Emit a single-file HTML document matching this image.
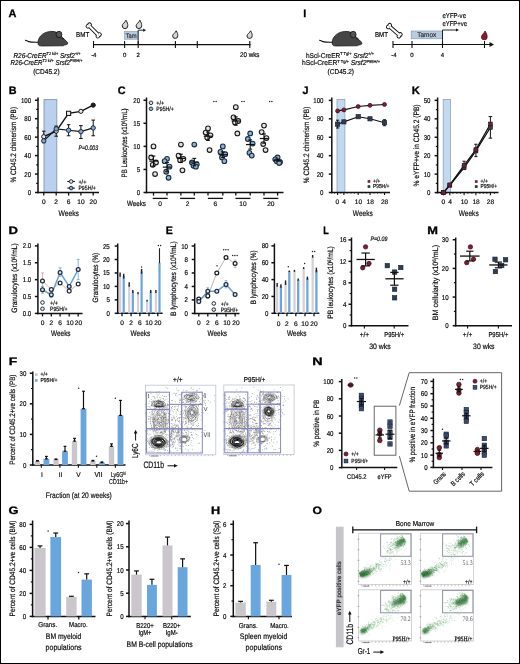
<!DOCTYPE html>
<html><head><meta charset="utf-8"><style>
html,body{margin:0;padding:0;background:#fff;}
svg{display:block;will-change:transform;font-family:"Liberation Sans", sans-serif;text-rendering:geometricPrecision;}
</style></head><body>
<svg width="520" height="664" viewBox="0 0 520 664">
<rect x="0" y="0" width="520" height="664" fill="#fff"/>
<text x="8.50" y="17.00" font-size="10.8" stroke="#000" stroke-width="0.3" fill="#000" font-weight="bold" textLength="7.90" lengthAdjust="spacingAndGlyphs">A</text>
<g transform="translate(24.60 30.60) scale(1.0)"><path d="M0.4,9.6 C1.5,9.4 2.5,10.6 4,11.0 C7,11.8 10,11.6 14.5,11.6" fill="none" stroke="#111" stroke-width="1.1"/><path d="M13.5,13.5 C12.5,8 17,1.5 26,0.8 C31,0.5 34.5,2.5 36.5,5.5 C38.5,7.5 42,10.5 43.2,12.5 C43.5,13.6 42,14.3 40,14.4 L38.5,15.2 L17,15.4 C15,15.4 13.6,14.8 13.5,13.5 Z" fill="#454545" stroke="#111" stroke-width="0.7"/><ellipse cx="34.4" cy="3.9" rx="2.9" ry="3.2" fill="#555" stroke="#111" stroke-width="0.8"/><circle cx="38.3" cy="8.2" r="0.8" fill="#111"/></g>
<text x="47.00" y="57.50" font-size="7.13" stroke="#1a1a1a" stroke-width="0.2" text-anchor="middle" textLength="67.00" lengthAdjust="spacingAndGlyphs"><tspan font-style="italic">R26-CreER</tspan><tspan font-size="4.3" dy="-2.6">T2 ki/+</tspan><tspan dy="2.6"> </tspan><tspan font-style="italic">Srsf2</tspan><tspan font-size="4.3" dy="-2.6">+/+</tspan></text>
<text x="46.50" y="65.00" font-size="7.13" stroke="#1a1a1a" stroke-width="0.2" text-anchor="middle" textLength="72.00" lengthAdjust="spacingAndGlyphs"><tspan font-style="italic">R26-CreER</tspan><tspan font-size="4.3" dy="-2.6">T2 ki/+</tspan><tspan dy="2.6"> </tspan><tspan font-style="italic">Srsf2</tspan><tspan font-size="4.3" dy="-2.6">P95H/+</tspan></text>
<text x="46.40" y="73.60" font-size="7.13" stroke="#1a1a1a" stroke-width="0.2" text-anchor="middle" textLength="26.50" lengthAdjust="spacingAndGlyphs">(CD45.2)</text>
<text x="76.00" y="37.00" font-size="7.13" stroke="#1a1a1a" stroke-width="0.2" textLength="13.20" lengthAdjust="spacingAndGlyphs">BMT</text>
<g transform="translate(93.70 30.40) rotate(45) scale(0.87)"><g fill="#111" stroke="#111" stroke-width="2.1"><rect x="-7" y="-1.25" width="14" height="2.5"/><circle cx="8.1" cy="-1.35" r="1.55"/><circle cx="8.1" cy="1.35" r="1.55"/><circle cx="-8.1" cy="-1.35" r="1.55"/><circle cx="-8.1" cy="1.35" r="1.55"/></g><g fill="#fff"><rect x="-7" y="-1.25" width="14" height="2.5"/><circle cx="8.1" cy="-1.35" r="1.55"/><circle cx="8.1" cy="1.35" r="1.55"/><circle cx="-8.1" cy="-1.35" r="1.55"/><circle cx="-8.1" cy="1.35" r="1.55"/></g></g>
<line x1="93.50" y1="44.60" x2="250.50" y2="44.60" stroke="#111" stroke-width="1.1"/>
<line x1="93.50" y1="41.00" x2="93.50" y2="48.00" stroke="#111" stroke-width="1.1"/>
<line x1="124.60" y1="41.00" x2="124.60" y2="48.00" stroke="#111" stroke-width="1.1"/>
<line x1="138.20" y1="41.00" x2="138.20" y2="48.00" stroke="#111" stroke-width="1.1"/>
<line x1="175.40" y1="41.00" x2="175.40" y2="48.00" stroke="#111" stroke-width="1.1"/>
<line x1="197.30" y1="41.00" x2="197.30" y2="48.00" stroke="#111" stroke-width="1.1"/>
<line x1="249.80" y1="41.00" x2="249.80" y2="48.00" stroke="#111" stroke-width="1.1"/>
<text x="93.80" y="56.80" font-size="6" stroke="#1a1a1a" stroke-width="0.2" text-anchor="middle">-4</text>
<text x="124.60" y="56.80" font-size="6" stroke="#1a1a1a" stroke-width="0.2" text-anchor="middle">0</text>
<text x="138.20" y="56.80" font-size="6" stroke="#1a1a1a" stroke-width="0.2" text-anchor="middle">2</text>
<text x="240.00" y="57.20" font-size="6.9" stroke="#1a1a1a" stroke-width="0.2" textLength="19.50" lengthAdjust="spacingAndGlyphs">20 wks</text>
<rect x="124.60" y="31.60" width="13.20" height="7.60" fill="#b9cbe0" stroke="#7b93b0" stroke-width="0.6"/>
<text x="131.20" y="37.60" font-size="6.44" stroke="#333" stroke-width="0.2" text-anchor="middle" fill="#333" textLength="11.00" lengthAdjust="spacingAndGlyphs">Tam</text>
<path d="M138.2,44.6 L138.2,30.2 L143.5,30.2" fill="none" stroke="#111" stroke-width="0.9"/>
<path d="M143.2,28.6 L146,30.2 L143.2,31.8 Z" fill="#111"/>
<path d="M126.00,20.20 C127.40,22.72 127.80,23.73 127.80,25.80 A2.80,2.80 0 0 1 122.20,25.80 C122.20,23.98 124.88,22.72 126.00,20.20 Z" fill="#d6d6d6" stroke="#1a1a1a" stroke-width="0.95"/>
<path d="M139.90,20.20 C141.30,22.72 141.70,23.73 141.70,25.80 A2.80,2.80 0 0 1 136.10,25.80 C136.10,23.98 138.78,22.72 139.90,20.20 Z" fill="#d6d6d6" stroke="#1a1a1a" stroke-width="0.95"/>
<path d="M176.20,30.80 C177.50,33.08 177.80,33.99 177.80,35.80 A2.60,2.60 0 0 1 172.60,35.80 C172.60,34.22 175.16,33.08 176.20,30.80 Z" fill="#d6d6d6" stroke="#1a1a1a" stroke-width="0.95"/>
<path d="M250.60,30.80 C251.90,33.08 252.20,33.99 252.20,35.80 A2.60,2.60 0 0 1 247.00,35.80 C247.00,34.22 249.56,33.08 250.60,30.80 Z" fill="#d6d6d6" stroke="#1a1a1a" stroke-width="0.95"/>
<text x="303.20" y="17.20" font-size="10.8" stroke="#000" stroke-width="0.3" fill="#000" font-weight="bold">I</text>
<g transform="translate(318.80 30.60) scale(1.0)"><path d="M0.4,9.6 C1.5,9.4 2.5,10.6 4,11.0 C7,11.8 10,11.6 14.5,11.6" fill="none" stroke="#111" stroke-width="1.1"/><path d="M13.5,13.5 C12.5,8 17,1.5 26,0.8 C31,0.5 34.5,2.5 36.5,5.5 C38.5,7.5 42,10.5 43.2,12.5 C43.5,13.6 42,14.3 40,14.4 L38.5,15.2 L17,15.4 C15,15.4 13.6,14.8 13.5,13.5 Z" fill="#454545" stroke="#111" stroke-width="0.7"/><ellipse cx="34.4" cy="3.9" rx="2.9" ry="3.2" fill="#555" stroke="#111" stroke-width="0.8"/><circle cx="38.3" cy="8.2" r="0.8" fill="#111"/></g>
<text x="340.00" y="57.80" font-size="7.13" stroke="#1a1a1a" stroke-width="0.2" text-anchor="middle" textLength="68.00" lengthAdjust="spacingAndGlyphs">hScl-CreER<tspan font-size="4.3" dy="-2.6">T Tg/+</tspan><tspan dy="2.6"> </tspan><tspan font-style="italic">Srsf2</tspan><tspan font-size="4.3" dy="-2.6">+/+</tspan></text>
<text x="341.00" y="65.30" font-size="7.13" stroke="#1a1a1a" stroke-width="0.2" text-anchor="middle" textLength="78.00" lengthAdjust="spacingAndGlyphs">hScl-CreER<tspan font-size="4.3" dy="-2.6">T Tg/+</tspan><tspan dy="2.6"> </tspan><tspan font-style="italic">Srsf2</tspan><tspan font-size="4.3" dy="-2.6">P95H/+</tspan></text>
<text x="340.80" y="74.00" font-size="7.13" stroke="#1a1a1a" stroke-width="0.2" text-anchor="middle" textLength="26.50" lengthAdjust="spacingAndGlyphs">(CD45.2)</text>
<text x="375.00" y="37.00" font-size="7.13" stroke="#1a1a1a" stroke-width="0.2" textLength="13.00" lengthAdjust="spacingAndGlyphs">BMT</text>
<g transform="translate(394.30 30.70) rotate(41) scale(0.87)"><g fill="#111" stroke="#111" stroke-width="2.1"><rect x="-7" y="-1.25" width="14" height="2.5"/><circle cx="8.1" cy="-1.35" r="1.55"/><circle cx="8.1" cy="1.35" r="1.55"/><circle cx="-8.1" cy="-1.35" r="1.55"/><circle cx="-8.1" cy="1.35" r="1.55"/></g><g fill="#fff"><rect x="-7" y="-1.25" width="14" height="2.5"/><circle cx="8.1" cy="-1.35" r="1.55"/><circle cx="8.1" cy="1.35" r="1.55"/><circle cx="-8.1" cy="-1.35" r="1.55"/><circle cx="-8.1" cy="1.35" r="1.55"/></g></g>
<line x1="393.00" y1="44.50" x2="491.00" y2="44.50" stroke="#111" stroke-width="1.1"/>
<path d="M489.5,42 L494,44.5 L489.5,47 Z" fill="#111"/>
<line x1="393.00" y1="41.00" x2="393.00" y2="48.00" stroke="#111" stroke-width="1.1"/>
<line x1="412.00" y1="41.00" x2="412.00" y2="48.00" stroke="#111" stroke-width="1.1"/>
<line x1="442.50" y1="41.00" x2="442.50" y2="48.00" stroke="#111" stroke-width="1.1"/>
<line x1="484.50" y1="41.00" x2="484.50" y2="48.00" stroke="#111" stroke-width="1.1"/>
<text x="394.00" y="56.80" font-size="6" stroke="#1a1a1a" stroke-width="0.2" text-anchor="middle">-4</text>
<text x="412.00" y="56.80" font-size="6" stroke="#1a1a1a" stroke-width="0.2" text-anchor="middle">0</text>
<text x="442.50" y="56.80" font-size="6" stroke="#1a1a1a" stroke-width="0.2" text-anchor="middle">4</text>
<rect x="411.20" y="31.00" width="31.30" height="7.80" fill="#b9cbe0" stroke="#7b93b0" stroke-width="0.6"/>
<text x="426.80" y="37.20" font-size="6.9" stroke="#333" stroke-width="0.2" text-anchor="middle" fill="#333" textLength="19.00" lengthAdjust="spacingAndGlyphs">Tamox</text>
<path d="M442.5,44.5 L442.5,30 L456.5,30" fill="none" stroke="#111" stroke-width="0.9"/>
<path d="M456,28.4 L459,30 L456,31.6 Z" fill="#111"/>
<text x="442.50" y="18.20" font-size="7.13" stroke="#1a1a1a" stroke-width="0.2" textLength="23.50" lengthAdjust="spacingAndGlyphs">eYFP-ve</text>
<text x="442.50" y="25.80" font-size="7.13" stroke="#1a1a1a" stroke-width="0.2" textLength="24.50" lengthAdjust="spacingAndGlyphs">eYFP+ve</text>
<path d="M485.10,31.00 C486.55,33.64 487.20,34.70 487.20,36.90 A2.90,2.90 0 0 1 481.40,36.90 C481.40,34.96 483.94,33.64 485.10,31.00 Z" fill="#8b1a2b" stroke="#3a0810" stroke-width="0.7"/>
<text x="8.80" y="94.00" font-size="10.8" stroke="#000" stroke-width="0.3" fill="#000" font-weight="bold" textLength="7.80" lengthAdjust="spacingAndGlyphs">B</text>
<rect x="44.00" y="99.60" width="12.80" height="92.90" fill="#bad0ee" stroke="#8496ad" stroke-width="0.9"/>
<line x1="38.00" y1="97.50" x2="38.00" y2="193.25" stroke="#111" stroke-width="1.5"/>
<line x1="35.00" y1="192.50" x2="38.00" y2="192.50" stroke="#111" stroke-width="1.5"/>
<text x="31.20" y="195.02" font-size="7.0" stroke="#1a1a1a" stroke-width="0.2" text-anchor="end" textLength="3.42" lengthAdjust="spacingAndGlyphs">0</text>
<line x1="35.00" y1="174.05" x2="38.00" y2="174.05" stroke="#111" stroke-width="1.5"/>
<text x="31.20" y="176.57" font-size="7.0" stroke="#1a1a1a" stroke-width="0.2" text-anchor="end" textLength="6.85" lengthAdjust="spacingAndGlyphs">20</text>
<line x1="35.00" y1="155.60" x2="38.00" y2="155.60" stroke="#111" stroke-width="1.5"/>
<text x="31.20" y="158.12" font-size="7.0" stroke="#1a1a1a" stroke-width="0.2" text-anchor="end" textLength="6.85" lengthAdjust="spacingAndGlyphs">40</text>
<line x1="35.00" y1="137.15" x2="38.00" y2="137.15" stroke="#111" stroke-width="1.5"/>
<text x="31.20" y="139.67" font-size="7.0" stroke="#1a1a1a" stroke-width="0.2" text-anchor="end" textLength="6.85" lengthAdjust="spacingAndGlyphs">60</text>
<line x1="35.00" y1="118.70" x2="38.00" y2="118.70" stroke="#111" stroke-width="1.5"/>
<text x="31.20" y="121.22" font-size="7.0" stroke="#1a1a1a" stroke-width="0.2" text-anchor="end" textLength="6.85" lengthAdjust="spacingAndGlyphs">80</text>
<line x1="35.00" y1="100.25" x2="38.00" y2="100.25" stroke="#111" stroke-width="1.5"/>
<text x="31.20" y="102.77" font-size="7.0" stroke="#1a1a1a" stroke-width="0.2" text-anchor="end" textLength="10.27" lengthAdjust="spacingAndGlyphs">100</text>
<line x1="36.20" y1="183.28" x2="38.00" y2="183.28" stroke="#111" stroke-width="1.2000000000000002"/>
<line x1="36.20" y1="164.82" x2="38.00" y2="164.82" stroke="#111" stroke-width="1.2000000000000002"/>
<line x1="36.20" y1="146.38" x2="38.00" y2="146.38" stroke="#111" stroke-width="1.2000000000000002"/>
<line x1="36.20" y1="127.92" x2="38.00" y2="127.92" stroke="#111" stroke-width="1.2000000000000002"/>
<line x1="36.20" y1="109.47" x2="38.00" y2="109.47" stroke="#111" stroke-width="1.2000000000000002"/>
<line x1="37.25" y1="192.50" x2="99.00" y2="192.50" stroke="#111" stroke-width="1.5"/>
<line x1="43.75" y1="192.50" x2="43.75" y2="195.60" stroke="#111" stroke-width="1.3"/>
<text x="43.75" y="204.20" font-size="6.6" stroke="#1a1a1a" stroke-width="0.2" text-anchor="middle">0</text>
<line x1="56.20" y1="192.50" x2="56.20" y2="195.60" stroke="#111" stroke-width="1.3"/>
<text x="56.20" y="204.20" font-size="6.6" stroke="#1a1a1a" stroke-width="0.2" text-anchor="middle">2</text>
<line x1="68.60" y1="192.50" x2="68.60" y2="195.60" stroke="#111" stroke-width="1.3"/>
<text x="68.60" y="204.20" font-size="6.6" stroke="#1a1a1a" stroke-width="0.2" text-anchor="middle">6</text>
<line x1="80.90" y1="192.50" x2="80.90" y2="195.60" stroke="#111" stroke-width="1.3"/>
<text x="80.90" y="204.20" font-size="6.6" stroke="#1a1a1a" stroke-width="0.2" text-anchor="middle">10</text>
<line x1="93.20" y1="192.50" x2="93.20" y2="195.60" stroke="#111" stroke-width="1.3"/>
<text x="93.20" y="204.20" font-size="6.6" stroke="#1a1a1a" stroke-width="0.2" text-anchor="middle">20</text>
<text x="68.70" y="216.00" font-size="8.05" stroke="#1a1a1a" stroke-width="0.2" text-anchor="middle" textLength="20.50" lengthAdjust="spacingAndGlyphs">Weeks</text>
<text x="16.20" y="144.75" font-size="7.82" stroke="#1a1a1a" stroke-width="0.2" text-anchor="middle" textLength="75.70" lengthAdjust="spacingAndGlyphs" transform="rotate(-90 16.20 144.75)">% CD45.2 chimerism (PB)</text>
<line x1="43.75" y1="131.15" x2="43.75" y2="142.69" stroke="#111" stroke-width="1"/>
<line x1="41.95" y1="131.15" x2="45.55" y2="131.15" stroke="#111" stroke-width="1"/>
<line x1="41.95" y1="142.69" x2="45.55" y2="142.69" stroke="#111" stroke-width="1"/>
<line x1="56.20" y1="126.08" x2="56.20" y2="136.23" stroke="#111" stroke-width="1"/>
<line x1="54.40" y1="126.08" x2="58.00" y2="126.08" stroke="#111" stroke-width="1"/>
<line x1="54.40" y1="136.23" x2="58.00" y2="136.23" stroke="#111" stroke-width="1"/>
<line x1="68.60" y1="124.70" x2="68.60" y2="135.77" stroke="#111" stroke-width="1"/>
<line x1="66.80" y1="124.70" x2="70.40" y2="124.70" stroke="#111" stroke-width="1"/>
<line x1="66.80" y1="135.77" x2="70.40" y2="135.77" stroke="#111" stroke-width="1"/>
<line x1="80.90" y1="125.62" x2="80.90" y2="138.53" stroke="#111" stroke-width="1"/>
<line x1="79.10" y1="125.62" x2="82.70" y2="125.62" stroke="#111" stroke-width="1"/>
<line x1="79.10" y1="138.53" x2="82.70" y2="138.53" stroke="#111" stroke-width="1"/>
<line x1="93.20" y1="120.08" x2="93.20" y2="135.77" stroke="#111" stroke-width="1"/>
<line x1="91.40" y1="120.08" x2="95.00" y2="120.08" stroke="#111" stroke-width="1"/>
<line x1="91.40" y1="135.77" x2="95.00" y2="135.77" stroke="#111" stroke-width="1"/>
<polyline points="43.75,140.84 56.20,128.85 68.60,130.23 80.90,131.62 93.20,127.92" fill="none" stroke="#111" stroke-width="1.2"/>
<polyline points="43.75,136.69 56.20,131.15 68.60,113.35 80.90,111.32 93.20,105.14" fill="none" stroke="#111" stroke-width="1.4"/>
<circle cx="43.75" cy="136.69" r="2.10" fill="#e8e8e8" stroke="#111" stroke-width="1.0"/>
<circle cx="56.20" cy="131.15" r="2.10" fill="#e8e8e8" stroke="#111" stroke-width="1.0"/>
<rect x="66.50" y="111.25" width="4.20" height="4.20" fill="#e8e8e8" stroke="#111" stroke-width="1.0"/>
<circle cx="80.90" cy="111.32" r="2.10" fill="#e8e8e8" stroke="#111" stroke-width="1.0"/>
<circle cx="93.20" cy="105.14" r="2.10" fill="#222" stroke="#111" stroke-width="1.0"/>
<circle cx="43.75" cy="140.84" r="2.20" fill="#7ea8d2" stroke="#1d2c3e" stroke-width="1.0"/>
<circle cx="56.20" cy="128.85" r="2.20" fill="#7ea8d2" stroke="#1d2c3e" stroke-width="1.0"/>
<circle cx="68.60" cy="130.23" r="2.20" fill="#7ea8d2" stroke="#1d2c3e" stroke-width="1.0"/>
<circle cx="80.90" cy="131.62" r="2.20" fill="#7ea8d2" stroke="#1d2c3e" stroke-width="1.0"/>
<circle cx="93.20" cy="127.92" r="2.20" fill="#7ea8d2" stroke="#1d2c3e" stroke-width="1.0"/>
<text x="78.60" y="150.20" font-size="6.67" stroke="#1a1a1a" stroke-width="0.2" font-style="italic" textLength="19.50" lengthAdjust="spacingAndGlyphs">P=0.003</text>
<line x1="67.30" y1="181.50" x2="74.90" y2="181.50" stroke="#111" stroke-width="1.1"/>
<circle cx="71.10" cy="181.50" r="1.80" fill="#e8e8e8" stroke="#1d2c3e" stroke-width="1.0"/>
<line x1="67.30" y1="188.10" x2="74.90" y2="188.10" stroke="#111" stroke-width="1.1"/>
<circle cx="71.10" cy="188.10" r="1.80" fill="#7ea8d2" stroke="#1d2c3e" stroke-width="1.0"/>
<text x="78.40" y="183.50" font-size="6.09" stroke="#1a1a1a" stroke-width="0.2" textLength="8.00" lengthAdjust="spacingAndGlyphs">+/+</text>
<text x="78.40" y="190.10" font-size="6.09" stroke="#1a1a1a" stroke-width="0.2" textLength="17.50" lengthAdjust="spacingAndGlyphs">P95H/+</text>
<text x="117.70" y="94.00" font-size="10.8" stroke="#000" stroke-width="0.3" fill="#000" font-weight="bold" textLength="7.80" lengthAdjust="spacingAndGlyphs">C</text>
<line x1="146.50" y1="97.50" x2="146.50" y2="193.25" stroke="#111" stroke-width="1.5"/>
<line x1="143.50" y1="192.50" x2="146.50" y2="192.50" stroke="#111" stroke-width="1.5"/>
<text x="140.10" y="195.02" font-size="7.0" stroke="#1a1a1a" stroke-width="0.2" text-anchor="end" textLength="3.42" lengthAdjust="spacingAndGlyphs">0</text>
<line x1="143.50" y1="169.44" x2="146.50" y2="169.44" stroke="#111" stroke-width="1.5"/>
<text x="140.10" y="171.96" font-size="7.0" stroke="#1a1a1a" stroke-width="0.2" text-anchor="end" textLength="3.42" lengthAdjust="spacingAndGlyphs">5</text>
<line x1="143.50" y1="146.38" x2="146.50" y2="146.38" stroke="#111" stroke-width="1.5"/>
<text x="140.10" y="148.90" font-size="7.0" stroke="#1a1a1a" stroke-width="0.2" text-anchor="end" textLength="6.85" lengthAdjust="spacingAndGlyphs">10</text>
<line x1="143.50" y1="123.31" x2="146.50" y2="123.31" stroke="#111" stroke-width="1.5"/>
<text x="140.10" y="125.83" font-size="7.0" stroke="#1a1a1a" stroke-width="0.2" text-anchor="end" textLength="6.85" lengthAdjust="spacingAndGlyphs">15</text>
<line x1="143.50" y1="100.25" x2="146.50" y2="100.25" stroke="#111" stroke-width="1.5"/>
<text x="140.10" y="102.77" font-size="7.0" stroke="#1a1a1a" stroke-width="0.2" text-anchor="end" textLength="6.85" lengthAdjust="spacingAndGlyphs">20</text>
<line x1="145.75" y1="192.50" x2="283.50" y2="192.50" stroke="#111" stroke-width="1.5"/>
<text x="127.30" y="142.90" font-size="7.82" stroke="#1a1a1a" stroke-width="0.2" text-anchor="middle" textLength="69.00" lengthAdjust="spacingAndGlyphs" transform="rotate(-90 127.30 142.90)">PB Leukocytes (x10<tspan font-size="5.0" dy="-2.4">6</tspan><tspan dy="2.4">/mL)</tspan></text>
<line x1="153.50" y1="192.50" x2="153.50" y2="195.60" stroke="#111" stroke-width="1.3"/>
<circle cx="153.50" cy="146.38" r="2.35" fill="#e4e4e4" stroke="#1a1a1a" stroke-width="1.1"/>
<circle cx="151.16" cy="157.44" r="2.35" fill="#e4e4e4" stroke="#1a1a1a" stroke-width="1.1"/>
<circle cx="155.97" cy="162.52" r="2.35" fill="#e4e4e4" stroke="#1a1a1a" stroke-width="1.1"/>
<circle cx="152.72" cy="164.82" r="2.35" fill="#e4e4e4" stroke="#1a1a1a" stroke-width="1.1"/>
<circle cx="155.06" cy="174.05" r="2.35" fill="#e4e4e4" stroke="#1a1a1a" stroke-width="1.1"/>
<line x1="149.30" y1="161.13" x2="157.70" y2="161.13" stroke="#111" stroke-width="1.2"/>
<line x1="153.50" y1="156.06" x2="153.50" y2="166.21" stroke="#111" stroke-width="1.1"/>
<line x1="151.60" y1="156.06" x2="155.40" y2="156.06" stroke="#111" stroke-width="1.1"/>
<line x1="151.60" y1="166.21" x2="155.40" y2="166.21" stroke="#111" stroke-width="1.1"/>
<line x1="167.00" y1="192.50" x2="167.00" y2="195.60" stroke="#111" stroke-width="1.3"/>
<circle cx="167.00" cy="158.83" r="2.35" fill="#8ab2d8" stroke="#1d2c3e" stroke-width="1.1"/>
<circle cx="164.66" cy="161.13" r="2.35" fill="#8ab2d8" stroke="#1d2c3e" stroke-width="1.1"/>
<circle cx="169.47" cy="166.67" r="2.35" fill="#8ab2d8" stroke="#1d2c3e" stroke-width="1.1"/>
<circle cx="166.22" cy="171.74" r="2.35" fill="#8ab2d8" stroke="#1d2c3e" stroke-width="1.1"/>
<circle cx="168.56" cy="177.74" r="2.35" fill="#8ab2d8" stroke="#1d2c3e" stroke-width="1.1"/>
<line x1="162.80" y1="167.13" x2="171.20" y2="167.13" stroke="#111" stroke-width="1.2"/>
<line x1="167.00" y1="162.52" x2="167.00" y2="171.74" stroke="#111" stroke-width="1.1"/>
<line x1="165.10" y1="162.52" x2="168.90" y2="162.52" stroke="#111" stroke-width="1.1"/>
<line x1="165.10" y1="171.74" x2="168.90" y2="171.74" stroke="#111" stroke-width="1.1"/>
<line x1="180.90" y1="192.50" x2="180.90" y2="195.60" stroke="#111" stroke-width="1.3"/>
<circle cx="180.90" cy="144.53" r="2.35" fill="#e4e4e4" stroke="#1a1a1a" stroke-width="1.1"/>
<circle cx="178.56" cy="155.60" r="2.35" fill="#e4e4e4" stroke="#1a1a1a" stroke-width="1.1"/>
<circle cx="183.37" cy="158.83" r="2.35" fill="#e4e4e4" stroke="#1a1a1a" stroke-width="1.1"/>
<circle cx="180.12" cy="160.21" r="2.35" fill="#e4e4e4" stroke="#1a1a1a" stroke-width="1.1"/>
<circle cx="182.46" cy="170.36" r="2.35" fill="#e4e4e4" stroke="#1a1a1a" stroke-width="1.1"/>
<line x1="176.70" y1="158.37" x2="185.10" y2="158.37" stroke="#111" stroke-width="1.2"/>
<line x1="180.90" y1="154.22" x2="180.90" y2="162.52" stroke="#111" stroke-width="1.1"/>
<line x1="179.00" y1="154.22" x2="182.80" y2="154.22" stroke="#111" stroke-width="1.1"/>
<line x1="179.00" y1="162.52" x2="182.80" y2="162.52" stroke="#111" stroke-width="1.1"/>
<line x1="194.30" y1="192.50" x2="194.30" y2="195.60" stroke="#111" stroke-width="1.3"/>
<circle cx="194.30" cy="144.53" r="2.35" fill="#8ab2d8" stroke="#1d2c3e" stroke-width="1.1"/>
<circle cx="191.96" cy="162.52" r="2.35" fill="#8ab2d8" stroke="#1d2c3e" stroke-width="1.1"/>
<circle cx="196.77" cy="164.36" r="2.35" fill="#8ab2d8" stroke="#1d2c3e" stroke-width="1.1"/>
<circle cx="193.52" cy="165.75" r="2.35" fill="#8ab2d8" stroke="#1d2c3e" stroke-width="1.1"/>
<circle cx="195.86" cy="166.67" r="2.35" fill="#8ab2d8" stroke="#1d2c3e" stroke-width="1.1"/>
<line x1="190.10" y1="162.06" x2="198.50" y2="162.06" stroke="#111" stroke-width="1.2"/>
<line x1="194.30" y1="158.37" x2="194.30" y2="165.75" stroke="#111" stroke-width="1.1"/>
<line x1="192.40" y1="158.37" x2="196.20" y2="158.37" stroke="#111" stroke-width="1.1"/>
<line x1="192.40" y1="165.75" x2="196.20" y2="165.75" stroke="#111" stroke-width="1.1"/>
<line x1="208.00" y1="192.50" x2="208.00" y2="195.60" stroke="#111" stroke-width="1.3"/>
<circle cx="208.00" cy="128.39" r="2.35" fill="#e4e4e4" stroke="#1a1a1a" stroke-width="1.1"/>
<circle cx="205.66" cy="132.54" r="2.35" fill="#e4e4e4" stroke="#1a1a1a" stroke-width="1.1"/>
<circle cx="210.47" cy="135.31" r="2.35" fill="#e4e4e4" stroke="#1a1a1a" stroke-width="1.1"/>
<circle cx="207.22" cy="137.61" r="2.35" fill="#e4e4e4" stroke="#1a1a1a" stroke-width="1.1"/>
<circle cx="209.56" cy="150.06" r="2.35" fill="#e4e4e4" stroke="#1a1a1a" stroke-width="1.1"/>
<line x1="203.80" y1="136.23" x2="212.20" y2="136.23" stroke="#111" stroke-width="1.2"/>
<line x1="208.00" y1="132.08" x2="208.00" y2="140.38" stroke="#111" stroke-width="1.1"/>
<line x1="206.10" y1="132.08" x2="209.90" y2="132.08" stroke="#111" stroke-width="1.1"/>
<line x1="206.10" y1="140.38" x2="209.90" y2="140.38" stroke="#111" stroke-width="1.1"/>
<line x1="222.80" y1="192.50" x2="222.80" y2="195.60" stroke="#111" stroke-width="1.3"/>
<circle cx="222.80" cy="146.38" r="2.35" fill="#8ab2d8" stroke="#1d2c3e" stroke-width="1.1"/>
<circle cx="220.46" cy="151.91" r="2.35" fill="#8ab2d8" stroke="#1d2c3e" stroke-width="1.1"/>
<circle cx="225.27" cy="154.22" r="2.35" fill="#8ab2d8" stroke="#1d2c3e" stroke-width="1.1"/>
<circle cx="222.02" cy="157.44" r="2.35" fill="#8ab2d8" stroke="#1d2c3e" stroke-width="1.1"/>
<circle cx="224.36" cy="161.13" r="2.35" fill="#8ab2d8" stroke="#1d2c3e" stroke-width="1.1"/>
<line x1="218.60" y1="154.68" x2="227.00" y2="154.68" stroke="#111" stroke-width="1.2"/>
<line x1="222.80" y1="151.91" x2="222.80" y2="157.44" stroke="#111" stroke-width="1.1"/>
<line x1="220.90" y1="151.91" x2="224.70" y2="151.91" stroke="#111" stroke-width="1.1"/>
<line x1="220.90" y1="157.44" x2="224.70" y2="157.44" stroke="#111" stroke-width="1.1"/>
<line x1="235.80" y1="192.50" x2="235.80" y2="195.60" stroke="#111" stroke-width="1.3"/>
<circle cx="235.80" cy="107.17" r="2.35" fill="#e4e4e4" stroke="#1a1a1a" stroke-width="1.1"/>
<circle cx="233.46" cy="117.32" r="2.35" fill="#e4e4e4" stroke="#1a1a1a" stroke-width="1.1"/>
<circle cx="238.27" cy="121.01" r="2.35" fill="#e4e4e4" stroke="#1a1a1a" stroke-width="1.1"/>
<circle cx="235.02" cy="122.39" r="2.35" fill="#e4e4e4" stroke="#1a1a1a" stroke-width="1.1"/>
<circle cx="237.36" cy="133.46" r="2.35" fill="#e4e4e4" stroke="#1a1a1a" stroke-width="1.1"/>
<line x1="231.60" y1="121.01" x2="240.00" y2="121.01" stroke="#111" stroke-width="1.2"/>
<line x1="235.80" y1="116.86" x2="235.80" y2="125.16" stroke="#111" stroke-width="1.1"/>
<line x1="233.90" y1="116.86" x2="237.70" y2="116.86" stroke="#111" stroke-width="1.1"/>
<line x1="233.90" y1="125.16" x2="237.70" y2="125.16" stroke="#111" stroke-width="1.1"/>
<line x1="250.20" y1="192.50" x2="250.20" y2="195.60" stroke="#111" stroke-width="1.3"/>
<circle cx="250.20" cy="133.46" r="2.35" fill="#8ab2d8" stroke="#1d2c3e" stroke-width="1.1"/>
<circle cx="247.86" cy="139.00" r="2.35" fill="#8ab2d8" stroke="#1d2c3e" stroke-width="1.1"/>
<circle cx="252.67" cy="143.61" r="2.35" fill="#8ab2d8" stroke="#1d2c3e" stroke-width="1.1"/>
<circle cx="249.42" cy="152.83" r="2.35" fill="#8ab2d8" stroke="#1d2c3e" stroke-width="1.1"/>
<circle cx="251.76" cy="155.60" r="2.35" fill="#8ab2d8" stroke="#1d2c3e" stroke-width="1.1"/>
<line x1="246.00" y1="144.53" x2="254.40" y2="144.53" stroke="#111" stroke-width="1.2"/>
<line x1="250.20" y1="139.92" x2="250.20" y2="149.14" stroke="#111" stroke-width="1.1"/>
<line x1="248.30" y1="139.92" x2="252.10" y2="139.92" stroke="#111" stroke-width="1.1"/>
<line x1="248.30" y1="149.14" x2="252.10" y2="149.14" stroke="#111" stroke-width="1.1"/>
<line x1="264.00" y1="192.50" x2="264.00" y2="195.60" stroke="#111" stroke-width="1.3"/>
<circle cx="264.00" cy="125.62" r="2.35" fill="#e4e4e4" stroke="#1a1a1a" stroke-width="1.1"/>
<circle cx="261.66" cy="132.08" r="2.35" fill="#e4e4e4" stroke="#1a1a1a" stroke-width="1.1"/>
<circle cx="266.47" cy="138.07" r="2.35" fill="#e4e4e4" stroke="#1a1a1a" stroke-width="1.1"/>
<circle cx="263.22" cy="144.07" r="2.35" fill="#e4e4e4" stroke="#1a1a1a" stroke-width="1.1"/>
<circle cx="265.56" cy="150.06" r="2.35" fill="#e4e4e4" stroke="#1a1a1a" stroke-width="1.1"/>
<line x1="259.80" y1="138.53" x2="268.20" y2="138.53" stroke="#111" stroke-width="1.2"/>
<line x1="264.00" y1="133.92" x2="264.00" y2="143.15" stroke="#111" stroke-width="1.1"/>
<line x1="262.10" y1="133.92" x2="265.90" y2="133.92" stroke="#111" stroke-width="1.1"/>
<line x1="262.10" y1="143.15" x2="265.90" y2="143.15" stroke="#111" stroke-width="1.1"/>
<line x1="277.60" y1="192.50" x2="277.60" y2="195.60" stroke="#111" stroke-width="1.3"/>
<circle cx="277.60" cy="157.44" r="2.35" fill="#8ab2d8" stroke="#1d2c3e" stroke-width="1.1"/>
<circle cx="275.26" cy="159.29" r="2.35" fill="#8ab2d8" stroke="#1d2c3e" stroke-width="1.1"/>
<circle cx="280.07" cy="162.06" r="2.35" fill="#8ab2d8" stroke="#1d2c3e" stroke-width="1.1"/>
<circle cx="276.82" cy="161.13" r="2.35" fill="#8ab2d8" stroke="#1d2c3e" stroke-width="1.1"/>
<circle cx="279.16" cy="162.98" r="2.35" fill="#8ab2d8" stroke="#1d2c3e" stroke-width="1.1"/>
<line x1="273.40" y1="160.21" x2="281.80" y2="160.21" stroke="#111" stroke-width="1.2"/>
<line x1="277.60" y1="159.29" x2="277.60" y2="161.13" stroke="#111" stroke-width="1.1"/>
<line x1="275.70" y1="159.29" x2="279.50" y2="159.29" stroke="#111" stroke-width="1.1"/>
<line x1="275.70" y1="161.13" x2="279.50" y2="161.13" stroke="#111" stroke-width="1.1"/>
<line x1="152.70" y1="198.40" x2="167.70" y2="198.40" stroke="#111" stroke-width="1.3"/>
<text x="160.20" y="206.00" font-size="6.6" stroke="#1a1a1a" stroke-width="0.2" text-anchor="middle">0</text>
<line x1="180.10" y1="198.40" x2="195.10" y2="198.40" stroke="#111" stroke-width="1.3"/>
<text x="187.60" y="206.00" font-size="6.6" stroke="#1a1a1a" stroke-width="0.2" text-anchor="middle">2</text>
<line x1="207.90" y1="198.40" x2="222.90" y2="198.40" stroke="#111" stroke-width="1.3"/>
<text x="215.40" y="206.00" font-size="6.6" stroke="#1a1a1a" stroke-width="0.2" text-anchor="middle">6</text>
<line x1="235.50" y1="198.40" x2="250.50" y2="198.40" stroke="#111" stroke-width="1.3"/>
<text x="243.00" y="206.00" font-size="6.6" stroke="#1a1a1a" stroke-width="0.2" text-anchor="middle">10</text>
<line x1="263.30" y1="198.40" x2="278.30" y2="198.40" stroke="#111" stroke-width="1.3"/>
<text x="270.80" y="206.00" font-size="6.6" stroke="#1a1a1a" stroke-width="0.2" text-anchor="middle">20</text>
<text x="127.00" y="206.00" font-size="7.47" stroke="#1a1a1a" stroke-width="0.2" textLength="19.00" lengthAdjust="spacingAndGlyphs">Weeks</text>
<circle cx="213.90" cy="101.60" r="0.75" fill="#222"/>
<circle cx="216.10" cy="101.60" r="0.75" fill="#222"/>
<circle cx="241.90" cy="101.60" r="0.75" fill="#222"/>
<circle cx="244.10" cy="101.60" r="0.75" fill="#222"/>
<circle cx="269.70" cy="101.60" r="0.75" fill="#222"/>
<circle cx="271.90" cy="101.60" r="0.75" fill="#222"/>
<circle cx="151.00" cy="102.80" r="1.80" fill="#e4e4e4" stroke="#1a1a1a" stroke-width="0.9"/>
<circle cx="151.00" cy="108.80" r="1.80" fill="#8ab2d8" stroke="#1d2c3e" stroke-width="0.9"/>
<text x="156.30" y="104.80" font-size="6.09" stroke="#1a1a1a" stroke-width="0.2" textLength="8.00" lengthAdjust="spacingAndGlyphs">+/+</text>
<text x="156.30" y="110.80" font-size="6.09" stroke="#1a1a1a" stroke-width="0.2" textLength="17.50" lengthAdjust="spacingAndGlyphs">P95H/+</text>
<text x="302.60" y="94.40" font-size="10.8" stroke="#000" stroke-width="0.3" fill="#000" font-weight="bold">J</text>
<rect x="337.00" y="99.40" width="7.90" height="93.10" fill="#c3d9f0" stroke="#8fa3b8" stroke-width="0.8"/>
<line x1="331.80" y1="97.50" x2="331.80" y2="193.25" stroke="#111" stroke-width="1.5"/>
<line x1="328.80" y1="192.50" x2="331.80" y2="192.50" stroke="#111" stroke-width="1.5"/>
<text x="323.50" y="195.02" font-size="7.0" stroke="#1a1a1a" stroke-width="0.2" text-anchor="end" textLength="3.42" lengthAdjust="spacingAndGlyphs">0</text>
<line x1="328.80" y1="174.08" x2="331.80" y2="174.08" stroke="#111" stroke-width="1.5"/>
<text x="323.50" y="176.60" font-size="7.0" stroke="#1a1a1a" stroke-width="0.2" text-anchor="end" textLength="6.85" lengthAdjust="spacingAndGlyphs">20</text>
<line x1="328.80" y1="155.66" x2="331.80" y2="155.66" stroke="#111" stroke-width="1.5"/>
<text x="323.50" y="158.18" font-size="7.0" stroke="#1a1a1a" stroke-width="0.2" text-anchor="end" textLength="6.85" lengthAdjust="spacingAndGlyphs">40</text>
<line x1="328.80" y1="137.24" x2="331.80" y2="137.24" stroke="#111" stroke-width="1.5"/>
<text x="323.50" y="139.76" font-size="7.0" stroke="#1a1a1a" stroke-width="0.2" text-anchor="end" textLength="6.85" lengthAdjust="spacingAndGlyphs">60</text>
<line x1="328.80" y1="118.82" x2="331.80" y2="118.82" stroke="#111" stroke-width="1.5"/>
<text x="323.50" y="121.34" font-size="7.0" stroke="#1a1a1a" stroke-width="0.2" text-anchor="end" textLength="6.85" lengthAdjust="spacingAndGlyphs">80</text>
<line x1="328.80" y1="100.40" x2="331.80" y2="100.40" stroke="#111" stroke-width="1.5"/>
<text x="323.50" y="102.92" font-size="7.0" stroke="#1a1a1a" stroke-width="0.2" text-anchor="end" textLength="10.27" lengthAdjust="spacingAndGlyphs">100</text>
<line x1="331.05" y1="192.50" x2="390.00" y2="192.50" stroke="#111" stroke-width="1.5"/>
<line x1="337.60" y1="192.50" x2="337.60" y2="195.00" stroke="#111" stroke-width="1.1"/>
<line x1="343.90" y1="192.50" x2="343.90" y2="195.00" stroke="#111" stroke-width="1.1"/>
<line x1="358.20" y1="192.50" x2="358.20" y2="195.00" stroke="#111" stroke-width="1.1"/>
<line x1="370.00" y1="192.50" x2="370.00" y2="195.00" stroke="#111" stroke-width="1.1"/>
<line x1="384.50" y1="192.50" x2="384.50" y2="195.00" stroke="#111" stroke-width="1.1"/>
<line x1="334.50" y1="192.50" x2="334.50" y2="193.60" stroke="#111" stroke-width="0.8"/>
<line x1="340.80" y1="192.50" x2="340.80" y2="193.60" stroke="#111" stroke-width="0.8"/>
<line x1="347.00" y1="192.50" x2="347.00" y2="193.60" stroke="#111" stroke-width="0.8"/>
<line x1="351.00" y1="192.50" x2="351.00" y2="193.60" stroke="#111" stroke-width="0.8"/>
<line x1="354.50" y1="192.50" x2="354.50" y2="193.60" stroke="#111" stroke-width="0.8"/>
<line x1="362.00" y1="192.50" x2="362.00" y2="193.60" stroke="#111" stroke-width="0.8"/>
<line x1="366.00" y1="192.50" x2="366.00" y2="193.60" stroke="#111" stroke-width="0.8"/>
<line x1="374.00" y1="192.50" x2="374.00" y2="193.60" stroke="#111" stroke-width="0.8"/>
<line x1="377.50" y1="192.50" x2="377.50" y2="193.60" stroke="#111" stroke-width="0.8"/>
<line x1="381.00" y1="192.50" x2="381.00" y2="193.60" stroke="#111" stroke-width="0.8"/>
<text x="337.40" y="204.40" font-size="6.6" stroke="#1a1a1a" stroke-width="0.2" text-anchor="middle">0</text>
<text x="344.20" y="204.40" font-size="6.6" stroke="#1a1a1a" stroke-width="0.2" text-anchor="middle">4</text>
<text x="358.40" y="204.40" font-size="6.6" stroke="#1a1a1a" stroke-width="0.2" text-anchor="middle">10</text>
<text x="370.20" y="204.40" font-size="6.6" stroke="#1a1a1a" stroke-width="0.2" text-anchor="middle">18</text>
<text x="384.60" y="204.40" font-size="6.6" stroke="#1a1a1a" stroke-width="0.2" text-anchor="middle">28</text>
<text x="362.80" y="215.70" font-size="8.05" stroke="#1a1a1a" stroke-width="0.2" text-anchor="middle" textLength="20.00" lengthAdjust="spacingAndGlyphs">Weeks</text>
<text x="309.50" y="144.90" font-size="7.82" stroke="#1a1a1a" stroke-width="0.2" text-anchor="middle" textLength="76.50" lengthAdjust="spacingAndGlyphs" transform="rotate(-90 309.50 144.90)">% CD45.2 chimerism (PB)</text>
<polyline points="337.60,110.90 343.90,109.89 358.20,106.57 370.00,105.37 384.50,104.45" fill="none" stroke="#111" stroke-width="1.1"/>
<polyline points="337.60,124.16 343.90,121.86 358.20,116.70 370.00,118.82 384.50,122.69" fill="none" stroke="#111" stroke-width="1.1"/>
<line x1="337.60" y1="120.20" x2="337.60" y2="128.03" stroke="#111" stroke-width="1"/>
<line x1="336.00" y1="120.20" x2="339.20" y2="120.20" stroke="#111" stroke-width="1"/>
<line x1="336.00" y1="128.03" x2="339.20" y2="128.03" stroke="#111" stroke-width="1"/>
<line x1="384.50" y1="119.74" x2="384.50" y2="125.73" stroke="#111" stroke-width="1"/>
<line x1="382.90" y1="119.74" x2="386.10" y2="119.74" stroke="#111" stroke-width="1"/>
<line x1="382.90" y1="125.73" x2="386.10" y2="125.73" stroke="#111" stroke-width="1"/>
<circle cx="337.60" cy="110.90" r="2.00" fill="#7d1f33" stroke="#3a0c15" stroke-width="0.7"/>
<circle cx="343.90" cy="109.89" r="2.00" fill="#7d1f33" stroke="#3a0c15" stroke-width="0.7"/>
<circle cx="358.20" cy="106.57" r="2.00" fill="#7d1f33" stroke="#3a0c15" stroke-width="0.7"/>
<circle cx="370.00" cy="105.37" r="2.00" fill="#7d1f33" stroke="#3a0c15" stroke-width="0.7"/>
<circle cx="384.50" cy="104.45" r="2.00" fill="#7d1f33" stroke="#3a0c15" stroke-width="0.7"/>
<rect x="335.50" y="122.06" width="4.20" height="4.20" fill="#2f3c52" stroke="#1a2230" stroke-width="0.7"/>
<rect x="341.80" y="119.76" width="4.20" height="4.20" fill="#2f3c52" stroke="#1a2230" stroke-width="0.7"/>
<rect x="356.10" y="114.60" width="4.20" height="4.20" fill="#2f3c52" stroke="#1a2230" stroke-width="0.7"/>
<rect x="367.90" y="116.72" width="4.20" height="4.20" fill="#2f3c52" stroke="#1a2230" stroke-width="0.7"/>
<rect x="382.40" y="120.59" width="4.20" height="4.20" fill="#2f3c52" stroke="#1a2230" stroke-width="0.7"/>
<rect x="367.60" y="180.10" width="2.70" height="2.70" fill="#7d1f33"/>
<rect x="367.60" y="185.20" width="2.70" height="2.70" fill="#2a3a40"/>
<text x="372.90" y="182.90" font-size="5.75" stroke="#1a1a1a" stroke-width="0.2" textLength="7.50" lengthAdjust="spacingAndGlyphs">+/+</text>
<text x="372.90" y="188.10" font-size="5.75" stroke="#1a1a1a" stroke-width="0.2" textLength="16.50" lengthAdjust="spacingAndGlyphs">P95H/+</text>
<text x="411.80" y="93.60" font-size="10.8" stroke="#000" stroke-width="0.3" fill="#000" font-weight="bold" textLength="8.10" lengthAdjust="spacingAndGlyphs">K</text>
<rect x="443.20" y="99.40" width="7.30" height="93.20" fill="#c3d9f0" stroke="#8fa3b8" stroke-width="0.8"/>
<line x1="437.60" y1="97.50" x2="437.60" y2="193.35" stroke="#111" stroke-width="1.5"/>
<line x1="434.60" y1="192.60" x2="437.60" y2="192.60" stroke="#111" stroke-width="1.5"/>
<text x="430.50" y="195.12" font-size="7.0" stroke="#1a1a1a" stroke-width="0.2" text-anchor="end" textLength="3.42" lengthAdjust="spacingAndGlyphs">0</text>
<line x1="434.60" y1="174.15" x2="437.60" y2="174.15" stroke="#111" stroke-width="1.5"/>
<text x="430.50" y="176.67" font-size="7.0" stroke="#1a1a1a" stroke-width="0.2" text-anchor="end" textLength="6.85" lengthAdjust="spacingAndGlyphs">10</text>
<line x1="434.60" y1="155.70" x2="437.60" y2="155.70" stroke="#111" stroke-width="1.5"/>
<text x="430.50" y="158.22" font-size="7.0" stroke="#1a1a1a" stroke-width="0.2" text-anchor="end" textLength="6.85" lengthAdjust="spacingAndGlyphs">20</text>
<line x1="434.60" y1="137.25" x2="437.60" y2="137.25" stroke="#111" stroke-width="1.5"/>
<text x="430.50" y="139.77" font-size="7.0" stroke="#1a1a1a" stroke-width="0.2" text-anchor="end" textLength="6.85" lengthAdjust="spacingAndGlyphs">30</text>
<line x1="434.60" y1="118.80" x2="437.60" y2="118.80" stroke="#111" stroke-width="1.5"/>
<text x="430.50" y="121.32" font-size="7.0" stroke="#1a1a1a" stroke-width="0.2" text-anchor="end" textLength="6.85" lengthAdjust="spacingAndGlyphs">40</text>
<line x1="434.60" y1="100.35" x2="437.60" y2="100.35" stroke="#111" stroke-width="1.5"/>
<text x="430.50" y="102.87" font-size="7.0" stroke="#1a1a1a" stroke-width="0.2" text-anchor="end" textLength="6.85" lengthAdjust="spacingAndGlyphs">50</text>
<line x1="435.80" y1="183.38" x2="437.60" y2="183.38" stroke="#111" stroke-width="1.2000000000000002"/>
<line x1="435.80" y1="164.92" x2="437.60" y2="164.92" stroke="#111" stroke-width="1.2000000000000002"/>
<line x1="435.80" y1="146.47" x2="437.60" y2="146.47" stroke="#111" stroke-width="1.2000000000000002"/>
<line x1="435.80" y1="128.02" x2="437.60" y2="128.02" stroke="#111" stroke-width="1.2000000000000002"/>
<line x1="435.80" y1="109.57" x2="437.60" y2="109.57" stroke="#111" stroke-width="1.2000000000000002"/>
<line x1="436.85" y1="192.60" x2="498.50" y2="192.60" stroke="#111" stroke-width="1.5"/>
<line x1="443.50" y1="192.60" x2="443.50" y2="195.30" stroke="#111" stroke-width="1.1"/>
<line x1="449.80" y1="192.60" x2="449.80" y2="195.30" stroke="#111" stroke-width="1.1"/>
<line x1="464.10" y1="192.60" x2="464.10" y2="195.30" stroke="#111" stroke-width="1.1"/>
<line x1="475.90" y1="192.60" x2="475.90" y2="195.30" stroke="#111" stroke-width="1.1"/>
<line x1="490.40" y1="192.60" x2="490.40" y2="195.30" stroke="#111" stroke-width="1.1"/>
<line x1="440.40" y1="192.60" x2="440.40" y2="193.90" stroke="#111" stroke-width="0.8"/>
<line x1="446.70" y1="192.60" x2="446.70" y2="193.90" stroke="#111" stroke-width="0.8"/>
<line x1="452.90" y1="192.60" x2="452.90" y2="193.90" stroke="#111" stroke-width="0.8"/>
<line x1="456.90" y1="192.60" x2="456.90" y2="193.90" stroke="#111" stroke-width="0.8"/>
<line x1="460.40" y1="192.60" x2="460.40" y2="193.90" stroke="#111" stroke-width="0.8"/>
<line x1="467.90" y1="192.60" x2="467.90" y2="193.90" stroke="#111" stroke-width="0.8"/>
<line x1="471.90" y1="192.60" x2="471.90" y2="193.90" stroke="#111" stroke-width="0.8"/>
<line x1="479.90" y1="192.60" x2="479.90" y2="193.90" stroke="#111" stroke-width="0.8"/>
<line x1="483.40" y1="192.60" x2="483.40" y2="193.90" stroke="#111" stroke-width="0.8"/>
<line x1="486.90" y1="192.60" x2="486.90" y2="193.90" stroke="#111" stroke-width="0.8"/>
<line x1="494.50" y1="192.60" x2="494.50" y2="193.90" stroke="#111" stroke-width="0.8"/>
<text x="443.30" y="204.40" font-size="6.6" stroke="#1a1a1a" stroke-width="0.2" text-anchor="middle">0</text>
<text x="450.10" y="204.40" font-size="6.6" stroke="#1a1a1a" stroke-width="0.2" text-anchor="middle">4</text>
<text x="464.30" y="204.40" font-size="6.6" stroke="#1a1a1a" stroke-width="0.2" text-anchor="middle">10</text>
<text x="476.10" y="204.40" font-size="6.6" stroke="#1a1a1a" stroke-width="0.2" text-anchor="middle">18</text>
<text x="490.50" y="204.40" font-size="6.6" stroke="#1a1a1a" stroke-width="0.2" text-anchor="middle">28</text>
<text x="468.70" y="215.70" font-size="8.05" stroke="#1a1a1a" stroke-width="0.2" text-anchor="middle" textLength="20.00" lengthAdjust="spacingAndGlyphs">Weeks</text>
<text x="419.20" y="145.40" font-size="7.82" stroke="#1a1a1a" stroke-width="0.2" text-anchor="middle" textLength="82.00" lengthAdjust="spacingAndGlyphs" transform="rotate(-90 419.20 145.40)">% eYFP+ve in CD45.2 (PB)</text>
<line x1="464.10" y1="161.23" x2="464.10" y2="169.54" stroke="#111" stroke-width="1"/>
<line x1="462.50" y1="161.23" x2="465.70" y2="161.23" stroke="#111" stroke-width="1"/>
<line x1="462.50" y1="169.54" x2="465.70" y2="169.54" stroke="#111" stroke-width="1"/>
<line x1="475.90" y1="144.26" x2="475.90" y2="156.62" stroke="#111" stroke-width="1"/>
<line x1="474.30" y1="144.26" x2="477.50" y2="144.26" stroke="#111" stroke-width="1"/>
<line x1="474.30" y1="156.62" x2="477.50" y2="156.62" stroke="#111" stroke-width="1"/>
<line x1="490.40" y1="116.59" x2="490.40" y2="138.17" stroke="#111" stroke-width="1"/>
<line x1="488.60" y1="116.59" x2="492.20" y2="116.59" stroke="#111" stroke-width="1"/>
<line x1="488.60" y1="138.17" x2="492.20" y2="138.17" stroke="#111" stroke-width="1"/>
<polyline points="443.50,192.60 449.80,185.22 464.10,167.51 475.90,150.90 490.40,127.47" fill="none" stroke="#111" stroke-width="1.3"/>
<polyline points="443.50,192.60 449.80,184.85 464.10,165.29 475.90,149.61 490.40,123.97" fill="none" stroke="#111" stroke-width="1.3"/>
<rect x="441.50" y="190.60" width="4.00" height="4.00" fill="#3a3f4c" stroke="#1a1a1a" stroke-width="0.6"/>
<rect x="447.80" y="183.22" width="4.00" height="4.00" fill="#3a3f4c" stroke="#1a1a1a" stroke-width="0.6"/>
<rect x="462.10" y="165.51" width="4.00" height="4.00" fill="#3a3f4c" stroke="#1a1a1a" stroke-width="0.6"/>
<rect x="473.90" y="148.90" width="4.00" height="4.00" fill="#3a3f4c" stroke="#1a1a1a" stroke-width="0.6"/>
<rect x="488.40" y="125.47" width="4.00" height="4.00" fill="#3a3f4c" stroke="#1a1a1a" stroke-width="0.6"/>
<rect x="441.60" y="190.70" width="3.80" height="3.80" fill="#6f2436" stroke="#2a0c12" stroke-width="0.6"/>
<rect x="447.90" y="182.95" width="3.80" height="3.80" fill="#6f2436" stroke="#2a0c12" stroke-width="0.6"/>
<rect x="462.20" y="163.39" width="3.80" height="3.80" fill="#6f2436" stroke="#2a0c12" stroke-width="0.6"/>
<rect x="474.00" y="147.71" width="3.80" height="3.80" fill="#6f2436" stroke="#2a0c12" stroke-width="0.6"/>
<rect x="488.50" y="122.07" width="3.80" height="3.80" fill="#6f2436" stroke="#2a0c12" stroke-width="0.6"/>
<rect x="474.90" y="180.20" width="2.70" height="2.70" fill="#6f2436"/>
<rect x="474.90" y="185.20" width="2.70" height="2.70" fill="#2a2f3a"/>
<text x="480.60" y="182.90" font-size="5.75" stroke="#1a1a1a" stroke-width="0.2" textLength="7.50" lengthAdjust="spacingAndGlyphs">+/+</text>
<text x="480.60" y="188.10" font-size="5.75" stroke="#1a1a1a" stroke-width="0.2" textLength="16.50" lengthAdjust="spacingAndGlyphs">P95H/+</text>
<text x="8.50" y="233.80" font-size="10.8" stroke="#000" stroke-width="0.3" fill="#000" font-weight="bold" textLength="9.50" lengthAdjust="spacingAndGlyphs">D</text>
<line x1="37.90" y1="243.50" x2="37.90" y2="314.15" stroke="#111" stroke-width="1.5"/>
<line x1="34.90" y1="313.40" x2="37.90" y2="313.40" stroke="#111" stroke-width="1.5"/>
<text x="31.30" y="315.92" font-size="7.0" stroke="#1a1a1a" stroke-width="0.2" text-anchor="end" textLength="8.56" lengthAdjust="spacingAndGlyphs">0.0</text>
<line x1="34.90" y1="296.52" x2="37.90" y2="296.52" stroke="#111" stroke-width="1.5"/>
<text x="31.30" y="299.04" font-size="7.0" stroke="#1a1a1a" stroke-width="0.2" text-anchor="end" textLength="8.56" lengthAdjust="spacingAndGlyphs">0.5</text>
<line x1="34.90" y1="279.65" x2="37.90" y2="279.65" stroke="#111" stroke-width="1.5"/>
<text x="31.30" y="282.17" font-size="7.0" stroke="#1a1a1a" stroke-width="0.2" text-anchor="end" textLength="8.56" lengthAdjust="spacingAndGlyphs">1.0</text>
<line x1="34.90" y1="262.77" x2="37.90" y2="262.77" stroke="#111" stroke-width="1.5"/>
<text x="31.30" y="265.29" font-size="7.0" stroke="#1a1a1a" stroke-width="0.2" text-anchor="end" textLength="8.56" lengthAdjust="spacingAndGlyphs">1.5</text>
<line x1="34.90" y1="245.90" x2="37.90" y2="245.90" stroke="#111" stroke-width="1.5"/>
<text x="31.30" y="248.42" font-size="7.0" stroke="#1a1a1a" stroke-width="0.2" text-anchor="end" textLength="8.56" lengthAdjust="spacingAndGlyphs">2.0</text>
<line x1="37.15" y1="313.40" x2="82.50" y2="313.40" stroke="#111" stroke-width="1.5"/>
<line x1="42.50" y1="313.40" x2="42.50" y2="316.40" stroke="#111" stroke-width="1.3"/>
<line x1="51.30" y1="313.40" x2="51.30" y2="316.40" stroke="#111" stroke-width="1.3"/>
<line x1="60.10" y1="313.40" x2="60.10" y2="316.40" stroke="#111" stroke-width="1.3"/>
<line x1="69.20" y1="313.40" x2="69.20" y2="316.40" stroke="#111" stroke-width="1.3"/>
<line x1="78.20" y1="313.40" x2="78.20" y2="316.40" stroke="#111" stroke-width="1.3"/>
<text x="42.50" y="324.70" font-size="6.6" stroke="#1a1a1a" stroke-width="0.2" text-anchor="middle">0</text>
<text x="51.30" y="324.70" font-size="6.6" stroke="#1a1a1a" stroke-width="0.2" text-anchor="middle">2</text>
<text x="60.10" y="324.70" font-size="6.6" stroke="#1a1a1a" stroke-width="0.2" text-anchor="middle">6</text>
<text x="70.00" y="324.70" font-size="6.6" stroke="#1a1a1a" stroke-width="0.2" text-anchor="middle">10</text>
<text x="78.40" y="324.70" font-size="6.6" stroke="#1a1a1a" stroke-width="0.2" text-anchor="middle">20</text>
<text x="60.80" y="336.30" font-size="8.05" stroke="#1a1a1a" stroke-width="0.2" text-anchor="middle" textLength="19.60" lengthAdjust="spacingAndGlyphs">Weeks</text>
<text x="17.30" y="278.00" font-size="7.82" stroke="#1a1a1a" stroke-width="0.2" text-anchor="middle" textLength="69.50" lengthAdjust="spacingAndGlyphs" transform="rotate(-90 17.30 278.00)">Granulocytes (x10<tspan font-size="5.0" dy="-2.4">6</tspan><tspan dy="2.4">/mL)</tspan></text>
<line x1="42.50" y1="272.90" x2="42.50" y2="289.10" stroke="#d9a0a0" stroke-width="0.8"/>
<line x1="41.00" y1="272.90" x2="44.00" y2="272.90" stroke="#d9a0a0" stroke-width="0.8"/>
<line x1="41.00" y1="289.10" x2="44.00" y2="289.10" stroke="#d9a0a0" stroke-width="0.8"/>
<line x1="78.20" y1="259.40" x2="78.20" y2="279.65" stroke="#6a9fd0" stroke-width="0.8"/>
<line x1="76.70" y1="259.40" x2="79.70" y2="259.40" stroke="#6a9fd0" stroke-width="0.8"/>
<line x1="76.70" y1="279.65" x2="79.70" y2="279.65" stroke="#6a9fd0" stroke-width="0.8"/>
<line x1="60.10" y1="267.84" x2="60.10" y2="276.27" stroke="#6a9fd0" stroke-width="0.8"/>
<line x1="58.60" y1="267.84" x2="61.60" y2="267.84" stroke="#6a9fd0" stroke-width="0.8"/>
<line x1="58.60" y1="276.27" x2="61.60" y2="276.27" stroke="#6a9fd0" stroke-width="0.8"/>
<line x1="51.30" y1="292.14" x2="51.30" y2="297.54" stroke="#6a9fd0" stroke-width="0.8"/>
<line x1="49.80" y1="292.14" x2="52.80" y2="292.14" stroke="#6a9fd0" stroke-width="0.8"/>
<line x1="49.80" y1="297.54" x2="52.80" y2="297.54" stroke="#6a9fd0" stroke-width="0.8"/>
<line x1="42.50" y1="286.40" x2="42.50" y2="293.15" stroke="#6a9fd0" stroke-width="0.8"/>
<line x1="41.00" y1="286.40" x2="44.00" y2="286.40" stroke="#6a9fd0" stroke-width="0.8"/>
<line x1="41.00" y1="293.15" x2="44.00" y2="293.15" stroke="#6a9fd0" stroke-width="0.8"/>
<polyline points="42.50,281.00 51.30,289.44 60.10,283.02 69.20,291.12 78.20,284.04" fill="none" stroke="#e0a8a8" stroke-width="0.9"/>
<polyline points="42.50,289.77 51.30,294.84 60.10,272.56 69.20,286.40 78.20,269.52" fill="none" stroke="#6a9fd0" stroke-width="1.5"/>
<circle cx="42.50" cy="281.00" r="1.90" fill="#fff" stroke="#1d2c3e" stroke-width="1.25"/>
<circle cx="51.30" cy="289.44" r="1.90" fill="#fff" stroke="#1d2c3e" stroke-width="1.25"/>
<circle cx="60.10" cy="283.02" r="1.90" fill="#fff" stroke="#1d2c3e" stroke-width="1.25"/>
<circle cx="69.20" cy="291.12" r="1.90" fill="#fff" stroke="#1d2c3e" stroke-width="1.25"/>
<circle cx="78.20" cy="284.04" r="1.90" fill="#fff" stroke="#1d2c3e" stroke-width="1.25"/>
<circle cx="42.50" cy="289.77" r="1.90" fill="#dce8f4" stroke="#1d2c3e" stroke-width="1.25"/>
<circle cx="51.30" cy="294.84" r="1.90" fill="#dce8f4" stroke="#1d2c3e" stroke-width="1.25"/>
<circle cx="60.10" cy="272.56" r="1.90" fill="#dce8f4" stroke="#1d2c3e" stroke-width="1.25"/>
<circle cx="69.20" cy="286.40" r="1.90" fill="#dce8f4" stroke="#1d2c3e" stroke-width="1.25"/>
<circle cx="78.20" cy="269.52" r="1.90" fill="#dce8f4" stroke="#1d2c3e" stroke-width="1.25"/>
<circle cx="42.50" cy="302.50" r="1.80" fill="#fff" stroke="#1d2c3e" stroke-width="1.0"/>
<circle cx="42.50" cy="308.80" r="1.80" fill="#dce8f4" stroke="#1d2c3e" stroke-width="1.0"/>
<text x="50.00" y="304.50" font-size="6.09" stroke="#1a1a1a" stroke-width="0.2" textLength="8.00" lengthAdjust="spacingAndGlyphs">+/+</text>
<text x="50.00" y="310.80" font-size="6.09" stroke="#1a1a1a" stroke-width="0.2" textLength="17.50" lengthAdjust="spacingAndGlyphs">P95H/+</text>
<line x1="117.70" y1="243.50" x2="117.70" y2="314.05" stroke="#111" stroke-width="1.5"/>
<line x1="114.70" y1="313.30" x2="117.70" y2="313.30" stroke="#111" stroke-width="1.5"/>
<text x="109.80" y="315.82" font-size="7.0" stroke="#1a1a1a" stroke-width="0.2" text-anchor="end" textLength="3.42" lengthAdjust="spacingAndGlyphs">0</text>
<line x1="114.70" y1="299.85" x2="117.70" y2="299.85" stroke="#111" stroke-width="1.5"/>
<text x="109.80" y="302.37" font-size="7.0" stroke="#1a1a1a" stroke-width="0.2" text-anchor="end" textLength="3.42" lengthAdjust="spacingAndGlyphs">5</text>
<line x1="114.70" y1="286.40" x2="117.70" y2="286.40" stroke="#111" stroke-width="1.5"/>
<text x="109.80" y="288.92" font-size="7.0" stroke="#1a1a1a" stroke-width="0.2" text-anchor="end" textLength="6.85" lengthAdjust="spacingAndGlyphs">10</text>
<line x1="114.70" y1="272.95" x2="117.70" y2="272.95" stroke="#111" stroke-width="1.5"/>
<text x="109.80" y="275.47" font-size="7.0" stroke="#1a1a1a" stroke-width="0.2" text-anchor="end" textLength="6.85" lengthAdjust="spacingAndGlyphs">15</text>
<line x1="114.70" y1="259.50" x2="117.70" y2="259.50" stroke="#111" stroke-width="1.5"/>
<text x="109.80" y="262.02" font-size="7.0" stroke="#1a1a1a" stroke-width="0.2" text-anchor="end" textLength="6.85" lengthAdjust="spacingAndGlyphs">20</text>
<line x1="114.70" y1="246.05" x2="117.70" y2="246.05" stroke="#111" stroke-width="1.5"/>
<text x="109.80" y="248.57" font-size="7.0" stroke="#1a1a1a" stroke-width="0.2" text-anchor="end" textLength="6.85" lengthAdjust="spacingAndGlyphs">25</text>
<line x1="116.95" y1="313.30" x2="162.60" y2="313.30" stroke="#111" stroke-width="1.5"/>
<text x="98.40" y="277.60" font-size="7.82" stroke="#1a1a1a" stroke-width="0.2" text-anchor="middle" textLength="49.70" lengthAdjust="spacingAndGlyphs" transform="rotate(-90 98.40 277.60)">Granulocytes (%)</text>
<line x1="122.00" y1="313.30" x2="122.00" y2="316.30" stroke="#111" stroke-width="1.3"/>
<rect x="119.00" y="274.56" width="2.20" height="38.74" fill="#d6d0d6"/>
<rect x="122.60" y="276.18" width="2.20" height="37.12" fill="#6aa5dc"/>
<line x1="120.10" y1="276.72" x2="120.10" y2="272.41" stroke="#222" stroke-width="1.4"/>
<line x1="123.70" y1="278.60" x2="123.70" y2="273.76" stroke="#222" stroke-width="1.4"/>
<line x1="131.10" y1="313.30" x2="131.10" y2="316.30" stroke="#111" stroke-width="1.3"/>
<rect x="128.10" y="284.52" width="2.20" height="28.78" fill="#d6d0d6"/>
<rect x="131.70" y="291.51" width="2.20" height="21.79" fill="#6aa5dc"/>
<line x1="129.20" y1="286.67" x2="129.20" y2="282.37" stroke="#222" stroke-width="1.4"/>
<line x1="132.80" y1="292.99" x2="132.80" y2="290.03" stroke="#222" stroke-width="1.4"/>
<line x1="139.90" y1="313.30" x2="139.90" y2="316.30" stroke="#111" stroke-width="1.3"/>
<rect x="136.90" y="293.12" width="2.20" height="20.18" fill="#d6d0d6"/>
<rect x="140.50" y="271.34" width="2.20" height="41.96" fill="#6aa5dc"/>
<line x1="138.00" y1="294.20" x2="138.00" y2="292.05" stroke="#222" stroke-width="1.4"/>
<line x1="141.60" y1="273.76" x2="141.60" y2="268.92" stroke="#222" stroke-width="1.4"/>
<circle cx="141.60" cy="267.00" r="0.75" fill="#222"/>
<line x1="149.00" y1="313.30" x2="149.00" y2="316.30" stroke="#111" stroke-width="1.3"/>
<rect x="146.00" y="300.66" width="2.20" height="12.64" fill="#d6d0d6"/>
<rect x="149.60" y="291.51" width="2.20" height="21.79" fill="#6aa5dc"/>
<line x1="147.10" y1="301.60" x2="147.10" y2="299.72" stroke="#222" stroke-width="1.4"/>
<line x1="150.70" y1="293.12" x2="150.70" y2="289.90" stroke="#222" stroke-width="1.4"/>
<line x1="157.80" y1="313.30" x2="157.80" y2="316.30" stroke="#111" stroke-width="1.3"/>
<rect x="154.80" y="291.51" width="2.20" height="21.79" fill="#d6d0d6"/>
<rect x="158.40" y="262.73" width="2.20" height="50.57" fill="#6aa5dc"/>
<line x1="155.90" y1="292.99" x2="155.90" y2="290.03" stroke="#222" stroke-width="1.4"/>
<line x1="159.50" y1="263.23" x2="159.50" y2="248.20" stroke="#222" stroke-width="1.1"/>
<circle cx="158.40" cy="245.40" r="0.75" fill="#222"/>
<circle cx="160.60" cy="245.40" r="0.75" fill="#222"/>
<text x="122.00" y="324.80" font-size="6.6" stroke="#1a1a1a" stroke-width="0.2" text-anchor="middle">0</text>
<text x="131.10" y="324.80" font-size="6.6" stroke="#1a1a1a" stroke-width="0.2" text-anchor="middle">2</text>
<text x="139.90" y="324.80" font-size="6.6" stroke="#1a1a1a" stroke-width="0.2" text-anchor="middle">6</text>
<text x="149.00" y="324.80" font-size="6.6" stroke="#1a1a1a" stroke-width="0.2" text-anchor="middle">10</text>
<text x="157.80" y="324.80" font-size="6.6" stroke="#1a1a1a" stroke-width="0.2" text-anchor="middle">20</text>
<text x="140.40" y="336.30" font-size="8.05" stroke="#1a1a1a" stroke-width="0.2" text-anchor="middle" textLength="19.60" lengthAdjust="spacingAndGlyphs">Weeks</text>
<text x="165.80" y="233.80" font-size="10.8" stroke="#000" stroke-width="0.3" fill="#000" font-weight="bold" textLength="7.10" lengthAdjust="spacingAndGlyphs">E</text>
<line x1="194.70" y1="243.50" x2="194.70" y2="314.15" stroke="#111" stroke-width="1.5"/>
<line x1="191.70" y1="313.40" x2="194.70" y2="313.40" stroke="#111" stroke-width="1.5"/>
<text x="188.00" y="315.92" font-size="7.0" stroke="#1a1a1a" stroke-width="0.2" text-anchor="end" textLength="3.42" lengthAdjust="spacingAndGlyphs">0</text>
<line x1="191.70" y1="299.92" x2="194.70" y2="299.92" stroke="#111" stroke-width="1.5"/>
<text x="188.00" y="302.44" font-size="7.0" stroke="#1a1a1a" stroke-width="0.2" text-anchor="end" textLength="3.42" lengthAdjust="spacingAndGlyphs">2</text>
<line x1="191.70" y1="286.44" x2="194.70" y2="286.44" stroke="#111" stroke-width="1.5"/>
<text x="188.00" y="288.96" font-size="7.0" stroke="#1a1a1a" stroke-width="0.2" text-anchor="end" textLength="3.42" lengthAdjust="spacingAndGlyphs">4</text>
<line x1="191.70" y1="272.96" x2="194.70" y2="272.96" stroke="#111" stroke-width="1.5"/>
<text x="188.00" y="275.48" font-size="7.0" stroke="#1a1a1a" stroke-width="0.2" text-anchor="end" textLength="3.42" lengthAdjust="spacingAndGlyphs">6</text>
<line x1="191.70" y1="259.48" x2="194.70" y2="259.48" stroke="#111" stroke-width="1.5"/>
<text x="188.00" y="262.00" font-size="7.0" stroke="#1a1a1a" stroke-width="0.2" text-anchor="end" textLength="3.42" lengthAdjust="spacingAndGlyphs">8</text>
<line x1="191.70" y1="246.00" x2="194.70" y2="246.00" stroke="#111" stroke-width="1.5"/>
<text x="188.00" y="248.52" font-size="7.0" stroke="#1a1a1a" stroke-width="0.2" text-anchor="end" textLength="6.85" lengthAdjust="spacingAndGlyphs">10</text>
<line x1="193.95" y1="313.40" x2="239.50" y2="313.40" stroke="#111" stroke-width="1.5"/>
<line x1="198.80" y1="313.40" x2="198.80" y2="316.40" stroke="#111" stroke-width="1.3"/>
<text x="198.80" y="324.70" font-size="6.6" stroke="#1a1a1a" stroke-width="0.2" text-anchor="middle">0</text>
<line x1="207.80" y1="313.40" x2="207.80" y2="316.40" stroke="#111" stroke-width="1.3"/>
<text x="207.80" y="324.70" font-size="6.6" stroke="#1a1a1a" stroke-width="0.2" text-anchor="middle">2</text>
<line x1="216.80" y1="313.40" x2="216.80" y2="316.40" stroke="#111" stroke-width="1.3"/>
<text x="216.80" y="324.70" font-size="6.6" stroke="#1a1a1a" stroke-width="0.2" text-anchor="middle">6</text>
<line x1="226.00" y1="313.40" x2="226.00" y2="316.40" stroke="#111" stroke-width="1.3"/>
<text x="226.80" y="324.70" font-size="6.6" stroke="#1a1a1a" stroke-width="0.2" text-anchor="middle">10</text>
<line x1="235.10" y1="313.40" x2="235.10" y2="316.40" stroke="#111" stroke-width="1.3"/>
<text x="235.90" y="324.70" font-size="6.6" stroke="#1a1a1a" stroke-width="0.2" text-anchor="middle">20</text>
<text x="217.30" y="336.30" font-size="8.05" stroke="#1a1a1a" stroke-width="0.2" text-anchor="middle" textLength="19.60" lengthAdjust="spacingAndGlyphs">Weeks</text>
<text x="176.00" y="278.60" font-size="7.82" stroke="#1a1a1a" stroke-width="0.2" text-anchor="middle" textLength="74.60" lengthAdjust="spacingAndGlyphs" transform="rotate(-90 176.00 278.60)">B lymphocytes (x10<tspan font-size="5.0" dy="-2.4">6</tspan><tspan dy="2.4">/mL)</tspan></text>
<line x1="207.80" y1="293.18" x2="207.80" y2="298.57" stroke="#aaa" stroke-width="0.8"/>
<line x1="206.40" y1="293.18" x2="209.20" y2="293.18" stroke="#aaa" stroke-width="0.8"/>
<line x1="206.40" y1="298.57" x2="209.20" y2="298.57" stroke="#aaa" stroke-width="0.8"/>
<line x1="235.10" y1="260.15" x2="235.10" y2="267.57" stroke="#aaa" stroke-width="0.8"/>
<line x1="233.70" y1="260.15" x2="236.50" y2="260.15" stroke="#aaa" stroke-width="0.8"/>
<line x1="233.70" y1="267.57" x2="236.50" y2="267.57" stroke="#aaa" stroke-width="0.8"/>
<line x1="226.00" y1="280.71" x2="226.00" y2="287.79" stroke="#6a9fd0" stroke-width="0.8"/>
<line x1="224.60" y1="280.71" x2="227.40" y2="280.71" stroke="#6a9fd0" stroke-width="0.8"/>
<line x1="224.60" y1="287.79" x2="227.40" y2="287.79" stroke="#6a9fd0" stroke-width="0.8"/>
<line x1="207.80" y1="287.79" x2="207.80" y2="293.85" stroke="#6a9fd0" stroke-width="0.8"/>
<line x1="206.40" y1="287.79" x2="209.20" y2="287.79" stroke="#6a9fd0" stroke-width="0.8"/>
<line x1="206.40" y1="293.85" x2="209.20" y2="293.85" stroke="#6a9fd0" stroke-width="0.8"/>
<polyline points="198.80,298.91 207.80,295.88 216.80,272.96 226.00,257.46 235.10,263.52" fill="none" stroke="#bdb5ad" stroke-width="1.0"/>
<polyline points="198.80,301.60 207.80,291.16 216.80,291.16 226.00,284.42 235.10,294.53" fill="none" stroke="#6a9fd0" stroke-width="1.5"/>
<circle cx="198.80" cy="298.91" r="1.90" fill="#fff" stroke="#1a1a1a" stroke-width="1.25"/>
<circle cx="207.80" cy="295.88" r="1.90" fill="#fff" stroke="#1a1a1a" stroke-width="1.25"/>
<circle cx="216.80" cy="272.96" r="1.90" fill="#fff" stroke="#1a1a1a" stroke-width="1.25"/>
<circle cx="226.00" cy="257.46" r="1.90" fill="#fff" stroke="#1a1a1a" stroke-width="1.25"/>
<circle cx="235.10" cy="263.52" r="1.90" fill="#fff" stroke="#1a1a1a" stroke-width="1.25"/>
<circle cx="198.80" cy="301.60" r="1.90" fill="#dce8f4" stroke="#1d2c3e" stroke-width="1.25"/>
<circle cx="207.80" cy="291.16" r="1.90" fill="#dce8f4" stroke="#1d2c3e" stroke-width="1.25"/>
<circle cx="216.80" cy="291.16" r="1.90" fill="#dce8f4" stroke="#1d2c3e" stroke-width="1.25"/>
<circle cx="226.00" cy="284.42" r="1.90" fill="#dce8f4" stroke="#1d2c3e" stroke-width="1.25"/>
<circle cx="235.10" cy="294.53" r="1.90" fill="#dce8f4" stroke="#1d2c3e" stroke-width="1.25"/>
<circle cx="217.00" cy="265.80" r="0.75" fill="#222"/>
<circle cx="223.70" cy="249.70" r="0.75" fill="#222"/>
<circle cx="225.90" cy="249.70" r="0.75" fill="#222"/>
<circle cx="228.10" cy="249.70" r="0.75" fill="#222"/>
<circle cx="232.70" cy="255.40" r="0.75" fill="#222"/>
<circle cx="234.90" cy="255.40" r="0.75" fill="#222"/>
<circle cx="237.10" cy="255.40" r="0.75" fill="#222"/>
<circle cx="213.80" cy="303.50" r="1.80" fill="#fff" stroke="#222" stroke-width="1.0"/>
<circle cx="213.80" cy="309.60" r="1.80" fill="#dce8f4" stroke="#1d2c3e" stroke-width="1.0"/>
<text x="220.80" y="305.50" font-size="6.09" stroke="#1a1a1a" stroke-width="0.2" textLength="8.00" lengthAdjust="spacingAndGlyphs">+/+</text>
<text x="220.80" y="311.60" font-size="6.09" stroke="#1a1a1a" stroke-width="0.2" textLength="17.50" lengthAdjust="spacingAndGlyphs">P95H/+</text>
<line x1="274.40" y1="243.50" x2="274.40" y2="314.05" stroke="#111" stroke-width="1.5"/>
<line x1="271.40" y1="313.30" x2="274.40" y2="313.30" stroke="#111" stroke-width="1.5"/>
<text x="268.50" y="315.82" font-size="7.0" stroke="#1a1a1a" stroke-width="0.2" text-anchor="end" textLength="3.42" lengthAdjust="spacingAndGlyphs">0</text>
<line x1="271.40" y1="296.45" x2="274.40" y2="296.45" stroke="#111" stroke-width="1.5"/>
<text x="268.50" y="298.97" font-size="7.0" stroke="#1a1a1a" stroke-width="0.2" text-anchor="end" textLength="6.85" lengthAdjust="spacingAndGlyphs">20</text>
<line x1="271.40" y1="279.60" x2="274.40" y2="279.60" stroke="#111" stroke-width="1.5"/>
<text x="268.50" y="282.12" font-size="7.0" stroke="#1a1a1a" stroke-width="0.2" text-anchor="end" textLength="6.85" lengthAdjust="spacingAndGlyphs">40</text>
<line x1="271.40" y1="262.75" x2="274.40" y2="262.75" stroke="#111" stroke-width="1.5"/>
<text x="268.50" y="265.27" font-size="7.0" stroke="#1a1a1a" stroke-width="0.2" text-anchor="end" textLength="6.85" lengthAdjust="spacingAndGlyphs">60</text>
<line x1="271.40" y1="245.90" x2="274.40" y2="245.90" stroke="#111" stroke-width="1.5"/>
<text x="268.50" y="248.42" font-size="7.0" stroke="#1a1a1a" stroke-width="0.2" text-anchor="end" textLength="6.85" lengthAdjust="spacingAndGlyphs">80</text>
<line x1="273.65" y1="313.30" x2="319.30" y2="313.30" stroke="#111" stroke-width="1.5"/>
<text x="255.80" y="277.30" font-size="7.82" stroke="#1a1a1a" stroke-width="0.2" text-anchor="middle" textLength="54.00" lengthAdjust="spacingAndGlyphs" transform="rotate(-90 255.80 277.30)">B lymphocytes (%)</text>
<line x1="278.50" y1="313.30" x2="278.50" y2="316.30" stroke="#111" stroke-width="1.3"/>
<rect x="276.00" y="284.91" width="2.30" height="28.39" fill="#d6d0d6"/>
<rect x="279.75" y="286.00" width="2.30" height="27.30" fill="#6aa5dc"/>
<line x1="277.15" y1="286.76" x2="277.15" y2="283.05" stroke="#222" stroke-width="1.4"/>
<line x1="280.90" y1="287.69" x2="280.90" y2="284.32" stroke="#222" stroke-width="1.4"/>
<line x1="286.90" y1="313.30" x2="286.90" y2="316.30" stroke="#111" stroke-width="1.3"/>
<rect x="284.40" y="282.63" width="2.30" height="30.67" fill="#d6d0d6"/>
<rect x="288.15" y="271.26" width="2.30" height="42.04" fill="#6aa5dc"/>
<line x1="285.55" y1="284.91" x2="285.55" y2="280.36" stroke="#222" stroke-width="1.4"/>
<line x1="289.30" y1="272.10" x2="289.30" y2="270.42" stroke="#222" stroke-width="1.4"/>
<circle cx="288.30" cy="266.82" r="0.75" fill="#222"/>
<line x1="295.80" y1="313.30" x2="295.80" y2="316.30" stroke="#111" stroke-width="1.3"/>
<rect x="293.30" y="270.84" width="2.30" height="42.46" fill="#d6d0d6"/>
<rect x="297.05" y="279.68" width="2.30" height="33.62" fill="#6aa5dc"/>
<line x1="294.45" y1="271.85" x2="294.45" y2="269.83" stroke="#222" stroke-width="1.4"/>
<line x1="298.20" y1="280.86" x2="298.20" y2="278.50" stroke="#222" stroke-width="1.4"/>
<line x1="305.00" y1="313.30" x2="305.00" y2="316.30" stroke="#111" stroke-width="1.3"/>
<rect x="302.50" y="268.06" width="2.30" height="45.24" fill="#d6d0d6"/>
<rect x="306.25" y="278.17" width="2.30" height="35.13" fill="#6aa5dc"/>
<line x1="303.65" y1="268.98" x2="303.65" y2="267.13" stroke="#222" stroke-width="1.4"/>
<line x1="307.40" y1="279.77" x2="307.40" y2="276.57" stroke="#222" stroke-width="1.4"/>
<circle cx="304.60" cy="263.53" r="0.75" fill="#222"/>
<line x1="314.00" y1="313.30" x2="314.00" y2="316.30" stroke="#111" stroke-width="1.3"/>
<rect x="311.50" y="256.35" width="2.30" height="56.95" fill="#d6d0d6"/>
<rect x="315.25" y="270.00" width="2.30" height="43.30" fill="#6aa5dc"/>
<line x1="312.65" y1="257.69" x2="312.65" y2="255.00" stroke="#222" stroke-width="1.4"/>
<line x1="316.40" y1="272.35" x2="316.40" y2="267.64" stroke="#222" stroke-width="1.4"/>
<circle cx="312.50" cy="251.40" r="0.75" fill="#222"/>
<circle cx="314.70" cy="251.40" r="0.75" fill="#222"/>
<text x="278.50" y="325.50" font-size="6.6" stroke="#1a1a1a" stroke-width="0.2" text-anchor="middle">0</text>
<text x="286.90" y="325.50" font-size="6.6" stroke="#1a1a1a" stroke-width="0.2" text-anchor="middle">2</text>
<text x="295.80" y="325.50" font-size="6.6" stroke="#1a1a1a" stroke-width="0.2" text-anchor="middle">6</text>
<text x="305.00" y="325.50" font-size="6.6" stroke="#1a1a1a" stroke-width="0.2" text-anchor="middle">10</text>
<text x="314.00" y="325.50" font-size="6.6" stroke="#1a1a1a" stroke-width="0.2" text-anchor="middle">20</text>
<text x="296.70" y="336.30" font-size="8.05" stroke="#1a1a1a" stroke-width="0.2" text-anchor="middle" textLength="19.60" lengthAdjust="spacingAndGlyphs">Weeks</text>
<text x="323.30" y="233.60" font-size="10.8" stroke="#000" stroke-width="0.3" fill="#000" font-weight="bold" textLength="5.50" lengthAdjust="spacingAndGlyphs">L</text>
<line x1="351.50" y1="237.50" x2="351.50" y2="326.45" stroke="#111" stroke-width="1.5"/>
<line x1="348.50" y1="325.70" x2="351.50" y2="325.70" stroke="#111" stroke-width="1.5"/>
<text x="346.50" y="328.22" font-size="7.0" stroke="#1a1a1a" stroke-width="0.2" text-anchor="end" textLength="3.42" lengthAdjust="spacingAndGlyphs">0</text>
<line x1="348.50" y1="304.25" x2="351.50" y2="304.25" stroke="#111" stroke-width="1.5"/>
<text x="346.50" y="306.77" font-size="7.0" stroke="#1a1a1a" stroke-width="0.2" text-anchor="end" textLength="3.42" lengthAdjust="spacingAndGlyphs">4</text>
<line x1="348.50" y1="282.80" x2="351.50" y2="282.80" stroke="#111" stroke-width="1.5"/>
<text x="346.50" y="285.32" font-size="7.0" stroke="#1a1a1a" stroke-width="0.2" text-anchor="end" textLength="3.42" lengthAdjust="spacingAndGlyphs">8</text>
<line x1="348.50" y1="261.35" x2="351.50" y2="261.35" stroke="#111" stroke-width="1.5"/>
<text x="346.50" y="263.87" font-size="7.0" stroke="#1a1a1a" stroke-width="0.2" text-anchor="end" textLength="6.85" lengthAdjust="spacingAndGlyphs">12</text>
<line x1="348.50" y1="239.90" x2="351.50" y2="239.90" stroke="#111" stroke-width="1.5"/>
<text x="346.50" y="242.42" font-size="7.0" stroke="#1a1a1a" stroke-width="0.2" text-anchor="end" textLength="6.85" lengthAdjust="spacingAndGlyphs">16</text>
<line x1="349.70" y1="314.97" x2="351.50" y2="314.97" stroke="#111" stroke-width="1.2000000000000002"/>
<line x1="349.70" y1="293.52" x2="351.50" y2="293.52" stroke="#111" stroke-width="1.2000000000000002"/>
<line x1="349.70" y1="272.07" x2="351.50" y2="272.07" stroke="#111" stroke-width="1.2000000000000002"/>
<line x1="349.70" y1="250.62" x2="351.50" y2="250.62" stroke="#111" stroke-width="1.2000000000000002"/>
<line x1="350.75" y1="325.70" x2="408.50" y2="325.70" stroke="#111" stroke-width="1.5"/>
<line x1="364.40" y1="325.70" x2="364.40" y2="328.50" stroke="#111" stroke-width="1.1"/>
<line x1="394.20" y1="325.70" x2="394.20" y2="328.50" stroke="#111" stroke-width="1.1"/>
<text x="364.40" y="337.00" font-size="7.13" stroke="#1a1a1a" stroke-width="0.2" text-anchor="middle" textLength="9.50" lengthAdjust="spacingAndGlyphs">+/+</text>
<text x="394.20" y="337.00" font-size="7.13" stroke="#1a1a1a" stroke-width="0.2" text-anchor="middle" textLength="20.00" lengthAdjust="spacingAndGlyphs">P95H/+</text>
<text x="380.00" y="348.80" font-size="7.82" stroke="#1a1a1a" stroke-width="0.2" text-anchor="middle" textLength="21.50" lengthAdjust="spacingAndGlyphs">30 wks</text>
<text x="333.10" y="282.50" font-size="7.82" stroke="#1a1a1a" stroke-width="0.2" text-anchor="middle" textLength="72.60" lengthAdjust="spacingAndGlyphs" transform="rotate(-90 333.10 282.50)">PB leukocytes (x10<tspan font-size="5.0" dy="-2.4">6</tspan><tspan dy="2.4">/mL)</tspan></text>
<text x="370.40" y="241.20" font-size="6.44" stroke="#1a1a1a" stroke-width="0.2" font-style="italic" textLength="17.00" lengthAdjust="spacingAndGlyphs">P=0.09</text>
<circle cx="365.60" cy="246.87" r="2.20" fill="#7d1f33" stroke="#3a0c15" stroke-width="0.7"/>
<circle cx="369.00" cy="263.50" r="2.20" fill="#7d1f33" stroke="#3a0c15" stroke-width="0.7"/>
<circle cx="362.70" cy="267.78" r="2.20" fill="#7d1f33" stroke="#3a0c15" stroke-width="0.7"/>
<line x1="356.50" y1="259.47" x2="374.80" y2="259.47" stroke="#111" stroke-width="1.3"/>
<line x1="365.60" y1="253.04" x2="365.60" y2="265.91" stroke="#111" stroke-width="1.2"/>
<line x1="361.40" y1="253.04" x2="369.80" y2="253.04" stroke="#111" stroke-width="1.2"/>
<line x1="361.40" y1="265.91" x2="369.80" y2="265.91" stroke="#111" stroke-width="1.2"/>
<rect x="385.10" y="263.44" width="4.40" height="4.40" fill="#2f3c58" stroke="#1a2234" stroke-width="0.6"/>
<rect x="398.60" y="265.32" width="4.40" height="4.40" fill="#2f3c58" stroke="#1a2234" stroke-width="0.6"/>
<rect x="392.40" y="269.88" width="4.40" height="4.40" fill="#2f3c58" stroke="#1a2234" stroke-width="0.6"/>
<rect x="392.40" y="287.04" width="4.40" height="4.40" fill="#2f3c58" stroke="#1a2234" stroke-width="0.6"/>
<rect x="392.40" y="295.62" width="4.40" height="4.40" fill="#2f3c58" stroke="#1a2234" stroke-width="0.6"/>
<line x1="385.40" y1="278.78" x2="403.60" y2="278.78" stroke="#111" stroke-width="1.3"/>
<line x1="394.40" y1="272.34" x2="394.40" y2="285.21" stroke="#111" stroke-width="1.2"/>
<line x1="390.20" y1="272.34" x2="398.60" y2="272.34" stroke="#111" stroke-width="1.2"/>
<line x1="390.20" y1="285.21" x2="398.60" y2="285.21" stroke="#111" stroke-width="1.2"/>
<text x="427.30" y="233.60" font-size="10.8" stroke="#000" stroke-width="0.3" fill="#000" font-weight="bold" textLength="10.70" lengthAdjust="spacingAndGlyphs">M</text>
<line x1="455.70" y1="237.50" x2="455.70" y2="326.45" stroke="#111" stroke-width="1.5"/>
<line x1="452.70" y1="325.70" x2="455.70" y2="325.70" stroke="#111" stroke-width="1.5"/>
<text x="448.70" y="328.22" font-size="7.0" stroke="#1a1a1a" stroke-width="0.2" text-anchor="end" textLength="3.42" lengthAdjust="spacingAndGlyphs">0</text>
<line x1="452.70" y1="297.05" x2="455.70" y2="297.05" stroke="#111" stroke-width="1.5"/>
<text x="448.70" y="299.57" font-size="7.0" stroke="#1a1a1a" stroke-width="0.2" text-anchor="end" textLength="6.85" lengthAdjust="spacingAndGlyphs">10</text>
<line x1="452.70" y1="268.40" x2="455.70" y2="268.40" stroke="#111" stroke-width="1.5"/>
<text x="448.70" y="270.92" font-size="7.0" stroke="#1a1a1a" stroke-width="0.2" text-anchor="end" textLength="6.85" lengthAdjust="spacingAndGlyphs">20</text>
<line x1="452.70" y1="239.75" x2="455.70" y2="239.75" stroke="#111" stroke-width="1.5"/>
<text x="448.70" y="242.27" font-size="7.0" stroke="#1a1a1a" stroke-width="0.2" text-anchor="end" textLength="6.85" lengthAdjust="spacingAndGlyphs">30</text>
<line x1="453.90" y1="311.38" x2="455.70" y2="311.38" stroke="#111" stroke-width="1.2000000000000002"/>
<line x1="453.90" y1="282.72" x2="455.70" y2="282.72" stroke="#111" stroke-width="1.2000000000000002"/>
<line x1="453.90" y1="254.07" x2="455.70" y2="254.07" stroke="#111" stroke-width="1.2000000000000002"/>
<line x1="454.95" y1="325.70" x2="512.00" y2="325.70" stroke="#111" stroke-width="1.5"/>
<line x1="467.60" y1="325.70" x2="467.60" y2="328.50" stroke="#111" stroke-width="1.1"/>
<line x1="498.40" y1="325.70" x2="498.40" y2="328.50" stroke="#111" stroke-width="1.1"/>
<text x="467.60" y="337.20" font-size="7.13" stroke="#1a1a1a" stroke-width="0.2" text-anchor="middle" textLength="9.50" lengthAdjust="spacingAndGlyphs">+/+</text>
<text x="498.40" y="337.20" font-size="7.13" stroke="#1a1a1a" stroke-width="0.2" text-anchor="middle" textLength="20.00" lengthAdjust="spacingAndGlyphs">P95H/+</text>
<text x="483.80" y="348.80" font-size="7.82" stroke="#1a1a1a" stroke-width="0.2" text-anchor="middle" textLength="21.50" lengthAdjust="spacingAndGlyphs">30 wks</text>
<text x="438.20" y="282.50" font-size="7.82" stroke="#1a1a1a" stroke-width="0.2" text-anchor="middle" textLength="75.40" lengthAdjust="spacingAndGlyphs" transform="rotate(-90 438.20 282.50)">BM cellularity (x10<tspan font-size="5.0" dy="-2.4">6</tspan><tspan dy="2.4">/mL)</tspan></text>
<circle cx="470.40" cy="246.91" r="2.20" fill="#7d1f33" stroke="#3a0c15" stroke-width="0.7"/>
<circle cx="473.50" cy="259.23" r="2.20" fill="#7d1f33" stroke="#3a0c15" stroke-width="0.7"/>
<circle cx="466.70" cy="262.67" r="2.20" fill="#7d1f33" stroke="#3a0c15" stroke-width="0.7"/>
<line x1="460.00" y1="256.08" x2="479.60" y2="256.08" stroke="#111" stroke-width="1.3"/>
<line x1="469.80" y1="251.21" x2="469.80" y2="260.95" stroke="#111" stroke-width="1.2"/>
<line x1="466.20" y1="251.21" x2="473.40" y2="251.21" stroke="#111" stroke-width="1.2"/>
<line x1="466.20" y1="260.95" x2="473.40" y2="260.95" stroke="#111" stroke-width="1.2"/>
<rect x="492.80" y="257.03" width="4.40" height="4.40" fill="#2f3c58" stroke="#1a2234" stroke-width="0.6"/>
<rect x="503.40" y="257.60" width="4.40" height="4.40" fill="#2f3c58" stroke="#1a2234" stroke-width="0.6"/>
<rect x="499.50" y="263.33" width="4.40" height="4.40" fill="#2f3c58" stroke="#1a2234" stroke-width="0.6"/>
<rect x="493.20" y="269.35" width="4.40" height="4.40" fill="#2f3c58" stroke="#1a2234" stroke-width="0.6"/>
<line x1="489.20" y1="264.96" x2="507.50" y2="264.96" stroke="#111" stroke-width="1.3"/>
<line x1="498.40" y1="262.10" x2="498.40" y2="267.83" stroke="#111" stroke-width="1.2"/>
<line x1="494.80" y1="262.10" x2="502.00" y2="262.10" stroke="#111" stroke-width="1.2"/>
<line x1="494.80" y1="267.83" x2="502.00" y2="267.83" stroke="#111" stroke-width="1.2"/>
<text x="8.80" y="364.50" font-size="10.8" stroke="#000" stroke-width="0.3" fill="#000" font-weight="bold" textLength="8.50" lengthAdjust="spacingAndGlyphs">F</text>
<line x1="32.80" y1="371.50" x2="32.80" y2="465.75" stroke="#111" stroke-width="1.5"/>
<line x1="29.80" y1="465.00" x2="32.80" y2="465.00" stroke="#111" stroke-width="1.5"/>
<text x="26.40" y="467.52" font-size="7.0" stroke="#1a1a1a" stroke-width="0.2" text-anchor="end" textLength="3.42" lengthAdjust="spacingAndGlyphs">0</text>
<line x1="29.80" y1="434.40" x2="32.80" y2="434.40" stroke="#111" stroke-width="1.5"/>
<text x="26.40" y="436.92" font-size="7.0" stroke="#1a1a1a" stroke-width="0.2" text-anchor="end" textLength="6.85" lengthAdjust="spacingAndGlyphs">10</text>
<line x1="29.80" y1="403.80" x2="32.80" y2="403.80" stroke="#111" stroke-width="1.5"/>
<text x="26.40" y="406.32" font-size="7.0" stroke="#1a1a1a" stroke-width="0.2" text-anchor="end" textLength="6.85" lengthAdjust="spacingAndGlyphs">20</text>
<line x1="29.80" y1="373.20" x2="32.80" y2="373.20" stroke="#111" stroke-width="1.5"/>
<text x="26.40" y="375.72" font-size="7.0" stroke="#1a1a1a" stroke-width="0.2" text-anchor="end" textLength="6.85" lengthAdjust="spacingAndGlyphs">30</text>
<line x1="31.00" y1="449.70" x2="32.80" y2="449.70" stroke="#111" stroke-width="1.2000000000000002"/>
<line x1="31.00" y1="419.10" x2="32.80" y2="419.10" stroke="#111" stroke-width="1.2000000000000002"/>
<line x1="31.00" y1="388.50" x2="32.80" y2="388.50" stroke="#111" stroke-width="1.2000000000000002"/>
<line x1="32.05" y1="465.00" x2="125.50" y2="465.00" stroke="#111" stroke-width="1.5"/>
<text x="15.10" y="419.70" font-size="7.82" stroke="#1a1a1a" stroke-width="0.2" text-anchor="middle" textLength="90.20" lengthAdjust="spacingAndGlyphs" transform="rotate(-90 15.10 419.70)">Percent of CD45.2+ve cells (PB)</text>
<line x1="41.30" y1="465.00" x2="41.30" y2="467.80" stroke="#111" stroke-width="1.1"/>
<rect x="34.70" y="461.02" width="5.40" height="3.98" fill="#cac6cc"/>
<rect x="43.50" y="458.88" width="5.80" height="6.12" fill="#69a6de"/>
<line x1="37.40" y1="460.56" x2="37.40" y2="461.02" stroke="#111" stroke-width="1.2"/>
<line x1="36.00" y1="460.56" x2="38.80" y2="460.56" stroke="#111" stroke-width="1.2"/>
<line x1="36.00" y1="461.02" x2="38.80" y2="461.02" stroke="#111" stroke-width="1.2"/>
<line x1="46.40" y1="456.43" x2="46.40" y2="458.88" stroke="#111" stroke-width="1.2"/>
<line x1="45.00" y1="456.43" x2="47.80" y2="456.43" stroke="#111" stroke-width="1.2"/>
<line x1="45.00" y1="458.88" x2="47.80" y2="458.88" stroke="#111" stroke-width="1.2"/>
<line x1="59.90" y1="465.00" x2="59.90" y2="467.80" stroke="#111" stroke-width="1.1"/>
<rect x="53.30" y="459.49" width="5.40" height="5.51" fill="#cac6cc"/>
<rect x="62.10" y="451.23" width="5.80" height="13.77" fill="#69a6de"/>
<line x1="56.00" y1="459.03" x2="56.00" y2="459.49" stroke="#111" stroke-width="1.2"/>
<line x1="54.60" y1="459.03" x2="57.40" y2="459.03" stroke="#111" stroke-width="1.2"/>
<line x1="54.60" y1="459.49" x2="57.40" y2="459.49" stroke="#111" stroke-width="1.2"/>
<line x1="65.00" y1="446.33" x2="65.00" y2="451.23" stroke="#111" stroke-width="1.2"/>
<line x1="63.60" y1="446.33" x2="66.40" y2="446.33" stroke="#111" stroke-width="1.2"/>
<line x1="63.60" y1="451.23" x2="66.40" y2="451.23" stroke="#111" stroke-width="1.2"/>
<line x1="78.40" y1="465.00" x2="78.40" y2="467.80" stroke="#111" stroke-width="1.1"/>
<rect x="71.80" y="441.13" width="5.40" height="23.87" fill="#cac6cc"/>
<rect x="80.60" y="408.70" width="5.80" height="56.30" fill="#69a6de"/>
<line x1="74.50" y1="438.38" x2="74.50" y2="441.13" stroke="#111" stroke-width="1.2"/>
<line x1="73.10" y1="438.38" x2="75.90" y2="438.38" stroke="#111" stroke-width="1.2"/>
<line x1="73.10" y1="441.13" x2="75.90" y2="441.13" stroke="#111" stroke-width="1.2"/>
<line x1="83.50" y1="391.25" x2="83.50" y2="408.70" stroke="#111" stroke-width="1.2"/>
<line x1="82.10" y1="391.25" x2="84.90" y2="391.25" stroke="#111" stroke-width="1.2"/>
<line x1="82.10" y1="408.70" x2="84.90" y2="408.70" stroke="#111" stroke-width="1.2"/>
<line x1="96.80" y1="465.00" x2="96.80" y2="467.80" stroke="#111" stroke-width="1.1"/>
<rect x="90.20" y="461.02" width="5.40" height="3.98" fill="#cac6cc"/>
<rect x="99.00" y="462.55" width="5.80" height="2.45" fill="#69a6de"/>
<line x1="92.90" y1="460.41" x2="92.90" y2="461.02" stroke="#111" stroke-width="1.2"/>
<line x1="91.50" y1="460.41" x2="94.30" y2="460.41" stroke="#111" stroke-width="1.2"/>
<line x1="91.50" y1="461.02" x2="94.30" y2="461.02" stroke="#111" stroke-width="1.2"/>
<line x1="101.90" y1="461.94" x2="101.90" y2="462.55" stroke="#111" stroke-width="1.2"/>
<line x1="100.50" y1="461.94" x2="103.30" y2="461.94" stroke="#111" stroke-width="1.2"/>
<line x1="100.50" y1="462.55" x2="103.30" y2="462.55" stroke="#111" stroke-width="1.2"/>
<line x1="115.40" y1="465.00" x2="115.40" y2="467.80" stroke="#111" stroke-width="1.1"/>
<rect x="108.80" y="446.33" width="5.40" height="18.67" fill="#cac6cc"/>
<rect x="117.60" y="415.43" width="5.80" height="49.57" fill="#69a6de"/>
<line x1="111.50" y1="443.89" x2="111.50" y2="446.33" stroke="#111" stroke-width="1.2"/>
<line x1="110.10" y1="443.89" x2="112.90" y2="443.89" stroke="#111" stroke-width="1.2"/>
<line x1="110.10" y1="446.33" x2="112.90" y2="446.33" stroke="#111" stroke-width="1.2"/>
<line x1="120.50" y1="400.43" x2="120.50" y2="415.43" stroke="#111" stroke-width="1.2"/>
<line x1="119.10" y1="400.43" x2="121.90" y2="400.43" stroke="#111" stroke-width="1.2"/>
<line x1="119.10" y1="415.43" x2="121.90" y2="415.43" stroke="#111" stroke-width="1.2"/>
<circle cx="78.70" cy="388.20" r="0.75" fill="#222"/>
<circle cx="96.50" cy="456.20" r="0.75" fill="#222"/>
<circle cx="115.40" cy="398.20" r="0.75" fill="#222"/>
<rect x="35.00" y="373.30" width="2.60" height="2.60" fill="#cac6cc"/>
<rect x="35.00" y="379.10" width="2.60" height="2.60" fill="#69a6de"/>
<text x="40.40" y="376.40" font-size="5.75" stroke="#1a1a1a" stroke-width="0.2" textLength="7.50" lengthAdjust="spacingAndGlyphs">+/+</text>
<text x="40.40" y="382.20" font-size="5.75" stroke="#1a1a1a" stroke-width="0.2" textLength="17.00" lengthAdjust="spacingAndGlyphs">P95H/+</text>
<text x="41.80" y="477.00" font-size="6.6" stroke="#1a1a1a" stroke-width="0.2" text-anchor="middle">I</text>
<text x="60.60" y="477.00" font-size="6.6" stroke="#1a1a1a" stroke-width="0.2" text-anchor="middle">II</text>
<text x="78.40" y="477.00" font-size="6.6" stroke="#1a1a1a" stroke-width="0.2" text-anchor="middle">V</text>
<text x="98.40" y="477.00" font-size="7.13" stroke="#1a1a1a" stroke-width="0.2" text-anchor="middle" textLength="8.00" lengthAdjust="spacingAndGlyphs">VII</text>
<text x="118.40" y="477.00" font-size="7.13" stroke="#1a1a1a" stroke-width="0.2" text-anchor="middle" textLength="15.00" lengthAdjust="spacingAndGlyphs">Ly6G<tspan font-size="4.6" dy="-2.4">hi</tspan></text>
<text x="118.60" y="483.80" font-size="7.13" stroke="#1a1a1a" stroke-width="0.2" text-anchor="middle" textLength="19.00" lengthAdjust="spacingAndGlyphs">CD11b+</text>
<text x="78.80" y="497.50" font-size="8.05" stroke="#1a1a1a" stroke-width="0.2" text-anchor="middle" textLength="66.00" lengthAdjust="spacingAndGlyphs">Fraction (at 20 weeks)</text>
<rect x="145.50" y="385.20" width="70.30" height="69.60" fill="#fff" stroke="#bfc2d2" stroke-width="0.8"/>
<line x1="145.30" y1="395.20" x2="146.90" y2="395.20" stroke="#777" stroke-width="0.6"/>
<line x1="145.30" y1="404.20" x2="146.90" y2="404.20" stroke="#777" stroke-width="0.6"/>
<line x1="145.30" y1="413.20" x2="146.90" y2="413.20" stroke="#777" stroke-width="0.6"/>
<line x1="145.30" y1="422.20" x2="146.90" y2="422.20" stroke="#777" stroke-width="0.6"/>
<line x1="145.30" y1="431.20" x2="146.90" y2="431.20" stroke="#777" stroke-width="0.6"/>
<line x1="145.30" y1="440.20" x2="146.90" y2="440.20" stroke="#777" stroke-width="0.6"/>
<line x1="145.30" y1="449.20" x2="146.90" y2="449.20" stroke="#777" stroke-width="0.6"/>
<line x1="149.50" y1="455.00" x2="149.50" y2="456.20" stroke="#888" stroke-width="0.5"/>
<line x1="153.20" y1="455.00" x2="153.20" y2="456.20" stroke="#888" stroke-width="0.5"/>
<line x1="156.90" y1="455.00" x2="156.90" y2="456.20" stroke="#888" stroke-width="0.5"/>
<line x1="160.60" y1="455.00" x2="160.60" y2="456.20" stroke="#888" stroke-width="0.5"/>
<line x1="164.30" y1="455.00" x2="164.30" y2="456.20" stroke="#888" stroke-width="0.5"/>
<line x1="168.00" y1="455.00" x2="168.00" y2="456.20" stroke="#888" stroke-width="0.5"/>
<line x1="171.70" y1="455.00" x2="171.70" y2="456.20" stroke="#888" stroke-width="0.5"/>
<line x1="175.40" y1="455.00" x2="175.40" y2="456.20" stroke="#888" stroke-width="0.5"/>
<line x1="179.10" y1="455.00" x2="179.10" y2="456.20" stroke="#888" stroke-width="0.5"/>
<line x1="182.80" y1="455.00" x2="182.80" y2="456.20" stroke="#888" stroke-width="0.5"/>
<line x1="186.50" y1="455.00" x2="186.50" y2="456.20" stroke="#888" stroke-width="0.5"/>
<line x1="190.20" y1="455.00" x2="190.20" y2="456.20" stroke="#888" stroke-width="0.5"/>
<line x1="193.90" y1="455.00" x2="193.90" y2="456.20" stroke="#888" stroke-width="0.5"/>
<line x1="197.60" y1="455.00" x2="197.60" y2="456.20" stroke="#888" stroke-width="0.5"/>
<line x1="201.30" y1="455.00" x2="201.30" y2="456.20" stroke="#888" stroke-width="0.5"/>
<line x1="205.00" y1="455.00" x2="205.00" y2="456.20" stroke="#888" stroke-width="0.5"/>
<line x1="208.70" y1="455.00" x2="208.70" y2="456.20" stroke="#888" stroke-width="0.5"/>
<line x1="212.40" y1="455.00" x2="212.40" y2="456.20" stroke="#888" stroke-width="0.5"/>
<line x1="150.50" y1="456.00" x2="158.50" y2="456.00" stroke="#666" stroke-width="0.8"/>
<path d="M156.1 444.6h.75v.75h-.75zM167.0 444.2h.75v.75h-.75zM162.2 444.6h.75v.75h-.75zM162.3 438.3h.75v.75h-.75zM162.6 448.4h.75v.75h-.75zM163.2 443.2h.75v.75h-.75zM151.7 443.2h.75v.75h-.75zM157.3 437.3h.75v.75h-.75zM163.5 447.0h.75v.75h-.75zM163.0 438.5h.75v.75h-.75zM168.4 430.7h.75v.75h-.75zM161.0 437.8h.75v.75h-.75zM160.1 444.2h.75v.75h-.75zM165.8 444.7h.75v.75h-.75zM147.6 450.7h.75v.75h-.75zM159.1 448.1h.75v.75h-.75zM151.1 447.0h.75v.75h-.75zM156.9 440.2h.75v.75h-.75zM151.8 445.3h.75v.75h-.75zM159.3 445.0h.75v.75h-.75zM164.2 444.9h.75v.75h-.75zM158.0 446.9h.75v.75h-.75zM149.1 443.2h.75v.75h-.75zM160.4 439.0h.75v.75h-.75zM156.3 441.5h.75v.75h-.75zM165.0 450.0h.75v.75h-.75zM166.8 433.9h.75v.75h-.75zM156.9 442.9h.75v.75h-.75zM166.5 440.2h.75v.75h-.75zM159.2 445.7h.75v.75h-.75zM149.9 433.7h.75v.75h-.75zM158.1 435.6h.75v.75h-.75zM166.0 440.8h.75v.75h-.75zM170.1 436.2h.75v.75h-.75zM152.2 447.4h.75v.75h-.75zM160.7 438.5h.75v.75h-.75zM157.6 447.5h.75v.75h-.75zM148.3 441.8h.75v.75h-.75zM172.5 442.1h.75v.75h-.75zM153.7 447.7h.75v.75h-.75zM159.5 435.3h.75v.75h-.75zM148.7 443.8h.75v.75h-.75zM160.5 439.3h.75v.75h-.75zM168.8 445.5h.75v.75h-.75zM155.7 439.2h.75v.75h-.75zM173.2 441.2h.75v.75h-.75zM160.5 446.4h.75v.75h-.75zM165.3 442.4h.75v.75h-.75zM163.2 427.6h.75v.75h-.75zM157.6 444.7h.75v.75h-.75zM146.9 438.2h.75v.75h-.75zM175.1 447.5h.75v.75h-.75zM172.7 446.3h.75v.75h-.75zM153.7 417.2h.75v.75h-.75zM156.7 429.1h.75v.75h-.75zM158.3 420.9h.75v.75h-.75zM162.3 432.5h.75v.75h-.75zM152.1 428.4h.75v.75h-.75zM153.4 425.6h.75v.75h-.75zM159.0 426.6h.75v.75h-.75zM158.0 428.3h.75v.75h-.75zM157.5 451.9h.75v.75h-.75zM156.6 430.2h.75v.75h-.75zM161.8 433.5h.75v.75h-.75zM160.7 419.5h.75v.75h-.75zM159.2 399.8h.75v.75h-.75zM163.4 418.1h.75v.75h-.75zM167.3 407.4h.75v.75h-.75zM163.9 395.9h.75v.75h-.75zM163.9 428.0h.75v.75h-.75zM151.2 404.8h.75v.75h-.75zM149.8 418.5h.75v.75h-.75zM164.4 423.4h.75v.75h-.75zM147.8 421.4h.75v.75h-.75zM162.6 426.8h.75v.75h-.75zM164.6 422.7h.75v.75h-.75zM150.8 417.3h.75v.75h-.75zM176.6 414.6h.75v.75h-.75zM153.5 422.0h.75v.75h-.75zM164.9 431.1h.75v.75h-.75zM168.0 405.6h.75v.75h-.75zM167.8 419.2h.75v.75h-.75zM153.3 441.6h.75v.75h-.75zM169.7 409.7h.75v.75h-.75zM169.1 418.7h.75v.75h-.75zM170.5 433.5h.75v.75h-.75zM154.3 418.2h.75v.75h-.75zM167.9 412.9h.75v.75h-.75zM159.3 400.1h.75v.75h-.75zM152.3 420.9h.75v.75h-.75zM155.6 409.7h.75v.75h-.75zM163.4 446.1h.75v.75h-.75zM155.2 421.0h.75v.75h-.75zM159.5 428.9h.75v.75h-.75zM154.3 427.1h.75v.75h-.75zM148.6 418.4h.75v.75h-.75zM152.5 427.1h.75v.75h-.75zM170.7 422.9h.75v.75h-.75zM165.9 396.1h.75v.75h-.75zM147.9 416.1h.75v.75h-.75zM150.0 423.2h.75v.75h-.75zM155.2 410.1h.75v.75h-.75zM161.3 422.0h.75v.75h-.75zM158.2 417.7h.75v.75h-.75zM165.5 409.0h.75v.75h-.75zM158.6 421.4h.75v.75h-.75zM150.7 393.1h.75v.75h-.75zM157.1 411.0h.75v.75h-.75zM165.5 416.7h.75v.75h-.75zM154.0 449.6h.75v.75h-.75zM149.8 391.5h.75v.75h-.75zM160.7 422.1h.75v.75h-.75zM165.2 414.0h.75v.75h-.75zM155.4 407.9h.75v.75h-.75zM157.8 430.7h.75v.75h-.75zM150.5 437.7h.75v.75h-.75zM147.4 439.8h.75v.75h-.75zM147.5 431.5h.75v.75h-.75zM164.2 414.0h.75v.75h-.75zM169.2 414.1h.75v.75h-.75zM171.7 419.3h.75v.75h-.75zM160.0 433.5h.75v.75h-.75zM151.2 425.3h.75v.75h-.75zM164.8 398.7h.75v.75h-.75zM159.7 413.7h.75v.75h-.75zM168.4 422.3h.75v.75h-.75zM158.8 424.2h.75v.75h-.75zM159.9 432.3h.75v.75h-.75zM157.2 413.2h.75v.75h-.75zM158.8 410.2h.75v.75h-.75zM153.2 413.4h.75v.75h-.75zM162.6 418.5h.75v.75h-.75zM162.7 424.6h.75v.75h-.75zM164.6 408.2h.75v.75h-.75zM150.5 408.6h.75v.75h-.75zM158.8 436.4h.75v.75h-.75zM157.0 411.3h.75v.75h-.75zM162.3 421.2h.75v.75h-.75zM165.1 436.0h.75v.75h-.75zM155.4 434.4h.75v.75h-.75zM158.4 410.1h.75v.75h-.75zM146.2 433.8h.75v.75h-.75zM148.7 396.8h.75v.75h-.75zM162.8 427.2h.75v.75h-.75zM160.4 425.2h.75v.75h-.75zM165.8 413.1h.75v.75h-.75zM160.3 409.8h.75v.75h-.75zM160.6 431.7h.75v.75h-.75zM156.6 391.4h.75v.75h-.75zM160.0 402.1h.75v.75h-.75zM150.0 406.4h.75v.75h-.75zM167.7 404.6h.75v.75h-.75zM153.9 404.5h.75v.75h-.75zM164.5 406.2h.75v.75h-.75zM156.9 396.9h.75v.75h-.75zM161.7 403.2h.75v.75h-.75zM165.0 414.4h.75v.75h-.75zM164.1 405.3h.75v.75h-.75zM159.7 401.8h.75v.75h-.75zM162.4 404.4h.75v.75h-.75zM164.1 409.9h.75v.75h-.75zM164.3 400.2h.75v.75h-.75zM159.7 400.8h.75v.75h-.75zM154.0 404.7h.75v.75h-.75zM149.3 400.8h.75v.75h-.75zM152.6 401.0h.75v.75h-.75zM164.7 403.9h.75v.75h-.75zM154.1 402.4h.75v.75h-.75zM158.3 406.1h.75v.75h-.75zM153.6 405.6h.75v.75h-.75zM153.5 400.4h.75v.75h-.75zM166.4 405.2h.75v.75h-.75zM167.0 404.2h.75v.75h-.75zM148.1 403.6h.75v.75h-.75zM172.1 406.3h.75v.75h-.75zM157.9 399.4h.75v.75h-.75zM158.3 404.9h.75v.75h-.75zM156.8 400.8h.75v.75h-.75zM157.2 409.5h.75v.75h-.75zM157.8 406.8h.75v.75h-.75zM162.7 401.4h.75v.75h-.75zM148.2 394.2h.75v.75h-.75zM152.7 402.4h.75v.75h-.75zM159.1 404.6h.75v.75h-.75zM160.1 404.0h.75v.75h-.75zM166.7 406.0h.75v.75h-.75zM171.0 407.1h.75v.75h-.75zM190.6 413.4h.75v.75h-.75zM184.9 406.4h.75v.75h-.75zM185.8 420.4h.75v.75h-.75zM184.7 417.7h.75v.75h-.75zM196.7 413.6h.75v.75h-.75zM184.0 410.3h.75v.75h-.75zM194.2 411.9h.75v.75h-.75zM175.8 412.7h.75v.75h-.75zM187.9 433.4h.75v.75h-.75zM197.3 420.0h.75v.75h-.75zM184.2 405.7h.75v.75h-.75zM190.4 410.5h.75v.75h-.75zM177.8 424.7h.75v.75h-.75zM189.3 398.9h.75v.75h-.75zM182.6 399.2h.75v.75h-.75zM195.0 419.0h.75v.75h-.75zM184.9 395.2h.75v.75h-.75zM184.7 411.1h.75v.75h-.75zM204.5 425.6h.75v.75h-.75zM188.3 402.3h.75v.75h-.75zM187.6 413.4h.75v.75h-.75zM183.5 404.4h.75v.75h-.75zM195.8 406.6h.75v.75h-.75zM186.4 393.6h.75v.75h-.75zM183.9 404.1h.75v.75h-.75zM191.5 397.9h.75v.75h-.75zM183.6 405.4h.75v.75h-.75zM190.4 403.0h.75v.75h-.75zM196.1 425.1h.75v.75h-.75zM177.6 408.2h.75v.75h-.75zM173.7 423.5h.75v.75h-.75zM204.7 429.9h.75v.75h-.75zM196.9 412.6h.75v.75h-.75zM191.1 426.4h.75v.75h-.75zM185.1 415.7h.75v.75h-.75zM179.7 414.1h.75v.75h-.75zM194.9 396.8h.75v.75h-.75zM192.7 404.5h.75v.75h-.75zM184.8 414.4h.75v.75h-.75zM186.4 421.6h.75v.75h-.75zM202.4 404.2h.75v.75h-.75zM198.1 424.9h.75v.75h-.75zM186.0 406.2h.75v.75h-.75zM186.7 416.1h.75v.75h-.75zM179.0 401.9h.75v.75h-.75zM192.9 424.9h.75v.75h-.75zM183.6 409.4h.75v.75h-.75zM185.0 412.9h.75v.75h-.75zM203.5 412.5h.75v.75h-.75zM183.6 418.5h.75v.75h-.75zM199.2 414.0h.75v.75h-.75zM180.5 411.1h.75v.75h-.75zM181.2 427.0h.75v.75h-.75zM191.1 421.2h.75v.75h-.75zM192.7 403.7h.75v.75h-.75zM181.6 398.7h.75v.75h-.75zM180.4 400.0h.75v.75h-.75zM195.2 414.2h.75v.75h-.75zM181.9 398.5h.75v.75h-.75zM185.8 400.4h.75v.75h-.75zM190.4 396.0h.75v.75h-.75zM185.8 394.6h.75v.75h-.75zM187.4 401.8h.75v.75h-.75zM199.9 399.6h.75v.75h-.75zM197.7 395.7h.75v.75h-.75zM199.1 397.3h.75v.75h-.75zM190.9 398.4h.75v.75h-.75zM203.9 402.1h.75v.75h-.75zM189.6 395.3h.75v.75h-.75zM189.7 396.2h.75v.75h-.75zM189.6 408.1h.75v.75h-.75zM191.5 396.3h.75v.75h-.75zM187.3 397.9h.75v.75h-.75zM198.9 403.5h.75v.75h-.75zM179.5 402.4h.75v.75h-.75zM210.2 401.8h.75v.75h-.75zM205.1 396.8h.75v.75h-.75zM181.4 402.1h.75v.75h-.75zM196.4 397.9h.75v.75h-.75zM204.7 399.8h.75v.75h-.75zM198.7 392.0h.75v.75h-.75zM176.6 395.5h.75v.75h-.75zM180.7 394.1h.75v.75h-.75zM192.4 393.5h.75v.75h-.75zM175.2 393.7h.75v.75h-.75zM192.1 400.3h.75v.75h-.75zM182.2 400.6h.75v.75h-.75zM199.0 401.3h.75v.75h-.75zM188.5 397.7h.75v.75h-.75zM184.4 396.5h.75v.75h-.75zM198.8 388.5h.75v.75h-.75zM192.4 398.5h.75v.75h-.75zM192.6 397.0h.75v.75h-.75zM189.7 403.0h.75v.75h-.75zM185.7 398.6h.75v.75h-.75zM189.9 401.5h.75v.75h-.75zM193.0 391.7h.75v.75h-.75zM190.7 388.4h.75v.75h-.75zM195.7 400.0h.75v.75h-.75zM190.4 400.0h.75v.75h-.75zM208.0 399.9h.75v.75h-.75zM195.7 401.2h.75v.75h-.75zM183.2 398.9h.75v.75h-.75zM181.7 439.5h.75v.75h-.75zM180.2 445.0h.75v.75h-.75zM186.3 444.9h.75v.75h-.75zM199.0 442.8h.75v.75h-.75zM180.8 442.2h.75v.75h-.75zM183.6 435.2h.75v.75h-.75zM184.0 430.0h.75v.75h-.75zM184.9 444.7h.75v.75h-.75zM187.7 449.2h.75v.75h-.75zM173.0 430.9h.75v.75h-.75zM185.6 427.0h.75v.75h-.75zM180.6 434.2h.75v.75h-.75zM179.5 436.9h.75v.75h-.75zM187.8 450.7h.75v.75h-.75zM192.0 437.1h.75v.75h-.75zM188.4 422.2h.75v.75h-.75zM198.1 442.9h.75v.75h-.75zM179.3 436.4h.75v.75h-.75zM181.1 451.6h.75v.75h-.75zM193.2 438.0h.75v.75h-.75zM190.9 427.5h.75v.75h-.75zM180.3 440.8h.75v.75h-.75zM188.2 445.2h.75v.75h-.75zM173.9 442.2h.75v.75h-.75zM182.5 429.7h.75v.75h-.75zM187.8 420.2h.75v.75h-.75zM201.4 431.9h.75v.75h-.75zM177.8 436.2h.75v.75h-.75zM196.4 434.2h.75v.75h-.75zM182.9 435.4h.75v.75h-.75zM161.4 432.1h.75v.75h-.75zM188.2 434.8h.75v.75h-.75zM191.5 434.2h.75v.75h-.75zM184.5 439.8h.75v.75h-.75zM190.8 442.1h.75v.75h-.75zM185.4 448.8h.75v.75h-.75zM178.6 442.4h.75v.75h-.75zM189.5 437.4h.75v.75h-.75zM176.8 450.0h.75v.75h-.75zM189.4 439.8h.75v.75h-.75zM195.4 433.5h.75v.75h-.75zM168.1 426.4h.75v.75h-.75zM181.7 427.8h.75v.75h-.75zM181.7 436.3h.75v.75h-.75zM172.7 433.2h.75v.75h-.75zM171.6 439.4h.75v.75h-.75zM175.2 441.5h.75v.75h-.75zM184.2 443.1h.75v.75h-.75zM188.1 433.4h.75v.75h-.75zM163.4 444.7h.75v.75h-.75zM194.7 430.2h.75v.75h-.75zM177.6 429.5h.75v.75h-.75zM176.2 428.1h.75v.75h-.75zM164.6 429.4h.75v.75h-.75zM189.4 436.6h.75v.75h-.75zM197.8 434.8h.75v.75h-.75zM192.9 414.8h.75v.75h-.75zM170.5 436.1h.75v.75h-.75zM179.4 435.0h.75v.75h-.75zM181.9 425.0h.75v.75h-.75zM165.0 425.0h.75v.75h-.75zM167.8 420.2h.75v.75h-.75zM179.1 428.4h.75v.75h-.75zM176.3 425.4h.75v.75h-.75zM178.2 431.7h.75v.75h-.75zM167.6 427.9h.75v.75h-.75zM164.8 430.0h.75v.75h-.75zM168.3 444.5h.75v.75h-.75zM155.6 425.5h.75v.75h-.75zM169.2 443.8h.75v.75h-.75zM171.9 429.8h.75v.75h-.75zM167.4 422.7h.75v.75h-.75zM171.6 430.9h.75v.75h-.75zM171.4 417.0h.75v.75h-.75zM177.3 420.3h.75v.75h-.75zM167.4 437.6h.75v.75h-.75zM169.4 424.6h.75v.75h-.75zM183.7 417.0h.75v.75h-.75zM178.0 421.1h.75v.75h-.75zM166.3 434.5h.75v.75h-.75zM182.0 442.3h.75v.75h-.75zM169.1 433.8h.75v.75h-.75zM184.0 436.1h.75v.75h-.75zM186.9 411.5h.75v.75h-.75zM171.3 416.9h.75v.75h-.75zM179.4 417.2h.75v.75h-.75zM173.9 409.1h.75v.75h-.75zM172.6 434.1h.75v.75h-.75zM180.7 413.8h.75v.75h-.75zM174.9 425.2h.75v.75h-.75zM181.8 414.0h.75v.75h-.75zM179.5 446.3h.75v.75h-.75zM174.9 406.0h.75v.75h-.75zM186.2 418.3h.75v.75h-.75zM186.8 430.0h.75v.75h-.75zM175.3 421.8h.75v.75h-.75zM186.3 422.1h.75v.75h-.75zM170.6 428.4h.75v.75h-.75zM175.6 432.2h.75v.75h-.75zM170.0 444.6h.75v.75h-.75zM162.2 419.8h.75v.75h-.75zM176.7 406.1h.75v.75h-.75zM181.2 427.8h.75v.75h-.75zM171.1 434.9h.75v.75h-.75zM188.4 424.0h.75v.75h-.75zM182.3 432.1h.75v.75h-.75zM185.2 417.9h.75v.75h-.75zM175.2 430.3h.75v.75h-.75zM179.6 437.9h.75v.75h-.75z" fill="#777" fill-opacity="0.75"/>
<path d="M156.3 440.1h.75v.75h-.75zM166.4 443.2h.75v.75h-.75zM151.0 439.2h.75v.75h-.75zM160.6 444.0h.75v.75h-.75zM153.2 437.8h.75v.75h-.75zM154.5 436.6h.75v.75h-.75zM161.5 433.6h.75v.75h-.75zM162.1 441.5h.75v.75h-.75zM169.6 443.8h.75v.75h-.75zM154.5 434.9h.75v.75h-.75zM146.5 443.1h.75v.75h-.75zM149.2 447.2h.75v.75h-.75zM170.9 445.2h.75v.75h-.75zM164.9 431.9h.75v.75h-.75zM162.5 441.0h.75v.75h-.75zM152.8 439.5h.75v.75h-.75zM169.8 439.4h.75v.75h-.75zM169.4 436.2h.75v.75h-.75zM167.2 446.5h.75v.75h-.75zM156.7 443.4h.75v.75h-.75zM174.2 443.6h.75v.75h-.75zM155.4 443.9h.75v.75h-.75zM161.3 443.1h.75v.75h-.75zM177.6 443.8h.75v.75h-.75zM166.2 435.4h.75v.75h-.75zM155.4 445.3h.75v.75h-.75zM163.6 433.6h.75v.75h-.75zM164.5 442.6h.75v.75h-.75zM180.1 435.5h.75v.75h-.75zM159.9 445.3h.75v.75h-.75zM168.3 445.9h.75v.75h-.75zM164.3 450.6h.75v.75h-.75zM157.4 438.5h.75v.75h-.75zM167.2 450.0h.75v.75h-.75zM159.0 442.5h.75v.75h-.75zM158.0 446.4h.75v.75h-.75zM170.1 450.7h.75v.75h-.75zM156.6 441.7h.75v.75h-.75zM162.4 447.3h.75v.75h-.75zM166.2 446.2h.75v.75h-.75zM165.5 438.7h.75v.75h-.75zM153.0 431.1h.75v.75h-.75zM164.4 445.9h.75v.75h-.75zM161.7 430.4h.75v.75h-.75zM173.6 432.2h.75v.75h-.75zM162.6 446.8h.75v.75h-.75zM157.8 440.8h.75v.75h-.75zM151.3 437.2h.75v.75h-.75zM163.1 444.5h.75v.75h-.75zM160.7 438.0h.75v.75h-.75zM160.5 442.8h.75v.75h-.75zM148.6 434.4h.75v.75h-.75zM151.1 443.3h.75v.75h-.75zM162.6 423.7h.75v.75h-.75zM159.5 408.1h.75v.75h-.75zM159.1 421.1h.75v.75h-.75zM162.4 416.4h.75v.75h-.75zM151.3 439.3h.75v.75h-.75zM162.9 421.1h.75v.75h-.75zM171.5 431.5h.75v.75h-.75zM156.9 432.7h.75v.75h-.75zM168.4 416.0h.75v.75h-.75zM166.5 418.9h.75v.75h-.75zM165.0 419.1h.75v.75h-.75zM157.3 427.7h.75v.75h-.75zM155.9 392.7h.75v.75h-.75zM157.4 400.4h.75v.75h-.75zM157.7 395.2h.75v.75h-.75zM154.4 400.6h.75v.75h-.75zM170.4 434.0h.75v.75h-.75zM158.5 418.9h.75v.75h-.75zM157.6 414.8h.75v.75h-.75zM158.5 410.1h.75v.75h-.75zM160.2 400.9h.75v.75h-.75zM158.9 407.8h.75v.75h-.75zM153.7 401.2h.75v.75h-.75zM155.4 420.2h.75v.75h-.75zM167.4 420.4h.75v.75h-.75zM163.6 449.2h.75v.75h-.75zM163.0 416.8h.75v.75h-.75zM161.0 446.4h.75v.75h-.75zM153.1 422.2h.75v.75h-.75zM171.6 419.1h.75v.75h-.75zM164.2 412.6h.75v.75h-.75zM154.0 429.4h.75v.75h-.75zM155.2 448.5h.75v.75h-.75zM169.4 403.0h.75v.75h-.75zM158.7 414.8h.75v.75h-.75zM158.6 422.8h.75v.75h-.75zM155.5 439.2h.75v.75h-.75zM152.1 414.2h.75v.75h-.75zM153.8 419.0h.75v.75h-.75zM160.3 424.1h.75v.75h-.75zM159.1 405.4h.75v.75h-.75zM164.7 422.8h.75v.75h-.75zM162.5 411.9h.75v.75h-.75zM173.1 411.6h.75v.75h-.75zM165.9 409.9h.75v.75h-.75zM164.7 417.1h.75v.75h-.75zM170.3 411.4h.75v.75h-.75zM171.8 424.4h.75v.75h-.75zM163.1 426.0h.75v.75h-.75zM149.3 416.2h.75v.75h-.75zM156.5 432.5h.75v.75h-.75zM159.7 428.6h.75v.75h-.75zM147.9 419.0h.75v.75h-.75zM159.4 422.2h.75v.75h-.75zM162.7 398.4h.75v.75h-.75zM161.4 410.3h.75v.75h-.75zM154.3 419.0h.75v.75h-.75zM163.7 429.2h.75v.75h-.75zM166.1 423.6h.75v.75h-.75zM166.1 446.8h.75v.75h-.75zM154.4 427.1h.75v.75h-.75zM162.8 417.0h.75v.75h-.75zM162.6 406.4h.75v.75h-.75zM161.6 430.4h.75v.75h-.75zM159.4 415.1h.75v.75h-.75zM158.9 391.0h.75v.75h-.75zM158.2 439.4h.75v.75h-.75zM168.3 409.6h.75v.75h-.75zM177.0 410.2h.75v.75h-.75zM163.4 415.2h.75v.75h-.75zM153.9 411.6h.75v.75h-.75zM163.2 439.4h.75v.75h-.75zM149.5 451.2h.75v.75h-.75zM166.4 427.5h.75v.75h-.75zM151.0 405.5h.75v.75h-.75zM162.5 409.7h.75v.75h-.75zM159.2 428.6h.75v.75h-.75zM153.7 418.4h.75v.75h-.75zM168.1 394.5h.75v.75h-.75zM168.9 415.9h.75v.75h-.75zM158.3 441.3h.75v.75h-.75zM160.6 431.0h.75v.75h-.75zM156.2 411.7h.75v.75h-.75zM157.2 426.9h.75v.75h-.75zM151.6 428.9h.75v.75h-.75zM154.0 424.5h.75v.75h-.75zM154.3 429.4h.75v.75h-.75zM175.3 419.9h.75v.75h-.75zM154.8 420.7h.75v.75h-.75zM168.0 428.5h.75v.75h-.75zM165.9 428.4h.75v.75h-.75zM178.3 406.4h.75v.75h-.75zM167.7 408.6h.75v.75h-.75zM147.1 433.0h.75v.75h-.75zM151.8 417.4h.75v.75h-.75zM166.8 405.1h.75v.75h-.75zM151.0 400.9h.75v.75h-.75zM149.0 406.5h.75v.75h-.75zM153.0 404.0h.75v.75h-.75zM154.8 404.1h.75v.75h-.75zM156.1 403.8h.75v.75h-.75zM155.8 403.7h.75v.75h-.75zM172.7 393.4h.75v.75h-.75zM161.8 402.6h.75v.75h-.75zM158.3 401.5h.75v.75h-.75zM159.5 406.8h.75v.75h-.75zM166.8 411.8h.75v.75h-.75zM164.6 407.1h.75v.75h-.75zM175.6 411.5h.75v.75h-.75zM167.3 403.5h.75v.75h-.75zM158.0 402.6h.75v.75h-.75zM158.0 404.0h.75v.75h-.75zM161.5 405.9h.75v.75h-.75zM163.3 406.2h.75v.75h-.75zM152.5 400.6h.75v.75h-.75zM166.4 407.1h.75v.75h-.75zM168.2 404.2h.75v.75h-.75zM168.6 401.3h.75v.75h-.75zM153.8 405.5h.75v.75h-.75zM161.7 403.0h.75v.75h-.75zM159.8 401.5h.75v.75h-.75zM160.4 397.6h.75v.75h-.75zM157.7 399.4h.75v.75h-.75zM152.2 409.5h.75v.75h-.75zM151.1 402.4h.75v.75h-.75zM162.9 403.2h.75v.75h-.75zM157.5 394.2h.75v.75h-.75zM159.2 412.5h.75v.75h-.75zM153.7 396.4h.75v.75h-.75zM160.4 409.3h.75v.75h-.75zM170.7 409.5h.75v.75h-.75zM154.6 398.5h.75v.75h-.75zM149.7 409.4h.75v.75h-.75zM204.6 400.7h.75v.75h-.75zM197.0 398.4h.75v.75h-.75zM191.9 414.2h.75v.75h-.75zM194.9 412.7h.75v.75h-.75zM197.8 409.4h.75v.75h-.75zM177.2 417.9h.75v.75h-.75zM191.2 408.8h.75v.75h-.75zM190.7 387.1h.75v.75h-.75zM192.6 421.5h.75v.75h-.75zM188.0 417.9h.75v.75h-.75zM200.7 419.5h.75v.75h-.75zM183.0 417.1h.75v.75h-.75zM190.7 418.6h.75v.75h-.75zM190.0 421.8h.75v.75h-.75zM185.3 418.3h.75v.75h-.75zM193.0 420.3h.75v.75h-.75zM193.3 407.4h.75v.75h-.75zM191.6 416.2h.75v.75h-.75zM186.8 417.0h.75v.75h-.75zM195.1 417.1h.75v.75h-.75zM192.7 423.9h.75v.75h-.75zM178.4 421.3h.75v.75h-.75zM195.5 421.3h.75v.75h-.75zM178.0 405.1h.75v.75h-.75zM190.9 398.0h.75v.75h-.75zM185.1 423.5h.75v.75h-.75zM185.2 406.9h.75v.75h-.75zM181.3 393.3h.75v.75h-.75zM168.8 413.4h.75v.75h-.75zM197.6 407.9h.75v.75h-.75zM178.4 410.8h.75v.75h-.75zM192.0 425.1h.75v.75h-.75zM187.5 414.2h.75v.75h-.75zM178.9 418.5h.75v.75h-.75zM197.7 407.8h.75v.75h-.75zM198.1 423.1h.75v.75h-.75zM192.0 434.8h.75v.75h-.75zM183.0 413.3h.75v.75h-.75zM192.6 406.1h.75v.75h-.75zM201.1 412.1h.75v.75h-.75zM179.5 417.4h.75v.75h-.75zM202.3 417.7h.75v.75h-.75zM188.3 410.7h.75v.75h-.75zM192.5 414.8h.75v.75h-.75zM200.1 402.8h.75v.75h-.75zM181.3 395.2h.75v.75h-.75zM177.0 409.0h.75v.75h-.75zM189.5 416.7h.75v.75h-.75zM180.3 412.4h.75v.75h-.75zM179.7 414.1h.75v.75h-.75zM192.0 411.0h.75v.75h-.75zM182.0 392.8h.75v.75h-.75zM190.7 410.4h.75v.75h-.75zM183.5 419.4h.75v.75h-.75zM180.7 417.2h.75v.75h-.75zM183.2 411.7h.75v.75h-.75zM185.9 418.7h.75v.75h-.75zM200.8 415.4h.75v.75h-.75zM194.0 412.1h.75v.75h-.75zM197.8 405.2h.75v.75h-.75zM187.8 395.3h.75v.75h-.75zM191.0 398.8h.75v.75h-.75zM196.3 391.5h.75v.75h-.75zM186.6 401.7h.75v.75h-.75zM194.0 398.3h.75v.75h-.75zM198.0 398.2h.75v.75h-.75zM187.0 398.8h.75v.75h-.75zM202.3 398.0h.75v.75h-.75zM191.2 398.4h.75v.75h-.75zM203.2 400.0h.75v.75h-.75zM181.4 393.3h.75v.75h-.75zM189.9 397.2h.75v.75h-.75zM185.3 403.8h.75v.75h-.75zM183.1 401.7h.75v.75h-.75zM182.6 402.2h.75v.75h-.75zM203.3 395.4h.75v.75h-.75zM185.8 390.6h.75v.75h-.75zM184.6 395.8h.75v.75h-.75zM176.5 392.7h.75v.75h-.75zM180.7 400.3h.75v.75h-.75zM196.2 390.4h.75v.75h-.75zM183.1 389.7h.75v.75h-.75zM194.2 404.2h.75v.75h-.75zM184.8 398.4h.75v.75h-.75zM202.5 401.6h.75v.75h-.75zM197.4 394.6h.75v.75h-.75zM195.4 403.5h.75v.75h-.75zM191.6 398.8h.75v.75h-.75zM191.2 395.6h.75v.75h-.75zM214.0 400.4h.75v.75h-.75zM191.7 393.7h.75v.75h-.75zM190.1 398.9h.75v.75h-.75zM175.0 395.0h.75v.75h-.75zM183.6 395.5h.75v.75h-.75zM177.4 390.1h.75v.75h-.75zM214.3 395.2h.75v.75h-.75zM204.3 392.9h.75v.75h-.75zM176.1 388.6h.75v.75h-.75zM187.1 394.8h.75v.75h-.75zM189.9 399.9h.75v.75h-.75zM189.6 397.3h.75v.75h-.75zM193.6 407.0h.75v.75h-.75zM205.2 403.1h.75v.75h-.75zM194.2 393.7h.75v.75h-.75zM178.5 426.9h.75v.75h-.75zM185.1 442.1h.75v.75h-.75zM173.1 452.6h.75v.75h-.75zM178.1 432.0h.75v.75h-.75zM201.6 436.6h.75v.75h-.75zM180.0 430.2h.75v.75h-.75zM181.5 437.2h.75v.75h-.75zM186.5 433.9h.75v.75h-.75zM179.7 431.7h.75v.75h-.75zM180.2 442.2h.75v.75h-.75zM182.1 439.6h.75v.75h-.75zM184.1 430.1h.75v.75h-.75zM189.8 432.0h.75v.75h-.75zM177.5 440.4h.75v.75h-.75zM170.9 440.0h.75v.75h-.75zM175.0 448.2h.75v.75h-.75zM191.2 434.2h.75v.75h-.75zM187.4 435.7h.75v.75h-.75zM185.1 437.5h.75v.75h-.75zM171.4 432.3h.75v.75h-.75zM185.6 438.0h.75v.75h-.75zM177.1 439.3h.75v.75h-.75zM181.0 432.0h.75v.75h-.75zM187.0 428.6h.75v.75h-.75zM181.6 444.0h.75v.75h-.75zM188.1 422.6h.75v.75h-.75zM181.2 445.2h.75v.75h-.75zM171.4 440.7h.75v.75h-.75zM192.9 432.5h.75v.75h-.75zM176.7 431.9h.75v.75h-.75zM176.2 432.6h.75v.75h-.75zM176.7 447.7h.75v.75h-.75zM180.0 445.7h.75v.75h-.75zM178.6 444.7h.75v.75h-.75zM187.7 427.5h.75v.75h-.75zM170.1 439.3h.75v.75h-.75zM183.0 446.3h.75v.75h-.75zM185.4 432.3h.75v.75h-.75zM182.9 439.3h.75v.75h-.75zM167.5 441.6h.75v.75h-.75zM185.7 442.8h.75v.75h-.75zM185.8 428.1h.75v.75h-.75zM184.2 424.6h.75v.75h-.75zM182.3 426.3h.75v.75h-.75zM185.0 420.9h.75v.75h-.75zM179.9 430.3h.75v.75h-.75zM185.2 421.7h.75v.75h-.75zM188.3 445.1h.75v.75h-.75zM190.6 424.1h.75v.75h-.75zM183.9 437.0h.75v.75h-.75zM149.9 430.0h.75v.75h-.75zM173.5 445.2h.75v.75h-.75zM188.2 441.3h.75v.75h-.75zM191.3 434.8h.75v.75h-.75zM164.9 434.1h.75v.75h-.75zM176.8 436.5h.75v.75h-.75zM188.3 431.4h.75v.75h-.75zM183.3 441.5h.75v.75h-.75zM167.7 444.3h.75v.75h-.75zM180.9 413.7h.75v.75h-.75zM174.0 439.2h.75v.75h-.75zM178.5 428.9h.75v.75h-.75zM160.4 422.2h.75v.75h-.75zM176.0 416.1h.75v.75h-.75zM189.2 437.5h.75v.75h-.75zM191.0 431.9h.75v.75h-.75zM175.1 427.8h.75v.75h-.75zM177.9 417.0h.75v.75h-.75zM175.5 434.8h.75v.75h-.75zM161.0 426.6h.75v.75h-.75zM181.6 423.4h.75v.75h-.75zM172.7 426.9h.75v.75h-.75zM177.5 432.4h.75v.75h-.75zM182.1 437.8h.75v.75h-.75zM160.9 431.5h.75v.75h-.75zM160.7 442.4h.75v.75h-.75zM171.1 426.4h.75v.75h-.75zM171.1 430.4h.75v.75h-.75zM165.2 423.8h.75v.75h-.75zM168.8 421.3h.75v.75h-.75zM170.0 438.1h.75v.75h-.75zM174.3 428.4h.75v.75h-.75zM173.5 434.8h.75v.75h-.75zM179.5 430.8h.75v.75h-.75zM165.1 432.5h.75v.75h-.75zM171.6 420.2h.75v.75h-.75zM177.3 425.5h.75v.75h-.75zM181.8 426.9h.75v.75h-.75zM173.8 417.3h.75v.75h-.75zM182.1 409.9h.75v.75h-.75zM180.9 427.0h.75v.75h-.75zM175.1 420.6h.75v.75h-.75zM174.4 429.1h.75v.75h-.75zM174.0 406.0h.75v.75h-.75zM166.5 430.0h.75v.75h-.75zM170.9 407.5h.75v.75h-.75zM169.3 422.8h.75v.75h-.75zM173.5 429.9h.75v.75h-.75zM166.5 423.8h.75v.75h-.75zM181.6 434.8h.75v.75h-.75zM180.9 437.8h.75v.75h-.75zM180.1 430.3h.75v.75h-.75zM179.2 439.5h.75v.75h-.75zM172.0 429.4h.75v.75h-.75zM186.1 432.8h.75v.75h-.75zM170.4 427.4h.75v.75h-.75zM162.1 408.0h.75v.75h-.75zM188.7 427.8h.75v.75h-.75zM185.5 406.0h.75v.75h-.75z" fill="#777" fill-opacity="0.75"/>
<path d="M150.7 440.7h.75v.75h-.75zM161.3 442.8h.75v.75h-.75zM160.6 441.6h.75v.75h-.75zM152.8 451.3h.75v.75h-.75zM155.4 441.2h.75v.75h-.75zM154.0 448.5h.75v.75h-.75zM158.5 449.0h.75v.75h-.75zM146.4 446.4h.75v.75h-.75zM159.1 434.7h.75v.75h-.75zM150.4 438.9h.75v.75h-.75zM169.7 445.0h.75v.75h-.75zM166.9 442.7h.75v.75h-.75zM162.3 444.8h.75v.75h-.75zM156.7 447.4h.75v.75h-.75zM160.7 445.4h.75v.75h-.75zM166.5 442.0h.75v.75h-.75zM147.1 441.1h.75v.75h-.75zM168.2 434.8h.75v.75h-.75zM160.9 442.6h.75v.75h-.75zM162.7 441.8h.75v.75h-.75zM154.7 439.8h.75v.75h-.75zM172.8 427.7h.75v.75h-.75zM154.7 445.4h.75v.75h-.75zM153.7 441.3h.75v.75h-.75zM157.6 447.1h.75v.75h-.75zM166.9 427.1h.75v.75h-.75zM159.5 448.4h.75v.75h-.75zM157.4 450.3h.75v.75h-.75zM165.4 440.4h.75v.75h-.75zM163.0 436.5h.75v.75h-.75zM169.9 436.7h.75v.75h-.75zM151.0 450.4h.75v.75h-.75zM161.3 444.1h.75v.75h-.75zM169.7 440.8h.75v.75h-.75zM169.5 440.4h.75v.75h-.75zM158.8 449.1h.75v.75h-.75zM152.8 446.7h.75v.75h-.75zM153.4 443.1h.75v.75h-.75zM156.5 434.9h.75v.75h-.75zM158.2 446.3h.75v.75h-.75zM150.9 437.6h.75v.75h-.75zM163.9 440.3h.75v.75h-.75zM163.5 443.6h.75v.75h-.75zM165.3 449.0h.75v.75h-.75zM150.7 445.6h.75v.75h-.75zM150.9 441.3h.75v.75h-.75zM150.0 439.9h.75v.75h-.75zM179.5 448.1h.75v.75h-.75zM171.6 444.2h.75v.75h-.75zM168.7 451.8h.75v.75h-.75zM154.9 436.5h.75v.75h-.75zM171.8 447.3h.75v.75h-.75zM158.7 425.6h.75v.75h-.75zM163.9 421.5h.75v.75h-.75zM154.4 418.8h.75v.75h-.75zM158.1 402.5h.75v.75h-.75zM162.5 406.3h.75v.75h-.75zM156.3 401.0h.75v.75h-.75zM170.3 428.0h.75v.75h-.75zM166.8 404.7h.75v.75h-.75zM163.6 430.6h.75v.75h-.75zM159.8 452.6h.75v.75h-.75zM150.4 421.3h.75v.75h-.75zM165.5 425.8h.75v.75h-.75zM151.2 410.7h.75v.75h-.75zM154.0 426.2h.75v.75h-.75zM172.8 425.5h.75v.75h-.75zM165.0 431.0h.75v.75h-.75zM159.4 422.1h.75v.75h-.75zM149.3 412.3h.75v.75h-.75zM162.8 398.2h.75v.75h-.75zM158.7 408.9h.75v.75h-.75zM151.8 419.3h.75v.75h-.75zM157.2 414.7h.75v.75h-.75zM158.0 418.0h.75v.75h-.75zM156.3 409.2h.75v.75h-.75zM163.0 413.5h.75v.75h-.75zM167.5 387.9h.75v.75h-.75zM161.5 435.5h.75v.75h-.75zM162.9 404.8h.75v.75h-.75zM157.4 419.1h.75v.75h-.75zM163.5 428.1h.75v.75h-.75zM161.1 413.3h.75v.75h-.75zM153.9 428.2h.75v.75h-.75zM158.8 422.9h.75v.75h-.75zM159.2 429.0h.75v.75h-.75zM147.8 397.8h.75v.75h-.75zM158.2 404.7h.75v.75h-.75zM162.6 415.8h.75v.75h-.75zM164.9 417.3h.75v.75h-.75zM161.3 425.5h.75v.75h-.75zM180.1 394.6h.75v.75h-.75zM157.3 423.6h.75v.75h-.75zM151.3 427.0h.75v.75h-.75zM162.9 417.5h.75v.75h-.75zM158.4 428.6h.75v.75h-.75zM160.2 416.9h.75v.75h-.75zM159.0 418.7h.75v.75h-.75zM162.5 423.6h.75v.75h-.75zM151.5 401.2h.75v.75h-.75zM161.0 447.9h.75v.75h-.75zM151.5 403.6h.75v.75h-.75zM155.1 424.8h.75v.75h-.75zM169.6 414.1h.75v.75h-.75zM170.5 413.9h.75v.75h-.75zM154.1 423.7h.75v.75h-.75zM155.0 430.4h.75v.75h-.75zM154.0 418.6h.75v.75h-.75zM161.4 440.5h.75v.75h-.75zM160.4 432.1h.75v.75h-.75zM163.8 453.0h.75v.75h-.75zM171.6 402.7h.75v.75h-.75zM159.1 415.5h.75v.75h-.75zM159.4 419.7h.75v.75h-.75zM164.1 416.9h.75v.75h-.75zM167.2 423.3h.75v.75h-.75zM160.6 416.9h.75v.75h-.75zM161.8 419.8h.75v.75h-.75zM156.0 427.6h.75v.75h-.75zM156.7 428.4h.75v.75h-.75zM160.7 417.8h.75v.75h-.75zM154.8 425.3h.75v.75h-.75zM163.1 398.7h.75v.75h-.75zM156.1 430.0h.75v.75h-.75zM159.2 423.6h.75v.75h-.75zM175.7 393.0h.75v.75h-.75zM157.1 405.1h.75v.75h-.75zM158.9 393.6h.75v.75h-.75zM152.5 413.7h.75v.75h-.75zM168.0 441.0h.75v.75h-.75zM163.0 401.2h.75v.75h-.75zM165.2 421.5h.75v.75h-.75zM165.7 413.5h.75v.75h-.75zM162.5 416.8h.75v.75h-.75zM162.3 425.6h.75v.75h-.75zM165.8 419.7h.75v.75h-.75zM161.8 403.1h.75v.75h-.75zM157.0 414.5h.75v.75h-.75zM152.6 448.9h.75v.75h-.75zM155.9 425.3h.75v.75h-.75zM146.8 429.9h.75v.75h-.75zM168.6 420.4h.75v.75h-.75zM153.0 430.0h.75v.75h-.75zM165.7 386.9h.75v.75h-.75zM156.7 419.3h.75v.75h-.75zM161.1 412.0h.75v.75h-.75zM161.4 411.6h.75v.75h-.75zM163.2 425.7h.75v.75h-.75zM158.2 402.7h.75v.75h-.75zM153.9 401.4h.75v.75h-.75zM151.0 405.2h.75v.75h-.75zM159.2 396.9h.75v.75h-.75zM163.3 406.9h.75v.75h-.75zM156.2 402.6h.75v.75h-.75zM151.3 403.7h.75v.75h-.75zM156.7 396.5h.75v.75h-.75zM162.0 394.9h.75v.75h-.75zM162.6 401.9h.75v.75h-.75zM152.0 403.7h.75v.75h-.75zM151.8 396.1h.75v.75h-.75zM153.8 401.0h.75v.75h-.75zM153.3 400.9h.75v.75h-.75zM150.5 409.1h.75v.75h-.75zM160.4 401.1h.75v.75h-.75zM162.0 404.3h.75v.75h-.75zM157.3 403.1h.75v.75h-.75zM159.6 409.1h.75v.75h-.75zM169.0 410.9h.75v.75h-.75zM166.6 398.8h.75v.75h-.75zM152.1 402.4h.75v.75h-.75zM158.3 412.5h.75v.75h-.75zM169.5 406.3h.75v.75h-.75zM161.1 409.0h.75v.75h-.75zM156.0 407.0h.75v.75h-.75zM171.6 404.1h.75v.75h-.75zM158.6 405.7h.75v.75h-.75zM153.6 396.6h.75v.75h-.75zM160.2 399.1h.75v.75h-.75zM159.0 403.3h.75v.75h-.75zM158.0 400.3h.75v.75h-.75zM150.8 399.3h.75v.75h-.75zM147.7 406.3h.75v.75h-.75zM171.7 408.0h.75v.75h-.75zM156.0 405.7h.75v.75h-.75zM154.4 397.6h.75v.75h-.75zM164.4 396.2h.75v.75h-.75zM193.1 415.6h.75v.75h-.75zM179.8 399.3h.75v.75h-.75zM189.4 405.7h.75v.75h-.75zM186.7 425.8h.75v.75h-.75zM195.3 401.8h.75v.75h-.75zM182.4 423.4h.75v.75h-.75zM191.1 406.8h.75v.75h-.75zM197.8 412.1h.75v.75h-.75zM181.0 425.7h.75v.75h-.75zM186.4 401.8h.75v.75h-.75zM184.8 396.9h.75v.75h-.75zM191.6 409.4h.75v.75h-.75zM196.3 405.7h.75v.75h-.75zM176.8 408.9h.75v.75h-.75zM197.2 426.2h.75v.75h-.75zM190.6 400.1h.75v.75h-.75zM191.4 418.9h.75v.75h-.75zM189.2 419.8h.75v.75h-.75zM201.1 409.6h.75v.75h-.75zM202.4 410.2h.75v.75h-.75zM193.1 415.6h.75v.75h-.75zM186.1 401.9h.75v.75h-.75zM178.9 420.2h.75v.75h-.75zM184.4 414.9h.75v.75h-.75zM195.9 401.0h.75v.75h-.75zM195.5 417.2h.75v.75h-.75zM181.8 416.4h.75v.75h-.75zM193.6 423.8h.75v.75h-.75zM198.2 414.5h.75v.75h-.75zM197.0 418.8h.75v.75h-.75zM193.5 402.2h.75v.75h-.75zM179.2 421.4h.75v.75h-.75zM188.0 420.8h.75v.75h-.75zM185.6 417.5h.75v.75h-.75zM191.7 427.7h.75v.75h-.75zM193.0 399.9h.75v.75h-.75zM182.7 422.1h.75v.75h-.75zM185.4 410.4h.75v.75h-.75zM185.0 416.7h.75v.75h-.75zM188.0 418.4h.75v.75h-.75zM185.3 404.6h.75v.75h-.75zM200.0 403.0h.75v.75h-.75zM207.5 413.4h.75v.75h-.75zM190.5 427.3h.75v.75h-.75zM196.9 428.3h.75v.75h-.75zM192.5 395.1h.75v.75h-.75zM174.7 418.8h.75v.75h-.75zM186.5 412.0h.75v.75h-.75zM174.6 407.4h.75v.75h-.75zM181.8 397.0h.75v.75h-.75zM182.2 402.1h.75v.75h-.75zM178.9 434.1h.75v.75h-.75zM187.0 399.5h.75v.75h-.75zM176.4 409.4h.75v.75h-.75zM192.0 405.2h.75v.75h-.75zM168.8 410.8h.75v.75h-.75zM186.1 423.2h.75v.75h-.75zM196.2 404.4h.75v.75h-.75zM198.2 406.0h.75v.75h-.75zM181.3 403.4h.75v.75h-.75zM185.7 394.0h.75v.75h-.75zM192.8 389.1h.75v.75h-.75zM184.4 396.6h.75v.75h-.75zM178.4 390.6h.75v.75h-.75zM194.0 393.0h.75v.75h-.75zM174.3 392.7h.75v.75h-.75zM186.7 395.6h.75v.75h-.75zM205.2 405.0h.75v.75h-.75zM189.0 394.9h.75v.75h-.75zM186.6 390.2h.75v.75h-.75zM172.1 400.1h.75v.75h-.75zM201.7 398.4h.75v.75h-.75zM198.1 404.7h.75v.75h-.75zM179.0 400.1h.75v.75h-.75zM184.4 394.8h.75v.75h-.75zM184.0 396.5h.75v.75h-.75zM184.7 402.6h.75v.75h-.75zM175.0 401.5h.75v.75h-.75zM192.4 394.8h.75v.75h-.75zM196.9 390.2h.75v.75h-.75zM184.4 396.4h.75v.75h-.75zM188.2 399.2h.75v.75h-.75zM195.4 396.6h.75v.75h-.75zM189.7 404.5h.75v.75h-.75zM190.9 394.9h.75v.75h-.75zM179.6 398.6h.75v.75h-.75zM183.4 401.7h.75v.75h-.75zM197.9 397.8h.75v.75h-.75zM184.1 395.7h.75v.75h-.75zM196.3 394.4h.75v.75h-.75zM203.0 395.6h.75v.75h-.75zM191.7 400.2h.75v.75h-.75zM171.4 400.3h.75v.75h-.75zM204.9 404.7h.75v.75h-.75zM186.3 394.3h.75v.75h-.75zM190.5 398.9h.75v.75h-.75zM191.4 396.8h.75v.75h-.75zM194.3 398.6h.75v.75h-.75zM178.8 394.2h.75v.75h-.75zM185.3 398.1h.75v.75h-.75zM189.0 395.2h.75v.75h-.75zM201.3 391.6h.75v.75h-.75zM196.3 393.1h.75v.75h-.75zM177.7 433.6h.75v.75h-.75zM192.3 449.6h.75v.75h-.75zM185.5 430.7h.75v.75h-.75zM199.9 451.4h.75v.75h-.75zM173.8 437.8h.75v.75h-.75zM187.2 440.6h.75v.75h-.75zM182.7 436.6h.75v.75h-.75zM186.6 428.3h.75v.75h-.75zM176.7 434.9h.75v.75h-.75zM184.5 438.5h.75v.75h-.75zM170.4 428.7h.75v.75h-.75zM180.1 428.7h.75v.75h-.75zM190.9 423.4h.75v.75h-.75zM186.0 432.3h.75v.75h-.75zM172.8 444.6h.75v.75h-.75zM191.5 445.5h.75v.75h-.75zM170.1 445.9h.75v.75h-.75zM170.1 436.0h.75v.75h-.75zM182.9 440.2h.75v.75h-.75zM179.3 431.8h.75v.75h-.75zM179.9 433.3h.75v.75h-.75zM170.5 437.2h.75v.75h-.75zM166.1 428.2h.75v.75h-.75zM190.9 420.1h.75v.75h-.75zM164.1 448.4h.75v.75h-.75zM157.8 445.7h.75v.75h-.75zM191.4 440.0h.75v.75h-.75zM175.4 431.2h.75v.75h-.75zM186.0 437.4h.75v.75h-.75zM187.9 421.3h.75v.75h-.75zM178.0 431.1h.75v.75h-.75zM171.6 435.7h.75v.75h-.75zM189.9 444.2h.75v.75h-.75zM176.1 435.9h.75v.75h-.75zM179.5 442.6h.75v.75h-.75zM169.3 431.9h.75v.75h-.75zM173.4 431.0h.75v.75h-.75zM172.3 443.9h.75v.75h-.75zM171.3 433.6h.75v.75h-.75zM187.8 430.6h.75v.75h-.75zM186.1 440.4h.75v.75h-.75zM173.0 446.4h.75v.75h-.75zM180.1 423.7h.75v.75h-.75zM185.2 434.7h.75v.75h-.75zM158.0 437.1h.75v.75h-.75zM174.3 431.9h.75v.75h-.75zM172.3 443.3h.75v.75h-.75zM171.4 436.8h.75v.75h-.75zM177.8 435.1h.75v.75h-.75zM187.0 435.4h.75v.75h-.75zM171.4 433.1h.75v.75h-.75zM170.3 435.8h.75v.75h-.75zM168.1 452.5h.75v.75h-.75zM171.7 442.8h.75v.75h-.75zM169.4 440.9h.75v.75h-.75zM184.9 443.0h.75v.75h-.75zM192.0 429.3h.75v.75h-.75zM185.3 442.3h.75v.75h-.75zM172.8 428.9h.75v.75h-.75zM170.8 439.2h.75v.75h-.75zM172.5 419.1h.75v.75h-.75zM148.3 418.1h.75v.75h-.75zM175.4 420.1h.75v.75h-.75zM164.1 413.0h.75v.75h-.75zM173.5 415.7h.75v.75h-.75zM168.7 420.2h.75v.75h-.75zM157.5 412.3h.75v.75h-.75zM189.4 416.6h.75v.75h-.75zM158.9 409.6h.75v.75h-.75zM174.0 417.9h.75v.75h-.75zM175.3 431.0h.75v.75h-.75zM171.5 423.0h.75v.75h-.75zM185.8 437.9h.75v.75h-.75zM175.3 427.5h.75v.75h-.75zM180.4 429.2h.75v.75h-.75zM176.7 419.3h.75v.75h-.75zM180.2 448.5h.75v.75h-.75zM173.4 417.3h.75v.75h-.75zM170.8 420.5h.75v.75h-.75zM173.4 441.9h.75v.75h-.75zM172.5 427.5h.75v.75h-.75zM183.1 433.0h.75v.75h-.75zM173.0 431.5h.75v.75h-.75zM186.7 415.5h.75v.75h-.75zM187.0 427.6h.75v.75h-.75zM173.2 417.6h.75v.75h-.75zM188.4 439.5h.75v.75h-.75zM177.9 430.5h.75v.75h-.75zM171.9 420.0h.75v.75h-.75zM164.0 430.9h.75v.75h-.75zM174.6 427.7h.75v.75h-.75zM186.0 436.2h.75v.75h-.75zM172.4 415.4h.75v.75h-.75zM183.1 421.4h.75v.75h-.75zM169.0 416.9h.75v.75h-.75zM178.9 422.5h.75v.75h-.75zM174.4 437.4h.75v.75h-.75zM182.1 428.3h.75v.75h-.75zM171.9 410.5h.75v.75h-.75zM182.0 421.2h.75v.75h-.75zM167.8 440.7h.75v.75h-.75zM167.9 418.4h.75v.75h-.75zM171.6 430.1h.75v.75h-.75zM171.4 426.4h.75v.75h-.75zM176.2 425.5h.75v.75h-.75zM185.3 423.2h.75v.75h-.75zM174.1 424.5h.75v.75h-.75zM171.6 418.6h.75v.75h-.75zM178.7 417.7h.75v.75h-.75z" fill="#777" fill-opacity="0.75"/>
<path d="M167.9,442.2C168.0,442.9 167.9,443.6 167.7,444.3C167.5,445.0 167.1,445.7 166.6,446.3C166.1,447.0 165.5,447.7 164.7,448.2C163.9,448.8 162.8,449.3 161.8,449.4C160.8,449.6 159.5,449.4 158.5,449.2C157.5,449.0 156.6,448.5 155.8,448.1C155.0,447.8 154.2,447.5 153.5,447.1C152.7,446.7 151.9,446.4 151.2,445.9C150.6,445.5 150.0,444.9 149.6,444.2C149.2,443.6 149.0,442.9 148.9,442.2C148.7,441.5 148.6,440.7 148.8,440.0C149.0,439.2 149.4,438.4 150.0,437.8C150.7,437.3 151.7,436.8 152.6,436.5C153.6,436.2 154.6,436.0 155.6,435.9C156.6,435.7 157.5,435.5 158.5,435.4C159.5,435.4 160.6,435.4 161.5,435.6C162.5,435.8 163.4,436.3 164.1,436.8C164.7,437.3 165.2,437.9 165.7,438.5C166.2,439.1 166.6,439.6 167.0,440.2C167.4,440.9 167.8,441.5 167.9,442.2Z" fill="none" stroke="#444" stroke-opacity="0.45" stroke-width="0.5"/><path d="M168.0,442.2C168.0,442.9 167.6,443.6 167.2,444.2C166.8,444.8 166.2,445.4 165.6,445.9C165.0,446.4 164.3,446.8 163.6,447.2C162.8,447.5 161.9,447.6 161.0,447.7C160.2,447.8 159.4,447.8 158.5,447.8C157.6,447.8 156.9,447.8 155.9,447.8C155.0,447.8 153.9,447.8 153.0,447.6C152.1,447.3 151.1,446.9 150.5,446.3C149.8,445.8 149.5,445.0 149.3,444.3C149.1,443.6 149.2,442.9 149.3,442.2C149.4,441.5 149.6,440.8 150.0,440.3C150.4,439.7 151.0,439.1 151.6,438.7C152.3,438.2 153.0,437.9 153.8,437.6C154.5,437.2 155.1,436.9 155.9,436.6C156.7,436.3 157.6,436.0 158.5,435.9C159.4,435.8 160.5,435.8 161.3,436.1C162.2,436.3 163.0,436.7 163.7,437.1C164.4,437.6 165.0,438.0 165.7,438.5C166.3,439.0 167.0,439.5 167.4,440.2C167.8,440.8 168.1,441.5 168.0,442.2Z" fill="none" stroke="#444" stroke-opacity="0.56" stroke-width="0.5"/><path d="M166.1,442.2C166.2,442.8 166.2,443.4 166.0,443.9C165.9,444.5 165.6,445.2 165.2,445.6C164.7,446.1 164.0,446.6 163.3,446.9C162.6,447.2 161.8,447.4 161.0,447.6C160.2,447.8 159.4,448.1 158.5,448.2C157.6,448.3 156.6,448.4 155.7,448.2C154.9,448.1 154.0,447.7 153.3,447.2C152.7,446.8 152.3,446.1 151.9,445.6C151.6,445.0 151.3,444.4 151.2,443.9C151.0,443.3 150.9,442.8 150.9,442.2C151.0,441.6 151.2,441.1 151.5,440.6C151.7,440.1 152.0,439.6 152.4,439.1C152.7,438.5 153.0,437.9 153.6,437.4C154.1,436.9 154.9,436.3 155.7,436.1C156.5,435.8 157.6,435.7 158.5,435.8C159.4,435.9 160.3,436.3 161.1,436.6C161.9,436.9 162.6,437.2 163.2,437.6C163.8,438.0 164.5,438.4 164.9,438.9C165.4,439.4 165.7,439.9 165.9,440.5C166.1,441.0 166.1,441.6 166.1,442.2Z" fill="none" stroke="#444" stroke-opacity="0.68" stroke-width="0.5"/><path d="M166.3,442.2C166.1,442.8 165.6,443.3 165.2,443.7C164.8,444.2 164.4,444.6 164.0,445.0C163.6,445.4 163.2,445.9 162.6,446.2C162.1,446.5 161.4,446.8 160.7,447.0C160.0,447.2 159.3,447.3 158.5,447.3C157.7,447.4 156.9,447.4 156.1,447.3C155.4,447.2 154.5,447.1 153.9,446.7C153.2,446.4 152.7,445.9 152.3,445.4C151.9,444.9 151.7,444.4 151.4,443.8C151.2,443.3 150.9,442.8 150.8,442.2C150.8,441.6 150.8,441.0 151.0,440.5C151.3,440.0 151.9,439.5 152.4,439.1C153.0,438.7 153.8,438.5 154.5,438.3C155.1,438.0 155.7,437.8 156.4,437.6C157.1,437.5 157.8,437.3 158.5,437.2C159.2,437.2 160.0,437.2 160.7,437.3C161.5,437.4 162.2,437.6 163.0,437.8C163.7,438.1 164.5,438.4 165.1,438.8C165.7,439.2 166.3,439.8 166.5,440.4C166.7,440.9 166.6,441.6 166.3,442.2Z" fill="none" stroke="#444" stroke-opacity="0.79" stroke-width="0.5"/><path d="M165.7,442.2C165.8,442.7 165.8,443.3 165.5,443.8C165.3,444.3 164.7,444.8 164.2,445.1C163.7,445.5 163.0,445.7 162.4,446.0C161.8,446.2 161.1,446.4 160.5,446.5C159.8,446.6 159.1,446.6 158.5,446.5C157.9,446.5 157.3,446.4 156.6,446.2C156.0,446.1 155.4,446.1 154.7,445.9C154.1,445.7 153.2,445.5 152.7,445.2C152.1,444.9 151.6,444.3 151.3,443.8C151.1,443.3 151.2,442.7 151.3,442.2C151.4,441.7 151.8,441.2 152.0,440.7C152.3,440.3 152.7,439.8 153.1,439.4C153.5,439.0 154.1,438.7 154.7,438.5C155.2,438.2 155.9,438.1 156.6,438.0C157.2,437.8 157.8,437.7 158.5,437.7C159.2,437.6 159.9,437.6 160.6,437.7C161.2,437.8 161.9,438.0 162.5,438.3C163.0,438.6 163.4,439.1 163.8,439.5C164.2,439.9 164.5,440.3 164.9,440.7C165.2,441.2 165.6,441.7 165.7,442.2Z" fill="none" stroke="#444" stroke-opacity="0.90" stroke-width="0.5"/>
<path d="M164.9,442.2C165.0,442.7 165.0,443.2 164.8,443.6C164.6,444.1 164.3,444.5 163.9,445.0C163.6,445.4 163.2,445.8 162.6,446.2C162.1,446.5 161.5,446.9 160.8,447.1C160.1,447.2 159.2,447.3 158.5,447.1C157.8,447.0 157.1,446.7 156.6,446.4C156.0,446.1 155.6,445.8 155.1,445.5C154.6,445.2 154.1,445.0 153.7,444.7C153.2,444.3 152.8,444.0 152.5,443.6C152.2,443.2 152.0,442.7 152.0,442.2C151.9,441.7 151.8,441.2 152.0,440.7C152.1,440.2 152.3,439.7 152.7,439.2C153.0,438.8 153.7,438.4 154.3,438.2C155.0,438.0 155.8,437.9 156.5,437.8C157.2,437.8 157.8,437.8 158.5,437.8C159.2,437.8 159.9,437.7 160.5,437.8C161.2,438.0 161.9,438.2 162.4,438.5C162.9,438.8 163.3,439.2 163.6,439.6C163.9,440.0 164.1,440.4 164.3,440.9C164.6,441.3 164.8,441.7 164.9,442.2Z" fill="none" stroke="#000" stroke-opacity="0.85" stroke-width="0.8"/><path d="M165.0,442.2C164.9,442.6 164.6,443.1 164.3,443.5C164.0,443.9 163.6,444.2 163.2,444.6C162.8,444.9 162.4,445.2 161.9,445.4C161.4,445.7 160.8,445.9 160.2,446.0C159.7,446.0 159.1,446.0 158.5,446.0C157.9,446.0 157.3,446.0 156.8,445.9C156.2,445.8 155.6,445.7 155.1,445.5C154.6,445.3 154.1,444.9 153.8,444.6C153.5,444.2 153.3,443.8 153.1,443.4C152.9,443.0 152.7,442.6 152.6,442.2C152.5,441.8 152.3,441.3 152.4,440.8C152.6,440.4 152.9,439.9 153.3,439.6C153.7,439.2 154.4,439.0 155.0,438.8C155.6,438.7 156.2,438.6 156.8,438.5C157.4,438.5 157.9,438.4 158.5,438.4C159.1,438.5 159.6,438.6 160.1,438.7C160.7,438.8 161.1,439.0 161.6,439.2C162.1,439.4 162.7,439.5 163.2,439.8C163.7,440.1 164.3,440.4 164.6,440.8C164.9,441.2 165.1,441.8 165.0,442.2Z" fill="none" stroke="#000" stroke-opacity="0.88" stroke-width="0.8"/><path d="M163.8,442.2C163.8,442.6 163.7,443.0 163.5,443.3C163.2,443.7 162.9,444.0 162.5,444.2C162.1,444.5 161.6,444.6 161.2,444.8C160.8,445.0 160.4,445.2 160.0,445.3C159.5,445.5 159.0,445.7 158.5,445.7C158.0,445.8 157.4,445.7 156.9,445.6C156.4,445.5 156.0,445.2 155.6,445.0C155.2,444.8 154.8,444.5 154.5,444.2C154.1,444.0 153.7,443.7 153.4,443.3C153.2,443.0 153.0,442.6 153.1,442.2C153.1,441.8 153.3,441.4 153.5,441.1C153.7,440.7 154.0,440.4 154.3,440.1C154.7,439.8 155.1,439.5 155.5,439.4C156.0,439.2 156.5,439.1 157.0,439.1C157.5,439.0 158.0,439.1 158.5,439.1C159.0,439.1 159.4,439.1 159.9,439.1C160.4,439.2 161.1,439.1 161.6,439.3C162.1,439.4 162.6,439.6 163.0,439.9C163.4,440.2 163.6,440.6 163.7,441.0C163.9,441.4 163.9,441.8 163.8,442.2Z" fill="none" stroke="#000" stroke-opacity="0.90" stroke-width="0.8"/><path d="M162.8,442.2C162.8,442.5 162.8,442.8 162.6,443.1C162.5,443.4 162.2,443.7 161.9,443.9C161.6,444.2 161.4,444.4 161.0,444.6C160.7,444.8 160.3,445.1 159.9,445.2C159.5,445.3 159.0,445.4 158.5,445.4C158.0,445.4 157.6,445.3 157.1,445.1C156.7,445.0 156.3,444.9 155.9,444.7C155.6,444.5 155.2,444.2 155.0,444.0C154.8,443.7 154.8,443.4 154.7,443.1C154.7,442.8 154.8,442.5 154.8,442.2C154.8,441.9 154.7,441.7 154.7,441.4C154.8,441.0 154.7,440.7 154.9,440.4C155.1,440.1 155.4,439.8 155.7,439.6C156.1,439.4 156.6,439.2 157.1,439.1C157.5,439.0 158.0,439.0 158.5,439.0C159.0,439.0 159.5,439.1 159.9,439.3C160.3,439.4 160.6,439.6 160.9,439.9C161.2,440.1 161.4,440.4 161.6,440.6C161.9,440.9 162.1,441.1 162.3,441.3C162.5,441.6 162.7,441.9 162.8,442.2Z" fill="none" stroke="#000" stroke-opacity="0.93" stroke-width="0.8"/><path d="M162.4,442.2C162.3,442.5 162.0,442.7 161.8,443.0C161.6,443.2 161.3,443.3 161.1,443.5C160.8,443.7 160.6,443.8 160.4,444.0C160.1,444.2 159.9,444.3 159.5,444.4C159.2,444.5 158.9,444.6 158.5,444.6C158.1,444.6 157.8,444.6 157.4,444.5C157.0,444.5 156.6,444.4 156.3,444.3C156.0,444.2 155.7,444.0 155.5,443.7C155.3,443.5 155.2,443.2 155.1,443.0C155.0,442.7 155.0,442.5 155.0,442.2C155.0,441.9 155.0,441.7 155.1,441.4C155.2,441.2 155.3,440.9 155.6,440.7C155.8,440.5 156.2,440.4 156.5,440.3C156.8,440.2 157.2,440.1 157.5,440.1C157.8,440.0 158.2,440.0 158.5,439.9C158.8,439.9 159.2,439.9 159.6,439.9C159.9,440.0 160.3,440.1 160.6,440.2C160.9,440.3 161.2,440.5 161.5,440.7C161.8,440.9 162.1,441.1 162.2,441.4C162.4,441.6 162.4,441.9 162.4,442.2Z" fill="none" stroke="#000" stroke-opacity="0.95" stroke-width="0.8"/><path d="M160.9,442.2C160.9,442.4 161.0,442.6 160.9,442.7C160.9,442.9 160.8,443.1 160.7,443.3C160.6,443.5 160.3,443.6 160.1,443.8C159.9,443.9 159.6,444.0 159.4,444.1C159.1,444.2 158.8,444.2 158.5,444.3C158.2,444.3 157.9,444.2 157.6,444.1C157.3,444.0 157.1,443.9 156.9,443.8C156.7,443.6 156.5,443.5 156.3,443.3C156.1,443.2 155.9,443.0 155.8,442.8C155.7,442.6 155.7,442.4 155.7,442.2C155.8,442.0 155.9,441.8 156.1,441.6C156.2,441.5 156.3,441.3 156.5,441.2C156.6,441.0 156.8,440.9 157.0,440.7C157.1,440.6 157.4,440.4 157.6,440.4C157.9,440.3 158.2,440.2 158.5,440.2C158.8,440.2 159.1,440.2 159.4,440.2C159.7,440.3 160.1,440.3 160.3,440.5C160.5,440.6 160.7,440.8 160.8,441.0C160.9,441.2 160.9,441.4 160.9,441.6C161.0,441.8 160.9,442.0 160.9,442.2Z" fill="none" stroke="#000" stroke-opacity="0.97" stroke-width="0.8"/><path d="M160.7,442.2C160.6,442.3 160.5,442.5 160.4,442.6C160.3,442.7 160.1,442.8 160.0,442.9C159.8,443.0 159.7,443.2 159.6,443.2C159.4,443.3 159.3,443.4 159.1,443.5C158.9,443.5 158.7,443.5 158.5,443.5C158.3,443.5 158.1,443.5 157.9,443.5C157.7,443.4 157.5,443.4 157.3,443.3C157.1,443.3 157.0,443.2 156.8,443.0C156.7,442.9 156.6,442.8 156.6,442.6C156.5,442.5 156.5,442.3 156.5,442.2C156.5,442.1 156.4,441.9 156.5,441.7C156.6,441.6 156.7,441.4 156.8,441.3C157.0,441.2 157.2,441.2 157.4,441.1C157.6,441.1 157.8,441.1 158.0,441.0C158.1,441.0 158.3,441.0 158.5,441.0C158.7,440.9 158.9,440.9 159.1,440.9C159.3,440.9 159.5,441.0 159.7,441.1C159.9,441.1 160.1,441.2 160.2,441.3C160.4,441.4 160.5,441.6 160.6,441.7C160.7,441.9 160.7,442.1 160.7,442.2Z" fill="none" stroke="#000" stroke-opacity="1.00" stroke-width="0.8"/>
<ellipse cx="158.80" cy="442.40" rx="2.4" ry="0.9" fill="#fff"/>
<path d="M168.6,420.2C168.4,422.0 168.0,423.7 167.6,425.3C167.2,426.8 166.8,428.3 166.2,429.5C165.6,430.7 164.9,431.7 164.1,432.5C163.4,433.3 162.7,433.8 161.9,434.4C161.1,435.0 160.4,435.7 159.5,436.1C158.6,436.5 157.6,436.9 156.7,436.6C155.8,436.3 154.9,435.4 154.2,434.3C153.5,433.2 153.0,431.5 152.5,430.0C152.0,428.5 151.5,427.0 151.2,425.4C150.9,423.7 150.5,421.9 150.5,420.2C150.4,418.5 150.6,416.5 151.0,414.9C151.3,413.3 152.0,411.9 152.6,410.6C153.2,409.4 153.9,408.3 154.6,407.4C155.4,406.5 156.1,405.6 157.0,405.2C157.8,404.8 158.7,404.8 159.5,404.9C160.3,405.0 161.1,405.5 161.9,405.8C162.8,406.1 163.7,406.3 164.5,406.9C165.4,407.5 166.5,408.2 167.2,409.5C167.9,410.7 168.5,412.7 168.7,414.5C168.9,416.2 168.8,418.4 168.6,420.2Z" fill="none" stroke="#444" stroke-opacity="0.40" stroke-width="0.5"/><path d="M166.9,420.2C166.8,421.6 166.5,423.0 166.2,424.4C166.0,425.7 165.7,427.0 165.4,428.4C165.0,429.7 164.7,431.4 164.2,432.6C163.7,433.9 162.9,435.2 162.1,435.8C161.3,436.3 160.3,436.3 159.5,436.1C158.7,435.9 157.8,435.2 157.1,434.5C156.3,433.8 155.7,432.9 155.1,431.8C154.5,430.8 154.1,429.5 153.8,428.2C153.4,426.9 153.3,425.5 153.1,424.2C152.9,422.9 152.7,421.6 152.5,420.2C152.4,418.8 152.1,417.1 152.1,415.6C152.2,414.1 152.4,412.2 152.8,410.9C153.3,409.6 154.1,408.6 154.8,407.7C155.5,406.9 156.3,406.5 157.1,406.0C157.9,405.6 158.7,405.2 159.5,405.1C160.3,405.1 161.2,405.4 161.9,405.9C162.7,406.5 163.3,407.6 163.9,408.6C164.5,409.6 165.0,410.7 165.4,411.9C165.9,413.1 166.3,414.4 166.6,415.8C166.8,417.2 166.9,418.8 166.9,420.2Z" fill="none" stroke="#444" stroke-opacity="0.47" stroke-width="0.5"/><path d="M165.9,420.2C166.0,421.5 165.9,422.8 165.7,424.1C165.6,425.4 165.4,426.8 165.1,428.0C164.7,429.1 164.2,430.4 163.6,431.1C163.1,431.9 162.3,432.3 161.6,432.6C160.9,432.9 160.2,432.9 159.5,433.0C158.8,433.0 158.1,433.0 157.4,432.7C156.7,432.4 155.9,431.9 155.4,431.0C154.9,430.1 154.5,428.8 154.2,427.6C154.0,426.3 153.9,425.0 153.8,423.8C153.6,422.5 153.5,421.4 153.4,420.2C153.4,419.0 153.3,417.7 153.4,416.4C153.6,415.2 153.8,413.9 154.2,412.7C154.5,411.6 154.9,410.4 155.4,409.4C155.9,408.4 156.5,407.3 157.2,406.7C157.9,406.2 158.8,405.8 159.5,406.0C160.2,406.2 161.0,407.1 161.6,407.9C162.2,408.7 162.6,409.8 163.1,410.7C163.5,411.7 164.0,412.4 164.4,413.4C164.8,414.3 165.2,415.3 165.5,416.5C165.8,417.6 165.9,418.9 165.9,420.2Z" fill="none" stroke="#444" stroke-opacity="0.54" stroke-width="0.5"/><path d="M165.2,420.2C165.1,421.3 165.0,422.5 164.9,423.5C164.7,424.6 164.5,425.8 164.2,426.7C163.8,427.6 163.3,428.5 162.8,429.0C162.3,429.5 161.7,429.5 161.1,429.7C160.6,429.9 160.0,429.8 159.5,429.9C159.0,430.0 158.4,430.2 157.8,430.1C157.3,430.0 156.6,429.8 156.1,429.3C155.5,428.7 155.0,427.9 154.6,427.0C154.2,426.1 153.9,425.0 153.7,423.8C153.4,422.7 153.2,421.4 153.3,420.2C153.3,419.0 153.6,417.7 154.0,416.7C154.3,415.8 154.9,415.1 155.3,414.3C155.7,413.6 156.2,413.1 156.6,412.5C157.0,411.8 157.4,411.0 157.9,410.5C158.3,410.0 158.9,409.5 159.5,409.4C160.1,409.2 160.7,409.5 161.3,409.8C161.8,410.1 162.4,410.6 162.9,411.2C163.4,411.8 164.0,412.5 164.3,413.5C164.7,414.4 165.0,415.6 165.1,416.7C165.3,417.8 165.2,419.1 165.2,420.2Z" fill="none" stroke="#444" stroke-opacity="0.61" stroke-width="0.5"/><path d="M164.1,420.2C164.1,421.1 164.0,422.0 163.9,422.9C163.7,423.8 163.6,424.8 163.3,425.5C163.1,426.3 162.6,427.0 162.2,427.4C161.8,427.8 161.3,427.9 160.8,428.1C160.4,428.3 160.0,428.3 159.5,428.4C159.0,428.4 158.6,428.6 158.1,428.5C157.6,428.4 157.1,428.2 156.7,427.7C156.2,427.2 155.8,426.5 155.5,425.8C155.2,425.0 154.9,424.1 154.7,423.2C154.5,422.3 154.3,421.2 154.4,420.2C154.4,419.2 154.7,418.2 155.0,417.4C155.2,416.6 155.7,416.0 156.1,415.4C156.4,414.8 156.8,414.4 157.1,413.9C157.4,413.3 157.7,412.6 158.1,412.2C158.5,411.8 159.0,411.3 159.5,411.2C160.0,411.1 160.5,411.3 161.0,411.5C161.5,411.7 161.9,412.1 162.4,412.6C162.8,413.1 163.3,413.8 163.6,414.6C163.8,415.3 164.1,416.4 164.2,417.3C164.2,418.2 164.2,419.3 164.1,420.2Z" fill="none" stroke="#444" stroke-opacity="0.69" stroke-width="0.5"/><path d="M163.6,420.2C163.6,421.0 163.4,421.8 163.2,422.5C163.0,423.2 162.7,423.7 162.4,424.3C162.2,424.8 161.9,425.4 161.6,425.8C161.3,426.2 161.0,426.7 160.6,426.9C160.3,427.1 159.9,427.1 159.5,427.1C159.1,427.0 158.8,426.8 158.4,426.5C158.1,426.3 157.7,426.1 157.4,425.7C157.1,425.3 156.8,424.9 156.5,424.3C156.3,423.8 156.2,423.0 156.0,422.4C155.9,421.7 155.8,421.0 155.8,420.2C155.7,419.4 155.6,418.6 155.7,417.8C155.8,417.1 155.9,416.2 156.2,415.6C156.4,414.9 156.9,414.5 157.2,414.2C157.6,413.9 158.0,413.9 158.4,413.9C158.8,413.8 159.1,413.8 159.5,413.8C159.9,413.8 160.2,413.8 160.5,414.0C160.9,414.2 161.2,414.5 161.5,414.9C161.8,415.2 162.1,415.6 162.4,416.1C162.7,416.6 163.1,417.2 163.3,417.9C163.5,418.5 163.6,419.4 163.6,420.2Z" fill="none" stroke="#444" stroke-opacity="0.76" stroke-width="0.5"/><path d="M162.1,420.2C162.1,420.7 162.0,421.2 161.9,421.7C161.8,422.2 161.7,422.6 161.5,423.1C161.4,423.5 161.3,423.9 161.1,424.4C160.9,424.8 160.7,425.3 160.4,425.6C160.2,425.9 159.8,426.1 159.5,426.1C159.2,426.0 158.9,425.7 158.6,425.4C158.4,425.1 158.1,424.7 157.9,424.3C157.8,423.9 157.6,423.5 157.4,423.1C157.3,422.6 157.2,422.2 157.1,421.7C157.1,421.2 157.1,420.7 157.0,420.2C157.0,419.7 157.0,419.2 157.0,418.7C157.1,418.1 157.1,417.5 157.2,417.0C157.3,416.5 157.6,416.0 157.8,415.7C158.0,415.4 158.4,415.2 158.6,415.1C158.9,415.0 159.2,415.0 159.5,415.0C159.8,415.0 160.1,415.0 160.4,415.1C160.6,415.2 160.9,415.5 161.1,415.8C161.4,416.2 161.5,416.7 161.7,417.2C161.8,417.7 161.9,418.2 161.9,418.7C162.0,419.2 162.1,419.7 162.1,420.2Z" fill="none" stroke="#444" stroke-opacity="0.83" stroke-width="0.5"/><path d="M161.1,420.2C161.0,420.5 161.0,420.8 161.0,421.1C161.0,421.4 160.9,421.8 160.8,422.1C160.7,422.3 160.6,422.6 160.5,422.8C160.4,423.0 160.2,423.2 160.0,423.3C159.9,423.5 159.7,423.6 159.5,423.7C159.3,423.7 159.1,423.7 158.9,423.5C158.8,423.4 158.6,423.2 158.5,422.9C158.3,422.7 158.2,422.4 158.1,422.1C158.0,421.9 157.9,421.6 157.8,421.3C157.7,420.9 157.7,420.5 157.7,420.2C157.7,419.9 157.8,419.5 157.9,419.2C158.0,418.9 158.1,418.7 158.2,418.4C158.3,418.2 158.4,417.9 158.6,417.7C158.7,417.5 158.8,417.3 159.0,417.1C159.1,417.0 159.3,416.9 159.5,416.9C159.7,416.8 159.9,416.8 160.1,416.9C160.3,416.9 160.5,417.0 160.6,417.2C160.8,417.4 161.0,417.7 161.0,418.1C161.1,418.4 161.1,418.8 161.1,419.2C161.1,419.5 161.1,419.9 161.1,420.2Z" fill="none" stroke="#444" stroke-opacity="0.90" stroke-width="0.5"/>
<path d="M165.5,405.7C165.6,406.1 165.6,406.0 165.4,406.1C165.2,406.3 164.8,406.4 164.4,406.5C164.0,406.6 163.3,406.7 162.8,406.8C162.2,406.9 161.6,406.9 160.9,407.0C160.3,407.0 159.6,407.0 159.0,407.0C158.4,407.0 157.7,407.0 157.1,406.9C156.5,406.9 156.1,406.8 155.6,406.7C155.1,406.6 154.7,406.5 154.2,406.4C153.8,406.3 153.2,406.2 152.8,406.1C152.4,406.0 152.1,406.1 152.0,405.7C151.9,405.3 152.1,404.4 152.3,403.9C152.6,403.3 153.0,402.8 153.5,402.3C154.0,401.9 154.5,401.5 155.1,401.2C155.7,400.9 156.5,400.8 157.1,400.8C157.7,400.7 158.4,400.9 159.0,400.9C159.6,401.0 160.2,401.0 160.8,401.1C161.4,401.2 162.1,401.2 162.7,401.4C163.3,401.6 164.0,401.9 164.4,402.4C164.9,402.8 165.1,403.4 165.3,404.0C165.5,404.5 165.5,405.3 165.5,405.7Z" fill="none" stroke="#222" stroke-opacity="0.60" stroke-width="0.7"/><path d="M164.0,405.7C164.0,406.0 163.9,405.9 163.7,406.0C163.5,406.1 163.2,406.2 162.9,406.3C162.6,406.4 162.3,406.5 162.0,406.6C161.6,406.6 161.2,406.8 160.7,406.8C160.2,406.9 159.6,406.9 159.0,407.0C158.4,407.0 157.8,406.9 157.2,406.8C156.7,406.8 156.3,406.7 155.9,406.6C155.5,406.5 155.2,406.4 154.9,406.3C154.7,406.2 154.5,406.1 154.4,406.0C154.2,405.9 154.3,406.0 154.3,405.7C154.3,405.4 154.3,404.9 154.4,404.4C154.4,404.0 154.5,403.5 154.7,403.1C154.9,402.6 155.3,402.2 155.7,401.9C156.2,401.6 156.8,401.5 157.3,401.4C157.9,401.3 158.4,401.3 159.0,401.3C159.6,401.3 160.1,401.3 160.7,401.4C161.2,401.5 161.8,401.7 162.2,401.9C162.7,402.2 163.0,402.7 163.3,403.1C163.5,403.5 163.7,404.0 163.8,404.4C163.9,404.8 164.0,405.4 164.0,405.7Z" fill="none" stroke="#222" stroke-opacity="0.73" stroke-width="0.7"/><path d="M162.9,405.7C163.0,405.9 163.0,405.9 162.8,406.0C162.7,406.0 162.4,406.1 162.2,406.2C161.9,406.3 161.6,406.3 161.3,406.4C160.9,406.4 160.6,406.5 160.2,406.5C159.9,406.5 159.4,406.6 159.0,406.6C158.6,406.6 158.1,406.6 157.7,406.5C157.3,406.5 156.9,406.5 156.5,406.4C156.1,406.4 155.7,406.3 155.4,406.2C155.2,406.2 155.0,406.1 155.0,406.0C154.9,405.9 155.1,405.9 155.2,405.7C155.3,405.5 155.5,405.1 155.7,404.8C155.8,404.5 155.9,404.2 156.0,403.9C156.2,403.6 156.4,403.2 156.7,403.0C156.9,402.7 157.3,402.5 157.7,402.4C158.1,402.2 158.6,402.1 159.0,402.1C159.4,402.0 159.9,402.0 160.4,402.1C160.8,402.2 161.2,402.5 161.6,402.7C161.9,403.0 162.1,403.4 162.2,403.7C162.4,404.0 162.5,404.4 162.6,404.7C162.7,405.0 162.9,405.5 162.9,405.7Z" fill="none" stroke="#222" stroke-opacity="0.87" stroke-width="0.7"/><path d="M162.1,405.7C162.1,405.9 162.0,405.8 161.9,405.9C161.8,406.0 161.6,406.0 161.4,406.1C161.2,406.1 160.9,406.1 160.6,406.2C160.3,406.2 160.0,406.2 159.8,406.2C159.5,406.2 159.3,406.2 159.0,406.3C158.7,406.3 158.4,406.3 158.1,406.3C157.8,406.3 157.5,406.2 157.2,406.2C157.0,406.2 156.7,406.1 156.5,406.1C156.3,406.0 156.2,406.0 156.1,405.9C156.0,405.8 155.9,405.9 155.9,405.7C156.0,405.5 156.1,405.2 156.3,405.0C156.4,404.7 156.6,404.5 156.8,404.3C157.0,404.2 157.1,403.9 157.4,403.8C157.6,403.6 157.8,403.5 158.1,403.4C158.4,403.3 158.7,403.3 159.0,403.4C159.3,403.4 159.6,403.5 159.8,403.6C160.1,403.6 160.4,403.7 160.6,403.8C160.9,403.9 161.2,404.0 161.4,404.2C161.6,404.4 161.8,404.7 161.9,404.9C162.0,405.1 162.1,405.5 162.1,405.7Z" fill="none" stroke="#222" stroke-opacity="1.00" stroke-width="0.7"/>
<path d="M198.8,397.7C198.8,398.2 198.5,398.7 198.2,399.1C198.0,399.6 197.6,400.0 197.2,400.4C196.7,400.8 196.3,401.2 195.7,401.5C195.1,401.7 194.3,401.9 193.6,402.0C192.9,402.0 192.2,401.9 191.5,401.9C190.8,401.8 190.2,401.7 189.6,401.6C188.9,401.5 188.1,401.5 187.4,401.4C186.8,401.2 186.0,401.0 185.4,400.6C184.9,400.2 184.5,399.7 184.3,399.2C184.0,398.8 183.9,398.2 183.9,397.7C184.0,397.2 184.1,396.6 184.4,396.2C184.8,395.7 185.3,395.3 185.9,395.0C186.4,394.7 187.2,394.6 187.8,394.4C188.4,394.2 189.0,394.0 189.6,393.8C190.2,393.6 190.8,393.4 191.5,393.3C192.2,393.2 193.0,393.1 193.7,393.2C194.4,393.3 195.1,393.6 195.7,393.9C196.3,394.2 196.8,394.6 197.3,394.9C197.7,395.3 198.2,395.8 198.5,396.2C198.7,396.7 198.9,397.2 198.8,397.7Z" fill="none" stroke="#333" stroke-opacity="0.50" stroke-width="0.55"/><path d="M197.1,397.7C197.1,398.1 196.9,398.5 196.6,398.8C196.4,399.1 196.0,399.4 195.7,399.7C195.3,400.0 195.0,400.2 194.6,400.5C194.2,400.8 193.9,401.2 193.3,401.4C192.8,401.7 192.1,401.9 191.5,401.9C190.9,402.0 190.1,401.8 189.5,401.7C189.0,401.5 188.4,401.2 188.0,400.9C187.5,400.6 187.1,400.3 186.8,399.9C186.5,399.6 186.3,399.2 186.2,398.8C186.1,398.5 186.2,398.1 186.2,397.7C186.2,397.3 186.3,397.0 186.4,396.6C186.5,396.2 186.6,395.8 186.9,395.5C187.1,395.1 187.5,394.8 188.0,394.5C188.5,394.3 189.1,394.2 189.7,394.1C190.3,394.0 190.9,394.0 191.5,393.9C192.1,393.9 192.7,393.9 193.4,393.9C194.0,394.0 194.7,394.1 195.2,394.4C195.7,394.6 196.1,395.0 196.4,395.4C196.7,395.7 196.9,396.1 197.0,396.5C197.1,396.9 197.2,397.3 197.1,397.7Z" fill="none" stroke="#333" stroke-opacity="0.61" stroke-width="0.55"/><path d="M196.3,397.7C196.3,398.0 196.1,398.4 195.9,398.6C195.7,398.9 195.5,399.2 195.2,399.5C194.9,399.7 194.6,400.0 194.2,400.2C193.9,400.4 193.4,400.6 193.0,400.7C192.5,400.7 192.0,400.7 191.5,400.6C191.0,400.5 190.6,400.4 190.2,400.3C189.8,400.2 189.4,400.1 189.0,399.9C188.7,399.8 188.2,399.6 187.9,399.4C187.6,399.2 187.3,398.9 187.1,398.6C186.9,398.4 186.8,398.0 186.7,397.7C186.6,397.4 186.6,397.0 186.7,396.7C186.8,396.3 187.1,396.0 187.4,395.8C187.8,395.5 188.4,395.4 188.8,395.3C189.3,395.2 189.8,395.2 190.2,395.1C190.7,395.1 191.1,395.0 191.5,395.0C191.9,395.0 192.4,394.9 192.8,395.0C193.3,395.0 193.7,395.2 194.1,395.3C194.5,395.5 194.9,395.7 195.2,395.9C195.5,396.2 195.8,396.4 196.0,396.7C196.2,397.0 196.4,397.4 196.3,397.7Z" fill="none" stroke="#333" stroke-opacity="0.72" stroke-width="0.55"/><path d="M195.1,397.7C195.1,397.9 194.9,398.2 194.7,398.4C194.6,398.6 194.3,398.8 194.0,398.9C193.8,399.0 193.5,399.2 193.3,399.3C193.0,399.4 192.7,399.5 192.5,399.6C192.2,399.7 191.8,399.8 191.5,399.8C191.2,399.8 190.8,399.8 190.5,399.8C190.1,399.8 189.7,399.7 189.4,399.6C189.0,399.5 188.7,399.4 188.5,399.2C188.2,399.0 188.1,398.7 188.1,398.4C188.1,398.2 188.2,397.9 188.3,397.7C188.4,397.5 188.5,397.3 188.6,397.1C188.7,396.9 188.8,396.7 189.0,396.5C189.1,396.3 189.4,396.1 189.6,396.0C189.9,395.9 190.2,395.8 190.5,395.7C190.8,395.6 191.2,395.5 191.5,395.5C191.8,395.5 192.2,395.5 192.6,395.5C192.9,395.6 193.3,395.7 193.5,395.9C193.8,396.0 194.0,396.2 194.2,396.4C194.4,396.6 194.6,396.8 194.8,397.0C194.9,397.2 195.1,397.5 195.1,397.7Z" fill="none" stroke="#333" stroke-opacity="0.84" stroke-width="0.55"/><path d="M193.5,397.7C193.5,397.8 193.5,398.0 193.5,398.1C193.4,398.3 193.4,398.4 193.3,398.5C193.1,398.7 193.0,398.8 192.8,398.9C192.6,398.9 192.4,399.0 192.2,399.1C192.0,399.1 191.7,399.2 191.5,399.2C191.3,399.2 191.0,399.2 190.8,399.1C190.6,399.0 190.4,398.9 190.3,398.8C190.2,398.7 190.1,398.5 190.0,398.4C189.9,398.3 189.8,398.2 189.7,398.1C189.6,398.0 189.5,397.8 189.5,397.7C189.4,397.6 189.4,397.4 189.5,397.3C189.5,397.1 189.6,397.0 189.7,396.8C189.8,396.7 190.0,396.6 190.1,396.5C190.3,396.4 190.6,396.3 190.8,396.3C191.0,396.2 191.3,396.3 191.5,396.3C191.7,396.4 191.9,396.4 192.1,396.5C192.3,396.5 192.5,396.6 192.7,396.6C192.8,396.7 193.0,396.8 193.2,396.9C193.3,397.0 193.4,397.1 193.5,397.3C193.5,397.4 193.5,397.6 193.5,397.7Z" fill="none" stroke="#333" stroke-opacity="0.95" stroke-width="0.55"/>
<path d="M198.2,412.2C198.2,413.0 198.2,413.8 198.1,414.7C198.0,415.6 198.0,416.5 197.7,417.4C197.5,418.3 197.1,419.3 196.6,420.1C196.1,421.0 195.4,421.8 194.6,422.4C193.9,422.9 192.9,423.4 192.0,423.3C191.1,423.3 190.1,422.7 189.5,422.0C188.8,421.2 188.4,419.9 188.0,419.0C187.7,418.1 187.6,417.2 187.3,416.4C187.0,415.7 186.6,415.2 186.3,414.5C186.0,413.8 185.5,413.0 185.3,412.2C185.2,411.4 185.2,410.4 185.4,409.5C185.6,408.7 186.0,407.8 186.4,407.1C186.9,406.4 187.4,405.8 188.0,405.3C188.6,404.8 189.3,404.5 190.0,404.4C190.6,404.2 191.4,404.4 192.0,404.5C192.6,404.7 193.2,405.0 193.8,405.3C194.4,405.5 195.0,405.7 195.6,406.1C196.1,406.4 196.8,406.9 197.2,407.5C197.6,408.1 197.9,409.0 198.1,409.7C198.2,410.5 198.2,411.4 198.2,412.2Z" fill="none" stroke="#333" stroke-opacity="0.50" stroke-width="0.55"/><path d="M197.5,412.2C197.4,412.9 197.4,413.6 197.3,414.4C197.2,415.1 197.0,415.8 196.7,416.5C196.5,417.2 196.1,417.8 195.6,418.5C195.2,419.1 194.7,419.8 194.1,420.2C193.5,420.7 192.7,421.2 192.0,421.3C191.3,421.4 190.4,421.1 189.8,420.6C189.2,420.2 188.7,419.3 188.3,418.6C187.8,418.0 187.5,417.3 187.1,416.6C186.8,416.0 186.3,415.3 186.1,414.6C185.9,413.9 185.7,413.0 185.8,412.2C185.9,411.4 186.3,410.6 186.6,410.0C187.0,409.4 187.4,408.9 187.8,408.4C188.2,407.9 188.6,407.5 189.0,407.1C189.4,406.7 189.9,406.3 190.4,406.0C190.9,405.8 191.4,405.7 192.0,405.6C192.6,405.5 193.1,405.4 193.7,405.5C194.3,405.6 195.0,405.7 195.6,406.0C196.1,406.4 196.7,407.0 197.0,407.7C197.3,408.3 197.4,409.2 197.5,410.0C197.5,410.7 197.5,411.5 197.5,412.2Z" fill="none" stroke="#333" stroke-opacity="0.57" stroke-width="0.55"/><path d="M196.6,412.2C196.5,412.8 196.5,413.4 196.4,414.0C196.3,414.6 196.2,415.2 196.0,415.9C195.9,416.5 195.7,417.2 195.3,417.9C195.0,418.5 194.5,419.2 193.9,419.7C193.4,420.2 192.7,420.7 192.0,420.8C191.3,420.9 190.5,420.8 189.9,420.3C189.3,419.8 188.9,418.8 188.6,418.0C188.3,417.3 188.3,416.3 188.2,415.6C188.1,414.9 188.1,414.4 188.0,413.8C187.9,413.3 187.7,412.8 187.6,412.2C187.5,411.6 187.5,411.0 187.6,410.4C187.7,409.8 187.9,409.2 188.1,408.6C188.3,408.1 188.6,407.5 189.0,407.0C189.4,406.5 189.8,406.0 190.3,405.8C190.9,405.6 191.5,405.7 192.0,405.8C192.5,405.9 193.0,406.3 193.4,406.6C193.9,406.9 194.3,407.2 194.7,407.6C195.1,407.9 195.5,408.3 195.8,408.7C196.1,409.2 196.4,409.8 196.5,410.4C196.6,411.0 196.6,411.6 196.6,412.2Z" fill="none" stroke="#333" stroke-opacity="0.65" stroke-width="0.55"/><path d="M196.0,412.2C196.0,412.7 196.0,413.3 195.9,413.8C195.8,414.3 195.5,414.7 195.3,415.2C195.0,415.6 194.8,416.0 194.5,416.4C194.2,416.9 193.9,417.4 193.5,417.8C193.1,418.2 192.5,418.8 192.0,418.9C191.5,419.0 190.8,418.9 190.3,418.6C189.9,418.3 189.5,417.7 189.1,417.2C188.8,416.7 188.5,416.1 188.3,415.6C188.1,415.0 187.9,414.4 187.9,413.9C187.8,413.3 187.9,412.7 188.0,412.2C188.2,411.7 188.4,411.3 188.6,410.8C188.8,410.4 188.9,410.0 189.1,409.6C189.3,409.2 189.5,408.7 189.7,408.3C190.0,407.9 190.4,407.6 190.8,407.4C191.1,407.2 191.6,407.1 192.0,407.1C192.4,407.1 192.9,407.1 193.3,407.2C193.7,407.3 194.2,407.5 194.5,407.9C194.9,408.2 195.1,408.7 195.3,409.2C195.5,409.6 195.6,410.2 195.7,410.7C195.9,411.2 196.0,411.7 196.0,412.2Z" fill="none" stroke="#333" stroke-opacity="0.72" stroke-width="0.55"/><path d="M195.1,412.2C195.1,412.6 195.1,413.0 195.1,413.4C195.0,413.9 195.0,414.4 194.9,414.9C194.8,415.3 194.7,416.0 194.4,416.4C194.2,416.8 193.8,417.3 193.4,417.4C193.0,417.6 192.4,417.5 192.0,417.4C191.6,417.2 191.2,416.9 190.8,416.6C190.5,416.3 190.2,416.0 190.0,415.6C189.8,415.3 189.6,414.9 189.5,414.5C189.3,414.1 189.2,413.8 189.0,413.4C188.9,413.0 188.7,412.6 188.7,412.2C188.6,411.8 188.6,411.3 188.7,410.8C188.8,410.4 189.0,410.0 189.3,409.7C189.5,409.4 189.8,409.2 190.1,409.0C190.4,408.8 190.7,408.6 191.0,408.4C191.3,408.3 191.7,408.1 192.0,408.1C192.3,408.1 192.7,408.2 193.0,408.4C193.3,408.6 193.5,408.9 193.8,409.2C194.0,409.4 194.2,409.7 194.4,410.0C194.6,410.3 194.8,410.6 194.9,411.0C195.1,411.4 195.1,411.8 195.1,412.2Z" fill="none" stroke="#333" stroke-opacity="0.80" stroke-width="0.55"/><path d="M194.6,412.2C194.6,412.5 194.5,412.9 194.4,413.2C194.3,413.5 194.1,413.7 194.0,414.0C193.9,414.3 193.8,414.6 193.6,415.0C193.4,415.3 193.2,415.7 193.0,415.9C192.7,416.1 192.3,416.2 192.0,416.2C191.7,416.2 191.4,415.9 191.1,415.7C190.8,415.4 190.6,415.1 190.5,414.8C190.3,414.6 190.1,414.3 190.0,414.0C189.9,413.7 189.8,413.4 189.8,413.1C189.7,412.8 189.6,412.5 189.6,412.2C189.6,411.9 189.5,411.5 189.5,411.2C189.6,410.9 189.6,410.5 189.8,410.2C190.0,409.9 190.3,409.7 190.5,409.6C190.7,409.5 191.0,409.5 191.3,409.5C191.5,409.5 191.8,409.5 192.0,409.5C192.2,409.5 192.5,409.5 192.7,409.6C192.9,409.7 193.1,409.8 193.3,409.9C193.5,410.1 193.7,410.3 193.9,410.5C194.1,410.7 194.3,410.9 194.4,411.2C194.5,411.5 194.6,411.9 194.6,412.2Z" fill="none" stroke="#333" stroke-opacity="0.88" stroke-width="0.55"/><path d="M193.6,412.2C193.5,412.4 193.5,412.6 193.4,412.8C193.4,413.0 193.3,413.1 193.2,413.3C193.2,413.5 193.1,413.7 193.0,413.9C192.9,414.1 192.8,414.3 192.6,414.5C192.4,414.7 192.2,415.0 192.0,415.0C191.8,415.1 191.5,415.1 191.3,414.9C191.1,414.8 191.0,414.4 190.8,414.2C190.7,413.9 190.7,413.7 190.6,413.4C190.6,413.2 190.5,413.0 190.5,412.8C190.4,412.6 190.4,412.4 190.4,412.2C190.4,412.0 190.5,411.8 190.5,411.6C190.6,411.4 190.7,411.2 190.8,411.1C190.9,410.9 191.0,410.8 191.1,410.6C191.2,410.5 191.4,410.4 191.5,410.3C191.7,410.3 191.8,410.3 192.0,410.3C192.2,410.3 192.3,410.3 192.5,410.3C192.7,410.4 192.8,410.4 193.0,410.5C193.2,410.6 193.4,410.7 193.5,410.9C193.6,411.1 193.6,411.3 193.6,411.5C193.7,411.8 193.6,412.0 193.6,412.2Z" fill="none" stroke="#333" stroke-opacity="0.95" stroke-width="0.55"/>
<path d="M189.7,437.7C189.8,438.1 189.7,438.6 189.5,439.0C189.3,439.4 189.0,439.8 188.7,440.2C188.4,440.6 188.1,440.9 187.7,441.2C187.3,441.5 186.8,441.8 186.3,442.0C185.9,442.2 185.4,442.3 184.9,442.5C184.4,442.6 183.9,442.8 183.4,442.9C182.8,443.0 182.2,443.2 181.6,443.2C181.0,443.2 180.3,443.1 179.9,442.9C179.5,442.7 179.2,442.2 179.0,441.9C178.8,441.5 178.7,441.0 178.7,440.6C178.7,440.2 178.7,439.8 178.8,439.4C178.9,439.0 179.1,438.6 179.4,438.2C179.6,437.8 180.0,437.5 180.4,437.2C180.8,436.9 181.2,436.6 181.6,436.3C182.0,436.0 182.5,435.7 183.0,435.5C183.5,435.3 184.2,435.2 184.7,435.2C185.2,435.2 185.8,435.3 186.2,435.5C186.7,435.6 187.2,435.7 187.6,435.9C188.1,436.1 188.6,436.3 188.9,436.6C189.3,436.9 189.6,437.3 189.7,437.7Z" fill="none" stroke="#333" stroke-opacity="0.50" stroke-width="0.55"/><path d="M188.8,437.9C189.0,438.2 188.9,438.7 188.7,439.0C188.6,439.4 188.3,439.7 188.1,440.1C187.8,440.4 187.6,440.7 187.2,441.0C186.9,441.3 186.5,441.5 186.1,441.7C185.7,441.9 185.2,442.0 184.8,442.1C184.3,442.2 183.9,442.3 183.5,442.3C183.0,442.3 182.6,442.3 182.1,442.3C181.7,442.2 181.3,442.1 181.0,441.9C180.7,441.7 180.5,441.4 180.3,441.2C180.0,440.9 179.9,440.6 179.8,440.3C179.6,440.0 179.4,439.7 179.4,439.4C179.3,439.0 179.4,438.6 179.5,438.2C179.7,437.9 180.2,437.5 180.5,437.3C180.9,437.0 181.4,436.8 181.9,436.7C182.3,436.5 182.8,436.4 183.2,436.3C183.7,436.2 184.1,436.2 184.5,436.2C184.9,436.2 185.3,436.3 185.7,436.4C186.1,436.5 186.4,436.5 186.8,436.7C187.2,436.8 187.7,436.9 188.0,437.1C188.4,437.3 188.7,437.6 188.8,437.9Z" fill="none" stroke="#333" stroke-opacity="0.63" stroke-width="0.55"/><path d="M187.1,438.4C187.1,438.6 187.1,438.8 187.1,439.1C187.1,439.3 187.1,439.6 187.1,439.9C187.0,440.1 186.9,440.4 186.6,440.7C186.4,440.9 186.1,441.1 185.8,441.3C185.5,441.5 185.1,441.7 184.7,441.8C184.3,441.9 183.9,442.0 183.5,442.0C183.1,442.0 182.8,441.9 182.4,441.8C182.1,441.7 181.9,441.5 181.7,441.3C181.4,441.1 181.2,441.0 181.0,440.8C180.8,440.6 180.6,440.4 180.5,440.1C180.4,439.9 180.5,439.6 180.6,439.3C180.6,439.1 180.8,438.8 181.0,438.6C181.2,438.3 181.4,438.1 181.6,437.8C181.8,437.6 182.0,437.3 182.3,437.1C182.6,436.9 182.9,436.7 183.3,436.6C183.7,436.5 184.1,436.5 184.5,436.4C184.9,436.4 185.3,436.4 185.6,436.5C186.0,436.5 186.4,436.7 186.6,436.8C186.8,437.0 187.0,437.3 187.1,437.6C187.1,437.8 187.1,438.1 187.1,438.4Z" fill="none" stroke="#333" stroke-opacity="0.77" stroke-width="0.55"/><path d="M186.6,438.5C186.6,438.7 186.6,438.9 186.5,439.1C186.5,439.3 186.4,439.5 186.2,439.7C186.1,439.9 185.9,440.0 185.7,440.2C185.6,440.3 185.4,440.4 185.2,440.6C185.0,440.7 184.8,440.9 184.5,441.1C184.2,441.2 183.9,441.3 183.6,441.4C183.3,441.4 183.0,441.4 182.7,441.3C182.5,441.2 182.3,441.1 182.1,440.9C181.9,440.8 181.8,440.6 181.7,440.4C181.6,440.3 181.5,440.1 181.4,439.9C181.4,439.7 181.4,439.5 181.5,439.3C181.6,439.1 181.7,438.9 181.8,438.7C181.9,438.5 182.0,438.3 182.1,438.2C182.3,438.0 182.5,437.8 182.7,437.6C182.9,437.5 183.2,437.4 183.5,437.4C183.8,437.3 184.1,437.3 184.3,437.3C184.6,437.3 184.9,437.2 185.2,437.3C185.4,437.3 185.8,437.3 186.0,437.4C186.2,437.5 186.4,437.7 186.5,437.9C186.6,438.1 186.6,438.3 186.6,438.5Z" fill="none" stroke="#333" stroke-opacity="0.90" stroke-width="0.55"/>
<ellipse cx="184.00" cy="439.50" rx="2.4" ry="1.6" fill="#fff"/>
<path d="M179.0,434.8C178.7,435.8 178.3,436.8 177.8,437.7C177.3,438.5 176.7,439.2 176.1,439.8C175.6,440.3 175.0,440.8 174.4,441.2C173.9,441.5 173.3,441.8 172.8,441.8C172.4,441.8 171.9,441.6 171.5,441.3C171.2,441.1 170.9,440.6 170.6,440.2C170.3,439.8 170.0,439.5 169.8,438.9C169.6,438.4 169.3,437.7 169.3,437.0C169.3,436.2 169.5,435.2 169.7,434.4C169.9,433.5 170.2,432.6 170.5,431.8C170.8,430.9 171.1,430.0 171.5,429.1C171.9,428.3 172.3,427.2 172.8,426.5C173.4,425.8 174.0,425.2 174.6,424.8C175.1,424.4 175.7,424.4 176.2,424.4C176.7,424.3 177.2,424.5 177.6,424.7C178.0,425.0 178.3,425.4 178.6,425.9C178.8,426.4 178.8,427.2 178.9,427.8C179.0,428.5 179.0,429.2 179.0,429.9C179.1,430.6 179.2,431.2 179.2,432.1C179.2,432.9 179.2,433.9 179.0,434.8Z" fill="none" stroke="#555" stroke-opacity="0.40" stroke-width="0.45"/><path d="M177.9,434.5C177.7,435.1 177.2,435.8 176.8,436.4C176.5,436.9 176.0,437.4 175.6,437.8C175.2,438.2 174.9,438.7 174.5,439.0C174.1,439.3 173.6,439.6 173.2,439.7C172.9,439.8 172.5,439.8 172.1,439.7C171.8,439.7 171.4,439.6 171.1,439.4C170.7,439.2 170.3,439.0 170.1,438.5C169.9,438.0 169.8,437.3 169.9,436.6C169.9,435.9 170.2,434.9 170.5,434.2C170.7,433.4 171.1,432.7 171.4,432.1C171.7,431.4 172.0,430.8 172.3,430.2C172.6,429.6 173.0,429.1 173.4,428.6C173.7,428.1 174.1,427.7 174.5,427.4C175.0,427.1 175.4,426.7 175.8,426.5C176.2,426.3 176.7,426.0 177.1,426.0C177.5,426.1 177.9,426.3 178.1,426.7C178.4,427.1 178.4,427.7 178.5,428.3C178.6,428.9 178.6,429.6 178.6,430.2C178.6,430.9 178.6,431.5 178.5,432.2C178.4,432.9 178.2,433.8 177.9,434.5Z" fill="none" stroke="#555" stroke-opacity="0.55" stroke-width="0.45"/><path d="M176.9,434.1C176.8,434.6 176.6,435.2 176.3,435.7C176.1,436.2 175.8,436.7 175.5,437.1C175.2,437.5 174.8,437.8 174.5,438.0C174.1,438.2 173.8,438.4 173.5,438.4C173.2,438.5 172.8,438.6 172.6,438.5C172.3,438.3 172.1,438.1 172.0,437.8C171.8,437.4 171.8,436.9 171.8,436.5C171.8,436.0 171.8,435.6 171.8,435.2C171.8,434.7 171.7,434.4 171.7,433.9C171.8,433.4 171.8,432.8 171.9,432.3C172.1,431.7 172.3,431.1 172.6,430.6C172.8,430.1 173.2,429.6 173.5,429.2C173.8,428.8 174.2,428.4 174.5,428.2C174.9,428.0 175.2,427.9 175.5,427.9C175.8,428.0 176.0,428.2 176.2,428.4C176.4,428.6 176.6,428.9 176.8,429.1C176.9,429.4 177.2,429.5 177.3,429.8C177.4,430.1 177.6,430.5 177.6,430.9C177.6,431.4 177.5,432.0 177.4,432.5C177.3,433.0 177.1,433.6 176.9,434.1Z" fill="none" stroke="#555" stroke-opacity="0.70" stroke-width="0.45"/>
<rect x="146.50" y="392.20" width="23.00" height="17.20" fill="none" stroke="#7f83bb" stroke-width="0.95"/>
<rect x="146.50" y="409.40" width="23.00" height="19.40" fill="none" stroke="#7f83bb" stroke-width="0.95"/>
<rect x="146.50" y="428.80" width="23.00" height="24.20" fill="none" stroke="#7f83bb" stroke-width="0.95"/>
<rect x="169.50" y="404.40" width="12.20" height="24.40" fill="none" stroke="#7f83bb" stroke-width="0.95"/>
<rect x="169.50" y="428.80" width="12.20" height="24.20" fill="none" stroke="#7f83bb" stroke-width="0.95"/>
<rect x="181.70" y="392.20" width="20.60" height="12.20" fill="none" stroke="#7f83bb" stroke-width="0.95"/>
<rect x="181.70" y="404.40" width="20.60" height="24.40" fill="none" stroke="#7f83bb" stroke-width="0.95"/>
<rect x="181.70" y="428.80" width="20.60" height="24.20" fill="none" stroke="#7f83bb" stroke-width="0.95"/>
<rect x="223.80" y="385.00" width="70.30" height="69.60" fill="#fff" stroke="#bfc2d2" stroke-width="0.8"/>
<line x1="223.60" y1="395.00" x2="225.20" y2="395.00" stroke="#777" stroke-width="0.6"/>
<line x1="223.60" y1="404.00" x2="225.20" y2="404.00" stroke="#777" stroke-width="0.6"/>
<line x1="223.60" y1="413.00" x2="225.20" y2="413.00" stroke="#777" stroke-width="0.6"/>
<line x1="223.60" y1="422.00" x2="225.20" y2="422.00" stroke="#777" stroke-width="0.6"/>
<line x1="223.60" y1="431.00" x2="225.20" y2="431.00" stroke="#777" stroke-width="0.6"/>
<line x1="223.60" y1="440.00" x2="225.20" y2="440.00" stroke="#777" stroke-width="0.6"/>
<line x1="223.60" y1="449.00" x2="225.20" y2="449.00" stroke="#777" stroke-width="0.6"/>
<line x1="227.80" y1="454.80" x2="227.80" y2="456.00" stroke="#888" stroke-width="0.5"/>
<line x1="231.50" y1="454.80" x2="231.50" y2="456.00" stroke="#888" stroke-width="0.5"/>
<line x1="235.20" y1="454.80" x2="235.20" y2="456.00" stroke="#888" stroke-width="0.5"/>
<line x1="238.90" y1="454.80" x2="238.90" y2="456.00" stroke="#888" stroke-width="0.5"/>
<line x1="242.60" y1="454.80" x2="242.60" y2="456.00" stroke="#888" stroke-width="0.5"/>
<line x1="246.30" y1="454.80" x2="246.30" y2="456.00" stroke="#888" stroke-width="0.5"/>
<line x1="250.00" y1="454.80" x2="250.00" y2="456.00" stroke="#888" stroke-width="0.5"/>
<line x1="253.70" y1="454.80" x2="253.70" y2="456.00" stroke="#888" stroke-width="0.5"/>
<line x1="257.40" y1="454.80" x2="257.40" y2="456.00" stroke="#888" stroke-width="0.5"/>
<line x1="261.10" y1="454.80" x2="261.10" y2="456.00" stroke="#888" stroke-width="0.5"/>
<line x1="264.80" y1="454.80" x2="264.80" y2="456.00" stroke="#888" stroke-width="0.5"/>
<line x1="268.50" y1="454.80" x2="268.50" y2="456.00" stroke="#888" stroke-width="0.5"/>
<line x1="272.20" y1="454.80" x2="272.20" y2="456.00" stroke="#888" stroke-width="0.5"/>
<line x1="275.90" y1="454.80" x2="275.90" y2="456.00" stroke="#888" stroke-width="0.5"/>
<line x1="279.60" y1="454.80" x2="279.60" y2="456.00" stroke="#888" stroke-width="0.5"/>
<line x1="283.30" y1="454.80" x2="283.30" y2="456.00" stroke="#888" stroke-width="0.5"/>
<line x1="287.00" y1="454.80" x2="287.00" y2="456.00" stroke="#888" stroke-width="0.5"/>
<line x1="290.70" y1="454.80" x2="290.70" y2="456.00" stroke="#888" stroke-width="0.5"/>
<line x1="228.80" y1="455.80" x2="236.80" y2="455.80" stroke="#666" stroke-width="0.8"/>
<path d="M243.3 450.0h.75v.75h-.75zM239.6 437.3h.75v.75h-.75zM236.6 443.2h.75v.75h-.75zM252.4 434.2h.75v.75h-.75zM233.6 440.5h.75v.75h-.75zM231.6 443.0h.75v.75h-.75zM238.4 436.0h.75v.75h-.75zM231.9 446.6h.75v.75h-.75zM234.0 447.3h.75v.75h-.75zM232.5 447.1h.75v.75h-.75zM247.2 439.8h.75v.75h-.75zM233.4 448.5h.75v.75h-.75zM227.2 451.2h.75v.75h-.75zM246.5 445.7h.75v.75h-.75zM229.0 439.4h.75v.75h-.75zM248.6 448.7h.75v.75h-.75zM226.3 442.1h.75v.75h-.75zM233.6 440.4h.75v.75h-.75zM249.2 441.1h.75v.75h-.75zM246.4 439.9h.75v.75h-.75zM237.1 446.9h.75v.75h-.75zM234.2 436.0h.75v.75h-.75zM250.5 436.1h.75v.75h-.75zM230.1 432.3h.75v.75h-.75zM236.0 440.0h.75v.75h-.75zM233.6 437.9h.75v.75h-.75zM237.7 442.4h.75v.75h-.75zM233.4 449.7h.75v.75h-.75zM231.0 432.3h.75v.75h-.75zM237.1 440.2h.75v.75h-.75zM231.8 442.1h.75v.75h-.75zM242.8 443.9h.75v.75h-.75zM240.1 446.2h.75v.75h-.75zM246.9 441.9h.75v.75h-.75zM233.4 437.8h.75v.75h-.75zM238.5 441.6h.75v.75h-.75zM232.2 445.0h.75v.75h-.75zM231.9 450.4h.75v.75h-.75zM228.7 439.9h.75v.75h-.75zM236.7 445.6h.75v.75h-.75zM228.1 443.4h.75v.75h-.75zM234.2 446.1h.75v.75h-.75zM245.7 438.2h.75v.75h-.75zM244.8 444.2h.75v.75h-.75zM239.7 445.4h.75v.75h-.75zM233.3 438.7h.75v.75h-.75zM242.4 431.2h.75v.75h-.75zM244.5 436.1h.75v.75h-.75zM231.6 437.1h.75v.75h-.75zM247.2 443.8h.75v.75h-.75zM235.1 441.8h.75v.75h-.75zM226.7 435.8h.75v.75h-.75zM236.8 439.3h.75v.75h-.75zM225.4 438.9h.75v.75h-.75zM233.2 432.6h.75v.75h-.75zM230.2 442.9h.75v.75h-.75zM238.5 406.4h.75v.75h-.75zM241.4 419.8h.75v.75h-.75zM244.1 414.0h.75v.75h-.75zM238.4 421.3h.75v.75h-.75zM232.9 409.6h.75v.75h-.75zM246.9 431.9h.75v.75h-.75zM246.4 424.8h.75v.75h-.75zM236.8 432.4h.75v.75h-.75zM239.5 435.1h.75v.75h-.75zM237.6 394.4h.75v.75h-.75zM230.7 410.4h.75v.75h-.75zM240.5 412.4h.75v.75h-.75zM252.9 441.3h.75v.75h-.75zM241.2 423.2h.75v.75h-.75zM234.2 392.3h.75v.75h-.75zM236.7 415.3h.75v.75h-.75zM260.2 423.6h.75v.75h-.75zM242.6 429.0h.75v.75h-.75zM233.8 418.6h.75v.75h-.75zM241.7 451.8h.75v.75h-.75zM237.2 423.5h.75v.75h-.75zM236.7 420.1h.75v.75h-.75zM245.8 403.9h.75v.75h-.75zM233.9 422.5h.75v.75h-.75zM233.4 425.4h.75v.75h-.75zM239.4 416.4h.75v.75h-.75zM229.4 450.4h.75v.75h-.75zM238.5 436.9h.75v.75h-.75zM227.2 415.7h.75v.75h-.75zM239.2 436.3h.75v.75h-.75zM229.0 416.6h.75v.75h-.75zM228.3 416.2h.75v.75h-.75zM227.0 423.2h.75v.75h-.75zM227.0 435.3h.75v.75h-.75zM243.0 426.0h.75v.75h-.75zM234.7 405.3h.75v.75h-.75zM231.9 417.4h.75v.75h-.75zM240.4 434.7h.75v.75h-.75zM234.9 427.3h.75v.75h-.75zM239.8 431.6h.75v.75h-.75zM230.7 423.0h.75v.75h-.75zM240.0 407.4h.75v.75h-.75zM249.1 415.0h.75v.75h-.75zM237.7 405.9h.75v.75h-.75zM247.3 421.4h.75v.75h-.75zM229.3 424.2h.75v.75h-.75zM233.4 403.7h.75v.75h-.75zM249.7 429.8h.75v.75h-.75zM248.1 425.3h.75v.75h-.75zM228.8 427.1h.75v.75h-.75zM232.8 432.2h.75v.75h-.75zM235.2 427.8h.75v.75h-.75zM243.5 422.1h.75v.75h-.75zM238.2 422.7h.75v.75h-.75zM231.2 412.4h.75v.75h-.75zM243.6 422.2h.75v.75h-.75zM235.5 441.6h.75v.75h-.75zM244.9 423.5h.75v.75h-.75zM233.5 414.0h.75v.75h-.75zM232.2 401.3h.75v.75h-.75zM241.9 414.3h.75v.75h-.75zM228.0 428.4h.75v.75h-.75zM248.3 425.6h.75v.75h-.75zM231.7 413.0h.75v.75h-.75zM239.8 412.4h.75v.75h-.75zM239.0 434.7h.75v.75h-.75zM235.8 412.8h.75v.75h-.75zM245.9 412.7h.75v.75h-.75zM240.4 416.2h.75v.75h-.75zM235.3 445.9h.75v.75h-.75zM227.4 444.6h.75v.75h-.75zM237.6 440.0h.75v.75h-.75zM234.3 416.5h.75v.75h-.75zM246.2 421.9h.75v.75h-.75zM233.0 428.7h.75v.75h-.75zM230.4 440.4h.75v.75h-.75zM240.1 414.2h.75v.75h-.75zM242.2 432.4h.75v.75h-.75zM238.6 425.1h.75v.75h-.75zM227.1 410.1h.75v.75h-.75zM244.8 421.1h.75v.75h-.75zM232.6 414.1h.75v.75h-.75zM237.7 436.2h.75v.75h-.75zM240.1 407.7h.75v.75h-.75zM244.6 413.7h.75v.75h-.75zM235.6 411.9h.75v.75h-.75zM227.4 449.6h.75v.75h-.75zM240.4 390.7h.75v.75h-.75zM244.9 399.8h.75v.75h-.75zM248.4 414.5h.75v.75h-.75zM247.7 406.5h.75v.75h-.75zM243.4 398.3h.75v.75h-.75zM240.9 416.5h.75v.75h-.75zM238.0 427.2h.75v.75h-.75zM226.9 408.0h.75v.75h-.75zM233.9 404.6h.75v.75h-.75zM242.8 397.5h.75v.75h-.75zM239.2 399.8h.75v.75h-.75zM228.2 409.8h.75v.75h-.75zM234.1 399.5h.75v.75h-.75zM249.0 405.5h.75v.75h-.75zM238.8 411.9h.75v.75h-.75zM244.4 402.3h.75v.75h-.75zM236.2 403.6h.75v.75h-.75zM243.6 406.6h.75v.75h-.75zM244.6 400.0h.75v.75h-.75zM231.8 400.8h.75v.75h-.75zM248.9 406.3h.75v.75h-.75zM245.2 399.5h.75v.75h-.75zM250.5 401.2h.75v.75h-.75zM227.4 407.8h.75v.75h-.75zM229.4 402.5h.75v.75h-.75zM233.7 397.7h.75v.75h-.75zM238.2 400.1h.75v.75h-.75zM236.1 401.2h.75v.75h-.75zM254.0 401.5h.75v.75h-.75zM233.2 407.5h.75v.75h-.75zM241.8 402.9h.75v.75h-.75zM234.8 405.7h.75v.75h-.75zM236.5 400.4h.75v.75h-.75zM232.7 401.4h.75v.75h-.75zM226.4 411.2h.75v.75h-.75zM236.7 397.6h.75v.75h-.75zM225.2 395.4h.75v.75h-.75zM247.2 401.2h.75v.75h-.75zM242.0 411.1h.75v.75h-.75zM240.7 406.3h.75v.75h-.75zM228.9 406.6h.75v.75h-.75zM242.5 408.5h.75v.75h-.75zM235.9 396.2h.75v.75h-.75zM233.7 398.3h.75v.75h-.75zM266.7 417.8h.75v.75h-.75zM269.7 403.6h.75v.75h-.75zM278.0 411.9h.75v.75h-.75zM254.6 406.1h.75v.75h-.75zM262.7 405.7h.75v.75h-.75zM271.1 428.3h.75v.75h-.75zM276.2 413.5h.75v.75h-.75zM260.9 407.0h.75v.75h-.75zM281.0 411.2h.75v.75h-.75zM263.4 412.3h.75v.75h-.75zM264.8 416.5h.75v.75h-.75zM259.4 410.6h.75v.75h-.75zM256.6 406.5h.75v.75h-.75zM265.4 397.5h.75v.75h-.75zM265.6 399.1h.75v.75h-.75zM273.8 411.2h.75v.75h-.75zM270.2 402.3h.75v.75h-.75zM244.9 416.6h.75v.75h-.75zM269.9 414.7h.75v.75h-.75zM283.7 414.2h.75v.75h-.75zM266.6 402.8h.75v.75h-.75zM269.7 423.3h.75v.75h-.75zM265.3 412.2h.75v.75h-.75zM256.4 398.4h.75v.75h-.75zM273.5 406.7h.75v.75h-.75zM257.8 414.9h.75v.75h-.75zM267.0 408.7h.75v.75h-.75zM268.1 424.6h.75v.75h-.75zM265.2 409.7h.75v.75h-.75zM270.7 395.3h.75v.75h-.75zM280.8 409.2h.75v.75h-.75zM269.6 424.8h.75v.75h-.75zM268.2 413.0h.75v.75h-.75zM272.7 426.7h.75v.75h-.75zM280.3 398.8h.75v.75h-.75zM257.0 411.4h.75v.75h-.75zM261.5 409.5h.75v.75h-.75zM274.0 397.2h.75v.75h-.75zM264.2 413.5h.75v.75h-.75zM265.6 394.2h.75v.75h-.75zM267.8 406.5h.75v.75h-.75zM270.7 413.6h.75v.75h-.75zM258.8 418.4h.75v.75h-.75zM279.6 402.7h.75v.75h-.75zM253.5 419.4h.75v.75h-.75zM267.3 419.2h.75v.75h-.75zM278.3 410.1h.75v.75h-.75zM267.5 404.4h.75v.75h-.75zM280.2 398.3h.75v.75h-.75zM270.0 401.0h.75v.75h-.75zM261.2 419.9h.75v.75h-.75zM250.3 406.6h.75v.75h-.75zM271.8 414.9h.75v.75h-.75zM271.0 420.3h.75v.75h-.75zM267.5 418.6h.75v.75h-.75zM277.9 408.8h.75v.75h-.75zM266.5 414.7h.75v.75h-.75zM274.1 418.5h.75v.75h-.75zM268.9 415.3h.75v.75h-.75zM267.0 407.6h.75v.75h-.75zM271.1 395.1h.75v.75h-.75zM273.6 397.8h.75v.75h-.75zM265.8 395.5h.75v.75h-.75zM262.4 393.4h.75v.75h-.75zM282.5 405.1h.75v.75h-.75zM268.3 401.4h.75v.75h-.75zM266.7 401.4h.75v.75h-.75zM262.7 400.2h.75v.75h-.75zM260.6 391.1h.75v.75h-.75zM256.2 399.2h.75v.75h-.75zM269.5 401.9h.75v.75h-.75zM277.8 395.7h.75v.75h-.75zM282.5 390.2h.75v.75h-.75zM268.7 400.1h.75v.75h-.75zM276.3 395.6h.75v.75h-.75zM271.7 403.3h.75v.75h-.75zM268.9 398.2h.75v.75h-.75zM267.8 392.7h.75v.75h-.75zM277.3 403.3h.75v.75h-.75zM272.6 396.2h.75v.75h-.75zM268.9 398.7h.75v.75h-.75zM252.0 392.9h.75v.75h-.75zM269.4 402.2h.75v.75h-.75zM264.4 395.7h.75v.75h-.75zM271.5 407.7h.75v.75h-.75zM276.1 398.2h.75v.75h-.75zM268.0 402.0h.75v.75h-.75zM283.2 404.6h.75v.75h-.75zM270.5 396.7h.75v.75h-.75zM254.3 402.2h.75v.75h-.75zM276.1 396.2h.75v.75h-.75zM266.8 400.8h.75v.75h-.75zM276.9 391.7h.75v.75h-.75zM262.6 393.2h.75v.75h-.75zM283.6 401.6h.75v.75h-.75zM269.1 401.4h.75v.75h-.75zM262.0 394.4h.75v.75h-.75zM262.9 392.0h.75v.75h-.75zM269.3 401.8h.75v.75h-.75zM273.1 395.9h.75v.75h-.75zM272.4 399.7h.75v.75h-.75zM261.5 399.9h.75v.75h-.75zM260.7 402.5h.75v.75h-.75zM257.0 432.4h.75v.75h-.75zM251.4 427.8h.75v.75h-.75zM257.3 442.5h.75v.75h-.75zM254.3 433.8h.75v.75h-.75zM260.2 437.0h.75v.75h-.75zM258.1 449.2h.75v.75h-.75zM264.4 435.8h.75v.75h-.75zM252.5 437.4h.75v.75h-.75zM249.5 427.9h.75v.75h-.75zM253.6 436.9h.75v.75h-.75zM256.3 429.2h.75v.75h-.75zM269.3 442.6h.75v.75h-.75zM259.9 440.1h.75v.75h-.75zM255.7 434.7h.75v.75h-.75zM245.3 434.0h.75v.75h-.75zM250.6 427.2h.75v.75h-.75zM255.8 431.3h.75v.75h-.75zM254.6 416.9h.75v.75h-.75zM271.0 440.4h.75v.75h-.75zM276.2 429.8h.75v.75h-.75zM251.0 435.6h.75v.75h-.75zM267.5 440.0h.75v.75h-.75zM255.2 444.9h.75v.75h-.75zM278.3 428.4h.75v.75h-.75zM259.0 438.8h.75v.75h-.75zM253.9 432.0h.75v.75h-.75zM267.2 440.7h.75v.75h-.75zM260.0 432.3h.75v.75h-.75zM262.2 432.4h.75v.75h-.75zM264.2 440.8h.75v.75h-.75zM274.6 425.7h.75v.75h-.75zM245.5 439.4h.75v.75h-.75zM255.8 441.7h.75v.75h-.75zM264.3 431.0h.75v.75h-.75zM244.9 443.9h.75v.75h-.75zM244.3 426.0h.75v.75h-.75zM258.6 444.2h.75v.75h-.75zM248.6 442.7h.75v.75h-.75zM257.4 423.3h.75v.75h-.75zM262.0 433.0h.75v.75h-.75zM269.1 423.7h.75v.75h-.75zM253.6 426.2h.75v.75h-.75zM251.1 448.5h.75v.75h-.75zM259.4 440.3h.75v.75h-.75zM262.5 437.9h.75v.75h-.75zM266.6 417.8h.75v.75h-.75zM271.3 429.0h.75v.75h-.75zM245.0 428.8h.75v.75h-.75zM256.3 431.9h.75v.75h-.75zM273.5 449.2h.75v.75h-.75zM255.8 438.1h.75v.75h-.75zM262.0 449.6h.75v.75h-.75zM251.4 439.8h.75v.75h-.75zM252.5 448.0h.75v.75h-.75zM273.4 452.3h.75v.75h-.75zM269.1 431.2h.75v.75h-.75zM259.9 438.3h.75v.75h-.75zM238.6 435.4h.75v.75h-.75zM248.6 441.6h.75v.75h-.75zM250.0 425.5h.75v.75h-.75zM253.9 432.3h.75v.75h-.75zM256.6 437.3h.75v.75h-.75zM251.3 443.5h.75v.75h-.75zM256.0 426.6h.75v.75h-.75zM235.5 398.0h.75v.75h-.75zM257.8 433.3h.75v.75h-.75zM257.9 428.0h.75v.75h-.75zM233.4 434.5h.75v.75h-.75zM249.7 421.6h.75v.75h-.75zM247.3 430.0h.75v.75h-.75zM262.6 441.0h.75v.75h-.75zM246.5 435.8h.75v.75h-.75zM242.3 419.7h.75v.75h-.75zM261.9 410.4h.75v.75h-.75zM245.7 421.5h.75v.75h-.75zM260.4 426.1h.75v.75h-.75zM247.6 434.6h.75v.75h-.75zM245.1 433.6h.75v.75h-.75zM241.9 441.4h.75v.75h-.75zM260.0 437.6h.75v.75h-.75zM256.9 430.4h.75v.75h-.75zM269.8 411.7h.75v.75h-.75zM248.6 427.3h.75v.75h-.75zM262.8 412.6h.75v.75h-.75zM254.6 426.1h.75v.75h-.75zM258.0 437.1h.75v.75h-.75zM246.1 428.6h.75v.75h-.75zM252.1 418.7h.75v.75h-.75zM262.6 429.1h.75v.75h-.75zM245.6 419.6h.75v.75h-.75zM268.3 417.7h.75v.75h-.75zM244.3 434.9h.75v.75h-.75zM267.7 425.3h.75v.75h-.75zM236.4 438.4h.75v.75h-.75zM248.9 430.2h.75v.75h-.75zM265.6 423.7h.75v.75h-.75zM262.0 441.2h.75v.75h-.75zM265.6 417.5h.75v.75h-.75zM246.2 419.2h.75v.75h-.75zM252.8 429.5h.75v.75h-.75zM252.0 410.3h.75v.75h-.75zM249.8 418.0h.75v.75h-.75zM244.1 430.4h.75v.75h-.75zM237.5 438.9h.75v.75h-.75zM252.3 421.6h.75v.75h-.75zM248.4 417.3h.75v.75h-.75zM266.8 434.8h.75v.75h-.75zM250.9 408.8h.75v.75h-.75zM255.0 420.0h.75v.75h-.75z" fill="#777" fill-opacity="0.75"/>
<path d="M242.8 433.7h.75v.75h-.75zM229.6 446.7h.75v.75h-.75zM226.2 438.5h.75v.75h-.75zM227.0 441.9h.75v.75h-.75zM234.6 438.6h.75v.75h-.75zM236.3 441.2h.75v.75h-.75zM234.0 449.5h.75v.75h-.75zM228.9 432.7h.75v.75h-.75zM229.6 439.7h.75v.75h-.75zM253.6 439.5h.75v.75h-.75zM237.5 439.8h.75v.75h-.75zM245.2 439.8h.75v.75h-.75zM241.5 442.2h.75v.75h-.75zM229.1 446.8h.75v.75h-.75zM240.2 443.9h.75v.75h-.75zM236.3 444.1h.75v.75h-.75zM238.0 448.7h.75v.75h-.75zM233.8 442.8h.75v.75h-.75zM248.5 447.8h.75v.75h-.75zM237.1 438.7h.75v.75h-.75zM247.1 442.3h.75v.75h-.75zM245.0 436.7h.75v.75h-.75zM242.9 449.5h.75v.75h-.75zM242.0 445.3h.75v.75h-.75zM233.5 440.1h.75v.75h-.75zM239.5 447.2h.75v.75h-.75zM247.5 447.9h.75v.75h-.75zM233.2 443.7h.75v.75h-.75zM237.7 441.3h.75v.75h-.75zM242.5 450.9h.75v.75h-.75zM240.9 437.1h.75v.75h-.75zM240.0 453.0h.75v.75h-.75zM226.1 443.1h.75v.75h-.75zM235.6 442.6h.75v.75h-.75zM235.0 448.0h.75v.75h-.75zM246.0 434.8h.75v.75h-.75zM241.0 430.9h.75v.75h-.75zM235.8 435.1h.75v.75h-.75zM243.2 443.5h.75v.75h-.75zM233.9 444.0h.75v.75h-.75zM230.3 439.7h.75v.75h-.75zM234.9 434.7h.75v.75h-.75zM240.8 443.3h.75v.75h-.75zM241.6 439.0h.75v.75h-.75zM234.8 437.9h.75v.75h-.75zM234.3 427.6h.75v.75h-.75zM234.1 444.1h.75v.75h-.75zM241.3 439.9h.75v.75h-.75zM233.3 437.1h.75v.75h-.75zM231.7 447.2h.75v.75h-.75zM245.6 438.4h.75v.75h-.75zM234.7 443.8h.75v.75h-.75zM239.7 436.3h.75v.75h-.75zM230.7 438.7h.75v.75h-.75zM237.5 437.0h.75v.75h-.75zM237.2 442.2h.75v.75h-.75zM242.8 418.0h.75v.75h-.75zM245.7 424.3h.75v.75h-.75zM240.2 425.2h.75v.75h-.75zM238.4 409.1h.75v.75h-.75zM240.0 404.9h.75v.75h-.75zM247.3 426.1h.75v.75h-.75zM247.3 412.4h.75v.75h-.75zM238.0 427.3h.75v.75h-.75zM245.7 440.2h.75v.75h-.75zM236.1 430.0h.75v.75h-.75zM241.3 444.7h.75v.75h-.75zM253.4 386.8h.75v.75h-.75zM253.9 420.3h.75v.75h-.75zM236.1 413.5h.75v.75h-.75zM239.3 418.2h.75v.75h-.75zM232.0 418.3h.75v.75h-.75zM231.2 443.0h.75v.75h-.75zM242.3 436.5h.75v.75h-.75zM232.1 430.7h.75v.75h-.75zM246.5 404.5h.75v.75h-.75zM246.0 422.8h.75v.75h-.75zM233.3 401.1h.75v.75h-.75zM232.1 425.4h.75v.75h-.75zM238.2 418.6h.75v.75h-.75zM238.6 424.7h.75v.75h-.75zM235.1 407.8h.75v.75h-.75zM249.8 418.8h.75v.75h-.75zM237.1 405.9h.75v.75h-.75zM234.5 408.3h.75v.75h-.75zM235.9 446.9h.75v.75h-.75zM238.2 425.7h.75v.75h-.75zM239.6 409.8h.75v.75h-.75zM244.9 394.3h.75v.75h-.75zM239.0 412.6h.75v.75h-.75zM240.4 403.7h.75v.75h-.75zM237.7 411.2h.75v.75h-.75zM232.7 427.2h.75v.75h-.75zM241.8 421.5h.75v.75h-.75zM239.1 413.7h.75v.75h-.75zM240.2 401.2h.75v.75h-.75zM236.0 408.0h.75v.75h-.75zM230.0 429.9h.75v.75h-.75zM229.7 432.5h.75v.75h-.75zM228.8 416.2h.75v.75h-.75zM229.3 422.0h.75v.75h-.75zM231.5 399.9h.75v.75h-.75zM239.0 396.5h.75v.75h-.75zM240.0 422.0h.75v.75h-.75zM235.3 404.1h.75v.75h-.75zM251.2 418.3h.75v.75h-.75zM259.9 420.1h.75v.75h-.75zM243.5 405.8h.75v.75h-.75zM246.5 401.2h.75v.75h-.75zM230.4 415.7h.75v.75h-.75zM239.0 410.4h.75v.75h-.75zM229.9 415.9h.75v.75h-.75zM234.4 438.4h.75v.75h-.75zM235.9 415.5h.75v.75h-.75zM245.9 410.8h.75v.75h-.75zM236.0 427.2h.75v.75h-.75zM240.1 422.1h.75v.75h-.75zM236.6 446.9h.75v.75h-.75zM251.2 425.0h.75v.75h-.75zM233.4 415.8h.75v.75h-.75zM235.9 420.7h.75v.75h-.75zM244.4 426.7h.75v.75h-.75zM239.2 412.8h.75v.75h-.75zM235.7 430.3h.75v.75h-.75zM229.8 409.3h.75v.75h-.75zM240.5 410.9h.75v.75h-.75zM236.1 415.2h.75v.75h-.75zM243.1 439.3h.75v.75h-.75zM224.9 411.3h.75v.75h-.75zM246.3 429.4h.75v.75h-.75zM235.1 412.0h.75v.75h-.75zM243.4 408.0h.75v.75h-.75zM228.1 419.0h.75v.75h-.75zM230.3 418.1h.75v.75h-.75zM238.4 444.9h.75v.75h-.75zM239.0 440.1h.75v.75h-.75zM231.2 417.4h.75v.75h-.75zM226.6 405.8h.75v.75h-.75zM239.6 418.2h.75v.75h-.75zM240.5 405.2h.75v.75h-.75zM234.7 421.7h.75v.75h-.75zM235.1 424.6h.75v.75h-.75zM250.7 418.2h.75v.75h-.75zM237.5 400.1h.75v.75h-.75zM247.4 430.0h.75v.75h-.75zM237.3 411.6h.75v.75h-.75zM244.1 398.3h.75v.75h-.75zM241.8 410.7h.75v.75h-.75zM250.4 414.1h.75v.75h-.75zM231.5 404.4h.75v.75h-.75zM239.3 397.8h.75v.75h-.75zM228.8 397.4h.75v.75h-.75zM244.5 403.8h.75v.75h-.75zM230.3 400.9h.75v.75h-.75zM232.2 401.4h.75v.75h-.75zM229.7 397.5h.75v.75h-.75zM238.7 406.5h.75v.75h-.75zM225.0 398.2h.75v.75h-.75zM241.0 403.4h.75v.75h-.75zM244.0 412.2h.75v.75h-.75zM241.9 400.0h.75v.75h-.75zM245.1 406.2h.75v.75h-.75zM226.0 402.8h.75v.75h-.75zM232.8 399.0h.75v.75h-.75zM236.4 402.6h.75v.75h-.75zM242.2 407.8h.75v.75h-.75zM232.8 401.1h.75v.75h-.75zM246.5 402.8h.75v.75h-.75zM235.7 406.0h.75v.75h-.75zM241.8 407.3h.75v.75h-.75zM235.5 404.9h.75v.75h-.75zM238.7 406.8h.75v.75h-.75zM240.6 405.6h.75v.75h-.75zM240.8 412.0h.75v.75h-.75zM236.8 399.1h.75v.75h-.75zM226.3 410.4h.75v.75h-.75zM236.7 402.5h.75v.75h-.75zM235.9 406.6h.75v.75h-.75zM225.6 407.4h.75v.75h-.75zM229.3 399.0h.75v.75h-.75zM232.6 407.0h.75v.75h-.75zM228.1 402.7h.75v.75h-.75zM243.0 405.3h.75v.75h-.75zM234.4 411.3h.75v.75h-.75zM236.6 398.9h.75v.75h-.75zM227.9 397.0h.75v.75h-.75zM236.0 405.1h.75v.75h-.75zM268.0 415.6h.75v.75h-.75zM266.5 408.3h.75v.75h-.75zM271.3 417.2h.75v.75h-.75zM281.1 415.8h.75v.75h-.75zM262.7 421.8h.75v.75h-.75zM270.8 401.2h.75v.75h-.75zM265.0 413.1h.75v.75h-.75zM257.5 410.7h.75v.75h-.75zM273.9 409.7h.75v.75h-.75zM256.5 415.5h.75v.75h-.75zM262.4 415.8h.75v.75h-.75zM271.2 424.9h.75v.75h-.75zM279.7 409.1h.75v.75h-.75zM272.1 414.0h.75v.75h-.75zM266.8 420.0h.75v.75h-.75zM271.9 413.2h.75v.75h-.75zM270.3 414.2h.75v.75h-.75zM278.8 403.2h.75v.75h-.75zM259.2 407.5h.75v.75h-.75zM263.0 390.6h.75v.75h-.75zM272.9 395.6h.75v.75h-.75zM266.7 412.5h.75v.75h-.75zM274.5 404.5h.75v.75h-.75zM256.8 412.9h.75v.75h-.75zM275.4 418.9h.75v.75h-.75zM259.7 401.0h.75v.75h-.75zM260.0 413.3h.75v.75h-.75zM264.4 402.1h.75v.75h-.75zM269.0 438.0h.75v.75h-.75zM259.2 400.6h.75v.75h-.75zM269.7 412.3h.75v.75h-.75zM277.1 406.2h.75v.75h-.75zM267.6 407.4h.75v.75h-.75zM272.1 420.8h.75v.75h-.75zM282.1 411.9h.75v.75h-.75zM256.3 402.6h.75v.75h-.75zM266.7 412.3h.75v.75h-.75zM263.7 412.8h.75v.75h-.75zM276.7 410.0h.75v.75h-.75zM269.4 408.2h.75v.75h-.75zM251.1 396.2h.75v.75h-.75zM263.8 400.2h.75v.75h-.75zM257.5 395.5h.75v.75h-.75zM267.0 409.4h.75v.75h-.75zM275.1 431.1h.75v.75h-.75zM263.6 418.1h.75v.75h-.75zM279.0 405.3h.75v.75h-.75zM267.4 420.9h.75v.75h-.75zM261.3 425.2h.75v.75h-.75zM278.5 421.9h.75v.75h-.75zM271.8 410.5h.75v.75h-.75zM253.5 422.6h.75v.75h-.75zM263.6 430.7h.75v.75h-.75zM263.0 398.9h.75v.75h-.75zM278.7 414.0h.75v.75h-.75zM258.2 404.5h.75v.75h-.75zM268.6 412.3h.75v.75h-.75zM278.7 409.0h.75v.75h-.75zM264.9 420.3h.75v.75h-.75zM273.7 408.2h.75v.75h-.75zM277.3 391.9h.75v.75h-.75zM272.3 396.3h.75v.75h-.75zM270.7 399.0h.75v.75h-.75zM268.9 399.1h.75v.75h-.75zM260.0 402.5h.75v.75h-.75zM264.6 397.3h.75v.75h-.75zM269.0 394.8h.75v.75h-.75zM262.7 394.1h.75v.75h-.75zM268.6 398.6h.75v.75h-.75zM271.8 398.7h.75v.75h-.75zM270.6 398.6h.75v.75h-.75zM273.5 398.9h.75v.75h-.75zM270.8 396.1h.75v.75h-.75zM272.1 395.5h.75v.75h-.75zM268.1 396.1h.75v.75h-.75zM265.8 399.2h.75v.75h-.75zM262.9 393.7h.75v.75h-.75zM269.4 402.3h.75v.75h-.75zM280.8 395.4h.75v.75h-.75zM270.0 403.0h.75v.75h-.75zM264.3 398.4h.75v.75h-.75zM258.6 401.1h.75v.75h-.75zM249.0 396.9h.75v.75h-.75zM271.1 395.3h.75v.75h-.75zM264.9 401.3h.75v.75h-.75zM276.3 404.0h.75v.75h-.75zM256.7 395.2h.75v.75h-.75zM271.0 399.4h.75v.75h-.75zM268.9 400.0h.75v.75h-.75zM260.1 390.9h.75v.75h-.75zM285.3 400.5h.75v.75h-.75zM284.3 396.0h.75v.75h-.75zM263.0 393.7h.75v.75h-.75zM273.8 389.5h.75v.75h-.75zM263.8 396.5h.75v.75h-.75zM256.5 396.7h.75v.75h-.75zM261.7 391.3h.75v.75h-.75zM265.4 395.6h.75v.75h-.75zM273.7 396.9h.75v.75h-.75zM267.7 393.9h.75v.75h-.75zM269.8 400.7h.75v.75h-.75zM277.8 400.1h.75v.75h-.75zM263.8 398.6h.75v.75h-.75zM243.7 451.6h.75v.75h-.75zM252.9 416.6h.75v.75h-.75zM264.7 426.9h.75v.75h-.75zM270.5 437.6h.75v.75h-.75zM265.9 447.6h.75v.75h-.75zM261.2 436.5h.75v.75h-.75zM253.8 445.0h.75v.75h-.75zM263.0 437.8h.75v.75h-.75zM258.1 450.7h.75v.75h-.75zM269.8 432.2h.75v.75h-.75zM258.1 431.0h.75v.75h-.75zM264.5 448.3h.75v.75h-.75zM253.4 427.8h.75v.75h-.75zM255.0 432.2h.75v.75h-.75zM273.6 439.1h.75v.75h-.75zM244.9 425.2h.75v.75h-.75zM263.0 441.4h.75v.75h-.75zM261.6 430.0h.75v.75h-.75zM261.8 438.0h.75v.75h-.75zM253.6 437.9h.75v.75h-.75zM257.1 427.0h.75v.75h-.75zM252.6 437.3h.75v.75h-.75zM255.8 423.3h.75v.75h-.75zM256.3 434.1h.75v.75h-.75zM279.0 434.6h.75v.75h-.75zM273.1 442.2h.75v.75h-.75zM278.7 448.1h.75v.75h-.75zM262.1 438.5h.75v.75h-.75zM266.5 448.7h.75v.75h-.75zM263.8 435.9h.75v.75h-.75zM237.2 440.0h.75v.75h-.75zM258.9 432.4h.75v.75h-.75zM259.1 445.6h.75v.75h-.75zM266.4 448.3h.75v.75h-.75zM267.1 428.7h.75v.75h-.75zM267.1 434.5h.75v.75h-.75zM253.5 441.9h.75v.75h-.75zM270.9 427.9h.75v.75h-.75zM262.1 431.0h.75v.75h-.75zM251.5 434.9h.75v.75h-.75zM263.0 433.6h.75v.75h-.75zM276.8 441.4h.75v.75h-.75zM263.1 420.8h.75v.75h-.75zM258.5 438.2h.75v.75h-.75zM259.1 431.3h.75v.75h-.75zM254.7 447.1h.75v.75h-.75zM252.5 451.7h.75v.75h-.75zM249.1 435.6h.75v.75h-.75zM253.9 442.4h.75v.75h-.75zM271.2 439.0h.75v.75h-.75zM242.9 434.4h.75v.75h-.75zM261.4 431.3h.75v.75h-.75zM254.2 418.8h.75v.75h-.75zM263.8 445.9h.75v.75h-.75zM271.0 436.6h.75v.75h-.75zM260.5 420.5h.75v.75h-.75zM240.2 436.4h.75v.75h-.75zM254.8 435.0h.75v.75h-.75zM259.0 443.0h.75v.75h-.75zM260.7 424.9h.75v.75h-.75zM248.5 424.0h.75v.75h-.75zM251.0 408.3h.75v.75h-.75zM255.8 423.1h.75v.75h-.75zM256.9 410.2h.75v.75h-.75zM246.4 439.3h.75v.75h-.75zM248.4 418.9h.75v.75h-.75zM249.6 435.5h.75v.75h-.75zM234.2 426.7h.75v.75h-.75zM254.9 428.0h.75v.75h-.75zM246.8 428.8h.75v.75h-.75zM252.6 424.1h.75v.75h-.75zM260.5 419.8h.75v.75h-.75zM251.6 400.3h.75v.75h-.75zM243.3 416.6h.75v.75h-.75zM255.1 429.1h.75v.75h-.75zM244.1 426.1h.75v.75h-.75zM263.7 418.5h.75v.75h-.75zM254.8 417.1h.75v.75h-.75zM247.2 422.7h.75v.75h-.75zM258.6 425.5h.75v.75h-.75zM259.3 427.4h.75v.75h-.75zM236.3 417.5h.75v.75h-.75zM253.2 404.8h.75v.75h-.75zM235.4 408.9h.75v.75h-.75zM250.5 411.0h.75v.75h-.75zM243.5 401.3h.75v.75h-.75zM253.3 431.9h.75v.75h-.75zM255.4 429.8h.75v.75h-.75zM252.5 422.3h.75v.75h-.75zM261.4 415.4h.75v.75h-.75zM262.3 418.1h.75v.75h-.75zM267.8 425.1h.75v.75h-.75zM243.2 432.3h.75v.75h-.75zM271.1 418.3h.75v.75h-.75zM265.1 414.5h.75v.75h-.75zM247.8 439.9h.75v.75h-.75zM247.0 425.2h.75v.75h-.75zM261.4 438.3h.75v.75h-.75zM256.5 422.9h.75v.75h-.75zM259.4 416.8h.75v.75h-.75zM261.1 431.3h.75v.75h-.75zM241.1 441.0h.75v.75h-.75zM258.3 408.9h.75v.75h-.75zM249.5 425.5h.75v.75h-.75zM263.4 423.7h.75v.75h-.75zM253.5 443.0h.75v.75h-.75zM255.1 423.0h.75v.75h-.75zM243.1 444.0h.75v.75h-.75zM257.1 435.5h.75v.75h-.75z" fill="#777" fill-opacity="0.75"/>
<path d="M234.1 444.7h.75v.75h-.75zM226.1 449.2h.75v.75h-.75zM241.7 433.8h.75v.75h-.75zM240.1 445.5h.75v.75h-.75zM238.4 442.5h.75v.75h-.75zM244.9 432.5h.75v.75h-.75zM228.1 441.1h.75v.75h-.75zM240.4 439.8h.75v.75h-.75zM237.6 443.8h.75v.75h-.75zM250.8 430.5h.75v.75h-.75zM231.5 434.9h.75v.75h-.75zM232.4 437.9h.75v.75h-.75zM232.7 436.2h.75v.75h-.75zM227.9 445.0h.75v.75h-.75zM244.2 437.2h.75v.75h-.75zM230.4 440.8h.75v.75h-.75zM243.7 445.9h.75v.75h-.75zM236.6 438.9h.75v.75h-.75zM232.6 443.7h.75v.75h-.75zM236.9 439.8h.75v.75h-.75zM238.0 446.1h.75v.75h-.75zM243.6 436.5h.75v.75h-.75zM229.0 449.5h.75v.75h-.75zM234.9 428.3h.75v.75h-.75zM250.2 449.8h.75v.75h-.75zM242.0 435.5h.75v.75h-.75zM240.4 448.0h.75v.75h-.75zM243.5 436.8h.75v.75h-.75zM233.9 444.3h.75v.75h-.75zM233.0 436.7h.75v.75h-.75zM244.1 436.2h.75v.75h-.75zM234.4 440.8h.75v.75h-.75zM230.7 445.0h.75v.75h-.75zM240.7 442.5h.75v.75h-.75zM235.6 448.7h.75v.75h-.75zM228.8 435.8h.75v.75h-.75zM247.6 438.5h.75v.75h-.75zM231.5 437.8h.75v.75h-.75zM228.8 442.2h.75v.75h-.75zM252.6 442.1h.75v.75h-.75zM237.9 443.4h.75v.75h-.75zM243.2 439.7h.75v.75h-.75zM227.8 449.1h.75v.75h-.75zM236.3 442.8h.75v.75h-.75zM232.1 443.8h.75v.75h-.75zM233.8 440.3h.75v.75h-.75zM240.2 447.9h.75v.75h-.75zM230.3 449.7h.75v.75h-.75zM244.2 443.6h.75v.75h-.75zM231.4 439.2h.75v.75h-.75zM239.1 441.5h.75v.75h-.75zM238.9 444.2h.75v.75h-.75zM226.1 439.9h.75v.75h-.75zM236.1 437.4h.75v.75h-.75zM239.5 426.6h.75v.75h-.75zM226.6 421.5h.75v.75h-.75zM237.6 413.0h.75v.75h-.75zM233.0 415.8h.75v.75h-.75zM236.1 389.4h.75v.75h-.75zM246.2 416.9h.75v.75h-.75zM230.2 443.8h.75v.75h-.75zM225.2 433.6h.75v.75h-.75zM238.4 428.4h.75v.75h-.75zM238.0 400.0h.75v.75h-.75zM241.5 411.1h.75v.75h-.75zM243.4 435.4h.75v.75h-.75zM229.1 436.0h.75v.75h-.75zM236.9 421.4h.75v.75h-.75zM244.6 435.9h.75v.75h-.75zM228.5 443.2h.75v.75h-.75zM238.7 441.6h.75v.75h-.75zM234.2 421.2h.75v.75h-.75zM243.7 428.9h.75v.75h-.75zM244.8 435.7h.75v.75h-.75zM243.5 412.7h.75v.75h-.75zM236.8 426.7h.75v.75h-.75zM229.4 427.7h.75v.75h-.75zM228.3 414.2h.75v.75h-.75zM231.8 427.0h.75v.75h-.75zM237.1 436.5h.75v.75h-.75zM244.7 399.6h.75v.75h-.75zM231.7 405.6h.75v.75h-.75zM242.8 406.3h.75v.75h-.75zM235.7 406.0h.75v.75h-.75zM231.0 406.8h.75v.75h-.75zM225.6 422.1h.75v.75h-.75zM245.7 411.6h.75v.75h-.75zM244.0 440.0h.75v.75h-.75zM238.9 415.8h.75v.75h-.75zM240.7 426.8h.75v.75h-.75zM234.3 420.3h.75v.75h-.75zM234.4 407.4h.75v.75h-.75zM236.4 420.3h.75v.75h-.75zM236.2 408.4h.75v.75h-.75zM227.7 399.2h.75v.75h-.75zM235.9 421.4h.75v.75h-.75zM228.3 428.9h.75v.75h-.75zM241.8 414.8h.75v.75h-.75zM236.0 423.0h.75v.75h-.75zM247.7 405.9h.75v.75h-.75zM241.6 407.2h.75v.75h-.75zM235.7 420.8h.75v.75h-.75zM241.3 424.8h.75v.75h-.75zM237.6 401.9h.75v.75h-.75zM248.2 425.3h.75v.75h-.75zM240.3 413.4h.75v.75h-.75zM236.5 428.6h.75v.75h-.75zM229.6 417.7h.75v.75h-.75zM241.0 410.8h.75v.75h-.75zM229.0 422.0h.75v.75h-.75zM245.8 410.6h.75v.75h-.75zM231.3 414.1h.75v.75h-.75zM240.7 402.2h.75v.75h-.75zM239.3 414.8h.75v.75h-.75zM240.2 404.1h.75v.75h-.75zM239.6 412.4h.75v.75h-.75zM241.4 387.4h.75v.75h-.75zM235.7 411.7h.75v.75h-.75zM235.9 427.7h.75v.75h-.75zM243.1 412.6h.75v.75h-.75zM229.6 431.4h.75v.75h-.75zM236.3 405.0h.75v.75h-.75zM259.6 398.5h.75v.75h-.75zM237.4 403.4h.75v.75h-.75zM240.9 422.4h.75v.75h-.75zM239.1 417.1h.75v.75h-.75zM233.3 430.9h.75v.75h-.75zM236.6 423.3h.75v.75h-.75zM230.5 410.5h.75v.75h-.75zM244.1 431.2h.75v.75h-.75zM246.1 445.7h.75v.75h-.75zM239.4 423.3h.75v.75h-.75zM243.7 428.5h.75v.75h-.75zM239.9 431.1h.75v.75h-.75zM255.3 421.6h.75v.75h-.75zM240.8 427.0h.75v.75h-.75zM239.9 415.2h.75v.75h-.75zM236.8 414.1h.75v.75h-.75zM229.0 405.1h.75v.75h-.75zM238.4 417.7h.75v.75h-.75zM237.8 439.8h.75v.75h-.75zM239.1 427.3h.75v.75h-.75zM228.7 420.6h.75v.75h-.75zM240.7 435.9h.75v.75h-.75zM234.8 424.9h.75v.75h-.75zM245.8 391.7h.75v.75h-.75zM230.7 411.1h.75v.75h-.75zM246.4 414.7h.75v.75h-.75zM237.2 443.4h.75v.75h-.75zM232.1 397.8h.75v.75h-.75zM248.6 400.9h.75v.75h-.75zM231.4 408.2h.75v.75h-.75zM239.8 403.8h.75v.75h-.75zM233.9 406.0h.75v.75h-.75zM241.2 405.3h.75v.75h-.75zM244.1 407.8h.75v.75h-.75zM242.8 402.6h.75v.75h-.75zM229.9 406.5h.75v.75h-.75zM238.4 401.5h.75v.75h-.75zM236.4 407.4h.75v.75h-.75zM224.9 410.1h.75v.75h-.75zM229.8 408.1h.75v.75h-.75zM243.3 401.0h.75v.75h-.75zM225.4 405.8h.75v.75h-.75zM234.7 405.6h.75v.75h-.75zM234.5 403.1h.75v.75h-.75zM236.9 400.3h.75v.75h-.75zM240.0 398.0h.75v.75h-.75zM224.8 400.2h.75v.75h-.75zM239.4 402.0h.75v.75h-.75zM234.4 407.4h.75v.75h-.75zM240.8 402.7h.75v.75h-.75zM231.0 406.1h.75v.75h-.75zM228.5 398.4h.75v.75h-.75zM226.7 401.5h.75v.75h-.75zM230.7 403.0h.75v.75h-.75zM240.6 399.0h.75v.75h-.75zM244.4 405.8h.75v.75h-.75zM241.0 405.8h.75v.75h-.75zM237.5 399.7h.75v.75h-.75zM238.7 400.1h.75v.75h-.75zM229.1 396.1h.75v.75h-.75zM231.9 399.1h.75v.75h-.75zM239.6 396.2h.75v.75h-.75zM248.5 398.5h.75v.75h-.75zM243.8 408.2h.75v.75h-.75zM226.0 399.1h.75v.75h-.75zM258.3 389.8h.75v.75h-.75zM270.9 404.8h.75v.75h-.75zM275.0 415.2h.75v.75h-.75zM271.5 415.7h.75v.75h-.75zM270.1 427.3h.75v.75h-.75zM280.2 414.6h.75v.75h-.75zM259.2 401.1h.75v.75h-.75zM269.7 429.5h.75v.75h-.75zM270.3 411.3h.75v.75h-.75zM265.3 402.1h.75v.75h-.75zM271.6 425.4h.75v.75h-.75zM269.4 418.3h.75v.75h-.75zM283.4 405.2h.75v.75h-.75zM282.3 413.1h.75v.75h-.75zM272.9 422.5h.75v.75h-.75zM257.6 426.8h.75v.75h-.75zM274.8 424.5h.75v.75h-.75zM253.6 414.1h.75v.75h-.75zM268.9 418.3h.75v.75h-.75zM275.4 410.4h.75v.75h-.75zM268.2 412.7h.75v.75h-.75zM273.8 397.8h.75v.75h-.75zM273.4 415.1h.75v.75h-.75zM269.0 418.1h.75v.75h-.75zM270.9 415.9h.75v.75h-.75zM264.8 412.9h.75v.75h-.75zM261.9 399.0h.75v.75h-.75zM277.8 426.9h.75v.75h-.75zM268.4 420.5h.75v.75h-.75zM270.7 412.6h.75v.75h-.75zM268.5 432.4h.75v.75h-.75zM272.5 408.2h.75v.75h-.75zM279.1 409.2h.75v.75h-.75zM277.8 421.4h.75v.75h-.75zM254.4 405.9h.75v.75h-.75zM269.6 413.0h.75v.75h-.75zM267.4 409.6h.75v.75h-.75zM264.4 406.7h.75v.75h-.75zM265.4 414.8h.75v.75h-.75zM263.1 417.3h.75v.75h-.75zM267.5 410.6h.75v.75h-.75zM259.2 410.4h.75v.75h-.75zM266.0 395.7h.75v.75h-.75zM261.3 395.7h.75v.75h-.75zM256.5 416.7h.75v.75h-.75zM274.1 417.1h.75v.75h-.75zM279.9 386.9h.75v.75h-.75zM272.8 412.5h.75v.75h-.75zM269.9 393.0h.75v.75h-.75zM263.3 423.3h.75v.75h-.75zM256.8 409.1h.75v.75h-.75zM260.2 389.7h.75v.75h-.75zM273.2 412.2h.75v.75h-.75zM267.1 396.6h.75v.75h-.75zM268.9 418.4h.75v.75h-.75zM258.0 403.6h.75v.75h-.75zM264.7 415.4h.75v.75h-.75zM265.5 426.9h.75v.75h-.75zM264.4 402.6h.75v.75h-.75zM269.4 396.8h.75v.75h-.75zM265.3 394.8h.75v.75h-.75zM262.7 393.1h.75v.75h-.75zM276.2 397.2h.75v.75h-.75zM284.0 398.4h.75v.75h-.75zM277.5 403.0h.75v.75h-.75zM268.6 404.8h.75v.75h-.75zM270.4 400.3h.75v.75h-.75zM270.2 396.7h.75v.75h-.75zM264.7 398.4h.75v.75h-.75zM263.5 397.9h.75v.75h-.75zM262.6 401.1h.75v.75h-.75zM268.1 392.5h.75v.75h-.75zM277.6 395.9h.75v.75h-.75zM273.9 399.2h.75v.75h-.75zM261.7 398.6h.75v.75h-.75zM277.5 397.2h.75v.75h-.75zM277.3 398.3h.75v.75h-.75zM259.2 394.1h.75v.75h-.75zM273.2 394.6h.75v.75h-.75zM271.1 396.7h.75v.75h-.75zM273.2 403.8h.75v.75h-.75zM287.8 398.4h.75v.75h-.75zM243.6 398.2h.75v.75h-.75zM277.3 397.6h.75v.75h-.75zM261.9 402.6h.75v.75h-.75zM279.4 397.6h.75v.75h-.75zM272.3 399.9h.75v.75h-.75zM258.0 396.9h.75v.75h-.75zM260.9 395.4h.75v.75h-.75zM274.5 396.8h.75v.75h-.75zM269.6 398.1h.75v.75h-.75zM259.8 400.0h.75v.75h-.75zM272.9 399.6h.75v.75h-.75zM273.5 397.0h.75v.75h-.75zM266.2 394.8h.75v.75h-.75zM280.2 400.6h.75v.75h-.75zM277.5 397.9h.75v.75h-.75zM282.0 395.8h.75v.75h-.75zM251.2 403.1h.75v.75h-.75zM261.4 391.8h.75v.75h-.75zM272.6 398.1h.75v.75h-.75zM278.2 395.8h.75v.75h-.75zM266.9 397.7h.75v.75h-.75zM261.2 421.5h.75v.75h-.75zM264.5 449.5h.75v.75h-.75zM270.2 423.4h.75v.75h-.75zM258.3 430.3h.75v.75h-.75zM265.9 436.8h.75v.75h-.75zM275.3 448.9h.75v.75h-.75zM255.4 444.1h.75v.75h-.75zM261.5 439.6h.75v.75h-.75zM258.3 429.4h.75v.75h-.75zM264.4 438.1h.75v.75h-.75zM264.2 422.9h.75v.75h-.75zM264.7 423.3h.75v.75h-.75zM263.2 440.6h.75v.75h-.75zM258.9 445.0h.75v.75h-.75zM260.8 443.1h.75v.75h-.75zM261.6 443.3h.75v.75h-.75zM261.7 421.8h.75v.75h-.75zM253.7 448.3h.75v.75h-.75zM254.3 436.2h.75v.75h-.75zM267.2 443.1h.75v.75h-.75zM260.1 432.9h.75v.75h-.75zM256.3 431.7h.75v.75h-.75zM252.6 442.9h.75v.75h-.75zM247.1 439.8h.75v.75h-.75zM266.4 443.1h.75v.75h-.75zM260.7 428.1h.75v.75h-.75zM266.5 438.7h.75v.75h-.75zM265.1 445.1h.75v.75h-.75zM252.1 439.9h.75v.75h-.75zM258.5 449.7h.75v.75h-.75zM253.5 432.6h.75v.75h-.75zM272.3 445.8h.75v.75h-.75zM264.5 436.4h.75v.75h-.75zM256.3 441.0h.75v.75h-.75zM274.7 437.5h.75v.75h-.75zM269.1 424.6h.75v.75h-.75zM256.3 439.3h.75v.75h-.75zM268.6 413.6h.75v.75h-.75zM254.5 430.1h.75v.75h-.75zM263.0 430.0h.75v.75h-.75zM273.2 431.6h.75v.75h-.75zM249.9 434.0h.75v.75h-.75zM261.3 443.7h.75v.75h-.75zM261.3 431.1h.75v.75h-.75zM250.6 438.5h.75v.75h-.75zM267.4 431.1h.75v.75h-.75zM255.6 434.9h.75v.75h-.75zM243.4 444.9h.75v.75h-.75zM272.8 433.5h.75v.75h-.75zM246.4 441.9h.75v.75h-.75zM261.5 429.3h.75v.75h-.75zM280.3 419.9h.75v.75h-.75zM261.7 443.1h.75v.75h-.75zM246.1 436.6h.75v.75h-.75zM261.0 431.7h.75v.75h-.75zM246.2 450.5h.75v.75h-.75zM277.6 425.0h.75v.75h-.75zM248.4 426.0h.75v.75h-.75zM250.0 441.2h.75v.75h-.75zM250.7 408.4h.75v.75h-.75zM239.6 411.6h.75v.75h-.75zM250.5 409.3h.75v.75h-.75zM261.5 420.9h.75v.75h-.75zM259.0 433.3h.75v.75h-.75zM253.6 431.3h.75v.75h-.75zM256.4 430.6h.75v.75h-.75zM257.1 435.1h.75v.75h-.75zM248.2 425.8h.75v.75h-.75zM247.1 399.7h.75v.75h-.75zM250.5 415.3h.75v.75h-.75zM261.0 411.5h.75v.75h-.75zM247.3 428.1h.75v.75h-.75zM258.1 432.2h.75v.75h-.75zM243.1 444.9h.75v.75h-.75zM264.9 413.8h.75v.75h-.75zM242.3 440.7h.75v.75h-.75zM246.3 425.9h.75v.75h-.75zM248.0 431.8h.75v.75h-.75zM246.1 440.8h.75v.75h-.75zM266.9 431.2h.75v.75h-.75zM252.1 408.8h.75v.75h-.75zM268.8 436.8h.75v.75h-.75zM250.8 427.5h.75v.75h-.75zM256.1 425.4h.75v.75h-.75zM257.0 428.5h.75v.75h-.75zM239.2 446.0h.75v.75h-.75zM279.1 419.5h.75v.75h-.75zM245.7 437.8h.75v.75h-.75zM240.3 431.2h.75v.75h-.75zM249.3 433.2h.75v.75h-.75zM256.5 429.5h.75v.75h-.75zM255.6 412.9h.75v.75h-.75zM241.7 417.8h.75v.75h-.75zM248.2 418.8h.75v.75h-.75zM256.9 406.6h.75v.75h-.75zM252.6 438.3h.75v.75h-.75zM256.4 422.7h.75v.75h-.75zM237.8 414.9h.75v.75h-.75zM254.1 420.0h.75v.75h-.75zM252.5 417.0h.75v.75h-.75zM252.4 417.8h.75v.75h-.75zM279.7 412.3h.75v.75h-.75zM238.1 430.0h.75v.75h-.75zM253.4 419.0h.75v.75h-.75zM253.2 419.3h.75v.75h-.75zM262.3 427.0h.75v.75h-.75zM244.6 427.1h.75v.75h-.75zM255.1 429.6h.75v.75h-.75zM251.0 429.7h.75v.75h-.75z" fill="#777" fill-opacity="0.75"/>
<path d="M246.8,442.0C246.6,442.7 246.2,443.4 245.8,444.1C245.4,444.7 245.0,445.3 244.4,445.9C243.9,446.5 243.3,447.1 242.5,447.5C241.7,447.9 240.7,448.2 239.7,448.3C238.8,448.5 237.7,448.3 236.8,448.2C235.9,448.2 235.0,448.1 234.1,447.9C233.1,447.8 232.1,447.8 231.2,447.5C230.2,447.2 229.2,446.8 228.5,446.3C227.8,445.7 227.3,445.0 227.0,444.3C226.6,443.6 226.4,442.8 226.4,442.0C226.4,441.2 226.6,440.4 227.1,439.8C227.5,439.1 228.4,438.5 229.1,438.1C229.9,437.6 231.0,437.4 231.8,437.1C232.6,436.8 233.4,436.6 234.2,436.3C235.0,436.0 235.9,435.6 236.8,435.4C237.7,435.3 238.9,435.2 239.9,435.3C240.8,435.5 241.8,435.9 242.6,436.3C243.5,436.7 244.3,437.3 244.9,437.8C245.5,438.4 246.2,439.1 246.5,439.8C246.8,440.5 246.9,441.3 246.8,442.0Z" fill="none" stroke="#444" stroke-opacity="0.45" stroke-width="0.5"/><path d="M245.4,442.0C245.4,442.6 245.1,443.3 244.8,443.8C244.5,444.4 243.9,444.9 243.4,445.4C242.9,445.9 242.5,446.5 241.9,447.0C241.3,447.5 240.6,448.2 239.8,448.5C238.9,448.8 237.8,449.1 236.8,449.1C235.8,449.1 234.7,448.7 233.9,448.4C233.0,448.1 232.2,447.6 231.5,447.1C230.9,446.7 230.3,446.1 229.9,445.6C229.4,445.0 229.2,444.4 229.1,443.8C228.9,443.2 229.0,442.6 228.9,442.0C228.9,441.4 228.7,440.8 228.8,440.2C228.9,439.5 228.9,438.7 229.3,438.1C229.7,437.5 230.4,436.9 231.2,436.5C232.0,436.1 233.0,436.0 234.0,435.8C234.9,435.7 235.9,435.6 236.8,435.6C237.7,435.6 238.8,435.6 239.6,435.8C240.5,436.0 241.5,436.3 242.2,436.8C242.9,437.2 243.4,437.8 243.8,438.4C244.3,438.9 244.7,439.5 244.9,440.1C245.2,440.7 245.5,441.4 245.4,442.0Z" fill="none" stroke="#444" stroke-opacity="0.56" stroke-width="0.5"/><path d="M245.1,442.0C245.3,442.6 245.5,443.3 245.3,444.0C245.2,444.6 244.6,445.2 244.0,445.7C243.5,446.2 242.6,446.6 241.9,446.9C241.1,447.3 240.2,447.5 239.4,447.7C238.5,447.8 237.6,447.7 236.8,447.6C236.0,447.5 235.2,447.2 234.5,447.0C233.8,446.8 233.1,446.5 232.4,446.3C231.7,446.0 230.9,445.8 230.3,445.4C229.7,444.9 229.1,444.4 228.8,443.8C228.6,443.3 228.6,442.6 228.6,442.0C228.7,441.4 228.9,440.8 229.1,440.2C229.3,439.6 229.5,439.0 229.9,438.5C230.4,437.9 231.0,437.4 231.7,437.0C232.4,436.6 233.3,436.4 234.2,436.3C235.0,436.1 235.9,436.1 236.8,436.2C237.7,436.2 238.6,436.3 239.3,436.5C240.1,436.8 240.8,437.2 241.4,437.6C241.9,438.0 242.2,438.5 242.6,439.0C243.1,439.5 243.4,439.9 243.8,440.4C244.2,440.9 244.8,441.4 245.1,442.0Z" fill="none" stroke="#444" stroke-opacity="0.68" stroke-width="0.5"/><path d="M244.0,442.0C243.9,442.5 243.7,443.1 243.4,443.5C243.1,444.0 242.7,444.4 242.2,444.8C241.8,445.2 241.3,445.5 240.8,445.9C240.2,446.2 239.7,446.7 239.1,447.0C238.4,447.3 237.6,447.6 236.8,447.7C236.0,447.8 235.1,447.6 234.3,447.4C233.6,447.2 232.9,446.8 232.3,446.4C231.7,446.0 231.2,445.6 230.7,445.1C230.3,444.7 229.8,444.2 229.6,443.7C229.3,443.1 229.3,442.5 229.4,442.0C229.4,441.5 229.7,440.9 230.0,440.4C230.3,439.9 230.6,439.5 231.0,439.0C231.4,438.6 231.9,438.1 232.5,437.8C233.1,437.5 233.9,437.4 234.6,437.2C235.3,437.1 236.0,437.1 236.8,437.0C237.6,436.9 238.3,436.8 239.2,436.9C240.0,436.9 240.9,437.0 241.7,437.3C242.4,437.5 243.1,438.0 243.5,438.6C243.9,439.1 244.0,439.7 244.1,440.3C244.2,440.9 244.1,441.5 244.0,442.0Z" fill="none" stroke="#444" stroke-opacity="0.79" stroke-width="0.5"/><path d="M243.1,442.0C243.3,442.5 243.6,443.0 243.5,443.5C243.5,444.1 243.3,444.7 242.9,445.1C242.5,445.6 241.8,445.9 241.1,446.2C240.4,446.4 239.6,446.5 238.9,446.6C238.2,446.6 237.5,446.7 236.8,446.7C236.1,446.7 235.4,446.6 234.8,446.4C234.1,446.3 233.6,446.0 233.0,445.7C232.5,445.4 232.1,445.0 231.7,444.6C231.3,444.3 230.8,443.9 230.5,443.4C230.3,443.0 230.0,442.5 230.0,442.0C230.0,441.5 230.2,441.0 230.5,440.5C230.7,440.1 231.1,439.7 231.4,439.2C231.8,438.8 232.1,438.3 232.6,437.9C233.2,437.6 233.8,437.2 234.5,437.0C235.2,436.8 236.1,436.8 236.8,436.9C237.5,437.0 238.2,437.3 238.8,437.6C239.5,437.8 240.0,438.1 240.5,438.4C241.0,438.7 241.5,439.0 241.8,439.4C242.1,439.8 242.4,440.2 242.6,440.7C242.8,441.1 243.0,441.5 243.1,442.0Z" fill="none" stroke="#444" stroke-opacity="0.90" stroke-width="0.5"/>
<path d="M243.6,442.0C243.7,442.5 243.6,443.0 243.4,443.5C243.2,444.0 242.7,444.4 242.3,444.8C241.8,445.1 241.3,445.5 240.7,445.8C240.2,446.1 239.6,446.4 238.9,446.6C238.3,446.8 237.5,446.9 236.8,446.8C236.1,446.7 235.4,446.4 234.8,446.2C234.3,445.9 233.8,445.6 233.3,445.3C232.9,445.0 232.4,444.8 231.9,444.5C231.5,444.2 231.0,443.8 230.7,443.4C230.4,443.0 230.2,442.5 230.1,442.0C230.0,441.5 230.0,441.0 230.1,440.5C230.2,440.0 230.4,439.4 230.8,439.0C231.2,438.6 231.9,438.1 232.6,437.9C233.2,437.7 234.1,437.7 234.8,437.7C235.5,437.7 236.2,437.8 236.8,437.8C237.4,437.9 238.1,437.9 238.7,438.0C239.3,438.1 240.0,438.2 240.6,438.4C241.1,438.6 241.6,439.0 242.0,439.4C242.4,439.7 242.8,440.1 243.0,440.6C243.3,441.0 243.6,441.5 243.6,442.0Z" fill="none" stroke="#000" stroke-opacity="0.85" stroke-width="0.8"/><path d="M242.5,442.0C242.6,442.4 242.9,442.9 242.8,443.4C242.8,443.8 242.5,444.3 242.1,444.7C241.7,445.0 241.1,445.3 240.5,445.5C239.9,445.7 239.2,445.8 238.6,445.9C238.0,446.0 237.4,446.0 236.8,445.9C236.2,445.9 235.7,445.7 235.1,445.6C234.6,445.4 234.2,445.1 233.8,444.9C233.3,444.7 232.8,444.5 232.3,444.3C231.9,444.0 231.3,443.7 231.0,443.3C230.7,442.9 230.6,442.4 230.6,442.0C230.6,441.6 230.9,441.1 231.1,440.7C231.3,440.3 231.7,439.9 232.0,439.6C232.4,439.2 232.7,438.8 233.2,438.6C233.7,438.3 234.3,438.1 234.9,438.0C235.5,437.9 236.2,437.9 236.8,438.0C237.4,438.0 238.0,438.1 238.5,438.3C239.1,438.4 239.7,438.6 240.1,438.8C240.6,439.1 241.0,439.4 241.2,439.7C241.5,440.1 241.7,440.5 241.9,440.9C242.1,441.2 242.3,441.6 242.5,442.0Z" fill="none" stroke="#000" stroke-opacity="0.88" stroke-width="0.8"/><path d="M241.6,442.0C241.6,442.3 241.5,442.7 241.3,443.0C241.2,443.4 241.1,443.7 240.8,444.0C240.6,444.3 240.2,444.7 239.8,444.9C239.4,445.1 238.9,445.2 238.4,445.3C237.9,445.4 237.3,445.5 236.8,445.5C236.3,445.6 235.7,445.6 235.1,445.6C234.6,445.5 234.0,445.4 233.5,445.2C233.1,444.9 232.7,444.5 232.5,444.2C232.3,443.8 232.2,443.4 232.2,443.0C232.1,442.7 232.1,442.3 232.2,442.0C232.2,441.7 232.2,441.3 232.4,441.0C232.5,440.7 232.8,440.4 233.0,440.1C233.3,439.8 233.6,439.5 233.9,439.2C234.3,439.0 234.6,438.6 235.1,438.4C235.6,438.2 236.2,438.0 236.8,438.0C237.4,438.0 238.0,438.2 238.5,438.4C239.0,438.6 239.4,438.9 239.7,439.2C240.1,439.4 240.5,439.7 240.8,440.0C241.1,440.3 241.3,440.6 241.5,440.9C241.6,441.3 241.7,441.7 241.6,442.0Z" fill="none" stroke="#000" stroke-opacity="0.90" stroke-width="0.8"/><path d="M241.2,442.0C241.2,442.3 241.2,442.7 241.1,443.0C241.0,443.3 240.7,443.6 240.4,443.8C240.1,444.1 239.7,444.3 239.3,444.4C239.0,444.6 238.6,444.8 238.2,444.9C237.7,445.0 237.2,445.1 236.8,445.1C236.4,445.1 235.9,444.9 235.5,444.8C235.1,444.6 234.9,444.4 234.5,444.2C234.2,444.0 234.0,443.8 233.7,443.6C233.4,443.4 233.0,443.2 232.8,442.9C232.6,442.6 232.4,442.3 232.3,442.0C232.3,441.7 232.3,441.3 232.4,441.0C232.5,440.7 232.7,440.3 233.0,440.1C233.3,439.8 233.6,439.5 234.1,439.4C234.5,439.2 235.0,439.2 235.5,439.2C235.9,439.2 236.4,439.3 236.8,439.3C237.2,439.4 237.6,439.4 238.0,439.4C238.4,439.5 238.9,439.5 239.2,439.7C239.6,439.8 240.0,440.0 240.3,440.2C240.6,440.5 240.7,440.8 240.9,441.1C241.0,441.4 241.2,441.7 241.2,442.0Z" fill="none" stroke="#000" stroke-opacity="0.93" stroke-width="0.8"/><path d="M240.2,442.0C240.1,442.3 240.1,442.5 240.0,442.7C239.8,442.9 239.8,443.2 239.6,443.4C239.4,443.6 239.1,443.8 238.9,444.0C238.6,444.1 238.2,444.2 237.8,444.2C237.5,444.3 237.2,444.3 236.8,444.3C236.4,444.3 236.1,444.4 235.7,444.3C235.4,444.3 235.0,444.2 234.7,444.0C234.4,443.9 234.1,443.7 233.8,443.5C233.6,443.3 233.4,443.1 233.2,442.8C233.1,442.6 232.9,442.3 233.0,442.0C233.0,441.7 233.1,441.4 233.3,441.2C233.6,441.0 233.9,440.8 234.2,440.7C234.5,440.5 234.7,440.4 235.0,440.3C235.3,440.1 235.5,440.0 235.8,439.8C236.1,439.7 236.4,439.6 236.8,439.6C237.2,439.5 237.6,439.5 237.9,439.6C238.3,439.7 238.7,439.7 239.0,439.9C239.3,440.0 239.7,440.2 239.9,440.4C240.2,440.6 240.3,440.9 240.3,441.2C240.4,441.5 240.3,441.7 240.2,442.0Z" fill="none" stroke="#000" stroke-opacity="0.95" stroke-width="0.8"/><path d="M239.7,442.0C239.8,442.2 239.7,442.4 239.6,442.6C239.5,442.8 239.3,443.0 239.1,443.2C239.0,443.4 238.7,443.5 238.5,443.6C238.2,443.7 237.9,443.7 237.6,443.7C237.3,443.7 237.1,443.7 236.8,443.7C236.5,443.6 236.3,443.7 236.0,443.6C235.8,443.6 235.4,443.6 235.2,443.6C234.9,443.5 234.6,443.4 234.4,443.2C234.2,443.0 234.1,442.8 234.0,442.6C233.9,442.4 233.9,442.2 233.9,442.0C233.9,441.8 233.9,441.6 234.0,441.4C234.2,441.2 234.4,441.0 234.6,440.9C234.8,440.7 235.1,440.7 235.3,440.6C235.5,440.4 235.7,440.3 236.0,440.3C236.2,440.2 236.5,440.1 236.8,440.1C237.1,440.1 237.4,440.1 237.6,440.2C237.9,440.3 238.1,440.4 238.3,440.5C238.5,440.7 238.8,440.8 239.0,440.9C239.2,441.0 239.4,441.2 239.5,441.4C239.7,441.6 239.7,441.8 239.7,442.0Z" fill="none" stroke="#000" stroke-opacity="0.97" stroke-width="0.8"/><path d="M239.0,442.0C238.9,442.1 238.8,442.3 238.7,442.4C238.5,442.5 238.4,442.6 238.2,442.7C238.1,442.8 238.0,442.9 237.8,443.0C237.7,443.1 237.6,443.2 237.4,443.2C237.2,443.3 237.0,443.3 236.8,443.3C236.6,443.4 236.4,443.4 236.2,443.3C236.0,443.3 235.7,443.3 235.5,443.2C235.4,443.1 235.2,443.0 235.1,442.9C234.9,442.8 234.9,442.6 234.9,442.4C234.9,442.3 234.9,442.1 234.9,442.0C234.9,441.9 234.9,441.7 234.9,441.6C235.0,441.4 235.1,441.3 235.2,441.2C235.3,441.1 235.5,441.0 235.7,440.9C235.9,440.9 236.0,440.8 236.2,440.8C236.4,440.7 236.6,440.7 236.8,440.7C237.0,440.7 237.2,440.7 237.4,440.7C237.6,440.7 237.8,440.8 238.0,440.9C238.2,440.9 238.3,441.0 238.5,441.1C238.6,441.3 238.8,441.4 238.9,441.5C239.0,441.7 239.0,441.9 239.0,442.0Z" fill="none" stroke="#000" stroke-opacity="1.00" stroke-width="0.8"/>
<ellipse cx="237.10" cy="442.20" rx="2.4" ry="0.9" fill="#fff"/>
<path d="M246.5,420.0C246.5,421.7 246.5,423.6 246.2,425.2C245.9,426.8 245.2,428.3 244.6,429.4C243.9,430.6 243.1,431.2 242.3,432.0C241.6,432.8 241.0,433.6 240.2,434.3C239.5,435.0 238.7,436.0 237.8,436.4C236.9,436.7 235.9,436.8 235.0,436.5C234.1,436.2 233.2,435.3 232.4,434.3C231.6,433.4 230.8,432.1 230.2,430.6C229.6,429.1 229.1,427.3 229.0,425.5C228.8,423.7 229.0,421.7 229.3,420.0C229.6,418.3 230.1,416.9 230.5,415.5C230.9,414.0 231.2,412.7 231.6,411.3C232.0,409.9 232.3,408.3 232.9,407.1C233.5,405.9 234.3,404.8 235.1,404.1C235.9,403.5 236.9,403.3 237.8,403.3C238.7,403.2 239.7,403.3 240.6,403.8C241.4,404.2 242.4,404.8 243.2,405.8C243.9,406.9 244.5,408.4 245.0,409.9C245.5,411.5 245.7,413.2 246.0,414.9C246.2,416.6 246.4,418.3 246.5,420.0Z" fill="none" stroke="#444" stroke-opacity="0.40" stroke-width="0.5"/><path d="M244.8,420.0C244.9,421.4 245.1,423.0 245.1,424.5C245.1,426.1 244.9,428.0 244.5,429.3C244.1,430.7 243.3,431.8 242.6,432.6C241.9,433.4 241.0,433.8 240.2,434.1C239.4,434.5 238.6,434.8 237.8,434.9C237.0,434.9 236.1,434.8 235.4,434.3C234.6,433.8 233.9,432.8 233.3,431.8C232.8,430.8 232.3,429.5 231.9,428.2C231.5,427.0 231.1,425.7 230.8,424.4C230.6,423.0 230.4,421.4 230.4,420.0C230.5,418.6 230.7,417.1 231.0,415.8C231.3,414.4 231.6,413.2 232.0,411.9C232.3,410.5 232.6,408.9 233.1,407.7C233.7,406.5 234.4,405.0 235.2,404.4C235.9,403.8 237.0,403.7 237.8,403.9C238.6,404.1 239.5,405.0 240.2,405.8C240.9,406.5 241.6,407.5 242.1,408.5C242.7,409.6 243.2,410.7 243.6,412.0C243.9,413.2 244.1,414.6 244.3,416.0C244.5,417.3 244.6,418.6 244.8,420.0Z" fill="none" stroke="#444" stroke-opacity="0.47" stroke-width="0.5"/><path d="M244.6,420.0C244.7,421.3 244.6,422.8 244.4,424.1C244.3,425.5 244.1,427.0 243.7,428.2C243.3,429.4 242.7,430.7 242.1,431.4C241.5,432.1 240.6,432.3 239.9,432.3C239.2,432.3 238.4,431.8 237.8,431.5C237.2,431.2 236.6,431.0 236.0,430.7C235.4,430.4 234.7,430.3 234.1,429.7C233.5,429.2 232.9,428.4 232.5,427.4C232.0,426.5 231.7,425.2 231.4,424.0C231.2,422.7 230.9,421.4 230.8,420.0C230.8,418.6 230.8,417.1 231.0,415.8C231.2,414.5 231.7,413.2 232.2,412.2C232.7,411.2 233.4,410.5 233.9,409.8C234.5,409.1 235.1,408.4 235.8,407.9C236.4,407.5 237.1,406.9 237.8,407.0C238.5,407.0 239.2,407.5 239.8,408.1C240.4,408.7 240.9,409.7 241.4,410.6C241.9,411.4 242.3,412.2 242.7,413.1C243.2,414.1 243.7,415.0 244.0,416.2C244.3,417.3 244.5,418.7 244.6,420.0Z" fill="none" stroke="#444" stroke-opacity="0.54" stroke-width="0.5"/><path d="M242.8,420.0C242.8,421.0 242.9,422.0 242.9,423.2C242.8,424.3 242.9,425.7 242.7,426.8C242.4,427.9 242.0,429.1 241.5,429.9C241.0,430.6 240.3,430.9 239.7,431.2C239.1,431.4 238.4,431.2 237.8,431.1C237.2,431.0 236.6,430.7 236.1,430.3C235.5,429.8 235.0,429.2 234.6,428.4C234.2,427.7 233.9,426.7 233.6,425.9C233.3,425.0 233.0,424.1 232.8,423.1C232.5,422.2 232.2,421.1 232.1,420.0C232.1,418.9 232.1,417.6 232.3,416.6C232.5,415.5 232.9,414.6 233.3,413.7C233.6,412.8 234.1,412.0 234.5,411.3C234.9,410.5 235.4,409.6 236.0,409.1C236.5,408.6 237.2,408.2 237.8,408.2C238.4,408.3 239.1,408.8 239.6,409.3C240.2,409.8 240.7,410.6 241.1,411.3C241.5,412.1 241.9,412.9 242.2,413.9C242.5,414.8 242.7,415.9 242.8,416.9C242.9,417.9 242.8,419.0 242.8,420.0Z" fill="none" stroke="#444" stroke-opacity="0.61" stroke-width="0.5"/><path d="M242.6,420.0C242.6,420.9 242.6,422.0 242.5,422.9C242.4,423.9 242.2,424.9 241.9,425.7C241.6,426.5 241.2,427.4 240.8,428.0C240.4,428.5 239.8,428.8 239.3,428.9C238.8,429.0 238.3,428.7 237.8,428.4C237.3,428.2 236.9,427.9 236.5,427.7C236.1,427.4 235.6,427.3 235.2,426.9C234.8,426.5 234.3,425.9 234.0,425.2C233.7,424.5 233.6,423.6 233.4,422.7C233.3,421.9 233.2,420.9 233.2,420.0C233.2,419.1 233.1,418.1 233.2,417.2C233.3,416.2 233.5,415.2 233.8,414.5C234.1,413.7 234.6,413.1 235.0,412.5C235.4,412.0 235.8,411.5 236.3,411.2C236.8,410.9 237.3,410.6 237.8,410.6C238.3,410.6 238.8,410.9 239.3,411.4C239.7,411.8 240.0,412.7 240.3,413.4C240.6,414.0 240.8,414.7 241.1,415.4C241.4,416.1 241.7,416.6 242.0,417.4C242.2,418.2 242.5,419.1 242.6,420.0Z" fill="none" stroke="#444" stroke-opacity="0.69" stroke-width="0.5"/><path d="M241.4,420.0C241.5,420.7 241.4,421.5 241.4,422.2C241.3,423.0 241.2,423.8 241.0,424.5C240.8,425.2 240.5,425.9 240.2,426.3C239.9,426.8 239.4,427.0 239.0,427.0C238.6,427.1 238.2,426.9 237.8,426.8C237.4,426.7 237.1,426.6 236.7,426.4C236.4,426.2 236.0,426.1 235.6,425.7C235.3,425.3 235.1,424.7 234.9,424.1C234.7,423.5 234.6,422.7 234.5,422.1C234.4,421.4 234.3,420.7 234.3,420.0C234.2,419.3 234.2,418.5 234.3,417.8C234.4,417.1 234.6,416.4 234.8,415.8C235.0,415.1 235.3,414.6 235.6,414.1C235.9,413.6 236.2,413.1 236.6,412.7C236.9,412.4 237.4,412.1 237.8,412.2C238.2,412.3 238.6,412.7 239.0,413.1C239.3,413.5 239.5,414.2 239.8,414.8C240.0,415.3 240.2,415.8 240.4,416.3C240.6,416.9 240.9,417.4 241.1,418.0C241.2,418.6 241.4,419.3 241.4,420.0Z" fill="none" stroke="#444" stroke-opacity="0.76" stroke-width="0.5"/><path d="M240.5,420.0C240.5,420.5 240.5,421.1 240.4,421.6C240.3,422.1 240.1,422.6 240.0,423.0C239.8,423.5 239.6,423.8 239.4,424.2C239.2,424.6 239.0,425.1 238.7,425.3C238.4,425.6 238.1,425.8 237.8,425.7C237.5,425.7 237.2,425.4 236.9,425.1C236.7,424.8 236.5,424.3 236.3,423.9C236.1,423.6 236.0,423.2 235.8,422.8C235.7,422.4 235.5,421.9 235.4,421.5C235.4,421.0 235.3,420.5 235.3,420.0C235.3,419.5 235.2,419.0 235.3,418.4C235.3,417.9 235.3,417.2 235.4,416.7C235.6,416.2 235.8,415.6 236.0,415.3C236.3,415.0 236.6,414.8 236.9,414.8C237.2,414.7 237.5,414.9 237.8,414.9C238.1,415.0 238.3,415.1 238.6,415.2C238.9,415.4 239.1,415.6 239.4,415.9C239.6,416.2 239.7,416.7 239.9,417.1C240.0,417.5 240.1,418.0 240.2,418.5C240.3,419.0 240.4,419.5 240.5,420.0Z" fill="none" stroke="#444" stroke-opacity="0.83" stroke-width="0.5"/><path d="M239.6,420.0C239.6,420.4 239.6,420.7 239.5,421.1C239.4,421.4 239.3,421.7 239.2,421.9C239.1,422.2 239.0,422.5 238.8,422.7C238.7,422.9 238.5,423.1 238.3,423.2C238.2,423.3 238.0,423.3 237.8,423.2C237.6,423.2 237.5,423.0 237.3,422.8C237.2,422.7 237.0,422.6 236.9,422.4C236.7,422.3 236.6,422.1 236.4,421.9C236.3,421.7 236.2,421.4 236.1,421.1C236.0,420.7 236.0,420.4 236.0,420.0C235.9,419.6 235.9,419.2 236.0,418.9C236.1,418.5 236.2,418.1 236.3,417.9C236.4,417.6 236.6,417.5 236.8,417.3C237.0,417.2 237.2,417.2 237.3,417.2C237.5,417.1 237.6,417.1 237.8,417.1C238.0,417.0 238.1,416.9 238.3,417.0C238.5,417.0 238.7,417.1 238.8,417.3C239.0,417.5 239.1,417.8 239.2,418.0C239.3,418.3 239.4,418.6 239.5,418.9C239.6,419.3 239.6,419.6 239.6,420.0Z" fill="none" stroke="#444" stroke-opacity="0.90" stroke-width="0.5"/>
<path d="M243.2,405.5C243.2,405.8 243.0,405.8 242.8,405.9C242.7,406.0 242.5,406.1 242.2,406.3C242.0,406.4 241.7,406.5 241.3,406.6C240.8,406.8 240.1,406.9 239.5,406.9C238.8,406.9 238.0,406.9 237.3,406.9C236.6,406.9 236.0,406.8 235.3,406.8C234.7,406.7 234.0,406.7 233.5,406.6C232.9,406.5 232.3,406.4 232.0,406.3C231.6,406.2 231.4,406.0 231.3,405.9C231.2,405.8 231.2,405.8 231.2,405.5C231.3,405.2 231.3,404.4 231.5,403.9C231.7,403.4 232.0,402.9 232.3,402.5C232.7,402.0 233.2,401.7 233.7,401.4C234.2,401.0 234.8,400.7 235.3,400.4C235.9,400.1 236.6,399.7 237.3,399.6C238.0,399.5 238.9,399.5 239.5,399.7C240.2,399.9 240.8,400.4 241.3,400.8C241.8,401.3 242.1,401.9 242.4,402.4C242.6,402.9 242.9,403.4 243.0,403.9C243.1,404.5 243.2,405.2 243.2,405.5Z" fill="none" stroke="#222" stroke-opacity="0.60" stroke-width="0.7"/><path d="M242.9,405.5C242.7,405.8 242.3,405.7 242.0,405.8C241.7,405.9 241.4,406.0 241.1,406.1C240.7,406.2 240.5,406.2 240.1,406.3C239.7,406.4 239.3,406.5 238.8,406.5C238.4,406.5 237.8,406.6 237.3,406.6C236.8,406.6 236.2,406.6 235.6,406.6C235.0,406.6 234.4,406.6 233.9,406.5C233.4,406.4 233.0,406.3 232.8,406.2C232.5,406.1 232.5,406.0 232.4,405.8C232.3,405.7 232.3,405.8 232.3,405.5C232.2,405.2 232.2,404.6 232.3,404.1C232.5,403.7 232.8,403.3 233.1,402.9C233.5,402.6 233.9,402.4 234.4,402.1C234.8,401.9 235.3,401.7 235.8,401.5C236.3,401.4 236.8,401.2 237.3,401.2C237.8,401.1 238.4,401.2 238.9,401.3C239.4,401.4 239.9,401.6 240.4,401.9C240.9,402.1 241.4,402.4 241.8,402.7C242.2,403.1 242.7,403.5 242.8,404.0C243.0,404.4 243.0,405.2 242.9,405.5Z" fill="none" stroke="#222" stroke-opacity="0.73" stroke-width="0.7"/><path d="M241.5,405.5C241.5,405.7 241.4,405.7 241.2,405.8C241.1,405.9 240.7,405.9 240.5,406.0C240.2,406.0 239.9,406.1 239.5,406.2C239.2,406.2 238.9,406.3 238.5,406.3C238.2,406.3 237.7,406.4 237.3,406.3C236.9,406.3 236.5,406.3 236.1,406.3C235.7,406.2 235.4,406.2 235.0,406.2C234.7,406.1 234.3,406.1 234.0,406.0C233.6,406.0 233.3,405.9 233.1,405.8C232.9,405.7 232.9,405.7 232.9,405.5C232.9,405.3 233.1,404.7 233.3,404.4C233.4,404.1 233.7,403.7 234.0,403.5C234.3,403.2 234.6,403.0 235.0,402.8C235.4,402.7 235.8,402.7 236.2,402.6C236.6,402.6 236.9,402.5 237.3,402.5C237.7,402.4 238.1,402.3 238.5,402.3C239.0,402.3 239.5,402.4 239.9,402.5C240.2,402.7 240.6,403.0 240.8,403.3C241.1,403.6 241.2,404.0 241.3,404.4C241.4,404.8 241.5,405.3 241.5,405.5Z" fill="none" stroke="#222" stroke-opacity="0.87" stroke-width="0.7"/><path d="M240.0,405.5C240.0,405.6 240.1,405.6 240.0,405.7C240.0,405.7 239.9,405.8 239.7,405.9C239.5,405.9 239.2,406.0 239.0,406.0C238.7,406.0 238.5,406.0 238.2,406.1C237.9,406.1 237.6,406.1 237.3,406.1C237.0,406.1 236.6,406.1 236.3,406.1C236.0,406.1 235.7,406.1 235.5,406.0C235.3,406.0 235.1,405.9 235.0,405.9C234.8,405.8 234.7,405.7 234.6,405.7C234.6,405.6 234.6,405.6 234.6,405.5C234.6,405.4 234.8,405.0 234.9,404.8C235.0,404.6 235.1,404.4 235.2,404.2C235.3,404.0 235.4,403.7 235.6,403.5C235.7,403.3 236.0,403.0 236.3,402.9C236.6,402.8 237.0,402.8 237.3,402.8C237.6,402.9 237.9,403.0 238.2,403.1C238.5,403.2 238.8,403.4 239.0,403.5C239.2,403.7 239.4,403.9 239.6,404.1C239.7,404.3 239.8,404.6 239.8,404.8C239.9,405.0 239.9,405.4 240.0,405.5Z" fill="none" stroke="#222" stroke-opacity="1.00" stroke-width="0.7"/>
<path d="M276.9,397.5C276.8,398.0 276.4,398.4 276.0,398.8C275.7,399.2 275.2,399.5 274.8,399.9C274.4,400.3 274.1,400.6 273.7,401.0C273.2,401.3 272.7,401.7 272.0,402.0C271.4,402.2 270.6,402.4 269.8,402.4C269.0,402.4 268.2,402.4 267.5,402.2C266.7,402.1 265.9,401.9 265.3,401.6C264.7,401.3 264.1,400.8 263.9,400.3C263.6,399.9 263.6,399.3 263.5,398.8C263.5,398.4 263.6,397.9 263.6,397.5C263.7,397.1 263.6,396.6 263.6,396.2C263.7,395.7 263.8,395.2 264.2,394.8C264.5,394.4 265.1,394.0 265.6,393.7C266.2,393.5 266.9,393.2 267.6,393.1C268.3,392.9 269.1,392.7 269.8,392.7C270.5,392.7 271.4,392.7 272.1,392.9C272.8,393.0 273.4,393.4 274.0,393.7C274.6,394.0 275.0,394.4 275.5,394.8C275.9,395.2 276.4,395.6 276.6,396.0C276.9,396.5 277.0,397.0 276.9,397.5Z" fill="none" stroke="#333" stroke-opacity="0.50" stroke-width="0.55"/><path d="M276.2,397.5C276.1,397.9 275.6,398.3 275.3,398.7C275.0,399.0 274.6,399.3 274.2,399.6C273.8,399.9 273.5,400.2 273.0,400.4C272.6,400.7 272.1,400.9 271.5,401.0C271.0,401.1 270.4,401.1 269.8,401.1C269.2,401.1 268.6,401.1 268.1,401.0C267.5,400.9 266.9,400.8 266.4,400.6C265.8,400.4 265.3,400.1 265.0,399.8C264.7,399.5 264.5,399.1 264.3,398.7C264.1,398.3 263.9,397.9 263.8,397.5C263.8,397.1 263.7,396.6 263.8,396.2C264.0,395.8 264.4,395.4 264.8,395.1C265.3,394.8 265.9,394.7 266.5,394.5C267.1,394.4 267.6,394.3 268.2,394.2C268.7,394.2 269.3,394.1 269.8,394.0C270.3,394.0 270.9,394.0 271.5,394.1C272.0,394.2 272.6,394.3 273.1,394.5C273.7,394.7 274.2,394.9 274.7,395.2C275.2,395.4 275.7,395.8 276.0,396.2C276.2,396.6 276.3,397.1 276.2,397.5Z" fill="none" stroke="#333" stroke-opacity="0.61" stroke-width="0.55"/><path d="M274.6,397.5C274.5,397.8 274.3,398.1 274.1,398.4C274.0,398.7 273.8,399.0 273.5,399.3C273.3,399.5 273.0,399.8 272.6,400.0C272.2,400.2 271.7,400.3 271.2,400.4C270.8,400.4 270.3,400.4 269.8,400.3C269.3,400.3 268.9,400.2 268.5,400.1C268.1,400.0 267.7,399.9 267.3,399.8C266.9,399.6 266.5,399.4 266.2,399.2C265.9,399.0 265.6,398.7 265.4,398.4C265.2,398.1 265.0,397.8 264.9,397.5C264.8,397.2 264.7,396.8 264.9,396.5C265.1,396.1 265.4,395.8 265.8,395.6C266.2,395.4 266.8,395.3 267.2,395.2C267.7,395.1 268.1,395.0 268.5,394.9C269.0,394.9 269.4,394.8 269.8,394.7C270.2,394.7 270.7,394.7 271.1,394.8C271.6,394.8 272.0,395.0 272.4,395.1C272.8,395.3 273.2,395.5 273.5,395.7C273.9,395.9 274.2,396.2 274.4,396.5C274.6,396.8 274.6,397.2 274.6,397.5Z" fill="none" stroke="#333" stroke-opacity="0.72" stroke-width="0.55"/><path d="M272.8,397.5C272.8,397.7 272.7,397.9 272.6,398.1C272.6,398.3 272.5,398.5 272.4,398.7C272.2,398.9 272.0,399.1 271.7,399.3C271.5,399.4 271.1,399.5 270.8,399.6C270.5,399.6 270.2,399.7 269.8,399.7C269.4,399.7 269.1,399.7 268.7,399.7C268.4,399.6 268.0,399.5 267.8,399.3C267.5,399.2 267.3,399.0 267.1,398.8C266.9,398.6 266.7,398.4 266.6,398.2C266.4,398.0 266.3,397.7 266.3,397.5C266.4,397.3 266.5,397.0 266.7,396.8C266.9,396.6 267.2,396.5 267.4,396.3C267.6,396.2 267.8,396.1 268.1,395.9C268.3,395.8 268.5,395.6 268.8,395.5C269.1,395.4 269.5,395.3 269.8,395.2C270.1,395.2 270.5,395.2 270.9,395.3C271.3,395.3 271.6,395.4 271.9,395.6C272.3,395.7 272.6,395.9 272.8,396.1C272.9,396.3 273.0,396.6 273.0,396.8C273.0,397.1 272.9,397.3 272.8,397.5Z" fill="none" stroke="#333" stroke-opacity="0.84" stroke-width="0.55"/><path d="M272.0,397.5C272.0,397.6 271.9,397.8 271.8,397.9C271.7,398.1 271.5,398.2 271.4,398.2C271.2,398.3 271.0,398.4 270.9,398.5C270.7,398.6 270.6,398.7 270.4,398.7C270.2,398.8 270.0,398.9 269.8,398.9C269.6,398.9 269.3,398.9 269.1,398.9C268.9,398.8 268.7,398.8 268.5,398.7C268.3,398.6 268.1,398.5 267.9,398.4C267.8,398.3 267.7,398.1 267.7,397.9C267.7,397.8 267.8,397.6 267.8,397.5C267.9,397.4 267.9,397.2 268.0,397.1C268.1,397.0 268.1,396.9 268.2,396.7C268.3,396.6 268.4,396.5 268.6,396.4C268.7,396.3 269.0,396.3 269.2,396.2C269.4,396.2 269.6,396.2 269.8,396.1C270.0,396.1 270.3,396.1 270.5,396.2C270.7,396.2 270.9,396.2 271.1,396.3C271.3,396.4 271.4,396.5 271.6,396.7C271.7,396.8 271.8,396.9 271.9,397.1C271.9,397.2 272.0,397.4 272.0,397.5Z" fill="none" stroke="#333" stroke-opacity="0.95" stroke-width="0.55"/>
<path d="M275.1,412.0C275.0,412.8 274.7,413.5 274.5,414.3C274.2,415.0 273.9,415.5 273.6,416.3C273.4,417.1 273.3,418.1 273.0,419.1C272.6,420.0 272.2,421.5 271.5,422.3C270.8,423.0 269.7,423.6 268.8,423.6C267.9,423.6 266.9,422.8 266.1,422.1C265.4,421.4 264.8,420.4 264.3,419.6C263.8,418.7 263.4,417.9 263.1,417.1C262.8,416.2 262.6,415.4 262.5,414.5C262.4,413.7 262.4,412.8 262.5,412.0C262.5,411.2 262.6,410.4 262.8,409.6C263.0,408.8 263.3,408.0 263.7,407.4C264.1,406.8 264.6,406.3 265.2,405.9C265.7,405.5 266.3,405.3 267.0,405.0C267.6,404.7 268.1,404.4 268.8,404.2C269.5,403.9 270.3,403.6 271.0,403.7C271.7,403.8 272.5,404.2 273.1,404.7C273.7,405.3 274.1,406.2 274.4,407.0C274.7,407.8 274.9,408.7 275.0,409.5C275.2,410.3 275.2,411.2 275.1,412.0Z" fill="none" stroke="#555" stroke-opacity="0.50" stroke-width="0.5"/><path d="M274.4,412.0C274.4,412.7 274.0,413.4 273.8,414.0C273.6,414.6 273.2,415.1 273.0,415.7C272.7,416.4 272.6,417.1 272.3,417.9C272.0,418.7 271.6,419.7 271.0,420.3C270.4,420.9 269.6,421.5 268.8,421.6C268.0,421.7 267.1,421.4 266.4,420.9C265.7,420.5 265.1,419.8 264.7,419.0C264.2,418.3 264.0,417.3 263.8,416.5C263.6,415.6 263.7,414.8 263.7,414.0C263.8,413.3 263.9,412.7 263.9,412.0C264.0,411.3 263.9,410.7 264.0,410.1C264.1,409.4 264.2,408.7 264.4,408.1C264.7,407.5 265.1,406.9 265.6,406.5C266.0,406.1 266.5,405.7 267.1,405.4C267.6,405.2 268.2,404.9 268.8,404.8C269.4,404.8 270.1,404.9 270.6,405.1C271.2,405.4 271.7,405.9 272.1,406.4C272.5,406.9 272.9,407.4 273.2,408.0C273.6,408.6 274.0,409.2 274.2,409.8C274.4,410.5 274.5,411.3 274.4,412.0Z" fill="none" stroke="#555" stroke-opacity="0.65" stroke-width="0.5"/><path d="M273.9,412.0C273.9,412.6 273.6,413.3 273.3,413.8C273.1,414.4 272.8,414.8 272.5,415.3C272.2,415.8 272.0,416.3 271.6,416.8C271.3,417.3 270.9,417.9 270.5,418.3C270.0,418.6 269.4,418.8 268.8,418.9C268.2,419.0 267.6,418.9 267.0,418.7C266.5,418.5 265.9,418.1 265.5,417.6C265.1,417.1 264.8,416.4 264.6,415.8C264.3,415.2 264.3,414.4 264.3,413.8C264.2,413.2 264.2,412.6 264.3,412.0C264.3,411.4 264.3,410.8 264.5,410.3C264.6,409.7 264.8,409.1 265.1,408.7C265.4,408.3 265.8,407.9 266.2,407.6C266.6,407.4 267.0,407.1 267.5,407.0C267.9,406.8 268.3,406.6 268.8,406.5C269.3,406.5 269.7,406.6 270.2,406.8C270.6,407.0 271.0,407.3 271.4,407.6C271.8,407.9 272.1,408.3 272.5,408.7C272.9,409.1 273.3,409.6 273.5,410.1C273.8,410.7 273.9,411.4 273.9,412.0Z" fill="none" stroke="#555" stroke-opacity="0.80" stroke-width="0.5"/>
<path d="M273.4,411.5C273.4,412.0 273.2,412.4 273.1,412.9C272.9,413.3 272.8,413.8 272.6,414.2C272.3,414.7 272.1,415.2 271.7,415.5C271.3,415.8 270.8,416.1 270.3,416.2C269.8,416.3 269.3,416.3 268.8,416.2C268.3,416.1 267.8,416.0 267.4,415.8C267.0,415.6 266.6,415.3 266.2,415.0C265.9,414.7 265.7,414.3 265.4,413.9C265.2,413.6 265.1,413.2 264.9,412.8C264.7,412.4 264.4,412.0 264.3,411.5C264.1,411.0 263.9,410.4 264.0,409.9C264.1,409.4 264.3,408.9 264.6,408.5C265.0,408.1 265.5,407.8 265.9,407.6C266.4,407.3 266.9,407.2 267.4,407.1C267.8,407.0 268.3,406.9 268.8,407.0C269.3,407.0 269.7,407.2 270.1,407.4C270.6,407.5 270.9,407.8 271.3,408.1C271.7,408.3 272.0,408.6 272.4,408.9C272.7,409.2 273.1,409.6 273.2,410.1C273.4,410.5 273.5,411.0 273.4,411.5Z" fill="none" stroke="#000" stroke-opacity="0.80" stroke-width="0.8"/><path d="M272.7,411.5C272.7,411.9 272.5,412.3 272.4,412.7C272.2,413.0 272.0,413.4 271.8,413.7C271.6,414.1 271.5,414.5 271.2,414.8C270.9,415.0 270.5,415.3 270.1,415.5C269.7,415.6 269.2,415.6 268.8,415.6C268.4,415.5 268.0,415.4 267.6,415.3C267.2,415.1 266.8,414.9 266.5,414.6C266.3,414.3 266.0,414.0 265.9,413.6C265.7,413.3 265.7,412.9 265.6,412.5C265.5,412.2 265.4,411.9 265.3,411.5C265.2,411.1 265.1,410.7 265.1,410.3C265.1,409.9 265.2,409.4 265.4,409.0C265.6,408.7 266.0,408.3 266.3,408.1C266.7,407.9 267.1,407.7 267.5,407.6C268.0,407.5 268.4,407.5 268.8,407.5C269.2,407.6 269.6,407.7 270.0,407.9C270.3,408.1 270.6,408.4 270.9,408.6C271.2,408.9 271.5,409.1 271.7,409.4C272.0,409.7 272.3,410.0 272.4,410.3C272.6,410.7 272.7,411.1 272.7,411.5Z" fill="none" stroke="#000" stroke-opacity="0.85" stroke-width="0.8"/><path d="M271.7,411.5C271.7,411.8 271.6,412.1 271.6,412.4C271.5,412.7 271.4,413.0 271.3,413.3C271.2,413.6 271.0,414.0 270.8,414.2C270.5,414.5 270.2,414.7 269.9,414.8C269.5,414.8 269.1,414.8 268.8,414.7C268.5,414.7 268.2,414.5 267.9,414.4C267.6,414.3 267.2,414.2 267.0,414.0C266.7,413.8 266.4,413.6 266.3,413.3C266.1,413.1 266.0,412.7 265.9,412.4C265.9,412.1 265.9,411.8 265.9,411.5C265.9,411.2 265.9,410.9 266.0,410.6C266.0,410.3 266.2,410.0 266.3,409.7C266.5,409.5 266.8,409.2 267.0,409.0C267.3,408.8 267.5,408.6 267.8,408.5C268.1,408.3 268.5,408.1 268.8,408.1C269.1,408.0 269.6,408.1 269.9,408.2C270.2,408.3 270.5,408.6 270.7,408.9C270.9,409.2 271.0,409.5 271.1,409.8C271.3,410.1 271.4,410.3 271.5,410.6C271.6,410.9 271.6,411.2 271.7,411.5Z" fill="none" stroke="#000" stroke-opacity="0.90" stroke-width="0.8"/><path d="M271.1,411.5C271.1,411.7 271.0,412.0 271.0,412.2C271.0,412.5 271.0,412.7 270.8,413.0C270.7,413.2 270.6,413.5 270.3,413.6C270.1,413.8 269.8,413.9 269.6,413.9C269.3,413.9 269.0,413.9 268.8,413.8C268.6,413.8 268.3,413.7 268.1,413.6C267.9,413.5 267.7,413.4 267.5,413.2C267.4,413.1 267.2,412.9 267.1,412.7C267.0,412.6 266.8,412.4 266.7,412.2C266.6,412.0 266.4,411.7 266.3,411.5C266.3,411.3 266.2,410.9 266.3,410.7C266.4,410.4 266.6,410.2 266.8,410.0C266.9,409.8 267.2,409.7 267.4,409.6C267.6,409.4 267.8,409.3 268.1,409.2C268.3,409.2 268.6,409.1 268.8,409.1C269.0,409.2 269.3,409.3 269.5,409.4C269.7,409.4 269.9,409.6 270.1,409.7C270.3,409.8 270.5,410.0 270.7,410.1C270.8,410.3 270.9,410.6 271.0,410.8C271.1,411.0 271.1,411.3 271.1,411.5Z" fill="none" stroke="#000" stroke-opacity="0.95" stroke-width="0.8"/><path d="M270.4,411.5C270.4,411.7 270.5,411.9 270.4,412.0C270.4,412.2 270.4,412.4 270.3,412.6C270.1,412.7 270.0,412.8 269.8,412.9C269.6,413.0 269.5,413.0 269.3,413.0C269.1,413.0 269.0,413.1 268.8,413.1C268.6,413.1 268.5,413.1 268.3,413.0C268.2,413.0 268.0,412.9 267.9,412.8C267.8,412.7 267.7,412.5 267.6,412.4C267.5,412.3 267.4,412.1 267.3,412.0C267.3,411.8 267.2,411.7 267.2,411.5C267.2,411.3 267.2,411.2 267.3,411.0C267.3,410.8 267.4,410.7 267.5,410.5C267.6,410.4 267.7,410.2 267.8,410.1C267.9,410.0 268.1,409.8 268.2,409.8C268.4,409.7 268.6,409.8 268.8,409.8C269.0,409.9 269.1,410.0 269.3,410.1C269.4,410.1 269.5,410.2 269.7,410.3C269.8,410.4 269.9,410.5 270.0,410.6C270.1,410.7 270.2,410.9 270.2,411.0C270.3,411.2 270.4,411.3 270.4,411.5Z" fill="none" stroke="#000" stroke-opacity="1.00" stroke-width="0.8"/>
<path d="M267.8,437.5C268.0,437.9 268.2,438.4 268.1,438.8C268.1,439.2 267.8,439.7 267.5,440.1C267.2,440.5 266.6,440.8 266.1,441.1C265.6,441.4 265.1,441.6 264.6,441.8C264.1,442.0 263.7,442.2 263.2,442.3C262.7,442.5 262.2,442.6 261.7,442.7C261.2,442.7 260.6,442.7 260.1,442.7C259.6,442.6 259.0,442.6 258.5,442.4C258.0,442.3 257.4,442.1 257.1,441.7C256.8,441.4 256.6,441.0 256.6,440.5C256.6,440.1 256.8,439.6 257.0,439.2C257.2,438.8 257.4,438.4 257.7,438.0C257.9,437.6 258.1,437.2 258.5,436.9C258.9,436.5 259.3,436.2 259.8,436.0C260.3,435.8 260.8,435.6 261.4,435.5C261.9,435.4 262.4,435.3 262.9,435.3C263.5,435.2 264.0,435.2 264.5,435.3C265.0,435.3 265.5,435.5 265.9,435.7C266.3,435.9 266.7,436.2 267.0,436.5C267.3,436.8 267.6,437.2 267.8,437.5Z" fill="none" stroke="#333" stroke-opacity="0.50" stroke-width="0.55"/><path d="M266.9,437.8C267.1,438.1 267.2,438.5 267.2,438.8C267.2,439.2 266.9,439.6 266.7,439.9C266.4,440.3 266.0,440.6 265.6,440.9C265.3,441.1 264.9,441.4 264.4,441.5C264.0,441.7 263.5,441.8 263.1,441.9C262.6,441.9 262.2,441.9 261.8,441.9C261.4,441.9 261.0,441.9 260.6,441.9C260.1,441.9 259.6,441.9 259.2,441.8C258.8,441.7 258.4,441.4 258.2,441.2C257.9,440.9 257.8,440.5 257.8,440.2C257.7,439.9 257.8,439.5 257.8,439.2C257.9,438.8 257.9,438.4 258.1,438.1C258.3,437.8 258.6,437.4 259.0,437.1C259.3,436.9 259.8,436.7 260.2,436.5C260.6,436.3 261.1,436.1 261.5,436.0C261.9,435.9 262.4,435.8 262.9,435.8C263.3,435.8 263.7,435.9 264.1,436.0C264.5,436.1 264.8,436.3 265.1,436.5C265.4,436.7 265.7,436.9 266.0,437.1C266.3,437.3 266.7,437.5 266.9,437.8Z" fill="none" stroke="#333" stroke-opacity="0.63" stroke-width="0.55"/><path d="M266.2,438.0C266.3,438.2 266.4,438.6 266.3,438.9C266.2,439.1 265.9,439.5 265.6,439.7C265.4,440.0 265.0,440.2 264.7,440.3C264.4,440.5 264.2,440.7 263.9,440.9C263.6,441.0 263.2,441.2 262.9,441.3C262.6,441.4 262.2,441.4 261.9,441.5C261.5,441.5 261.2,441.5 260.8,441.5C260.5,441.4 260.1,441.4 259.8,441.3C259.5,441.2 259.2,441.0 259.0,440.7C258.8,440.5 258.8,440.2 258.7,440.0C258.7,439.7 258.7,439.4 258.8,439.1C258.8,438.9 258.8,438.6 259.0,438.3C259.1,438.0 259.3,437.7 259.6,437.5C259.9,437.3 260.3,437.1 260.6,437.0C261.0,436.9 261.3,436.8 261.7,436.7C262.0,436.7 262.4,436.6 262.7,436.6C263.1,436.6 263.4,436.6 263.7,436.6C264.1,436.7 264.3,436.8 264.6,436.9C264.9,437.0 265.2,437.1 265.5,437.3C265.7,437.5 266.0,437.7 266.2,438.0Z" fill="none" stroke="#333" stroke-opacity="0.77" stroke-width="0.55"/><path d="M265.1,438.2C265.2,438.4 265.2,438.7 265.2,438.9C265.1,439.1 265.0,439.4 264.9,439.6C264.7,439.8 264.5,439.9 264.2,440.1C264.0,440.2 263.7,440.3 263.5,440.4C263.2,440.5 263.0,440.6 262.7,440.7C262.5,440.7 262.2,440.9 262.0,440.9C261.7,440.9 261.4,441.0 261.2,440.9C260.9,440.9 260.7,440.8 260.5,440.6C260.3,440.5 260.1,440.4 259.9,440.2C259.8,440.1 259.6,439.9 259.6,439.7C259.5,439.5 259.5,439.3 259.5,439.1C259.6,438.9 259.7,438.7 259.9,438.5C260.0,438.3 260.1,438.1 260.3,437.9C260.5,437.7 260.7,437.5 261.0,437.4C261.2,437.3 261.6,437.2 261.8,437.2C262.1,437.2 262.4,437.2 262.6,437.3C262.9,437.3 263.1,437.3 263.3,437.3C263.6,437.3 263.8,437.3 264.1,437.4C264.3,437.5 264.6,437.6 264.8,437.7C264.9,437.8 265.0,438.0 265.1,438.2Z" fill="none" stroke="#333" stroke-opacity="0.90" stroke-width="0.55"/>
<ellipse cx="262.30" cy="439.30" rx="2.4" ry="1.6" fill="#fff"/>
<path d="M257.1,434.6C256.7,435.4 256.2,436.2 255.7,437.0C255.3,437.7 254.8,438.5 254.3,439.1C253.8,439.8 253.3,440.5 252.7,440.8C252.2,441.2 251.6,441.3 251.2,441.3C250.7,441.3 250.4,440.9 250.0,440.7C249.6,440.5 249.3,440.3 248.9,440.0C248.6,439.7 248.1,439.5 247.9,439.0C247.6,438.5 247.4,437.7 247.4,437.0C247.3,436.2 247.4,435.2 247.6,434.3C247.7,433.3 248.0,432.3 248.3,431.4C248.6,430.4 249.1,429.4 249.6,428.6C250.1,427.9 250.7,427.3 251.3,426.9C251.8,426.5 252.4,426.4 252.9,426.2C253.3,425.9 253.8,425.7 254.3,425.5C254.7,425.2 255.3,424.8 255.8,424.8C256.2,424.8 256.7,424.9 257.1,425.3C257.4,425.6 257.7,426.2 257.9,426.9C258.0,427.5 258.2,428.3 258.2,429.1C258.2,429.9 258.2,430.8 258.0,431.7C257.8,432.7 257.4,433.7 257.1,434.6Z" fill="none" stroke="#555" stroke-opacity="0.40" stroke-width="0.45"/><path d="M256.3,434.3C256.0,435.0 255.7,435.8 255.3,436.4C254.9,437.0 254.5,437.6 254.0,438.0C253.6,438.4 253.2,438.7 252.8,438.9C252.3,439.1 252.0,439.2 251.6,439.3C251.2,439.4 250.8,439.6 250.4,439.6C250.0,439.5 249.7,439.4 249.4,439.1C249.2,438.8 249.1,438.2 249.0,437.7C248.9,437.1 248.9,436.5 248.8,435.9C248.8,435.3 248.8,434.7 248.8,434.0C248.9,433.3 249.0,432.4 249.2,431.7C249.5,431.0 249.9,430.2 250.2,429.5C250.6,428.9 251.1,428.3 251.5,427.9C252.0,427.4 252.4,427.0 252.8,426.7C253.3,426.5 253.7,426.4 254.1,426.4C254.4,426.5 254.7,426.8 255.0,427.0C255.3,427.2 255.5,427.5 255.7,427.7C256.0,427.9 256.4,428.0 256.6,428.4C256.9,428.7 257.2,429.2 257.2,429.8C257.3,430.4 257.2,431.2 257.1,432.0C256.9,432.7 256.6,433.5 256.3,434.3Z" fill="none" stroke="#555" stroke-opacity="0.55" stroke-width="0.45"/><path d="M255.1,433.8C254.9,434.3 254.7,434.8 254.4,435.2C254.2,435.6 253.9,436.0 253.6,436.4C253.4,436.8 253.1,437.2 252.8,437.5C252.4,437.8 252.1,438.3 251.7,438.4C251.4,438.6 251.0,438.6 250.8,438.5C250.5,438.4 250.3,438.0 250.2,437.7C250.0,437.4 249.9,437.0 249.8,436.6C249.8,436.2 249.6,435.8 249.6,435.3C249.6,434.8 249.7,434.3 249.8,433.7C249.9,433.2 250.2,432.6 250.4,432.1C250.6,431.6 250.8,431.1 251.1,430.7C251.4,430.3 251.6,429.8 251.9,429.4C252.2,429.1 252.5,428.8 252.8,428.6C253.1,428.3 253.4,428.3 253.7,428.2C254.0,428.1 254.3,427.9 254.7,427.9C255.0,427.9 255.3,427.8 255.6,428.0C255.8,428.2 256.1,428.5 256.1,429.0C256.2,429.4 256.1,430.1 256.0,430.6C256.0,431.2 255.8,431.8 255.6,432.3C255.5,432.8 255.3,433.4 255.1,433.8Z" fill="none" stroke="#555" stroke-opacity="0.70" stroke-width="0.45"/>
<rect x="224.80" y="392.00" width="23.00" height="17.20" fill="none" stroke="#7f83bb" stroke-width="0.95"/>
<rect x="224.80" y="409.20" width="23.00" height="19.40" fill="none" stroke="#7f83bb" stroke-width="0.95"/>
<rect x="224.80" y="428.60" width="23.00" height="24.20" fill="none" stroke="#7f83bb" stroke-width="0.95"/>
<rect x="247.80" y="404.20" width="12.20" height="24.40" fill="none" stroke="#7f83bb" stroke-width="0.95"/>
<rect x="247.80" y="428.60" width="12.20" height="24.20" fill="none" stroke="#7f83bb" stroke-width="0.95"/>
<rect x="260.00" y="392.00" width="20.60" height="12.20" fill="none" stroke="#7f83bb" stroke-width="0.95"/>
<rect x="260.00" y="404.20" width="20.60" height="24.40" fill="none" stroke="#7f83bb" stroke-width="0.95"/>
<rect x="260.00" y="428.60" width="20.60" height="24.20" fill="none" stroke="#7f83bb" stroke-width="0.95"/>
<text x="147.40" y="398.20" font-size="6" fill="#444">I</text>
<text x="203.60" y="398.20" font-size="6.9" fill="#444" textLength="2.60" lengthAdjust="spacingAndGlyphs">II</text>
<text x="203.40" y="411.00" font-size="6" fill="#444">V</text>
<text x="203.40" y="437.40" font-size="6.9" fill="#444" textLength="7.00" lengthAdjust="spacingAndGlyphs">VII</text>
<text x="177.80" y="382.30" font-size="7.13" stroke="#1a1a1a" stroke-width="0.2" text-anchor="middle" textLength="9.50" lengthAdjust="spacingAndGlyphs">+/+</text>
<text x="254.60" y="382.30" font-size="7.13" stroke="#1a1a1a" stroke-width="0.2" text-anchor="middle" textLength="21.50" lengthAdjust="spacingAndGlyphs">P95H/+</text>
<text x="137.90" y="450.80" font-size="8.74" stroke="#1a1a1a" stroke-width="0.2" text-anchor="middle" textLength="14.50" lengthAdjust="spacingAndGlyphs" transform="rotate(-90 137.90 450.80)">Ly6C</text>
<path d="M135.6,440.5 L135.6,432.5" fill="none" stroke="#111" stroke-width="1.0"/>
<path d="M133.8,433.6 L135.6,429.8 L137.4,433.6 Z" fill="#111"/>
<text x="143.40" y="468.30" font-size="9.43" stroke="#1a1a1a" stroke-width="0.2" textLength="20.60" lengthAdjust="spacingAndGlyphs">CD11b</text>
<path d="M167.5,465.8 L175,465.8" fill="none" stroke="#111" stroke-width="1.0"/>
<path d="M174,464.0 L177.8,465.8 L174,467.6 Z" fill="#111"/>
<text x="312.30" y="364.60" font-size="10.8" stroke="#000" stroke-width="0.3" fill="#000" font-weight="bold" textLength="10.40" lengthAdjust="spacingAndGlyphs">N</text>
<line x1="341.80" y1="379.00" x2="341.80" y2="468.35" stroke="#111" stroke-width="1.5"/>
<line x1="338.80" y1="467.60" x2="341.80" y2="467.60" stroke="#111" stroke-width="1.5"/>
<text x="333.50" y="470.12" font-size="7.0" stroke="#1a1a1a" stroke-width="0.2" text-anchor="end" textLength="3.42" lengthAdjust="spacingAndGlyphs">0</text>
<line x1="338.80" y1="450.40" x2="341.80" y2="450.40" stroke="#111" stroke-width="1.5"/>
<text x="333.50" y="452.92" font-size="7.0" stroke="#1a1a1a" stroke-width="0.2" text-anchor="end" textLength="6.85" lengthAdjust="spacingAndGlyphs">20</text>
<line x1="338.80" y1="433.20" x2="341.80" y2="433.20" stroke="#111" stroke-width="1.5"/>
<text x="333.50" y="435.72" font-size="7.0" stroke="#1a1a1a" stroke-width="0.2" text-anchor="end" textLength="6.85" lengthAdjust="spacingAndGlyphs">40</text>
<line x1="338.80" y1="416.00" x2="341.80" y2="416.00" stroke="#111" stroke-width="1.5"/>
<text x="333.50" y="418.52" font-size="7.0" stroke="#1a1a1a" stroke-width="0.2" text-anchor="end" textLength="6.85" lengthAdjust="spacingAndGlyphs">60</text>
<line x1="338.80" y1="398.80" x2="341.80" y2="398.80" stroke="#111" stroke-width="1.5"/>
<text x="333.50" y="401.32" font-size="7.0" stroke="#1a1a1a" stroke-width="0.2" text-anchor="end" textLength="6.85" lengthAdjust="spacingAndGlyphs">80</text>
<line x1="338.80" y1="381.60" x2="341.80" y2="381.60" stroke="#111" stroke-width="1.5"/>
<text x="333.50" y="384.12" font-size="7.0" stroke="#1a1a1a" stroke-width="0.2" text-anchor="end" textLength="10.27" lengthAdjust="spacingAndGlyphs">100</text>
<line x1="341.05" y1="467.60" x2="397.30" y2="467.60" stroke="#111" stroke-width="1.5"/>
<line x1="356.60" y1="467.60" x2="356.60" y2="470.00" stroke="#111" stroke-width="1.1"/>
<line x1="384.60" y1="467.60" x2="384.60" y2="470.00" stroke="#111" stroke-width="1.1"/>
<text x="356.80" y="479.20" font-size="6.9" stroke="#1a1a1a" stroke-width="0.2" text-anchor="middle" textLength="19.50" lengthAdjust="spacingAndGlyphs">CD45.2</text>
<text x="384.60" y="479.20" font-size="6.9" stroke="#1a1a1a" stroke-width="0.2" text-anchor="middle" textLength="14.00" lengthAdjust="spacingAndGlyphs">eYFP</text>
<text x="318.60" y="423.20" font-size="7.82" stroke="#1a1a1a" stroke-width="0.2" text-anchor="middle" textLength="47.20" lengthAdjust="spacingAndGlyphs" transform="rotate(-90 318.60 423.20)">% positive in PB</text>
<circle cx="350.60" cy="385.04" r="2.30" fill="#7d1f33" stroke="#3a0c15" stroke-width="0.7"/>
<line x1="347.50" y1="385.04" x2="353.70" y2="385.04" stroke="#111" stroke-width="1.1"/>
<circle cx="354.70" cy="378.00" r="0.75" fill="#222"/>
<circle cx="356.90" cy="378.00" r="0.75" fill="#222"/>
<rect x="359.20" y="393.16" width="4.40" height="4.40" fill="#2f3f5e" stroke="#1a2438" stroke-width="0.6"/>
<rect x="360.10" y="394.06" width="2.60" height="2.60" fill="none" stroke="#5a6c8e" stroke-width="0.4"/>
<rect x="359.20" y="396.17" width="4.40" height="4.40" fill="#2f3f5e" stroke="#1a2438" stroke-width="0.6"/>
<rect x="360.10" y="397.07" width="2.60" height="2.60" fill="none" stroke="#5a6c8e" stroke-width="0.4"/>
<rect x="359.20" y="403.48" width="4.40" height="4.40" fill="#2f3f5e" stroke="#1a2438" stroke-width="0.6"/>
<rect x="360.10" y="404.38" width="2.60" height="2.60" fill="none" stroke="#5a6c8e" stroke-width="0.4"/>
<rect x="359.20" y="406.49" width="4.40" height="4.40" fill="#2f3f5e" stroke="#1a2438" stroke-width="0.6"/>
<rect x="360.10" y="407.39" width="2.60" height="2.60" fill="none" stroke="#5a6c8e" stroke-width="0.4"/>
<rect x="359.20" y="400.90" width="4.40" height="4.40" fill="#2f3f5e" stroke="#1a2438" stroke-width="0.6"/>
<rect x="360.10" y="401.80" width="2.60" height="2.60" fill="none" stroke="#5a6c8e" stroke-width="0.4"/>
<line x1="356.80" y1="401.55" x2="366.00" y2="401.55" stroke="#111" stroke-width="1.2"/>
<line x1="361.40" y1="398.37" x2="361.40" y2="404.82" stroke="#111" stroke-width="1.1"/>
<line x1="359.40" y1="398.37" x2="363.40" y2="398.37" stroke="#111" stroke-width="1.1"/>
<line x1="359.40" y1="404.82" x2="363.40" y2="404.82" stroke="#111" stroke-width="1.1"/>
<circle cx="379.80" cy="430.19" r="2.30" fill="#7d1f33" stroke="#3a0c15" stroke-width="0.7"/>
<circle cx="379.80" cy="434.06" r="2.30" fill="#7d1f33" stroke="#3a0c15" stroke-width="0.7"/>
<circle cx="379.80" cy="440.51" r="2.30" fill="#7d1f33" stroke="#3a0c15" stroke-width="0.7"/>
<line x1="375.50" y1="434.92" x2="384.00" y2="434.92" stroke="#111" stroke-width="1.2"/>
<line x1="379.80" y1="431.91" x2="379.80" y2="437.93" stroke="#111" stroke-width="1.1"/>
<line x1="377.80" y1="431.91" x2="381.80" y2="431.91" stroke="#111" stroke-width="1.1"/>
<line x1="377.80" y1="437.93" x2="381.80" y2="437.93" stroke="#111" stroke-width="1.1"/>
<rect x="387.80" y="419.82" width="4.40" height="4.40" fill="#2f3f5e" stroke="#1a2438" stroke-width="0.6"/>
<rect x="388.70" y="420.72" width="2.60" height="2.60" fill="none" stroke="#5a6c8e" stroke-width="0.4"/>
<rect x="387.80" y="424.12" width="4.40" height="4.40" fill="#2f3f5e" stroke="#1a2438" stroke-width="0.6"/>
<rect x="388.70" y="425.02" width="2.60" height="2.60" fill="none" stroke="#5a6c8e" stroke-width="0.4"/>
<rect x="387.80" y="430.14" width="4.40" height="4.40" fill="#2f3f5e" stroke="#1a2438" stroke-width="0.6"/>
<rect x="388.70" y="431.04" width="2.60" height="2.60" fill="none" stroke="#5a6c8e" stroke-width="0.4"/>
<rect x="387.80" y="435.30" width="4.40" height="4.40" fill="#2f3f5e" stroke="#1a2438" stroke-width="0.6"/>
<rect x="388.70" y="436.20" width="2.60" height="2.60" fill="none" stroke="#5a6c8e" stroke-width="0.4"/>
<rect x="387.80" y="441.75" width="4.40" height="4.40" fill="#2f3f5e" stroke="#1a2438" stroke-width="0.6"/>
<rect x="388.70" y="442.65" width="2.60" height="2.60" fill="none" stroke="#5a6c8e" stroke-width="0.4"/>
<line x1="385.50" y1="434.23" x2="394.50" y2="434.23" stroke="#111" stroke-width="1.2"/>
<line x1="390.00" y1="430.19" x2="390.00" y2="438.36" stroke="#111" stroke-width="1.1"/>
<line x1="388.00" y1="430.19" x2="392.00" y2="430.19" stroke="#111" stroke-width="1.1"/>
<line x1="388.00" y1="438.36" x2="392.00" y2="438.36" stroke="#111" stroke-width="1.1"/>
<rect x="374.20" y="406.20" width="21.70" height="49.00" fill="none" stroke="#555" stroke-width="0.9"/>
<circle cx="346.00" cy="454.00" r="2.00" fill="#7d1f33" stroke="#3a0c15" stroke-width="0.7"/>
<rect x="344.10" y="459.10" width="3.80" height="3.80" fill="#2f3f5e" stroke="#1a2438" stroke-width="0.6"/>
<rect x="345.00" y="460.00" width="2.00" height="2.00" fill="none" stroke="#5a6c8e" stroke-width="0.4"/>
<text x="351.30" y="456.00" font-size="5.98" stroke="#1a1a1a" stroke-width="0.2" textLength="7.50" lengthAdjust="spacingAndGlyphs">+/+</text>
<text x="351.30" y="463.00" font-size="5.98" stroke="#1a1a1a" stroke-width="0.2" textLength="17.00" lengthAdjust="spacingAndGlyphs">P95H/+</text>
<path d="M399.4,405.6 L409.2,372.7 L501.6,372.7 L501.6,491.2 L409.2,491.2 L399.4,456.2" fill="none" stroke="#555" stroke-width="0.9"/>
<line x1="433.40" y1="378.50" x2="433.40" y2="468.15" stroke="#111" stroke-width="1.5"/>
<line x1="430.40" y1="467.40" x2="433.40" y2="467.40" stroke="#111" stroke-width="1.5"/>
<text x="427.60" y="469.92" font-size="7.0" stroke="#1a1a1a" stroke-width="0.2" text-anchor="end" textLength="3.42" lengthAdjust="spacingAndGlyphs">0</text>
<line x1="430.40" y1="455.11" x2="433.40" y2="455.11" stroke="#111" stroke-width="1.5"/>
<text x="427.60" y="457.63" font-size="7.0" stroke="#1a1a1a" stroke-width="0.2" text-anchor="end" textLength="6.85" lengthAdjust="spacingAndGlyphs">10</text>
<line x1="430.40" y1="442.82" x2="433.40" y2="442.82" stroke="#111" stroke-width="1.5"/>
<text x="427.60" y="445.34" font-size="7.0" stroke="#1a1a1a" stroke-width="0.2" text-anchor="end" textLength="6.85" lengthAdjust="spacingAndGlyphs">20</text>
<line x1="430.40" y1="430.53" x2="433.40" y2="430.53" stroke="#111" stroke-width="1.5"/>
<text x="427.60" y="433.05" font-size="7.0" stroke="#1a1a1a" stroke-width="0.2" text-anchor="end" textLength="6.85" lengthAdjust="spacingAndGlyphs">30</text>
<line x1="430.40" y1="418.24" x2="433.40" y2="418.24" stroke="#111" stroke-width="1.5"/>
<text x="427.60" y="420.76" font-size="7.0" stroke="#1a1a1a" stroke-width="0.2" text-anchor="end" textLength="6.85" lengthAdjust="spacingAndGlyphs">40</text>
<line x1="430.40" y1="405.95" x2="433.40" y2="405.95" stroke="#111" stroke-width="1.5"/>
<text x="427.60" y="408.47" font-size="7.0" stroke="#1a1a1a" stroke-width="0.2" text-anchor="end" textLength="6.85" lengthAdjust="spacingAndGlyphs">50</text>
<line x1="430.40" y1="393.66" x2="433.40" y2="393.66" stroke="#111" stroke-width="1.5"/>
<text x="427.60" y="396.18" font-size="7.0" stroke="#1a1a1a" stroke-width="0.2" text-anchor="end" textLength="6.85" lengthAdjust="spacingAndGlyphs">60</text>
<line x1="430.40" y1="381.37" x2="433.40" y2="381.37" stroke="#111" stroke-width="1.5"/>
<text x="427.60" y="383.89" font-size="7.0" stroke="#1a1a1a" stroke-width="0.2" text-anchor="end" textLength="6.85" lengthAdjust="spacingAndGlyphs">70</text>
<line x1="431.60" y1="461.25" x2="433.40" y2="461.25" stroke="#111" stroke-width="1.2000000000000002"/>
<line x1="431.60" y1="448.96" x2="433.40" y2="448.96" stroke="#111" stroke-width="1.2000000000000002"/>
<line x1="431.60" y1="436.67" x2="433.40" y2="436.67" stroke="#111" stroke-width="1.2000000000000002"/>
<line x1="431.60" y1="424.38" x2="433.40" y2="424.38" stroke="#111" stroke-width="1.2000000000000002"/>
<line x1="431.60" y1="412.09" x2="433.40" y2="412.09" stroke="#111" stroke-width="1.2000000000000002"/>
<line x1="431.60" y1="399.80" x2="433.40" y2="399.80" stroke="#111" stroke-width="1.2000000000000002"/>
<line x1="431.60" y1="387.51" x2="433.40" y2="387.51" stroke="#111" stroke-width="1.2000000000000002"/>
<line x1="432.65" y1="467.40" x2="492.40" y2="467.40" stroke="#111" stroke-width="1.5"/>
<line x1="442.50" y1="467.40" x2="442.50" y2="470.00" stroke="#111" stroke-width="1.1"/>
<line x1="462.00" y1="467.40" x2="462.00" y2="470.00" stroke="#111" stroke-width="1.1"/>
<line x1="481.00" y1="467.40" x2="481.00" y2="470.00" stroke="#111" stroke-width="1.1"/>
<text x="415.10" y="424.70" font-size="7.82" stroke="#1a1a1a" stroke-width="0.2" text-anchor="middle" textLength="75.80" lengthAdjust="spacingAndGlyphs" transform="rotate(-90 415.10 424.70)">% positive in eYFP fraction</text>
<text x="446.50" y="474.50" font-size="6.9" stroke="#1a1a1a" stroke-width="0.2" text-anchor="end" textLength="15.00" lengthAdjust="spacingAndGlyphs" transform="rotate(-45 446.50 474.50)">Grans</text>
<text x="465.50" y="474.50" font-size="6.9" stroke="#1a1a1a" stroke-width="0.2" text-anchor="end" textLength="17.00" lengthAdjust="spacingAndGlyphs" transform="rotate(-45 465.50 474.50)">B cells</text>
<text x="484.50" y="474.50" font-size="6.9" stroke="#1a1a1a" stroke-width="0.2" text-anchor="end" textLength="17.00" lengthAdjust="spacingAndGlyphs" transform="rotate(-45 484.50 474.50)">T cells</text>
<circle cx="439.30" cy="447.74" r="2.30" fill="#7d1f33" stroke="#3a0c15" stroke-width="0.7"/>
<circle cx="439.30" cy="454.50" r="2.30" fill="#7d1f33" stroke="#3a0c15" stroke-width="0.7"/>
<circle cx="439.30" cy="457.57" r="2.30" fill="#7d1f33" stroke="#3a0c15" stroke-width="0.7"/>
<line x1="435.50" y1="453.27" x2="443.00" y2="453.27" stroke="#111" stroke-width="1.2"/>
<line x1="439.30" y1="450.19" x2="439.30" y2="456.34" stroke="#111" stroke-width="1.1"/>
<line x1="437.50" y1="450.19" x2="441.10" y2="450.19" stroke="#111" stroke-width="1.1"/>
<line x1="437.50" y1="456.34" x2="441.10" y2="456.34" stroke="#111" stroke-width="1.1"/>
<rect x="444.00" y="432.02" width="4.40" height="4.40" fill="#2f3f5e" stroke="#1a2438" stroke-width="0.6"/>
<rect x="444.90" y="432.92" width="2.60" height="2.60" fill="none" stroke="#5a6c8e" stroke-width="0.4"/>
<rect x="444.00" y="433.86" width="4.40" height="4.40" fill="#2f3f5e" stroke="#1a2438" stroke-width="0.6"/>
<rect x="444.90" y="434.76" width="2.60" height="2.60" fill="none" stroke="#5a6c8e" stroke-width="0.4"/>
<rect x="444.00" y="440.01" width="4.40" height="4.40" fill="#2f3f5e" stroke="#1a2438" stroke-width="0.6"/>
<rect x="444.90" y="440.91" width="2.60" height="2.60" fill="none" stroke="#5a6c8e" stroke-width="0.4"/>
<rect x="444.00" y="443.69" width="4.40" height="4.40" fill="#2f3f5e" stroke="#1a2438" stroke-width="0.6"/>
<rect x="444.90" y="444.59" width="2.60" height="2.60" fill="none" stroke="#5a6c8e" stroke-width="0.4"/>
<line x1="442.00" y1="440.98" x2="450.50" y2="440.98" stroke="#111" stroke-width="1.2"/>
<line x1="446.20" y1="437.90" x2="446.20" y2="444.05" stroke="#111" stroke-width="1.1"/>
<line x1="444.40" y1="437.90" x2="448.00" y2="437.90" stroke="#111" stroke-width="1.1"/>
<line x1="444.40" y1="444.05" x2="448.00" y2="444.05" stroke="#111" stroke-width="1.1"/>
<circle cx="442.50" cy="429.20" r="0.75" fill="#222"/>
<circle cx="458.90" cy="384.44" r="2.30" fill="#7d1f33" stroke="#3a0c15" stroke-width="0.7"/>
<circle cx="458.90" cy="389.97" r="2.30" fill="#7d1f33" stroke="#3a0c15" stroke-width="0.7"/>
<circle cx="458.90" cy="393.05" r="2.30" fill="#7d1f33" stroke="#3a0c15" stroke-width="0.7"/>
<line x1="455.00" y1="389.36" x2="462.80" y2="389.36" stroke="#111" stroke-width="1.2"/>
<line x1="458.90" y1="386.90" x2="458.90" y2="391.82" stroke="#111" stroke-width="1.1"/>
<line x1="457.10" y1="386.90" x2="460.70" y2="386.90" stroke="#111" stroke-width="1.1"/>
<line x1="457.10" y1="391.82" x2="460.70" y2="391.82" stroke="#111" stroke-width="1.1"/>
<rect x="464.10" y="407.44" width="4.40" height="4.40" fill="#2f3f5e" stroke="#1a2438" stroke-width="0.6"/>
<rect x="465.00" y="408.34" width="2.60" height="2.60" fill="none" stroke="#5a6c8e" stroke-width="0.4"/>
<rect x="464.10" y="410.51" width="4.40" height="4.40" fill="#2f3f5e" stroke="#1a2438" stroke-width="0.6"/>
<rect x="465.00" y="411.41" width="2.60" height="2.60" fill="none" stroke="#5a6c8e" stroke-width="0.4"/>
<rect x="464.10" y="415.43" width="4.40" height="4.40" fill="#2f3f5e" stroke="#1a2438" stroke-width="0.6"/>
<rect x="465.00" y="416.33" width="2.60" height="2.60" fill="none" stroke="#5a6c8e" stroke-width="0.4"/>
<rect x="464.10" y="419.11" width="4.40" height="4.40" fill="#2f3f5e" stroke="#1a2438" stroke-width="0.6"/>
<rect x="465.00" y="420.01" width="2.60" height="2.60" fill="none" stroke="#5a6c8e" stroke-width="0.4"/>
<line x1="462.00" y1="415.78" x2="470.50" y2="415.78" stroke="#111" stroke-width="1.2"/>
<line x1="466.30" y1="413.32" x2="466.30" y2="418.24" stroke="#111" stroke-width="1.1"/>
<line x1="464.50" y1="413.32" x2="468.10" y2="413.32" stroke="#111" stroke-width="1.1"/>
<line x1="464.50" y1="418.24" x2="468.10" y2="418.24" stroke="#111" stroke-width="1.1"/>
<circle cx="460.40" cy="379.40" r="0.75" fill="#222"/>
<circle cx="462.60" cy="379.40" r="0.75" fill="#222"/>
<circle cx="477.40" cy="449.58" r="2.30" fill="#7d1f33" stroke="#3a0c15" stroke-width="0.7"/>
<circle cx="477.40" cy="452.04" r="2.30" fill="#7d1f33" stroke="#3a0c15" stroke-width="0.7"/>
<circle cx="477.40" cy="453.27" r="2.30" fill="#7d1f33" stroke="#3a0c15" stroke-width="0.7"/>
<line x1="473.50" y1="451.42" x2="481.30" y2="451.42" stroke="#111" stroke-width="1.2"/>
<rect x="482.10" y="436.32" width="4.40" height="4.40" fill="#2f3f5e" stroke="#1a2438" stroke-width="0.6"/>
<rect x="483.00" y="437.22" width="2.60" height="2.60" fill="none" stroke="#5a6c8e" stroke-width="0.4"/>
<rect x="482.10" y="443.08" width="4.40" height="4.40" fill="#2f3f5e" stroke="#1a2438" stroke-width="0.6"/>
<rect x="483.00" y="443.98" width="2.60" height="2.60" fill="none" stroke="#5a6c8e" stroke-width="0.4"/>
<rect x="482.10" y="446.76" width="4.40" height="4.40" fill="#2f3f5e" stroke="#1a2438" stroke-width="0.6"/>
<rect x="483.00" y="447.66" width="2.60" height="2.60" fill="none" stroke="#5a6c8e" stroke-width="0.4"/>
<rect x="482.10" y="449.84" width="4.40" height="4.40" fill="#2f3f5e" stroke="#1a2438" stroke-width="0.6"/>
<rect x="483.00" y="450.74" width="2.60" height="2.60" fill="none" stroke="#5a6c8e" stroke-width="0.4"/>
<rect x="482.10" y="452.91" width="4.40" height="4.40" fill="#2f3f5e" stroke="#1a2438" stroke-width="0.6"/>
<rect x="483.00" y="453.81" width="2.60" height="2.60" fill="none" stroke="#5a6c8e" stroke-width="0.4"/>
<line x1="480.00" y1="448.35" x2="488.60" y2="448.35" stroke="#111" stroke-width="1.2"/>
<line x1="484.30" y1="445.28" x2="484.30" y2="451.42" stroke="#111" stroke-width="1.1"/>
<line x1="482.50" y1="445.28" x2="486.10" y2="445.28" stroke="#111" stroke-width="1.1"/>
<line x1="482.50" y1="451.42" x2="486.10" y2="451.42" stroke="#111" stroke-width="1.1"/>
<circle cx="475.00" cy="381.20" r="2.00" fill="#7d1f33" stroke="#3a0c15" stroke-width="0.7"/>
<rect x="473.10" y="385.40" width="3.80" height="3.80" fill="#2f3f5e" stroke="#1a2438" stroke-width="0.6"/>
<rect x="474.00" y="386.30" width="2.00" height="2.00" fill="none" stroke="#5a6c8e" stroke-width="0.4"/>
<text x="479.70" y="383.20" font-size="5.98" stroke="#1a1a1a" stroke-width="0.2" textLength="7.50" lengthAdjust="spacingAndGlyphs">+/+</text>
<text x="479.70" y="389.30" font-size="5.98" stroke="#1a1a1a" stroke-width="0.2" textLength="17.00" lengthAdjust="spacingAndGlyphs">P95H/+</text>
<text x="8.40" y="514.30" font-size="10.8" stroke="#000" stroke-width="0.3" fill="#000" font-weight="bold" textLength="10.00" lengthAdjust="spacingAndGlyphs">G</text>
<line x1="32.60" y1="520.50" x2="32.60" y2="617.15" stroke="#111" stroke-width="1.5"/>
<line x1="29.60" y1="616.40" x2="32.60" y2="616.40" stroke="#111" stroke-width="1.5"/>
<text x="26.20" y="618.92" font-size="7.0" stroke="#1a1a1a" stroke-width="0.2" text-anchor="end" textLength="3.42" lengthAdjust="spacingAndGlyphs">0</text>
<line x1="29.60" y1="593.40" x2="32.60" y2="593.40" stroke="#111" stroke-width="1.5"/>
<text x="26.20" y="595.92" font-size="7.0" stroke="#1a1a1a" stroke-width="0.2" text-anchor="end" textLength="6.85" lengthAdjust="spacingAndGlyphs">20</text>
<line x1="29.60" y1="570.40" x2="32.60" y2="570.40" stroke="#111" stroke-width="1.5"/>
<text x="26.20" y="572.92" font-size="7.0" stroke="#1a1a1a" stroke-width="0.2" text-anchor="end" textLength="6.85" lengthAdjust="spacingAndGlyphs">40</text>
<line x1="29.60" y1="547.40" x2="32.60" y2="547.40" stroke="#111" stroke-width="1.5"/>
<text x="26.20" y="549.92" font-size="7.0" stroke="#1a1a1a" stroke-width="0.2" text-anchor="end" textLength="6.85" lengthAdjust="spacingAndGlyphs">60</text>
<line x1="29.60" y1="524.40" x2="32.60" y2="524.40" stroke="#111" stroke-width="1.5"/>
<text x="26.20" y="526.92" font-size="7.0" stroke="#1a1a1a" stroke-width="0.2" text-anchor="end" textLength="6.85" lengthAdjust="spacingAndGlyphs">80</text>
<line x1="30.80" y1="604.90" x2="32.60" y2="604.90" stroke="#111" stroke-width="1.2000000000000002"/>
<line x1="30.80" y1="581.90" x2="32.60" y2="581.90" stroke="#111" stroke-width="1.2000000000000002"/>
<line x1="30.80" y1="558.90" x2="32.60" y2="558.90" stroke="#111" stroke-width="1.2000000000000002"/>
<line x1="30.80" y1="535.90" x2="32.60" y2="535.90" stroke="#111" stroke-width="1.2000000000000002"/>
<line x1="31.85" y1="616.40" x2="95.50" y2="616.40" stroke="#111" stroke-width="1.5"/>
<text x="15.10" y="568.50" font-size="7.82" stroke="#1a1a1a" stroke-width="0.2" text-anchor="middle" textLength="96.00" lengthAdjust="spacingAndGlyphs" transform="rotate(-90 15.10 568.50)">Percent of CD45.2+ve cells (BM)</text>
<rect x="34.50" y="547.98" width="11.10" height="68.42" fill="#cac6cc"/>
<line x1="40.05" y1="547.98" x2="40.05" y2="545.90" stroke="#111" stroke-width="1.2"/>
<line x1="37.65" y1="545.90" x2="42.45" y2="545.90" stroke="#111" stroke-width="1.2"/>
<rect x="50.40" y="537.05" width="10.70" height="79.35" fill="#69a6de"/>
<line x1="55.75" y1="537.05" x2="55.75" y2="533.02" stroke="#111" stroke-width="1.2"/>
<line x1="53.35" y1="533.02" x2="58.15" y2="533.02" stroke="#111" stroke-width="1.2"/>
<rect x="66.20" y="596.85" width="10.40" height="19.55" fill="#cac6cc"/>
<line x1="71.40" y1="596.85" x2="71.40" y2="596.27" stroke="#111" stroke-width="1.2"/>
<line x1="69.00" y1="596.27" x2="73.80" y2="596.27" stroke="#111" stroke-width="1.2"/>
<rect x="81.50" y="579.60" width="10.40" height="36.80" fill="#69a6de"/>
<line x1="86.70" y1="579.60" x2="86.70" y2="573.85" stroke="#111" stroke-width="1.2"/>
<line x1="84.30" y1="573.85" x2="89.10" y2="573.85" stroke="#111" stroke-width="1.2"/>
<circle cx="48.10" cy="530.90" r="0.75" fill="#222"/>
<circle cx="78.50" cy="572.40" r="0.75" fill="#222"/>
<line x1="48.00" y1="616.40" x2="48.00" y2="619.40" stroke="#111" stroke-width="1.3"/>
<line x1="78.80" y1="616.40" x2="78.80" y2="619.40" stroke="#111" stroke-width="1.3"/>
<text x="47.80" y="626.80" font-size="7.13" stroke="#1a1a1a" stroke-width="0.2" text-anchor="middle" textLength="19.00" lengthAdjust="spacingAndGlyphs">Grans.</text>
<text x="78.40" y="626.80" font-size="7.13" stroke="#1a1a1a" stroke-width="0.2" text-anchor="middle" textLength="18.60" lengthAdjust="spacingAndGlyphs">Macro.</text>
<text x="63.60" y="639.20" font-size="8.05" stroke="#1a1a1a" stroke-width="0.2" text-anchor="middle" textLength="35.50" lengthAdjust="spacingAndGlyphs">BM myeloid</text>
<text x="63.60" y="650.40" font-size="8.05" stroke="#1a1a1a" stroke-width="0.2" text-anchor="middle" textLength="36.00" lengthAdjust="spacingAndGlyphs">populations</text>
<line x1="129.00" y1="520.50" x2="129.00" y2="617.15" stroke="#111" stroke-width="1.5"/>
<line x1="126.00" y1="616.40" x2="129.00" y2="616.40" stroke="#111" stroke-width="1.5"/>
<text x="123.60" y="618.92" font-size="7.0" stroke="#1a1a1a" stroke-width="0.2" text-anchor="end" textLength="3.42" lengthAdjust="spacingAndGlyphs">0</text>
<line x1="126.00" y1="593.20" x2="129.00" y2="593.20" stroke="#111" stroke-width="1.5"/>
<text x="123.60" y="595.72" font-size="7.0" stroke="#1a1a1a" stroke-width="0.2" text-anchor="end" textLength="3.42" lengthAdjust="spacingAndGlyphs">5</text>
<line x1="126.00" y1="570.00" x2="129.00" y2="570.00" stroke="#111" stroke-width="1.5"/>
<text x="123.60" y="572.52" font-size="7.0" stroke="#1a1a1a" stroke-width="0.2" text-anchor="end" textLength="6.85" lengthAdjust="spacingAndGlyphs">10</text>
<line x1="126.00" y1="546.80" x2="129.00" y2="546.80" stroke="#111" stroke-width="1.5"/>
<text x="123.60" y="549.32" font-size="7.0" stroke="#1a1a1a" stroke-width="0.2" text-anchor="end" textLength="6.85" lengthAdjust="spacingAndGlyphs">15</text>
<line x1="126.00" y1="523.60" x2="129.00" y2="523.60" stroke="#111" stroke-width="1.5"/>
<text x="123.60" y="526.12" font-size="7.0" stroke="#1a1a1a" stroke-width="0.2" text-anchor="end" textLength="6.85" lengthAdjust="spacingAndGlyphs">20</text>
<line x1="128.25" y1="616.40" x2="190.80" y2="616.40" stroke="#111" stroke-width="1.5"/>
<text x="112.10" y="568.50" font-size="7.82" stroke="#1a1a1a" stroke-width="0.2" text-anchor="middle" textLength="96.00" lengthAdjust="spacingAndGlyphs" transform="rotate(-90 112.10 568.50)">Percent of CD45.2+ve cells (BM)</text>
<rect x="131.30" y="574.64" width="10.40" height="41.76" fill="#cac6cc"/>
<line x1="136.50" y1="574.64" x2="136.50" y2="570.93" stroke="#111" stroke-width="1.2"/>
<line x1="134.10" y1="570.93" x2="138.90" y2="570.93" stroke="#111" stroke-width="1.2"/>
<rect x="147.00" y="584.85" width="9.90" height="31.55" fill="#69a6de"/>
<line x1="151.95" y1="584.85" x2="151.95" y2="579.28" stroke="#111" stroke-width="1.2"/>
<line x1="149.55" y1="579.28" x2="154.35" y2="579.28" stroke="#111" stroke-width="1.2"/>
<rect x="162.50" y="545.41" width="10.00" height="70.99" fill="#cac6cc"/>
<line x1="167.50" y1="545.41" x2="167.50" y2="537.06" stroke="#111" stroke-width="1.2"/>
<line x1="165.10" y1="537.06" x2="169.90" y2="537.06" stroke="#111" stroke-width="1.2"/>
<rect x="177.70" y="567.22" width="9.80" height="49.18" fill="#69a6de"/>
<line x1="182.60" y1="567.22" x2="182.60" y2="558.86" stroke="#111" stroke-width="1.2"/>
<line x1="180.20" y1="558.86" x2="185.00" y2="558.86" stroke="#111" stroke-width="1.2"/>
<line x1="145.00" y1="616.40" x2="145.00" y2="619.20" stroke="#111" stroke-width="1.1"/>
<line x1="171.70" y1="616.40" x2="171.70" y2="619.20" stroke="#111" stroke-width="1.1"/>
<text x="145.00" y="627.70" font-size="7.13" stroke="#1a1a1a" stroke-width="0.2" text-anchor="middle" textLength="17.50" lengthAdjust="spacingAndGlyphs">B220+</text>
<text x="145.00" y="634.80" font-size="7.13" stroke="#1a1a1a" stroke-width="0.2" text-anchor="middle" textLength="13.00" lengthAdjust="spacingAndGlyphs">IgM+</text>
<text x="171.70" y="627.70" font-size="7.13" stroke="#1a1a1a" stroke-width="0.2" text-anchor="middle" textLength="17.50" lengthAdjust="spacingAndGlyphs">B220+</text>
<text x="171.70" y="634.80" font-size="7.13" stroke="#1a1a1a" stroke-width="0.2" text-anchor="middle" textLength="12.00" lengthAdjust="spacingAndGlyphs">IgM-</text>
<text x="159.60" y="647.40" font-size="8.05" stroke="#1a1a1a" stroke-width="0.2" text-anchor="middle" textLength="66.00" lengthAdjust="spacingAndGlyphs">BM B-cell populations</text>
<text x="210.90" y="514.30" font-size="10.8" stroke="#000" stroke-width="0.3" fill="#000" font-weight="bold" textLength="9.20" lengthAdjust="spacingAndGlyphs">H</text>
<line x1="233.30" y1="520.50" x2="233.30" y2="617.15" stroke="#111" stroke-width="1.5"/>
<line x1="230.30" y1="616.40" x2="233.30" y2="616.40" stroke="#111" stroke-width="1.5"/>
<text x="226.50" y="618.92" font-size="7.0" stroke="#1a1a1a" stroke-width="0.2" text-anchor="end" textLength="3.42" lengthAdjust="spacingAndGlyphs">0</text>
<line x1="230.30" y1="585.70" x2="233.30" y2="585.70" stroke="#111" stroke-width="1.5"/>
<text x="226.50" y="588.22" font-size="7.0" stroke="#1a1a1a" stroke-width="0.2" text-anchor="end" textLength="3.42" lengthAdjust="spacingAndGlyphs">2</text>
<line x1="230.30" y1="555.00" x2="233.30" y2="555.00" stroke="#111" stroke-width="1.5"/>
<text x="226.50" y="557.52" font-size="7.0" stroke="#1a1a1a" stroke-width="0.2" text-anchor="end" textLength="3.42" lengthAdjust="spacingAndGlyphs">4</text>
<line x1="230.30" y1="524.30" x2="233.30" y2="524.30" stroke="#111" stroke-width="1.5"/>
<text x="226.50" y="526.82" font-size="7.0" stroke="#1a1a1a" stroke-width="0.2" text-anchor="end" textLength="3.42" lengthAdjust="spacingAndGlyphs">6</text>
<line x1="231.50" y1="601.05" x2="233.30" y2="601.05" stroke="#111" stroke-width="1.2000000000000002"/>
<line x1="231.50" y1="570.35" x2="233.30" y2="570.35" stroke="#111" stroke-width="1.2000000000000002"/>
<line x1="231.50" y1="539.65" x2="233.30" y2="539.65" stroke="#111" stroke-width="1.2000000000000002"/>
<line x1="232.55" y1="616.40" x2="292.00" y2="616.40" stroke="#111" stroke-width="1.5"/>
<text x="218.70" y="568.50" font-size="7.82" stroke="#1a1a1a" stroke-width="0.2" text-anchor="middle" textLength="96.00" lengthAdjust="spacingAndGlyphs" transform="rotate(-90 218.70 568.50)">Percent of CD45.2+ve cells (Spl)</text>
<rect x="235.40" y="602.58" width="10.40" height="13.82" fill="#cac6cc"/>
<line x1="240.60" y1="602.58" x2="240.60" y2="601.36" stroke="#111" stroke-width="1.2"/>
<line x1="238.20" y1="601.36" x2="243.00" y2="601.36" stroke="#111" stroke-width="1.2"/>
<rect x="250.70" y="564.98" width="9.90" height="51.42" fill="#69a6de"/>
<line x1="255.65" y1="564.98" x2="255.65" y2="542.72" stroke="#111" stroke-width="1.2"/>
<line x1="253.25" y1="542.72" x2="258.05" y2="542.72" stroke="#111" stroke-width="1.2"/>
<rect x="266.40" y="601.82" width="9.90" height="14.58" fill="#cac6cc"/>
<line x1="271.35" y1="601.82" x2="271.35" y2="600.28" stroke="#111" stroke-width="1.2"/>
<line x1="268.95" y1="600.28" x2="273.75" y2="600.28" stroke="#111" stroke-width="1.2"/>
<rect x="281.60" y="574.95" width="9.80" height="41.45" fill="#69a6de"/>
<line x1="286.50" y1="574.95" x2="286.50" y2="565.44" stroke="#111" stroke-width="1.2"/>
<line x1="284.10" y1="565.44" x2="288.90" y2="565.44" stroke="#111" stroke-width="1.2"/>
<circle cx="279.00" cy="564.20" r="0.75" fill="#222"/>
<line x1="248.40" y1="616.40" x2="248.40" y2="619.20" stroke="#111" stroke-width="1.1"/>
<line x1="279.00" y1="616.40" x2="279.00" y2="619.20" stroke="#111" stroke-width="1.1"/>
<text x="248.20" y="627.70" font-size="7.13" stroke="#1a1a1a" stroke-width="0.2" text-anchor="middle" textLength="19.00" lengthAdjust="spacingAndGlyphs">Grans.</text>
<text x="279.50" y="627.70" font-size="7.13" stroke="#1a1a1a" stroke-width="0.2" text-anchor="middle" textLength="18.60" lengthAdjust="spacingAndGlyphs">Macro.</text>
<text x="263.50" y="639.40" font-size="8.05" stroke="#1a1a1a" stroke-width="0.2" text-anchor="middle" textLength="47.50" lengthAdjust="spacingAndGlyphs">Spleen myeloid</text>
<text x="263.80" y="650.20" font-size="8.05" stroke="#1a1a1a" stroke-width="0.2" text-anchor="middle" textLength="36.50" lengthAdjust="spacingAndGlyphs">populations</text>
<text x="312.60" y="514.30" font-size="10.8" stroke="#000" stroke-width="0.3" fill="#000" font-weight="bold" textLength="9.50" lengthAdjust="spacingAndGlyphs">O</text>
<rect x="335.90" y="526.70" width="7.70" height="120.60" fill="#c6c6ca"/>
<text x="341.40" y="588.20" font-size="6.21" stroke="#2a2a2a" stroke-width="0.2" text-anchor="middle" fill="#2a2a2a" textLength="54.00" lengthAdjust="spacingAndGlyphs" transform="rotate(-90 341.40 588.20)">eYFP positive cells</text>
<text x="352.90" y="644.60" font-size="9.43" stroke="#1a1a1a" stroke-width="0.2" textLength="20.60" lengthAdjust="spacingAndGlyphs" transform="rotate(-90 352.90 644.60)">CD11b</text>
<path d="M349.8,622 L349.8,613.5" fill="none" stroke="#111" stroke-width="1.0"/>
<path d="M348.0,614.6 L349.8,610.8 L351.6,614.6 Z" fill="#111"/>
<text x="357.70" y="654.40" font-size="8.51" stroke="#1a1a1a" stroke-width="0.2" textLength="12.60" lengthAdjust="spacingAndGlyphs">Gr-1</text>
<path d="M373.3,652.1 L381.5,652.1" fill="none" stroke="#111" stroke-width="1.0"/>
<path d="M380.4,650.3 L384.2,652.1 L380.4,653.9 Z" fill="#111"/>
<line x1="352.80" y1="529.90" x2="476.60" y2="529.90" stroke="#111" stroke-width="1.2"/>
<line x1="352.80" y1="526.60" x2="352.80" y2="533.20" stroke="#111" stroke-width="1.3"/>
<line x1="476.60" y1="526.60" x2="476.60" y2="533.20" stroke="#111" stroke-width="1.3"/>
<text x="415.00" y="525.60" font-size="7.13" stroke="#1a1a1a" stroke-width="0.2" text-anchor="middle" textLength="38.50" lengthAdjust="spacingAndGlyphs">Bone Marrow</text>
<defs><filter id="bl" x="-50%" y="-50%" width="200%" height="200%"><feGaussianBlur stdDeviation="0.9"/></filter></defs>
<rect x="358.60" y="533.30" width="52.90" height="51.20" fill="#fff" stroke="#cdcdd2" stroke-width="0.9"/>
<line x1="357.70" y1="539.30" x2="359.20" y2="539.30" stroke="#666" stroke-width="0.6"/>
<line x1="357.70" y1="549.80" x2="359.20" y2="549.80" stroke="#666" stroke-width="0.6"/>
<line x1="357.70" y1="560.30" x2="359.20" y2="560.30" stroke="#666" stroke-width="0.6"/>
<line x1="357.70" y1="570.80" x2="359.20" y2="570.80" stroke="#666" stroke-width="0.6"/>
<line x1="357.70" y1="581.30" x2="359.20" y2="581.30" stroke="#666" stroke-width="0.6"/>
<line x1="361.60" y1="584.80" x2="361.60" y2="586.30" stroke="#888" stroke-width="0.5"/>
<line x1="365.10" y1="584.80" x2="365.10" y2="586.30" stroke="#888" stroke-width="0.5"/>
<line x1="368.60" y1="584.80" x2="368.60" y2="586.30" stroke="#888" stroke-width="0.5"/>
<line x1="372.10" y1="584.80" x2="372.10" y2="586.30" stroke="#888" stroke-width="0.5"/>
<line x1="375.60" y1="584.80" x2="375.60" y2="586.30" stroke="#888" stroke-width="0.5"/>
<line x1="379.10" y1="584.80" x2="379.10" y2="586.30" stroke="#888" stroke-width="0.5"/>
<line x1="382.60" y1="584.80" x2="382.60" y2="586.30" stroke="#888" stroke-width="0.5"/>
<line x1="386.10" y1="584.80" x2="386.10" y2="586.30" stroke="#888" stroke-width="0.5"/>
<line x1="389.60" y1="584.80" x2="389.60" y2="586.30" stroke="#888" stroke-width="0.5"/>
<line x1="393.10" y1="584.80" x2="393.10" y2="586.30" stroke="#888" stroke-width="0.5"/>
<line x1="396.60" y1="584.80" x2="396.60" y2="586.30" stroke="#888" stroke-width="0.5"/>
<line x1="400.10" y1="584.80" x2="400.10" y2="586.30" stroke="#888" stroke-width="0.5"/>
<line x1="403.60" y1="584.80" x2="403.60" y2="586.30" stroke="#888" stroke-width="0.5"/>
<line x1="407.10" y1="584.80" x2="407.10" y2="586.30" stroke="#888" stroke-width="0.5"/>
<line x1="362.60" y1="586.10" x2="369.60" y2="586.10" stroke="#666" stroke-width="0.8"/>
<path d="M381.4 563.2h.8v.8h-.8zM378.4 566.6h.8v.8h-.8zM376.2 569.2h.8v.8h-.8zM363.9 569.5h.8v.8h-.8zM366.5 572.8h.8v.8h-.8zM377.9 564.2h.8v.8h-.8zM386.6 552.6h.8v.8h-.8zM379.4 560.6h.8v.8h-.8zM378.4 569.1h.8v.8h-.8zM387.8 560.4h.8v.8h-.8zM385.9 560.4h.8v.8h-.8zM380.9 558.3h.8v.8h-.8zM389.5 557.7h.8v.8h-.8zM384.8 564.1h.8v.8h-.8zM366.5 573.0h.8v.8h-.8zM372.6 567.0h.8v.8h-.8zM397.0 553.9h.8v.8h-.8zM385.3 562.7h.8v.8h-.8zM371.8 571.6h.8v.8h-.8zM365.2 570.9h.8v.8h-.8zM399.0 550.8h.8v.8h-.8zM388.9 557.3h.8v.8h-.8zM362.5 573.6h.8v.8h-.8zM368.0 569.2h.8v.8h-.8zM381.3 570.7h.8v.8h-.8zM376.3 566.5h.8v.8h-.8zM384.6 559.0h.8v.8h-.8zM361.9 570.2h.8v.8h-.8zM380.4 564.8h.8v.8h-.8zM363.5 569.9h.8v.8h-.8zM395.4 558.9h.8v.8h-.8zM369.4 566.9h.8v.8h-.8zM372.6 566.5h.8v.8h-.8zM376.8 565.2h.8v.8h-.8zM392.9 548.1h.8v.8h-.8zM390.2 557.3h.8v.8h-.8zM385.8 559.9h.8v.8h-.8zM394.6 555.7h.8v.8h-.8zM366.6 566.5h.8v.8h-.8zM365.1 570.6h.8v.8h-.8zM366.6 571.3h.8v.8h-.8zM361.8 571.8h.8v.8h-.8zM381.9 562.6h.8v.8h-.8zM370.1 565.5h.8v.8h-.8zM377.2 566.7h.8v.8h-.8zM372.4 569.1h.8v.8h-.8zM368.7 570.3h.8v.8h-.8zM397.0 548.9h.8v.8h-.8zM365.1 570.0h.8v.8h-.8zM375.8 564.4h.8v.8h-.8zM402.9 553.3h.8v.8h-.8zM364.9 574.1h.8v.8h-.8zM398.3 550.2h.8v.8h-.8zM373.2 565.3h.8v.8h-.8zM363.3 573.9h.8v.8h-.8zM364.9 569.4h.8v.8h-.8zM375.7 564.1h.8v.8h-.8zM382.6 556.5h.8v.8h-.8zM379.0 564.0h.8v.8h-.8zM365.4 577.5h.8v.8h-.8zM380.0 570.7h.8v.8h-.8zM367.6 572.3h.8v.8h-.8zM365.3 572.8h.8v.8h-.8zM393.1 553.9h.8v.8h-.8zM381.7 563.8h.8v.8h-.8zM373.4 566.9h.8v.8h-.8zM375.2 562.0h.8v.8h-.8zM365.8 568.8h.8v.8h-.8zM376.6 565.8h.8v.8h-.8zM380.8 559.2h.8v.8h-.8zM368.8 571.4h.8v.8h-.8zM402.7 552.5h.8v.8h-.8zM363.2 570.3h.8v.8h-.8zM365.6 570.0h.8v.8h-.8zM363.1 574.3h.8v.8h-.8z" fill="#6aa570" fill-opacity="0.2"/>
<path d="M370.1 566.7h.8v.8h-.8zM363.4 570.6h.8v.8h-.8zM365.8 564.8h.8v.8h-.8zM368.7 570.4h.8v.8h-.8zM400.0 548.7h.8v.8h-.8zM367.0 571.3h.8v.8h-.8zM385.4 567.6h.8v.8h-.8zM370.8 575.5h.8v.8h-.8zM386.6 564.9h.8v.8h-.8zM373.3 567.2h.8v.8h-.8zM366.6 570.6h.8v.8h-.8zM375.7 573.1h.8v.8h-.8zM372.0 569.6h.8v.8h-.8zM380.3 568.1h.8v.8h-.8zM396.7 559.2h.8v.8h-.8zM363.3 572.6h.8v.8h-.8zM375.8 567.2h.8v.8h-.8zM374.8 563.1h.8v.8h-.8zM374.3 569.1h.8v.8h-.8zM392.1 560.4h.8v.8h-.8zM381.1 561.0h.8v.8h-.8zM364.6 569.0h.8v.8h-.8zM367.8 572.9h.8v.8h-.8zM371.6 566.2h.8v.8h-.8zM364.2 572.0h.8v.8h-.8zM393.2 552.2h.8v.8h-.8zM362.7 570.0h.8v.8h-.8zM369.7 566.8h.8v.8h-.8zM388.1 558.9h.8v.8h-.8zM363.3 575.2h.8v.8h-.8zM386.1 555.6h.8v.8h-.8zM381.3 565.8h.8v.8h-.8zM376.6 563.4h.8v.8h-.8zM379.9 571.3h.8v.8h-.8zM367.2 571.1h.8v.8h-.8zM366.7 569.0h.8v.8h-.8zM371.6 569.2h.8v.8h-.8zM365.5 573.8h.8v.8h-.8zM396.4 554.8h.8v.8h-.8zM405.6 560.8h.8v.8h-.8zM363.7 570.1h.8v.8h-.8zM363.0 574.4h.8v.8h-.8zM385.0 561.4h.8v.8h-.8zM369.1 567.5h.8v.8h-.8zM370.3 570.3h.8v.8h-.8zM379.0 561.8h.8v.8h-.8zM363.2 570.0h.8v.8h-.8zM393.7 554.2h.8v.8h-.8zM362.4 573.7h.8v.8h-.8zM379.0 569.2h.8v.8h-.8zM373.6 573.0h.8v.8h-.8zM364.3 571.5h.8v.8h-.8zM377.9 567.6h.8v.8h-.8zM394.2 557.3h.8v.8h-.8zM389.5 568.3h.8v.8h-.8zM366.7 567.4h.8v.8h-.8zM366.4 574.0h.8v.8h-.8zM391.7 555.0h.8v.8h-.8zM372.8 564.3h.8v.8h-.8zM386.2 555.2h.8v.8h-.8zM374.1 567.4h.8v.8h-.8zM362.2 572.1h.8v.8h-.8zM369.6 571.2h.8v.8h-.8zM400.2 563.1h.8v.8h-.8zM385.5 558.5h.8v.8h-.8zM365.7 566.2h.8v.8h-.8zM362.7 573.0h.8v.8h-.8zM385.9 565.4h.8v.8h-.8zM386.6 556.8h.8v.8h-.8zM379.7 564.0h.8v.8h-.8zM378.8 559.9h.8v.8h-.8zM392.8 548.9h.8v.8h-.8zM366.1 572.8h.8v.8h-.8zM374.7 565.4h.8v.8h-.8zM362.7 572.4h.8v.8h-.8z" fill="#6aa570" fill-opacity="0.2"/>
<path d="M389.8 565.1h.8v.8h-.8zM393.0 552.7h.8v.8h-.8zM383.5 557.4h.8v.8h-.8zM369.3 564.5h.8v.8h-.8zM362.7 567.3h.8v.8h-.8zM364.5 571.3h.8v.8h-.8zM379.3 567.2h.8v.8h-.8zM366.2 574.4h.8v.8h-.8zM390.2 569.2h.8v.8h-.8zM374.5 566.1h.8v.8h-.8zM366.4 571.6h.8v.8h-.8zM389.2 565.4h.8v.8h-.8zM389.2 570.6h.8v.8h-.8zM371.9 569.8h.8v.8h-.8zM364.2 568.8h.8v.8h-.8zM373.4 567.6h.8v.8h-.8zM370.8 565.8h.8v.8h-.8zM386.6 560.3h.8v.8h-.8zM366.7 564.1h.8v.8h-.8zM373.6 567.5h.8v.8h-.8zM362.5 571.1h.8v.8h-.8zM382.0 556.8h.8v.8h-.8zM362.7 570.1h.8v.8h-.8zM384.6 558.6h.8v.8h-.8zM375.2 563.8h.8v.8h-.8zM376.1 568.0h.8v.8h-.8zM387.6 559.8h.8v.8h-.8zM384.1 556.7h.8v.8h-.8zM389.8 562.8h.8v.8h-.8zM361.8 570.7h.8v.8h-.8zM385.5 561.9h.8v.8h-.8zM367.0 570.1h.8v.8h-.8zM368.9 570.2h.8v.8h-.8zM371.3 567.5h.8v.8h-.8zM373.5 565.3h.8v.8h-.8zM391.2 553.1h.8v.8h-.8zM364.1 575.2h.8v.8h-.8zM393.8 555.2h.8v.8h-.8zM378.6 561.4h.8v.8h-.8zM371.8 571.7h.8v.8h-.8zM378.1 560.5h.8v.8h-.8zM371.6 568.3h.8v.8h-.8zM380.8 562.3h.8v.8h-.8zM362.3 571.8h.8v.8h-.8zM371.1 563.9h.8v.8h-.8zM374.0 572.1h.8v.8h-.8zM372.0 568.5h.8v.8h-.8zM364.3 572.0h.8v.8h-.8zM365.0 573.8h.8v.8h-.8zM367.5 567.1h.8v.8h-.8zM369.1 566.6h.8v.8h-.8zM382.1 558.7h.8v.8h-.8zM373.5 569.5h.8v.8h-.8zM375.1 567.7h.8v.8h-.8zM382.7 557.2h.8v.8h-.8zM384.4 564.5h.8v.8h-.8zM374.8 564.9h.8v.8h-.8zM379.4 564.4h.8v.8h-.8zM394.5 553.9h.8v.8h-.8zM368.9 570.7h.8v.8h-.8zM396.6 551.6h.8v.8h-.8zM370.9 569.6h.8v.8h-.8zM403.0 561.2h.8v.8h-.8zM388.7 558.8h.8v.8h-.8zM375.0 567.0h.8v.8h-.8zM384.9 558.2h.8v.8h-.8zM390.1 557.4h.8v.8h-.8zM371.8 566.2h.8v.8h-.8zM371.1 568.9h.8v.8h-.8zM367.0 570.5h.8v.8h-.8zM383.9 565.9h.8v.8h-.8zM372.1 564.1h.8v.8h-.8zM368.0 572.0h.8v.8h-.8zM376.0 561.8h.8v.8h-.8zM389.2 553.0h.8v.8h-.8z" fill="#6aa570" fill-opacity="0.2"/>
<path d="M381.6 561.3h.8v.8h-.8zM365.7 567.3h.8v.8h-.8zM365.5 570.7h.8v.8h-.8zM379.1 561.8h.8v.8h-.8zM370.2 564.9h.8v.8h-.8zM380.9 567.9h.8v.8h-.8zM369.7 565.8h.8v.8h-.8zM366.9 571.0h.8v.8h-.8zM382.4 556.3h.8v.8h-.8zM372.9 567.2h.8v.8h-.8zM372.4 566.4h.8v.8h-.8zM367.5 572.5h.8v.8h-.8zM385.4 556.4h.8v.8h-.8zM364.8 570.8h.8v.8h-.8zM378.6 564.1h.8v.8h-.8zM369.7 573.8h.8v.8h-.8zM368.9 573.6h.8v.8h-.8zM364.3 573.1h.8v.8h-.8zM367.6 569.9h.8v.8h-.8zM365.1 572.4h.8v.8h-.8zM364.3 572.1h.8v.8h-.8zM364.8 573.5h.8v.8h-.8zM366.6 562.1h.8v.8h-.8zM363.9 573.0h.8v.8h-.8zM384.4 561.1h.8v.8h-.8zM365.9 573.6h.8v.8h-.8zM369.4 568.0h.8v.8h-.8zM370.1 572.3h.8v.8h-.8zM390.5 564.7h.8v.8h-.8zM377.2 570.3h.8v.8h-.8zM377.0 568.9h.8v.8h-.8zM377.9 568.6h.8v.8h-.8zM389.5 550.8h.8v.8h-.8zM388.7 562.7h.8v.8h-.8zM372.0 569.9h.8v.8h-.8zM380.3 558.4h.8v.8h-.8zM383.9 560.0h.8v.8h-.8zM369.9 565.5h.8v.8h-.8zM370.0 570.2h.8v.8h-.8zM371.0 563.0h.8v.8h-.8zM369.1 571.8h.8v.8h-.8zM383.4 557.8h.8v.8h-.8zM402.3 554.3h.8v.8h-.8zM382.7 566.7h.8v.8h-.8zM366.4 575.2h.8v.8h-.8zM396.4 556.3h.8v.8h-.8zM395.1 561.4h.8v.8h-.8zM376.1 571.0h.8v.8h-.8zM374.2 568.3h.8v.8h-.8zM371.4 568.0h.8v.8h-.8zM367.8 567.8h.8v.8h-.8zM369.9 568.5h.8v.8h-.8zM386.2 565.0h.8v.8h-.8zM387.1 555.7h.8v.8h-.8zM366.6 571.0h.8v.8h-.8zM367.1 573.4h.8v.8h-.8zM369.1 568.4h.8v.8h-.8zM400.0 557.6h.8v.8h-.8zM380.5 561.6h.8v.8h-.8zM396.3 551.6h.8v.8h-.8zM399.2 546.4h.8v.8h-.8zM382.0 562.8h.8v.8h-.8zM370.7 561.4h.8v.8h-.8zM385.0 562.3h.8v.8h-.8zM365.3 568.7h.8v.8h-.8zM367.6 571.5h.8v.8h-.8zM368.4 563.7h.8v.8h-.8zM380.9 562.5h.8v.8h-.8zM368.2 568.9h.8v.8h-.8zM394.3 555.5h.8v.8h-.8zM370.6 572.2h.8v.8h-.8zM363.9 566.6h.8v.8h-.8zM364.6 570.1h.8v.8h-.8zM399.4 554.7h.8v.8h-.8zM366.5 569.5h.8v.8h-.8z" fill="#6aa570" fill-opacity="0.2"/>
<path d="M369.1 568.9h.9v.9h-.9zM373.5 569.5h.9v.9h-.9zM363.0 574.7h.9v.9h-.9zM369.6 570.9h.9v.9h-.9zM373.6 568.3h.9v.9h-.9zM363.0 571.8h.9v.9h-.9zM367.7 569.8h.9v.9h-.9zM370.2 566.7h.9v.9h-.9zM374.5 567.7h.9v.9h-.9zM360.2 575.3h.9v.9h-.9zM378.0 564.7h.9v.9h-.9zM361.5 572.8h.9v.9h-.9zM389.4 559.8h.9v.9h-.9zM363.4 571.9h.9v.9h-.9zM365.4 568.8h.9v.9h-.9zM372.8 566.7h.9v.9h-.9zM361.0 574.3h.9v.9h-.9zM380.7 564.7h.9v.9h-.9zM360.6 575.9h.9v.9h-.9zM375.3 564.7h.9v.9h-.9zM369.2 570.7h.9v.9h-.9zM360.1 572.1h.9v.9h-.9zM363.6 574.3h.9v.9h-.9zM364.5 570.1h.9v.9h-.9zM373.7 569.9h.9v.9h-.9zM361.4 571.3h.9v.9h-.9zM366.9 569.2h.9v.9h-.9zM362.1 572.8h.9v.9h-.9zM364.1 572.4h.9v.9h-.9zM365.1 574.0h.9v.9h-.9zM385.2 558.2h.9v.9h-.9zM367.1 570.0h.9v.9h-.9zM359.9 573.6h.9v.9h-.9zM363.4 569.6h.9v.9h-.9zM362.8 571.0h.9v.9h-.9zM360.2 573.2h.9v.9h-.9zM376.0 566.5h.9v.9h-.9zM369.4 573.2h.9v.9h-.9zM385.3 560.9h.9v.9h-.9zM359.9 573.9h.9v.9h-.9zM372.0 571.9h.9v.9h-.9zM371.1 570.3h.9v.9h-.9zM361.7 574.2h.9v.9h-.9zM386.3 559.5h.9v.9h-.9zM369.3 570.0h.9v.9h-.9zM361.7 572.4h.9v.9h-.9zM379.7 570.3h.9v.9h-.9zM362.2 573.6h.9v.9h-.9zM361.4 571.0h.9v.9h-.9zM372.3 571.1h.9v.9h-.9zM369.9 569.4h.9v.9h-.9zM364.5 571.4h.9v.9h-.9zM360.4 575.3h.9v.9h-.9z" fill="#2f7a37" fill-opacity="0.3"/>
<path d="M362.2 575.5h.9v.9h-.9zM360.4 574.4h.9v.9h-.9zM370.3 571.4h.9v.9h-.9zM360.3 572.5h.9v.9h-.9zM366.0 571.4h.9v.9h-.9zM363.1 574.7h.9v.9h-.9zM363.2 573.5h.9v.9h-.9zM362.4 574.7h.9v.9h-.9zM364.0 574.5h.9v.9h-.9zM360.8 573.9h.9v.9h-.9zM362.0 570.5h.9v.9h-.9zM367.4 573.6h.9v.9h-.9zM378.2 565.6h.9v.9h-.9zM368.7 572.5h.9v.9h-.9zM362.3 571.3h.9v.9h-.9zM361.8 573.8h.9v.9h-.9zM368.1 571.1h.9v.9h-.9zM361.3 573.6h.9v.9h-.9zM368.1 571.5h.9v.9h-.9zM369.9 567.9h.9v.9h-.9zM362.8 574.6h.9v.9h-.9zM383.0 564.1h.9v.9h-.9zM365.8 569.9h.9v.9h-.9zM359.4 573.6h.9v.9h-.9zM387.7 561.5h.9v.9h-.9zM365.5 573.7h.9v.9h-.9zM379.6 567.4h.9v.9h-.9zM366.5 574.2h.9v.9h-.9zM378.5 568.2h.9v.9h-.9zM361.1 574.9h.9v.9h-.9zM362.9 574.7h.9v.9h-.9zM367.8 572.9h.9v.9h-.9zM369.7 572.2h.9v.9h-.9zM368.0 571.8h.9v.9h-.9zM365.4 572.6h.9v.9h-.9zM366.1 571.1h.9v.9h-.9zM366.8 572.4h.9v.9h-.9zM360.7 574.9h.9v.9h-.9zM362.7 571.9h.9v.9h-.9zM360.2 572.6h.9v.9h-.9zM362.7 574.8h.9v.9h-.9zM363.4 572.3h.9v.9h-.9zM372.6 570.7h.9v.9h-.9zM362.8 573.1h.9v.9h-.9zM361.2 573.6h.9v.9h-.9zM362.8 574.1h.9v.9h-.9zM361.8 573.3h.9v.9h-.9zM360.1 575.1h.9v.9h-.9zM376.2 567.5h.9v.9h-.9zM361.5 571.1h.9v.9h-.9zM359.5 572.3h.9v.9h-.9zM379.5 568.9h.9v.9h-.9zM376.0 563.4h.9v.9h-.9z" fill="#2f7a37" fill-opacity="0.3"/>
<path d="M364.8 571.0h.9v.9h-.9zM362.1 574.8h.9v.9h-.9zM367.6 573.7h.9v.9h-.9zM363.5 573.9h.9v.9h-.9zM366.6 572.3h.9v.9h-.9zM360.3 573.4h.9v.9h-.9zM363.9 571.6h.9v.9h-.9zM361.0 575.3h.9v.9h-.9zM362.5 574.3h.9v.9h-.9zM360.5 574.6h.9v.9h-.9zM359.7 572.6h.9v.9h-.9zM364.7 573.6h.9v.9h-.9zM367.1 574.3h.9v.9h-.9zM360.8 575.0h.9v.9h-.9zM360.7 573.1h.9v.9h-.9zM361.4 571.8h.9v.9h-.9zM363.4 575.7h.9v.9h-.9zM360.5 574.3h.9v.9h-.9zM363.9 569.9h.9v.9h-.9zM376.4 565.7h.9v.9h-.9zM371.1 570.9h.9v.9h-.9zM363.8 573.0h.9v.9h-.9zM365.7 571.5h.9v.9h-.9zM366.3 572.2h.9v.9h-.9zM373.1 567.5h.9v.9h-.9zM375.0 565.9h.9v.9h-.9zM373.3 568.2h.9v.9h-.9zM378.9 564.2h.9v.9h-.9zM364.0 575.1h.9v.9h-.9zM360.3 571.5h.9v.9h-.9zM360.9 570.7h.9v.9h-.9zM370.0 572.0h.9v.9h-.9zM360.7 575.1h.9v.9h-.9zM362.3 574.2h.9v.9h-.9zM361.2 572.7h.9v.9h-.9zM365.1 567.6h.9v.9h-.9zM389.3 558.3h.9v.9h-.9zM362.6 572.8h.9v.9h-.9zM361.4 574.8h.9v.9h-.9zM375.2 570.5h.9v.9h-.9zM366.9 572.0h.9v.9h-.9zM369.6 567.9h.9v.9h-.9zM372.9 568.4h.9v.9h-.9zM373.3 568.0h.9v.9h-.9zM361.6 573.5h.9v.9h-.9zM368.5 571.3h.9v.9h-.9zM364.0 569.6h.9v.9h-.9zM360.9 573.0h.9v.9h-.9zM363.0 570.7h.9v.9h-.9zM361.0 573.7h.9v.9h-.9zM359.7 572.2h.9v.9h-.9zM370.3 572.1h.9v.9h-.9zM364.6 574.1h.9v.9h-.9z" fill="#2f7a37" fill-opacity="0.3"/>
<path d="M363.4 571.3h.9v.9h-.9zM361.9 574.3h.9v.9h-.9zM363.3 573.3h.9v.9h-.9zM366.2 570.1h.9v.9h-.9zM360.0 572.8h.9v.9h-.9zM369.2 568.4h.9v.9h-.9zM364.6 572.5h.9v.9h-.9zM373.4 568.7h.9v.9h-.9zM365.3 571.6h.9v.9h-.9zM360.7 573.0h.9v.9h-.9zM359.8 573.6h.9v.9h-.9zM361.9 574.7h.9v.9h-.9zM362.0 575.5h.9v.9h-.9zM363.3 571.1h.9v.9h-.9zM380.7 569.0h.9v.9h-.9zM363.0 573.8h.9v.9h-.9zM371.7 568.2h.9v.9h-.9zM366.9 569.0h.9v.9h-.9zM371.1 570.5h.9v.9h-.9zM363.1 573.9h.9v.9h-.9zM361.0 572.4h.9v.9h-.9zM359.2 573.1h.9v.9h-.9zM366.2 571.2h.9v.9h-.9zM359.6 573.0h.9v.9h-.9zM366.5 570.5h.9v.9h-.9zM365.2 572.2h.9v.9h-.9zM360.1 574.2h.9v.9h-.9zM360.9 572.2h.9v.9h-.9zM365.0 572.4h.9v.9h-.9zM378.1 566.5h.9v.9h-.9zM366.6 569.7h.9v.9h-.9zM362.4 574.1h.9v.9h-.9zM360.9 572.1h.9v.9h-.9zM361.8 573.3h.9v.9h-.9zM359.4 571.9h.9v.9h-.9zM361.5 572.2h.9v.9h-.9zM360.4 575.6h.9v.9h-.9zM362.0 570.2h.9v.9h-.9zM376.8 563.8h.9v.9h-.9zM361.5 573.8h.9v.9h-.9zM362.0 575.0h.9v.9h-.9zM365.1 570.8h.9v.9h-.9zM369.4 569.5h.9v.9h-.9zM359.3 573.1h.9v.9h-.9zM366.9 571.3h.9v.9h-.9zM365.8 572.9h.9v.9h-.9zM363.0 576.5h.9v.9h-.9zM360.3 573.6h.9v.9h-.9zM363.1 575.0h.9v.9h-.9zM364.3 567.6h.9v.9h-.9zM361.3 573.7h.9v.9h-.9zM368.4 569.6h.9v.9h-.9z" fill="#2f7a37" fill-opacity="0.3"/>
<path d="M359.6 573.0h.9v.9h-.9zM361.4 572.1h.9v.9h-.9zM376.4 564.9h.9v.9h-.9zM364.1 570.0h.9v.9h-.9zM361.7 572.8h.9v.9h-.9zM361.0 571.0h.9v.9h-.9zM362.6 574.5h.9v.9h-.9zM360.2 571.7h.9v.9h-.9zM376.1 565.9h.9v.9h-.9zM370.8 569.1h.9v.9h-.9zM367.0 568.5h.9v.9h-.9zM364.7 573.4h.9v.9h-.9zM370.4 569.3h.9v.9h-.9zM359.2 572.7h.9v.9h-.9zM391.0 558.6h.9v.9h-.9zM370.2 565.5h.9v.9h-.9zM363.4 573.9h.9v.9h-.9zM361.1 572.8h.9v.9h-.9zM362.3 574.8h.9v.9h-.9zM368.0 571.5h.9v.9h-.9zM359.4 571.5h.9v.9h-.9zM379.8 565.4h.9v.9h-.9zM360.4 574.2h.9v.9h-.9zM363.9 572.0h.9v.9h-.9zM372.8 573.0h.9v.9h-.9zM363.6 572.5h.9v.9h-.9zM366.3 570.8h.9v.9h-.9zM362.3 572.9h.9v.9h-.9zM362.2 572.9h.9v.9h-.9zM359.3 573.5h.9v.9h-.9zM363.9 569.2h.9v.9h-.9zM369.6 570.7h.9v.9h-.9zM362.0 570.4h.9v.9h-.9zM361.8 572.3h.9v.9h-.9zM360.7 573.8h.9v.9h-.9zM363.4 572.5h.9v.9h-.9zM361.8 570.9h.9v.9h-.9zM377.6 563.6h.9v.9h-.9zM362.8 571.8h.9v.9h-.9zM364.0 570.5h.9v.9h-.9zM360.1 574.6h.9v.9h-.9zM364.5 570.7h.9v.9h-.9zM360.9 572.5h.9v.9h-.9zM369.0 569.5h.9v.9h-.9zM362.6 570.6h.9v.9h-.9zM361.3 575.8h.9v.9h-.9zM359.3 573.4h.9v.9h-.9zM361.2 574.2h.9v.9h-.9zM366.8 573.9h.9v.9h-.9zM361.8 575.4h.9v.9h-.9zM376.1 564.0h.9v.9h-.9zM380.0 564.2h.9v.9h-.9z" fill="#2f7a37" fill-opacity="0.3"/>
<path d="M360.0 572.3h.9v.9h-.9zM369.9 570.1h.9v.9h-.9zM360.4 574.8h.9v.9h-.9zM361.7 573.9h.9v.9h-.9zM360.2 571.7h.9v.9h-.9zM360.2 573.3h.9v.9h-.9zM363.2 572.4h.9v.9h-.9zM362.1 574.2h.9v.9h-.9zM360.1 573.4h.9v.9h-.9zM363.2 572.7h.9v.9h-.9zM361.4 572.5h.9v.9h-.9zM367.4 569.4h.9v.9h-.9zM366.1 574.5h.9v.9h-.9zM361.6 574.9h.9v.9h-.9zM364.0 573.0h.9v.9h-.9zM367.0 571.5h.9v.9h-.9zM359.2 573.2h.9v.9h-.9zM362.4 574.6h.9v.9h-.9zM363.3 573.6h.9v.9h-.9zM376.2 564.5h.9v.9h-.9zM360.1 572.8h.9v.9h-.9zM363.8 574.1h.9v.9h-.9zM359.1 572.1h.9v.9h-.9zM363.8 574.6h.9v.9h-.9zM374.3 567.6h.9v.9h-.9zM364.6 571.4h.9v.9h-.9zM370.2 569.6h.9v.9h-.9zM370.7 570.5h.9v.9h-.9zM361.1 574.6h.9v.9h-.9zM373.0 568.7h.9v.9h-.9zM361.7 573.4h.9v.9h-.9zM363.9 572.8h.9v.9h-.9zM364.1 573.8h.9v.9h-.9zM362.4 574.6h.9v.9h-.9zM364.1 574.2h.9v.9h-.9zM365.0 575.0h.9v.9h-.9zM371.4 569.7h.9v.9h-.9zM365.9 570.9h.9v.9h-.9zM361.2 572.9h.9v.9h-.9zM364.8 572.6h.9v.9h-.9zM367.9 569.4h.9v.9h-.9zM361.9 575.6h.9v.9h-.9zM367.2 569.9h.9v.9h-.9zM362.4 573.8h.9v.9h-.9zM368.0 569.9h.9v.9h-.9zM368.9 570.6h.9v.9h-.9zM362.1 572.8h.9v.9h-.9zM360.9 572.3h.9v.9h-.9zM361.4 576.3h.9v.9h-.9zM368.3 571.9h.9v.9h-.9zM361.1 570.4h.9v.9h-.9zM360.5 574.4h.9v.9h-.9z" fill="#2f7a37" fill-opacity="0.3"/>
<path d="M364.8 571.9h.9v.9h-.9zM368.4 571.4h.9v.9h-.9zM377.8 563.2h.9v.9h-.9zM365.1 572.3h.9v.9h-.9zM365.8 570.0h.9v.9h-.9zM369.8 573.9h.9v.9h-.9zM361.8 574.7h.9v.9h-.9zM360.1 572.5h.9v.9h-.9zM360.6 576.1h.9v.9h-.9zM372.2 570.2h.9v.9h-.9zM363.4 572.6h.9v.9h-.9zM374.8 569.1h.9v.9h-.9zM361.5 575.0h.9v.9h-.9zM363.1 572.4h.9v.9h-.9zM368.0 569.3h.9v.9h-.9zM365.5 572.6h.9v.9h-.9zM359.9 574.8h.9v.9h-.9zM389.0 560.2h.9v.9h-.9zM366.2 573.9h.9v.9h-.9zM376.5 563.6h.9v.9h-.9zM379.1 565.5h.9v.9h-.9zM364.4 569.6h.9v.9h-.9zM368.1 572.2h.9v.9h-.9zM370.9 571.2h.9v.9h-.9zM363.6 574.7h.9v.9h-.9zM364.2 567.5h.9v.9h-.9zM361.9 574.8h.9v.9h-.9zM370.2 571.8h.9v.9h-.9zM368.0 571.7h.9v.9h-.9zM368.8 569.3h.9v.9h-.9zM361.3 575.5h.9v.9h-.9zM360.1 573.3h.9v.9h-.9zM361.6 573.7h.9v.9h-.9zM363.2 570.9h.9v.9h-.9zM362.7 572.8h.9v.9h-.9zM375.5 564.2h.9v.9h-.9zM364.8 574.7h.9v.9h-.9zM360.3 574.6h.9v.9h-.9zM364.2 574.1h.9v.9h-.9zM366.9 571.2h.9v.9h-.9zM363.1 571.8h.9v.9h-.9zM364.4 571.7h.9v.9h-.9zM363.4 575.1h.9v.9h-.9zM366.0 574.4h.9v.9h-.9zM364.2 571.2h.9v.9h-.9zM361.7 573.9h.9v.9h-.9zM363.7 573.5h.9v.9h-.9zM361.7 572.6h.9v.9h-.9zM359.3 573.1h.9v.9h-.9zM360.6 574.2h.9v.9h-.9zM363.3 575.1h.9v.9h-.9zM361.2 571.1h.9v.9h-.9z" fill="#2f7a37" fill-opacity="0.3"/>
<path d="M371.1 568.1h.9v.9h-.9zM360.0 574.9h.9v.9h-.9zM363.3 572.5h.9v.9h-.9zM362.5 572.6h.9v.9h-.9zM359.1 572.8h.9v.9h-.9zM360.4 575.4h.9v.9h-.9zM366.3 571.0h.9v.9h-.9zM377.7 565.7h.9v.9h-.9zM363.2 574.0h.9v.9h-.9zM359.9 574.2h.9v.9h-.9zM361.4 572.4h.9v.9h-.9zM363.0 576.1h.9v.9h-.9zM361.3 572.8h.9v.9h-.9zM362.4 572.2h.9v.9h-.9zM369.1 573.4h.9v.9h-.9zM361.1 573.3h.9v.9h-.9zM372.5 568.4h.9v.9h-.9zM375.0 570.4h.9v.9h-.9zM368.7 568.2h.9v.9h-.9zM368.6 568.1h.9v.9h-.9zM374.5 568.4h.9v.9h-.9zM361.2 573.0h.9v.9h-.9zM382.4 565.8h.9v.9h-.9zM366.3 573.1h.9v.9h-.9zM362.0 573.4h.9v.9h-.9zM363.3 571.2h.9v.9h-.9zM366.6 568.6h.9v.9h-.9zM378.2 567.8h.9v.9h-.9zM366.2 573.7h.9v.9h-.9zM368.3 567.8h.9v.9h-.9zM372.9 569.5h.9v.9h-.9zM362.7 573.6h.9v.9h-.9zM369.4 569.0h.9v.9h-.9zM364.1 575.7h.9v.9h-.9zM372.2 570.2h.9v.9h-.9zM364.2 573.1h.9v.9h-.9zM363.5 573.6h.9v.9h-.9zM363.8 570.8h.9v.9h-.9zM384.1 561.2h.9v.9h-.9zM366.1 568.3h.9v.9h-.9zM361.5 573.9h.9v.9h-.9zM366.8 572.4h.9v.9h-.9zM367.7 567.3h.9v.9h-.9zM368.6 569.7h.9v.9h-.9zM365.5 571.5h.9v.9h-.9zM364.2 571.8h.9v.9h-.9zM376.2 571.1h.9v.9h-.9zM364.7 572.5h.9v.9h-.9zM367.6 570.9h.9v.9h-.9zM360.3 573.1h.9v.9h-.9zM382.2 565.4h.9v.9h-.9zM366.1 568.7h.9v.9h-.9z" fill="#2f7a37" fill-opacity="0.3"/>
<ellipse cx="365.1" cy="574.3" rx="6.0" ry="2.8" fill="#24632b" fill-opacity="0.7" filter="url(#bl)" transform="rotate(-18 365.1 574.3)"/>
<path d="M393.8 547.7h.9v.9h-.9zM391.9 545.0h.9v.9h-.9zM403.2 537.6h.9v.9h-.9zM398.4 538.2h.9v.9h-.9zM387.0 549.9h.9v.9h-.9zM404.1 543.5h.9v.9h-.9zM404.8 541.8h.9v.9h-.9zM403.0 541.1h.9v.9h-.9zM402.1 539.7h.9v.9h-.9zM391.7 552.3h.9v.9h-.9zM402.0 538.5h.9v.9h-.9zM396.5 541.4h.9v.9h-.9zM399.6 539.3h.9v.9h-.9zM388.5 546.9h.9v.9h-.9zM391.2 544.6h.9v.9h-.9zM398.1 540.8h.9v.9h-.9zM402.1 539.0h.9v.9h-.9zM396.5 541.9h.9v.9h-.9zM403.5 538.1h.9v.9h-.9zM404.1 540.8h.9v.9h-.9zM396.3 549.5h.9v.9h-.9zM393.6 543.9h.9v.9h-.9zM393.1 550.9h.9v.9h-.9zM401.2 542.1h.9v.9h-.9zM400.0 543.6h.9v.9h-.9zM392.0 551.6h.9v.9h-.9zM403.6 544.7h.9v.9h-.9zM399.6 538.2h.9v.9h-.9zM398.6 541.5h.9v.9h-.9zM392.0 549.2h.9v.9h-.9zM390.1 552.4h.9v.9h-.9zM401.6 539.5h.9v.9h-.9zM394.4 539.7h.9v.9h-.9zM395.8 542.4h.9v.9h-.9zM399.8 540.5h.9v.9h-.9zM405.5 544.6h.9v.9h-.9zM401.3 540.3h.9v.9h-.9zM397.9 546.2h.9v.9h-.9zM389.5 546.2h.9v.9h-.9zM399.0 542.0h.9v.9h-.9zM401.8 540.5h.9v.9h-.9z" fill="#3a8a43" fill-opacity="0.3"/>
<path d="M402.6 536.9h.9v.9h-.9zM399.1 536.0h.9v.9h-.9zM395.8 534.4h.9v.9h-.9zM402.0 540.1h.9v.9h-.9zM398.1 539.4h.9v.9h-.9zM401.0 537.6h.9v.9h-.9zM401.8 543.4h.9v.9h-.9zM402.1 536.1h.9v.9h-.9zM390.9 542.3h.9v.9h-.9zM387.1 552.4h.9v.9h-.9zM397.8 547.8h.9v.9h-.9zM390.6 552.0h.9v.9h-.9zM396.5 548.0h.9v.9h-.9zM401.7 541.6h.9v.9h-.9zM399.4 543.3h.9v.9h-.9zM394.6 549.5h.9v.9h-.9zM390.4 542.1h.9v.9h-.9zM398.1 545.3h.9v.9h-.9zM400.5 538.9h.9v.9h-.9zM403.5 540.4h.9v.9h-.9zM397.6 541.4h.9v.9h-.9zM397.4 545.9h.9v.9h-.9zM396.4 547.8h.9v.9h-.9zM395.7 538.1h.9v.9h-.9zM393.0 543.6h.9v.9h-.9zM398.6 547.3h.9v.9h-.9zM390.8 545.7h.9v.9h-.9zM386.7 552.3h.9v.9h-.9zM402.6 541.6h.9v.9h-.9zM387.6 544.7h.9v.9h-.9zM401.8 541.1h.9v.9h-.9zM400.0 544.6h.9v.9h-.9zM403.1 538.7h.9v.9h-.9zM400.1 544.6h.9v.9h-.9zM395.8 544.5h.9v.9h-.9zM404.5 542.7h.9v.9h-.9zM404.2 540.4h.9v.9h-.9zM403.6 541.0h.9v.9h-.9zM404.7 542.9h.9v.9h-.9zM396.5 542.0h.9v.9h-.9zM397.6 542.7h.9v.9h-.9z" fill="#3a8a43" fill-opacity="0.3"/>
<path d="M397.0 538.1h.9v.9h-.9zM401.5 539.5h.9v.9h-.9zM401.9 537.2h.9v.9h-.9zM395.3 540.8h.9v.9h-.9zM397.4 547.7h.9v.9h-.9zM393.2 542.3h.9v.9h-.9zM397.9 541.4h.9v.9h-.9zM404.2 543.7h.9v.9h-.9zM405.2 542.1h.9v.9h-.9zM398.7 543.6h.9v.9h-.9zM394.4 538.0h.9v.9h-.9zM398.4 543.0h.9v.9h-.9zM399.9 539.8h.9v.9h-.9zM400.8 544.6h.9v.9h-.9zM401.0 539.1h.9v.9h-.9zM403.0 541.1h.9v.9h-.9zM396.9 544.6h.9v.9h-.9zM390.5 548.4h.9v.9h-.9zM391.9 542.7h.9v.9h-.9zM400.5 540.4h.9v.9h-.9zM402.8 538.4h.9v.9h-.9zM402.2 538.4h.9v.9h-.9zM402.5 540.9h.9v.9h-.9zM402.0 537.2h.9v.9h-.9zM386.4 545.8h.9v.9h-.9zM392.5 545.1h.9v.9h-.9zM403.4 539.0h.9v.9h-.9zM405.8 542.4h.9v.9h-.9zM400.0 545.7h.9v.9h-.9zM401.9 545.1h.9v.9h-.9zM391.7 544.8h.9v.9h-.9zM383.5 547.4h.9v.9h-.9zM396.6 544.8h.9v.9h-.9zM390.2 545.5h.9v.9h-.9zM403.3 539.6h.9v.9h-.9zM403.8 539.5h.9v.9h-.9zM401.2 548.6h.9v.9h-.9zM403.0 546.1h.9v.9h-.9zM400.9 535.0h.9v.9h-.9zM397.9 537.3h.9v.9h-.9zM395.0 547.0h.9v.9h-.9z" fill="#3a8a43" fill-opacity="0.3"/>
<path d="M395.0 541.6h.9v.9h-.9zM401.4 535.4h.9v.9h-.9zM388.2 549.9h.9v.9h-.9zM397.1 540.5h.9v.9h-.9zM395.7 546.8h.9v.9h-.9zM396.8 543.0h.9v.9h-.9zM402.3 542.6h.9v.9h-.9zM400.2 542.0h.9v.9h-.9zM395.6 539.2h.9v.9h-.9zM400.5 541.3h.9v.9h-.9zM396.7 541.2h.9v.9h-.9zM401.8 540.1h.9v.9h-.9zM392.6 543.2h.9v.9h-.9zM402.1 539.2h.9v.9h-.9zM403.3 542.3h.9v.9h-.9zM390.2 549.2h.9v.9h-.9zM402.0 540.5h.9v.9h-.9zM403.0 538.8h.9v.9h-.9zM403.9 540.4h.9v.9h-.9zM400.3 544.7h.9v.9h-.9zM391.3 549.8h.9v.9h-.9zM396.0 552.4h.9v.9h-.9zM389.1 547.8h.9v.9h-.9zM404.0 540.7h.9v.9h-.9zM396.7 547.6h.9v.9h-.9zM399.0 542.0h.9v.9h-.9zM399.1 543.5h.9v.9h-.9zM403.6 540.0h.9v.9h-.9zM402.0 540.8h.9v.9h-.9zM403.1 540.1h.9v.9h-.9zM390.1 543.3h.9v.9h-.9zM387.7 550.5h.9v.9h-.9zM401.0 540.3h.9v.9h-.9zM401.8 535.8h.9v.9h-.9zM387.0 542.0h.9v.9h-.9zM403.1 540.8h.9v.9h-.9zM402.6 538.2h.9v.9h-.9zM394.9 548.0h.9v.9h-.9zM403.9 543.7h.9v.9h-.9zM398.9 545.8h.9v.9h-.9zM402.3 543.2h.9v.9h-.9z" fill="#3a8a43" fill-opacity="0.3"/>
<path d="M397.0 536.3h.9v.9h-.9zM390.6 538.2h.9v.9h-.9zM396.8 545.0h.9v.9h-.9zM400.5 543.8h.9v.9h-.9zM400.7 537.0h.9v.9h-.9zM400.5 545.4h.9v.9h-.9zM400.1 539.6h.9v.9h-.9zM388.6 547.9h.9v.9h-.9zM400.3 542.0h.9v.9h-.9zM391.2 538.6h.9v.9h-.9zM396.6 541.7h.9v.9h-.9zM402.9 541.3h.9v.9h-.9zM388.8 552.6h.9v.9h-.9zM395.1 542.0h.9v.9h-.9zM390.9 541.7h.9v.9h-.9zM398.9 541.6h.9v.9h-.9zM402.8 538.7h.9v.9h-.9zM398.3 540.6h.9v.9h-.9zM393.0 539.3h.9v.9h-.9zM394.1 547.1h.9v.9h-.9zM397.6 540.3h.9v.9h-.9zM400.8 539.8h.9v.9h-.9zM404.5 540.7h.9v.9h-.9zM395.8 550.1h.9v.9h-.9zM401.1 539.0h.9v.9h-.9zM389.1 549.3h.9v.9h-.9zM399.2 540.0h.9v.9h-.9zM399.9 540.4h.9v.9h-.9zM398.6 548.6h.9v.9h-.9zM399.9 537.2h.9v.9h-.9zM394.5 543.5h.9v.9h-.9zM401.9 535.8h.9v.9h-.9zM388.2 548.1h.9v.9h-.9zM399.8 543.5h.9v.9h-.9zM389.9 548.4h.9v.9h-.9zM399.0 539.6h.9v.9h-.9zM395.9 546.4h.9v.9h-.9zM401.2 540.2h.9v.9h-.9zM397.1 542.8h.9v.9h-.9zM403.2 541.9h.9v.9h-.9zM400.5 541.8h.9v.9h-.9z" fill="#3a8a43" fill-opacity="0.3"/>
<path d="M403.1 540.6h.9v.9h-.9zM400.9 537.5h.9v.9h-.9zM400.5 543.2h.9v.9h-.9zM398.7 539.7h.9v.9h-.9zM401.0 545.8h.9v.9h-.9zM389.5 553.6h.9v.9h-.9zM400.4 537.0h.9v.9h-.9zM392.0 547.0h.9v.9h-.9zM401.2 536.8h.9v.9h-.9zM403.1 539.2h.9v.9h-.9zM397.6 543.8h.9v.9h-.9zM399.6 540.4h.9v.9h-.9zM400.7 537.9h.9v.9h-.9zM396.5 538.8h.9v.9h-.9zM394.2 541.4h.9v.9h-.9zM389.3 544.0h.9v.9h-.9zM398.5 544.1h.9v.9h-.9zM402.1 545.1h.9v.9h-.9zM404.2 540.6h.9v.9h-.9zM404.9 541.2h.9v.9h-.9zM404.0 540.2h.9v.9h-.9zM403.8 543.9h.9v.9h-.9zM402.4 539.3h.9v.9h-.9zM395.8 543.4h.9v.9h-.9zM390.1 550.3h.9v.9h-.9zM399.4 549.7h.9v.9h-.9zM401.7 536.4h.9v.9h-.9zM386.6 547.3h.9v.9h-.9zM401.1 543.5h.9v.9h-.9zM404.8 539.8h.9v.9h-.9zM384.4 548.1h.9v.9h-.9zM399.5 539.8h.9v.9h-.9zM399.0 540.1h.9v.9h-.9zM387.8 551.4h.9v.9h-.9zM394.6 545.0h.9v.9h-.9zM401.7 540.7h.9v.9h-.9zM404.3 541.0h.9v.9h-.9zM392.6 541.1h.9v.9h-.9zM386.6 551.0h.9v.9h-.9zM392.6 543.6h.9v.9h-.9zM383.0 545.5h.9v.9h-.9z" fill="#3a8a43" fill-opacity="0.3"/>
<path d="M396.4 544.9h.9v.9h-.9zM393.9 539.5h.9v.9h-.9zM399.3 542.0h.9v.9h-.9zM401.5 540.4h.9v.9h-.9zM404.1 541.5h.9v.9h-.9zM400.2 545.7h.9v.9h-.9zM400.6 540.8h.9v.9h-.9zM394.8 542.3h.9v.9h-.9zM403.0 538.1h.9v.9h-.9zM397.0 540.6h.9v.9h-.9zM403.0 539.1h.9v.9h-.9zM403.1 540.4h.9v.9h-.9zM396.8 544.5h.9v.9h-.9zM400.3 541.4h.9v.9h-.9zM404.5 541.1h.9v.9h-.9zM399.9 538.9h.9v.9h-.9zM399.6 540.3h.9v.9h-.9zM390.5 550.9h.9v.9h-.9zM403.0 544.7h.9v.9h-.9zM386.3 541.3h.9v.9h-.9zM397.0 551.1h.9v.9h-.9zM390.2 549.1h.9v.9h-.9zM393.2 546.6h.9v.9h-.9zM404.2 539.1h.9v.9h-.9zM396.8 546.9h.9v.9h-.9zM402.9 539.3h.9v.9h-.9zM400.4 545.0h.9v.9h-.9zM402.7 540.3h.9v.9h-.9zM403.7 538.7h.9v.9h-.9zM396.9 541.2h.9v.9h-.9zM392.8 544.1h.9v.9h-.9zM401.5 541.5h.9v.9h-.9zM399.4 542.7h.9v.9h-.9zM399.7 540.6h.9v.9h-.9zM398.3 543.3h.9v.9h-.9zM399.1 540.6h.9v.9h-.9zM397.8 543.0h.9v.9h-.9zM404.1 542.8h.9v.9h-.9zM403.7 539.3h.9v.9h-.9zM401.6 540.6h.9v.9h-.9zM397.6 546.4h.9v.9h-.9z" fill="#3a8a43" fill-opacity="0.3"/>
<path d="M405.6 541.2h.9v.9h-.9zM397.2 541.2h.9v.9h-.9zM390.6 542.1h.9v.9h-.9zM403.6 539.9h.9v.9h-.9zM400.2 539.1h.9v.9h-.9zM399.5 541.8h.9v.9h-.9zM401.4 543.3h.9v.9h-.9zM395.5 549.0h.9v.9h-.9zM394.3 548.1h.9v.9h-.9zM403.9 544.0h.9v.9h-.9zM398.0 541.6h.9v.9h-.9zM403.0 539.1h.9v.9h-.9zM401.1 541.2h.9v.9h-.9zM403.7 539.2h.9v.9h-.9zM403.4 538.4h.9v.9h-.9zM389.9 549.3h.9v.9h-.9zM386.4 551.0h.9v.9h-.9zM397.2 537.8h.9v.9h-.9zM403.6 540.5h.9v.9h-.9zM387.0 550.0h.9v.9h-.9zM390.5 549.3h.9v.9h-.9zM401.7 541.5h.9v.9h-.9zM401.0 544.9h.9v.9h-.9zM402.2 539.9h.9v.9h-.9zM399.3 541.3h.9v.9h-.9zM402.0 541.6h.9v.9h-.9zM401.0 542.6h.9v.9h-.9zM404.1 539.0h.9v.9h-.9zM400.7 542.7h.9v.9h-.9zM402.7 538.5h.9v.9h-.9zM395.7 536.8h.9v.9h-.9zM398.1 542.5h.9v.9h-.9zM387.6 544.4h.9v.9h-.9zM396.7 540.7h.9v.9h-.9zM400.2 541.1h.9v.9h-.9zM394.6 542.1h.9v.9h-.9zM401.6 544.2h.9v.9h-.9zM405.8 548.4h.9v.9h-.9zM404.2 539.4h.9v.9h-.9zM390.6 549.5h.9v.9h-.9z" fill="#3a8a43" fill-opacity="0.3"/>
<ellipse cx="400.1" cy="542.8" rx="5.8" ry="3.0" fill="#24632b" fill-opacity="0.6" filter="url(#bl)" transform="rotate(-35 400.1 542.8)"/>
<rect x="380.60" y="533.90" width="30.30" height="22.40" fill="none" stroke="#8f93a2" stroke-width="1.0"/>
<text x="410.70" y="564.90" font-size="7.0" text-anchor="end" fill="#555" font-family="Liberation Serif, serif" textLength="10.2" lengthAdjust="spacingAndGlyphs">53.3</text>
<text x="410.50" y="584.20" font-size="6.6" text-anchor="end" fill="#111" stroke="#111" stroke-width="0.25" font-family="Liberation Serif, serif" textLength="7.5" lengthAdjust="spacingAndGlyphs">+/+</text>
<rect x="420.60" y="533.30" width="52.90" height="51.20" fill="#fff" stroke="#cdcdd2" stroke-width="0.9"/>
<line x1="419.70" y1="539.30" x2="421.20" y2="539.30" stroke="#666" stroke-width="0.6"/>
<line x1="419.70" y1="549.80" x2="421.20" y2="549.80" stroke="#666" stroke-width="0.6"/>
<line x1="419.70" y1="560.30" x2="421.20" y2="560.30" stroke="#666" stroke-width="0.6"/>
<line x1="419.70" y1="570.80" x2="421.20" y2="570.80" stroke="#666" stroke-width="0.6"/>
<line x1="419.70" y1="581.30" x2="421.20" y2="581.30" stroke="#666" stroke-width="0.6"/>
<line x1="423.60" y1="584.80" x2="423.60" y2="586.30" stroke="#888" stroke-width="0.5"/>
<line x1="427.10" y1="584.80" x2="427.10" y2="586.30" stroke="#888" stroke-width="0.5"/>
<line x1="430.60" y1="584.80" x2="430.60" y2="586.30" stroke="#888" stroke-width="0.5"/>
<line x1="434.10" y1="584.80" x2="434.10" y2="586.30" stroke="#888" stroke-width="0.5"/>
<line x1="437.60" y1="584.80" x2="437.60" y2="586.30" stroke="#888" stroke-width="0.5"/>
<line x1="441.10" y1="584.80" x2="441.10" y2="586.30" stroke="#888" stroke-width="0.5"/>
<line x1="444.60" y1="584.80" x2="444.60" y2="586.30" stroke="#888" stroke-width="0.5"/>
<line x1="448.10" y1="584.80" x2="448.10" y2="586.30" stroke="#888" stroke-width="0.5"/>
<line x1="451.60" y1="584.80" x2="451.60" y2="586.30" stroke="#888" stroke-width="0.5"/>
<line x1="455.10" y1="584.80" x2="455.10" y2="586.30" stroke="#888" stroke-width="0.5"/>
<line x1="458.60" y1="584.80" x2="458.60" y2="586.30" stroke="#888" stroke-width="0.5"/>
<line x1="462.10" y1="584.80" x2="462.10" y2="586.30" stroke="#888" stroke-width="0.5"/>
<line x1="465.60" y1="584.80" x2="465.60" y2="586.30" stroke="#888" stroke-width="0.5"/>
<line x1="469.10" y1="584.80" x2="469.10" y2="586.30" stroke="#888" stroke-width="0.5"/>
<line x1="424.60" y1="586.10" x2="431.60" y2="586.10" stroke="#666" stroke-width="0.8"/>
<path d="M429.3 575.3h.8v.8h-.8zM424.1 572.3h.8v.8h-.8zM426.3 571.5h.8v.8h-.8zM462.4 554.9h.8v.8h-.8zM441.2 564.7h.8v.8h-.8zM452.2 558.2h.8v.8h-.8zM445.3 554.3h.8v.8h-.8zM461.7 551.8h.8v.8h-.8zM428.5 574.8h.8v.8h-.8zM443.8 563.1h.8v.8h-.8zM431.0 569.3h.8v.8h-.8zM442.0 557.5h.8v.8h-.8zM426.8 572.6h.8v.8h-.8zM433.9 568.0h.8v.8h-.8zM434.4 573.2h.8v.8h-.8zM429.8 572.7h.8v.8h-.8zM442.4 560.7h.8v.8h-.8zM463.8 559.0h.8v.8h-.8zM456.2 546.6h.8v.8h-.8zM426.5 572.6h.8v.8h-.8zM462.6 551.8h.8v.8h-.8zM434.2 571.1h.8v.8h-.8zM424.9 569.9h.8v.8h-.8zM433.7 570.9h.8v.8h-.8zM439.2 563.9h.8v.8h-.8zM429.6 570.7h.8v.8h-.8zM464.7 551.9h.8v.8h-.8zM423.5 570.9h.8v.8h-.8zM435.0 565.1h.8v.8h-.8zM434.7 565.8h.8v.8h-.8zM428.0 569.4h.8v.8h-.8zM442.9 564.5h.8v.8h-.8zM432.9 566.9h.8v.8h-.8zM438.3 567.2h.8v.8h-.8zM449.4 559.8h.8v.8h-.8zM431.0 571.5h.8v.8h-.8zM426.2 569.4h.8v.8h-.8zM445.6 567.4h.8v.8h-.8zM425.7 569.2h.8v.8h-.8zM433.1 571.9h.8v.8h-.8zM452.3 559.6h.8v.8h-.8zM439.0 565.6h.8v.8h-.8zM436.1 568.7h.8v.8h-.8zM438.3 565.3h.8v.8h-.8zM433.1 570.6h.8v.8h-.8zM463.7 553.0h.8v.8h-.8zM426.8 572.2h.8v.8h-.8zM434.4 567.1h.8v.8h-.8zM423.2 571.4h.8v.8h-.8zM426.5 573.6h.8v.8h-.8zM427.5 566.5h.8v.8h-.8zM427.3 569.6h.8v.8h-.8zM443.3 564.5h.8v.8h-.8zM429.4 570.8h.8v.8h-.8zM425.5 572.3h.8v.8h-.8zM426.4 569.1h.8v.8h-.8zM424.0 571.5h.8v.8h-.8zM445.3 565.2h.8v.8h-.8zM427.6 575.2h.8v.8h-.8zM459.8 552.2h.8v.8h-.8zM445.2 562.2h.8v.8h-.8zM425.5 575.4h.8v.8h-.8zM427.1 571.0h.8v.8h-.8zM447.8 564.5h.8v.8h-.8zM442.8 560.3h.8v.8h-.8zM430.1 571.8h.8v.8h-.8zM453.5 556.3h.8v.8h-.8zM436.5 564.4h.8v.8h-.8zM438.5 559.6h.8v.8h-.8zM427.2 576.9h.8v.8h-.8zM443.0 557.6h.8v.8h-.8zM429.1 568.4h.8v.8h-.8zM432.4 567.3h.8v.8h-.8zM462.0 556.2h.8v.8h-.8zM453.6 554.4h.8v.8h-.8z" fill="#6aa570" fill-opacity="0.2"/>
<path d="M447.3 562.1h.8v.8h-.8zM426.4 574.1h.8v.8h-.8zM451.7 549.4h.8v.8h-.8zM428.3 568.2h.8v.8h-.8zM438.8 558.6h.8v.8h-.8zM433.7 570.7h.8v.8h-.8zM432.1 568.3h.8v.8h-.8zM432.9 564.4h.8v.8h-.8zM451.4 560.2h.8v.8h-.8zM435.9 570.8h.8v.8h-.8zM426.7 574.9h.8v.8h-.8zM432.2 566.2h.8v.8h-.8zM428.6 574.6h.8v.8h-.8zM430.3 570.2h.8v.8h-.8zM451.4 559.1h.8v.8h-.8zM424.7 568.2h.8v.8h-.8zM441.5 558.9h.8v.8h-.8zM428.9 572.9h.8v.8h-.8zM432.1 573.4h.8v.8h-.8zM426.5 570.6h.8v.8h-.8zM438.5 563.0h.8v.8h-.8zM425.0 570.6h.8v.8h-.8zM425.3 571.4h.8v.8h-.8zM434.8 566.4h.8v.8h-.8zM459.8 545.9h.8v.8h-.8zM447.7 557.2h.8v.8h-.8zM445.0 558.7h.8v.8h-.8zM431.9 569.8h.8v.8h-.8zM440.7 567.5h.8v.8h-.8zM452.7 560.5h.8v.8h-.8zM434.9 569.7h.8v.8h-.8zM424.1 571.5h.8v.8h-.8zM438.0 563.4h.8v.8h-.8zM428.9 570.6h.8v.8h-.8zM437.8 564.1h.8v.8h-.8zM426.2 574.6h.8v.8h-.8zM426.6 572.4h.8v.8h-.8zM439.2 557.8h.8v.8h-.8zM436.4 566.2h.8v.8h-.8zM458.9 542.8h.8v.8h-.8zM437.9 564.7h.8v.8h-.8zM430.0 568.4h.8v.8h-.8zM432.9 567.5h.8v.8h-.8zM438.3 564.6h.8v.8h-.8zM425.3 569.4h.8v.8h-.8zM454.8 554.3h.8v.8h-.8zM443.9 564.3h.8v.8h-.8zM428.7 575.9h.8v.8h-.8zM452.0 553.8h.8v.8h-.8zM457.0 557.2h.8v.8h-.8zM432.4 566.4h.8v.8h-.8zM436.4 565.1h.8v.8h-.8zM442.4 559.2h.8v.8h-.8zM431.5 565.8h.8v.8h-.8zM462.6 550.9h.8v.8h-.8zM449.4 564.7h.8v.8h-.8zM444.6 557.8h.8v.8h-.8zM428.6 570.9h.8v.8h-.8zM442.8 564.0h.8v.8h-.8zM426.7 571.6h.8v.8h-.8zM436.1 565.4h.8v.8h-.8zM449.8 561.1h.8v.8h-.8zM445.7 561.6h.8v.8h-.8zM425.4 571.6h.8v.8h-.8zM451.3 563.7h.8v.8h-.8zM447.3 564.3h.8v.8h-.8zM438.1 566.9h.8v.8h-.8zM427.1 569.0h.8v.8h-.8zM437.6 565.5h.8v.8h-.8zM445.3 561.3h.8v.8h-.8zM429.2 567.7h.8v.8h-.8zM426.3 573.4h.8v.8h-.8zM436.3 562.7h.8v.8h-.8zM438.4 564.9h.8v.8h-.8zM427.0 573.4h.8v.8h-.8z" fill="#6aa570" fill-opacity="0.2"/>
<path d="M443.6 561.3h.8v.8h-.8zM460.4 553.2h.8v.8h-.8zM455.8 556.2h.8v.8h-.8zM464.6 554.2h.8v.8h-.8zM459.9 564.3h.8v.8h-.8zM426.1 571.1h.8v.8h-.8zM434.8 567.3h.8v.8h-.8zM441.6 565.1h.8v.8h-.8zM444.0 563.9h.8v.8h-.8zM431.9 572.4h.8v.8h-.8zM430.0 566.9h.8v.8h-.8zM426.0 576.5h.8v.8h-.8zM424.5 573.0h.8v.8h-.8zM429.2 569.3h.8v.8h-.8zM438.8 567.6h.8v.8h-.8zM437.4 564.4h.8v.8h-.8zM433.9 568.4h.8v.8h-.8zM433.5 570.0h.8v.8h-.8zM440.7 562.9h.8v.8h-.8zM429.6 567.8h.8v.8h-.8zM427.9 571.4h.8v.8h-.8zM427.9 568.5h.8v.8h-.8zM454.0 557.0h.8v.8h-.8zM442.1 568.9h.8v.8h-.8zM453.3 558.3h.8v.8h-.8zM435.6 562.2h.8v.8h-.8zM439.4 568.3h.8v.8h-.8zM426.0 571.4h.8v.8h-.8zM434.2 568.2h.8v.8h-.8zM437.8 565.8h.8v.8h-.8zM438.1 557.1h.8v.8h-.8zM445.0 560.4h.8v.8h-.8zM431.3 571.0h.8v.8h-.8zM457.9 558.9h.8v.8h-.8zM453.5 546.6h.8v.8h-.8zM428.8 573.2h.8v.8h-.8zM432.0 573.0h.8v.8h-.8zM425.7 573.6h.8v.8h-.8zM438.3 568.8h.8v.8h-.8zM424.8 571.0h.8v.8h-.8zM458.8 551.7h.8v.8h-.8zM424.3 572.5h.8v.8h-.8zM425.5 573.5h.8v.8h-.8zM441.3 567.6h.8v.8h-.8zM427.2 573.6h.8v.8h-.8zM446.6 545.9h.8v.8h-.8zM443.9 562.7h.8v.8h-.8zM457.8 559.4h.8v.8h-.8zM439.6 566.6h.8v.8h-.8zM437.6 560.2h.8v.8h-.8zM432.0 560.6h.8v.8h-.8zM451.3 563.2h.8v.8h-.8zM431.0 569.5h.8v.8h-.8zM431.4 572.5h.8v.8h-.8zM445.9 558.9h.8v.8h-.8zM442.7 565.1h.8v.8h-.8zM441.6 560.5h.8v.8h-.8zM441.9 559.1h.8v.8h-.8zM444.9 560.7h.8v.8h-.8zM447.4 563.6h.8v.8h-.8zM456.8 553.6h.8v.8h-.8zM427.8 569.9h.8v.8h-.8zM447.4 566.0h.8v.8h-.8zM451.0 564.0h.8v.8h-.8zM436.3 566.0h.8v.8h-.8zM425.2 572.0h.8v.8h-.8zM458.3 561.3h.8v.8h-.8zM449.0 561.9h.8v.8h-.8zM433.6 567.5h.8v.8h-.8zM428.2 572.5h.8v.8h-.8zM456.6 546.8h.8v.8h-.8zM449.2 553.7h.8v.8h-.8zM430.5 570.6h.8v.8h-.8zM426.1 571.7h.8v.8h-.8zM462.0 553.4h.8v.8h-.8z" fill="#6aa570" fill-opacity="0.2"/>
<path d="M446.7 563.6h.8v.8h-.8zM434.9 567.1h.8v.8h-.8zM426.3 572.5h.8v.8h-.8zM424.8 574.5h.8v.8h-.8zM424.7 570.3h.8v.8h-.8zM444.4 562.9h.8v.8h-.8zM434.4 562.5h.8v.8h-.8zM431.9 569.7h.8v.8h-.8zM462.5 559.7h.8v.8h-.8zM446.9 566.9h.8v.8h-.8zM446.8 559.5h.8v.8h-.8zM426.7 571.5h.8v.8h-.8zM430.2 570.0h.8v.8h-.8zM434.3 570.5h.8v.8h-.8zM442.5 563.1h.8v.8h-.8zM431.7 568.7h.8v.8h-.8zM460.7 553.3h.8v.8h-.8zM462.4 561.3h.8v.8h-.8zM433.0 566.5h.8v.8h-.8zM437.4 562.1h.8v.8h-.8zM426.4 573.6h.8v.8h-.8zM424.1 571.9h.8v.8h-.8zM441.3 568.5h.8v.8h-.8zM448.6 548.1h.8v.8h-.8zM437.5 570.0h.8v.8h-.8zM451.3 561.2h.8v.8h-.8zM432.5 567.5h.8v.8h-.8zM428.0 571.4h.8v.8h-.8zM440.8 564.6h.8v.8h-.8zM426.9 571.6h.8v.8h-.8zM442.8 558.3h.8v.8h-.8zM451.2 557.4h.8v.8h-.8zM430.0 568.9h.8v.8h-.8zM455.7 557.9h.8v.8h-.8zM437.7 567.0h.8v.8h-.8zM461.8 547.2h.8v.8h-.8zM437.3 563.4h.8v.8h-.8zM429.2 569.4h.8v.8h-.8zM441.5 568.0h.8v.8h-.8zM431.0 571.6h.8v.8h-.8zM436.6 566.9h.8v.8h-.8zM451.4 556.8h.8v.8h-.8zM434.3 568.3h.8v.8h-.8zM437.1 568.6h.8v.8h-.8zM444.9 562.8h.8v.8h-.8zM443.4 564.7h.8v.8h-.8zM424.3 573.1h.8v.8h-.8zM441.7 560.6h.8v.8h-.8zM446.2 562.9h.8v.8h-.8zM444.8 569.3h.8v.8h-.8zM442.2 557.8h.8v.8h-.8zM431.9 569.5h.8v.8h-.8zM441.2 568.0h.8v.8h-.8zM431.7 563.5h.8v.8h-.8zM448.8 563.4h.8v.8h-.8zM430.6 571.0h.8v.8h-.8zM436.6 566.2h.8v.8h-.8zM454.6 556.0h.8v.8h-.8zM436.2 566.6h.8v.8h-.8zM461.7 559.1h.8v.8h-.8zM453.3 559.2h.8v.8h-.8zM431.9 568.2h.8v.8h-.8zM424.8 570.7h.8v.8h-.8zM443.6 571.6h.8v.8h-.8zM451.2 562.7h.8v.8h-.8zM433.6 575.6h.8v.8h-.8zM444.4 563.8h.8v.8h-.8zM463.8 554.5h.8v.8h-.8zM432.8 568.4h.8v.8h-.8zM455.5 552.6h.8v.8h-.8zM459.8 551.0h.8v.8h-.8zM427.1 572.0h.8v.8h-.8zM434.4 572.0h.8v.8h-.8zM438.6 566.4h.8v.8h-.8zM449.5 557.9h.8v.8h-.8z" fill="#6aa570" fill-opacity="0.2"/>
<path d="M424.1 571.2h.9v.9h-.9zM445.7 564.6h.9v.9h-.9zM427.9 570.9h.9v.9h-.9zM426.1 571.0h.9v.9h-.9zM436.9 570.5h.9v.9h-.9zM424.4 573.0h.9v.9h-.9zM426.8 571.5h.9v.9h-.9zM428.6 569.9h.9v.9h-.9zM434.1 567.1h.9v.9h-.9zM446.9 565.5h.9v.9h-.9zM433.5 569.7h.9v.9h-.9zM422.0 573.7h.9v.9h-.9zM439.8 567.3h.9v.9h-.9zM428.5 570.9h.9v.9h-.9zM428.4 569.0h.9v.9h-.9zM432.2 567.7h.9v.9h-.9zM435.6 568.1h.9v.9h-.9zM438.9 566.6h.9v.9h-.9zM426.2 572.0h.9v.9h-.9zM427.2 572.9h.9v.9h-.9zM428.2 573.0h.9v.9h-.9zM425.0 572.4h.9v.9h-.9zM425.1 575.5h.9v.9h-.9zM425.2 571.1h.9v.9h-.9zM424.3 573.4h.9v.9h-.9zM421.3 573.3h.9v.9h-.9zM425.3 574.6h.9v.9h-.9zM433.3 570.3h.9v.9h-.9zM427.1 571.6h.9v.9h-.9zM425.9 573.5h.9v.9h-.9zM426.6 571.7h.9v.9h-.9zM430.7 567.4h.9v.9h-.9zM422.5 573.9h.9v.9h-.9zM430.2 572.8h.9v.9h-.9zM424.8 570.7h.9v.9h-.9zM424.4 574.2h.9v.9h-.9zM422.3 575.0h.9v.9h-.9zM428.5 570.5h.9v.9h-.9zM426.5 571.8h.9v.9h-.9zM421.6 572.1h.9v.9h-.9zM433.4 572.0h.9v.9h-.9zM423.4 574.9h.9v.9h-.9zM443.2 562.9h.9v.9h-.9zM422.3 575.0h.9v.9h-.9zM431.1 567.5h.9v.9h-.9zM423.7 573.8h.9v.9h-.9zM425.9 571.2h.9v.9h-.9zM431.2 571.7h.9v.9h-.9zM422.2 573.0h.9v.9h-.9zM427.9 571.2h.9v.9h-.9zM425.5 573.5h.9v.9h-.9zM421.7 574.0h.9v.9h-.9zM425.0 574.1h.9v.9h-.9z" fill="#2f7a37" fill-opacity="0.3"/>
<path d="M426.9 573.0h.9v.9h-.9zM422.8 575.8h.9v.9h-.9zM424.0 572.4h.9v.9h-.9zM425.2 571.4h.9v.9h-.9zM422.9 574.4h.9v.9h-.9zM428.8 570.5h.9v.9h-.9zM424.4 570.7h.9v.9h-.9zM432.2 568.7h.9v.9h-.9zM426.8 573.2h.9v.9h-.9zM427.2 570.0h.9v.9h-.9zM427.9 574.0h.9v.9h-.9zM421.8 572.6h.9v.9h-.9zM427.1 570.4h.9v.9h-.9zM442.2 564.8h.9v.9h-.9zM440.1 563.0h.9v.9h-.9zM430.8 566.5h.9v.9h-.9zM431.2 571.0h.9v.9h-.9zM423.7 571.4h.9v.9h-.9zM423.3 571.9h.9v.9h-.9zM422.0 573.9h.9v.9h-.9zM429.0 572.4h.9v.9h-.9zM436.0 570.2h.9v.9h-.9zM423.2 569.8h.9v.9h-.9zM426.9 574.2h.9v.9h-.9zM432.0 566.8h.9v.9h-.9zM429.1 569.1h.9v.9h-.9zM423.0 572.0h.9v.9h-.9zM429.3 569.7h.9v.9h-.9zM424.0 570.8h.9v.9h-.9zM425.7 572.3h.9v.9h-.9zM421.4 573.8h.9v.9h-.9zM423.9 572.1h.9v.9h-.9zM423.0 570.9h.9v.9h-.9zM432.0 575.0h.9v.9h-.9zM435.7 567.1h.9v.9h-.9zM426.4 572.7h.9v.9h-.9zM427.2 568.4h.9v.9h-.9zM425.4 571.5h.9v.9h-.9zM423.9 575.1h.9v.9h-.9zM423.4 573.0h.9v.9h-.9zM424.8 574.7h.9v.9h-.9zM426.5 573.8h.9v.9h-.9zM428.3 570.7h.9v.9h-.9zM427.2 572.8h.9v.9h-.9zM424.6 573.7h.9v.9h-.9zM430.8 569.5h.9v.9h-.9zM431.0 569.5h.9v.9h-.9zM431.2 569.0h.9v.9h-.9zM440.0 564.5h.9v.9h-.9zM427.2 573.4h.9v.9h-.9zM430.5 572.5h.9v.9h-.9zM422.2 573.4h.9v.9h-.9zM445.9 562.1h.9v.9h-.9z" fill="#2f7a37" fill-opacity="0.3"/>
<path d="M435.4 569.6h.9v.9h-.9zM427.0 571.8h.9v.9h-.9zM424.9 574.6h.9v.9h-.9zM441.9 564.4h.9v.9h-.9zM422.7 571.5h.9v.9h-.9zM425.1 574.0h.9v.9h-.9zM422.5 574.6h.9v.9h-.9zM428.1 569.1h.9v.9h-.9zM423.6 573.6h.9v.9h-.9zM425.1 571.9h.9v.9h-.9zM424.8 574.5h.9v.9h-.9zM426.4 573.7h.9v.9h-.9zM426.9 572.1h.9v.9h-.9zM426.1 572.6h.9v.9h-.9zM423.7 572.8h.9v.9h-.9zM424.7 570.6h.9v.9h-.9zM428.2 569.2h.9v.9h-.9zM422.9 575.3h.9v.9h-.9zM434.1 566.8h.9v.9h-.9zM423.8 575.1h.9v.9h-.9zM421.8 573.1h.9v.9h-.9zM426.9 571.8h.9v.9h-.9zM443.8 570.5h.9v.9h-.9zM443.8 565.0h.9v.9h-.9zM422.6 574.9h.9v.9h-.9zM423.6 571.7h.9v.9h-.9zM428.5 575.3h.9v.9h-.9zM434.7 569.0h.9v.9h-.9zM425.7 571.3h.9v.9h-.9zM422.1 574.0h.9v.9h-.9zM424.5 575.3h.9v.9h-.9zM422.1 573.0h.9v.9h-.9zM427.7 574.0h.9v.9h-.9zM426.4 572.6h.9v.9h-.9zM423.7 573.2h.9v.9h-.9zM421.7 574.3h.9v.9h-.9zM424.1 573.5h.9v.9h-.9zM423.8 574.9h.9v.9h-.9zM429.7 570.1h.9v.9h-.9zM426.6 573.5h.9v.9h-.9zM426.0 574.7h.9v.9h-.9zM425.8 574.2h.9v.9h-.9zM423.8 573.2h.9v.9h-.9zM423.1 574.2h.9v.9h-.9zM430.1 570.7h.9v.9h-.9zM422.2 571.8h.9v.9h-.9zM426.8 572.0h.9v.9h-.9zM443.1 565.5h.9v.9h-.9zM422.1 573.6h.9v.9h-.9zM429.2 571.8h.9v.9h-.9zM441.1 564.1h.9v.9h-.9zM421.8 572.9h.9v.9h-.9zM422.8 571.8h.9v.9h-.9z" fill="#2f7a37" fill-opacity="0.3"/>
<path d="M421.4 573.7h.9v.9h-.9zM430.5 569.1h.9v.9h-.9zM423.1 571.6h.9v.9h-.9zM426.7 574.1h.9v.9h-.9zM425.9 573.7h.9v.9h-.9zM425.1 572.1h.9v.9h-.9zM423.2 574.2h.9v.9h-.9zM429.0 572.1h.9v.9h-.9zM429.6 571.7h.9v.9h-.9zM427.0 572.3h.9v.9h-.9zM426.8 572.9h.9v.9h-.9zM426.7 571.4h.9v.9h-.9zM430.5 570.8h.9v.9h-.9zM433.2 568.5h.9v.9h-.9zM435.4 565.9h.9v.9h-.9zM429.3 572.8h.9v.9h-.9zM427.4 573.0h.9v.9h-.9zM436.0 569.3h.9v.9h-.9zM423.7 574.4h.9v.9h-.9zM427.4 574.5h.9v.9h-.9zM430.3 569.8h.9v.9h-.9zM422.7 571.2h.9v.9h-.9zM423.4 574.4h.9v.9h-.9zM437.4 565.9h.9v.9h-.9zM427.5 569.9h.9v.9h-.9zM430.8 570.5h.9v.9h-.9zM428.2 571.6h.9v.9h-.9zM433.2 568.5h.9v.9h-.9zM423.6 573.4h.9v.9h-.9zM422.9 576.5h.9v.9h-.9zM424.2 575.0h.9v.9h-.9zM428.0 574.0h.9v.9h-.9zM424.8 572.8h.9v.9h-.9zM427.3 571.0h.9v.9h-.9zM422.8 574.8h.9v.9h-.9zM429.9 572.7h.9v.9h-.9zM421.8 573.8h.9v.9h-.9zM428.5 569.2h.9v.9h-.9zM422.4 572.0h.9v.9h-.9zM424.9 575.4h.9v.9h-.9zM423.5 571.0h.9v.9h-.9zM423.3 573.0h.9v.9h-.9zM425.6 573.5h.9v.9h-.9zM438.3 567.2h.9v.9h-.9zM426.3 572.3h.9v.9h-.9zM421.4 573.0h.9v.9h-.9zM424.8 572.0h.9v.9h-.9zM427.4 570.7h.9v.9h-.9zM429.4 570.3h.9v.9h-.9zM435.7 570.2h.9v.9h-.9zM425.3 572.7h.9v.9h-.9zM424.1 568.6h.9v.9h-.9z" fill="#2f7a37" fill-opacity="0.3"/>
<path d="M430.8 568.4h.9v.9h-.9zM445.0 565.8h.9v.9h-.9zM424.1 574.5h.9v.9h-.9zM423.1 574.8h.9v.9h-.9zM424.5 571.4h.9v.9h-.9zM423.6 572.2h.9v.9h-.9zM422.7 573.1h.9v.9h-.9zM425.9 573.7h.9v.9h-.9zM427.9 575.7h.9v.9h-.9zM424.6 575.3h.9v.9h-.9zM432.9 569.6h.9v.9h-.9zM425.0 572.3h.9v.9h-.9zM422.7 573.6h.9v.9h-.9zM426.0 572.7h.9v.9h-.9zM433.1 569.3h.9v.9h-.9zM426.8 572.3h.9v.9h-.9zM439.7 562.8h.9v.9h-.9zM435.3 569.6h.9v.9h-.9zM425.8 572.0h.9v.9h-.9zM421.8 574.0h.9v.9h-.9zM428.7 573.2h.9v.9h-.9zM427.4 570.2h.9v.9h-.9zM421.9 574.3h.9v.9h-.9zM435.3 565.4h.9v.9h-.9zM423.2 573.1h.9v.9h-.9zM421.7 573.2h.9v.9h-.9zM421.8 572.6h.9v.9h-.9zM423.8 574.1h.9v.9h-.9zM434.5 570.3h.9v.9h-.9zM432.5 570.6h.9v.9h-.9zM441.9 564.2h.9v.9h-.9zM422.6 574.0h.9v.9h-.9zM445.7 562.8h.9v.9h-.9zM431.9 570.1h.9v.9h-.9zM434.3 569.5h.9v.9h-.9zM423.1 574.6h.9v.9h-.9zM442.2 565.9h.9v.9h-.9zM429.3 574.4h.9v.9h-.9zM427.2 571.7h.9v.9h-.9zM424.7 572.9h.9v.9h-.9zM436.6 568.3h.9v.9h-.9zM421.4 573.3h.9v.9h-.9zM427.4 571.6h.9v.9h-.9zM443.8 561.9h.9v.9h-.9zM423.4 572.5h.9v.9h-.9zM421.1 572.9h.9v.9h-.9zM423.8 574.7h.9v.9h-.9zM422.0 573.1h.9v.9h-.9zM422.7 571.6h.9v.9h-.9zM432.4 570.5h.9v.9h-.9zM425.2 572.7h.9v.9h-.9zM423.5 577.6h.9v.9h-.9z" fill="#2f7a37" fill-opacity="0.3"/>
<path d="M421.5 572.7h.9v.9h-.9zM439.2 562.2h.9v.9h-.9zM422.4 574.5h.9v.9h-.9zM432.8 571.2h.9v.9h-.9zM424.2 574.3h.9v.9h-.9zM428.7 570.8h.9v.9h-.9zM436.5 565.7h.9v.9h-.9zM441.1 566.7h.9v.9h-.9zM434.5 566.8h.9v.9h-.9zM428.2 573.8h.9v.9h-.9zM424.4 574.1h.9v.9h-.9zM435.6 567.9h.9v.9h-.9zM421.8 574.2h.9v.9h-.9zM422.7 575.3h.9v.9h-.9zM422.8 571.7h.9v.9h-.9zM421.6 574.1h.9v.9h-.9zM425.6 572.4h.9v.9h-.9zM433.6 572.0h.9v.9h-.9zM428.1 569.7h.9v.9h-.9zM423.6 575.3h.9v.9h-.9zM422.5 572.8h.9v.9h-.9zM427.1 573.2h.9v.9h-.9zM430.3 569.2h.9v.9h-.9zM422.6 573.2h.9v.9h-.9zM429.2 569.0h.9v.9h-.9zM427.4 571.6h.9v.9h-.9zM428.8 570.8h.9v.9h-.9zM424.8 570.5h.9v.9h-.9zM428.3 568.9h.9v.9h-.9zM422.4 571.0h.9v.9h-.9zM429.3 569.7h.9v.9h-.9zM422.4 575.7h.9v.9h-.9zM425.6 576.5h.9v.9h-.9zM421.2 572.4h.9v.9h-.9zM424.4 572.7h.9v.9h-.9zM422.6 574.8h.9v.9h-.9zM432.4 573.7h.9v.9h-.9zM432.1 571.1h.9v.9h-.9zM424.7 570.4h.9v.9h-.9zM429.9 571.6h.9v.9h-.9zM437.9 567.0h.9v.9h-.9zM433.5 569.0h.9v.9h-.9zM423.1 576.1h.9v.9h-.9zM423.1 574.6h.9v.9h-.9zM423.7 574.8h.9v.9h-.9zM434.1 570.2h.9v.9h-.9zM424.1 573.2h.9v.9h-.9zM426.0 569.3h.9v.9h-.9zM426.1 572.6h.9v.9h-.9zM423.5 576.3h.9v.9h-.9zM422.5 575.8h.9v.9h-.9zM423.6 575.2h.9v.9h-.9z" fill="#2f7a37" fill-opacity="0.3"/>
<path d="M422.6 575.0h.9v.9h-.9zM428.5 567.7h.9v.9h-.9zM440.5 564.0h.9v.9h-.9zM426.7 575.7h.9v.9h-.9zM441.7 565.6h.9v.9h-.9zM425.0 572.5h.9v.9h-.9zM423.4 573.6h.9v.9h-.9zM424.5 572.6h.9v.9h-.9zM440.6 565.9h.9v.9h-.9zM434.9 567.4h.9v.9h-.9zM432.3 569.8h.9v.9h-.9zM427.0 571.1h.9v.9h-.9zM422.4 572.8h.9v.9h-.9zM427.5 572.2h.9v.9h-.9zM439.3 571.9h.9v.9h-.9zM426.7 574.7h.9v.9h-.9zM425.0 572.5h.9v.9h-.9zM426.2 573.0h.9v.9h-.9zM427.7 575.9h.9v.9h-.9zM424.6 574.4h.9v.9h-.9zM422.7 573.1h.9v.9h-.9zM429.5 572.5h.9v.9h-.9zM422.1 575.1h.9v.9h-.9zM424.2 573.4h.9v.9h-.9zM427.7 572.5h.9v.9h-.9zM423.7 573.7h.9v.9h-.9zM424.6 574.9h.9v.9h-.9zM437.7 569.4h.9v.9h-.9zM425.4 570.3h.9v.9h-.9zM438.4 564.7h.9v.9h-.9zM423.9 572.7h.9v.9h-.9zM421.7 573.6h.9v.9h-.9zM424.8 571.9h.9v.9h-.9zM425.8 572.2h.9v.9h-.9zM438.5 570.9h.9v.9h-.9zM423.3 575.7h.9v.9h-.9zM422.6 575.7h.9v.9h-.9zM425.7 570.8h.9v.9h-.9zM435.4 567.8h.9v.9h-.9zM427.9 571.0h.9v.9h-.9zM424.3 572.1h.9v.9h-.9zM422.7 570.6h.9v.9h-.9zM432.3 568.8h.9v.9h-.9zM432.9 570.7h.9v.9h-.9zM422.0 572.3h.9v.9h-.9zM426.0 571.3h.9v.9h-.9zM424.3 569.6h.9v.9h-.9zM429.6 572.9h.9v.9h-.9zM436.0 564.3h.9v.9h-.9zM423.5 571.1h.9v.9h-.9zM423.2 575.6h.9v.9h-.9zM443.2 565.9h.9v.9h-.9z" fill="#2f7a37" fill-opacity="0.3"/>
<path d="M425.4 571.6h.9v.9h-.9zM431.9 568.5h.9v.9h-.9zM434.8 570.0h.9v.9h-.9zM423.1 575.0h.9v.9h-.9zM427.2 572.7h.9v.9h-.9zM425.1 571.4h.9v.9h-.9zM423.0 574.7h.9v.9h-.9zM431.1 569.3h.9v.9h-.9zM422.4 573.7h.9v.9h-.9zM424.5 575.0h.9v.9h-.9zM422.6 576.0h.9v.9h-.9zM423.4 574.6h.9v.9h-.9zM450.9 557.1h.9v.9h-.9zM423.8 575.7h.9v.9h-.9zM424.0 572.5h.9v.9h-.9zM422.9 575.4h.9v.9h-.9zM429.0 570.1h.9v.9h-.9zM424.0 572.5h.9v.9h-.9zM424.0 573.6h.9v.9h-.9zM423.0 572.8h.9v.9h-.9zM421.1 572.0h.9v.9h-.9zM423.8 575.9h.9v.9h-.9zM422.6 574.9h.9v.9h-.9zM428.3 572.5h.9v.9h-.9zM431.2 571.2h.9v.9h-.9zM436.9 568.9h.9v.9h-.9zM421.7 573.2h.9v.9h-.9zM439.3 558.1h.9v.9h-.9zM421.3 573.5h.9v.9h-.9zM442.0 567.0h.9v.9h-.9zM433.2 568.9h.9v.9h-.9zM436.1 568.1h.9v.9h-.9zM436.7 570.4h.9v.9h-.9zM425.8 574.7h.9v.9h-.9zM450.8 553.9h.9v.9h-.9zM436.3 570.0h.9v.9h-.9zM423.1 574.9h.9v.9h-.9zM430.3 569.1h.9v.9h-.9zM426.6 572.6h.9v.9h-.9zM440.9 561.6h.9v.9h-.9zM421.8 574.7h.9v.9h-.9zM423.5 573.2h.9v.9h-.9zM430.9 570.7h.9v.9h-.9zM422.5 574.4h.9v.9h-.9zM430.9 572.2h.9v.9h-.9zM429.4 573.2h.9v.9h-.9zM434.5 570.3h.9v.9h-.9zM429.7 567.6h.9v.9h-.9zM422.3 574.1h.9v.9h-.9zM423.4 574.2h.9v.9h-.9zM423.2 571.7h.9v.9h-.9zM432.2 571.4h.9v.9h-.9z" fill="#2f7a37" fill-opacity="0.3"/>
<ellipse cx="427.1" cy="574.3" rx="6.0" ry="2.8" fill="#24632b" fill-opacity="0.7" filter="url(#bl)" transform="rotate(-18 427.1 574.3)"/>
<path d="M463.7 543.5h.9v.9h-.9zM465.8 538.6h.9v.9h-.9zM463.1 544.9h.9v.9h-.9zM454.0 553.9h.9v.9h-.9zM456.0 535.2h.9v.9h-.9zM458.5 543.2h.9v.9h-.9zM461.1 542.1h.9v.9h-.9zM446.5 548.3h.9v.9h-.9zM450.8 554.2h.9v.9h-.9zM461.1 536.3h.9v.9h-.9zM458.3 543.1h.9v.9h-.9zM463.3 535.6h.9v.9h-.9zM459.8 543.3h.9v.9h-.9zM454.1 550.6h.9v.9h-.9zM462.6 540.9h.9v.9h-.9zM457.2 551.9h.9v.9h-.9zM463.3 545.7h.9v.9h-.9zM456.4 539.7h.9v.9h-.9zM458.3 542.3h.9v.9h-.9zM464.5 540.2h.9v.9h-.9zM463.1 546.8h.9v.9h-.9zM463.7 541.7h.9v.9h-.9zM466.2 539.2h.9v.9h-.9zM464.3 541.4h.9v.9h-.9zM463.7 540.5h.9v.9h-.9zM461.7 541.8h.9v.9h-.9zM461.2 542.8h.9v.9h-.9zM463.1 540.9h.9v.9h-.9zM459.7 539.1h.9v.9h-.9zM463.9 542.1h.9v.9h-.9zM454.9 549.7h.9v.9h-.9zM460.4 537.1h.9v.9h-.9zM461.5 546.0h.9v.9h-.9zM460.9 545.7h.9v.9h-.9zM467.0 541.4h.9v.9h-.9zM463.2 542.6h.9v.9h-.9zM464.8 540.6h.9v.9h-.9zM459.5 538.7h.9v.9h-.9zM460.7 542.4h.9v.9h-.9zM465.8 542.6h.9v.9h-.9zM465.5 540.5h.9v.9h-.9z" fill="#3a8a43" fill-opacity="0.3"/>
<path d="M460.9 543.0h.9v.9h-.9zM462.5 539.6h.9v.9h-.9zM466.0 541.5h.9v.9h-.9zM458.2 539.0h.9v.9h-.9zM463.7 541.6h.9v.9h-.9zM465.6 540.1h.9v.9h-.9zM462.2 538.9h.9v.9h-.9zM463.4 542.2h.9v.9h-.9zM465.9 538.8h.9v.9h-.9zM455.1 542.7h.9v.9h-.9zM461.9 542.1h.9v.9h-.9zM460.8 546.5h.9v.9h-.9zM465.0 545.4h.9v.9h-.9zM450.5 542.5h.9v.9h-.9zM465.4 539.7h.9v.9h-.9zM461.8 548.8h.9v.9h-.9zM464.3 542.1h.9v.9h-.9zM458.0 536.9h.9v.9h-.9zM462.7 538.3h.9v.9h-.9zM454.7 547.0h.9v.9h-.9zM461.3 537.1h.9v.9h-.9zM462.8 551.1h.9v.9h-.9zM466.0 544.1h.9v.9h-.9zM466.1 547.9h.9v.9h-.9zM445.8 547.5h.9v.9h-.9zM457.4 545.1h.9v.9h-.9zM443.6 543.6h.9v.9h-.9zM465.8 547.9h.9v.9h-.9zM457.9 541.5h.9v.9h-.9zM451.8 544.7h.9v.9h-.9zM460.8 545.6h.9v.9h-.9zM460.2 541.6h.9v.9h-.9zM452.9 544.8h.9v.9h-.9zM463.6 537.4h.9v.9h-.9zM446.1 543.9h.9v.9h-.9zM462.7 540.0h.9v.9h-.9zM449.3 546.1h.9v.9h-.9zM460.6 541.0h.9v.9h-.9zM466.1 540.2h.9v.9h-.9zM460.4 542.9h.9v.9h-.9zM466.6 539.9h.9v.9h-.9z" fill="#3a8a43" fill-opacity="0.3"/>
<path d="M468.6 543.8h.9v.9h-.9zM453.4 539.4h.9v.9h-.9zM459.4 540.9h.9v.9h-.9zM448.0 544.9h.9v.9h-.9zM465.0 540.2h.9v.9h-.9zM459.7 542.8h.9v.9h-.9zM453.8 547.5h.9v.9h-.9zM456.8 545.2h.9v.9h-.9zM451.8 544.7h.9v.9h-.9zM457.9 535.9h.9v.9h-.9zM465.2 539.6h.9v.9h-.9zM454.7 546.9h.9v.9h-.9zM463.4 543.4h.9v.9h-.9zM464.0 537.9h.9v.9h-.9zM467.4 540.9h.9v.9h-.9zM446.3 545.1h.9v.9h-.9zM460.1 543.3h.9v.9h-.9zM457.8 545.4h.9v.9h-.9zM461.4 543.7h.9v.9h-.9zM463.9 544.0h.9v.9h-.9zM463.8 539.0h.9v.9h-.9zM457.7 541.2h.9v.9h-.9zM466.6 539.5h.9v.9h-.9zM455.2 550.4h.9v.9h-.9zM455.8 545.5h.9v.9h-.9zM457.9 548.2h.9v.9h-.9zM459.2 540.8h.9v.9h-.9zM458.3 541.5h.9v.9h-.9zM466.1 538.9h.9v.9h-.9zM463.6 536.1h.9v.9h-.9zM463.6 538.0h.9v.9h-.9zM461.2 544.0h.9v.9h-.9zM464.6 538.6h.9v.9h-.9zM467.5 541.5h.9v.9h-.9zM458.5 547.6h.9v.9h-.9zM454.9 544.7h.9v.9h-.9zM451.8 547.4h.9v.9h-.9zM456.0 547.1h.9v.9h-.9zM461.5 548.6h.9v.9h-.9zM465.6 538.2h.9v.9h-.9zM464.5 538.5h.9v.9h-.9z" fill="#3a8a43" fill-opacity="0.3"/>
<path d="M460.8 538.2h.9v.9h-.9zM465.2 538.8h.9v.9h-.9zM455.1 547.1h.9v.9h-.9zM463.6 543.6h.9v.9h-.9zM459.2 550.8h.9v.9h-.9zM464.1 539.5h.9v.9h-.9zM454.4 545.5h.9v.9h-.9zM459.7 539.9h.9v.9h-.9zM466.6 541.0h.9v.9h-.9zM465.5 541.1h.9v.9h-.9zM456.3 550.5h.9v.9h-.9zM466.2 542.5h.9v.9h-.9zM455.4 544.6h.9v.9h-.9zM464.8 541.4h.9v.9h-.9zM465.0 540.8h.9v.9h-.9zM461.9 538.1h.9v.9h-.9zM460.3 546.6h.9v.9h-.9zM462.7 540.8h.9v.9h-.9zM459.0 548.3h.9v.9h-.9zM462.6 540.3h.9v.9h-.9zM462.7 538.5h.9v.9h-.9zM449.5 545.2h.9v.9h-.9zM465.7 552.0h.9v.9h-.9zM454.1 544.4h.9v.9h-.9zM459.7 545.3h.9v.9h-.9zM463.6 541.9h.9v.9h-.9zM453.2 549.3h.9v.9h-.9zM447.0 547.8h.9v.9h-.9zM454.5 554.1h.9v.9h-.9zM460.9 542.9h.9v.9h-.9zM460.4 542.7h.9v.9h-.9zM453.2 553.8h.9v.9h-.9zM465.2 541.5h.9v.9h-.9zM466.1 540.9h.9v.9h-.9zM462.9 544.4h.9v.9h-.9zM462.5 538.3h.9v.9h-.9zM463.5 543.7h.9v.9h-.9zM466.3 543.4h.9v.9h-.9zM462.1 540.6h.9v.9h-.9zM466.3 541.5h.9v.9h-.9zM460.5 539.2h.9v.9h-.9z" fill="#3a8a43" fill-opacity="0.3"/>
<path d="M461.4 542.0h.9v.9h-.9zM462.0 541.2h.9v.9h-.9zM455.5 550.7h.9v.9h-.9zM465.3 541.6h.9v.9h-.9zM448.8 549.9h.9v.9h-.9zM445.3 545.5h.9v.9h-.9zM463.3 544.5h.9v.9h-.9zM463.8 536.0h.9v.9h-.9zM466.6 540.3h.9v.9h-.9zM463.5 539.2h.9v.9h-.9zM456.6 540.6h.9v.9h-.9zM465.7 539.3h.9v.9h-.9zM452.9 550.2h.9v.9h-.9zM464.7 543.5h.9v.9h-.9zM460.8 541.6h.9v.9h-.9zM447.6 547.9h.9v.9h-.9zM452.6 552.4h.9v.9h-.9zM456.7 537.2h.9v.9h-.9zM457.5 540.2h.9v.9h-.9zM465.1 541.0h.9v.9h-.9zM458.2 543.2h.9v.9h-.9zM450.9 547.4h.9v.9h-.9zM464.3 542.7h.9v.9h-.9zM453.0 550.4h.9v.9h-.9zM466.7 541.1h.9v.9h-.9zM453.0 552.3h.9v.9h-.9zM464.9 544.8h.9v.9h-.9zM460.8 537.9h.9v.9h-.9zM454.8 547.6h.9v.9h-.9zM460.2 544.8h.9v.9h-.9zM465.9 541.4h.9v.9h-.9zM464.5 536.6h.9v.9h-.9zM465.2 538.0h.9v.9h-.9zM466.0 539.4h.9v.9h-.9zM460.8 546.2h.9v.9h-.9zM460.3 542.6h.9v.9h-.9zM467.7 544.3h.9v.9h-.9zM464.6 540.7h.9v.9h-.9zM450.9 552.2h.9v.9h-.9zM456.7 552.6h.9v.9h-.9z" fill="#3a8a43" fill-opacity="0.3"/>
<path d="M460.7 549.9h.9v.9h-.9zM456.5 546.4h.9v.9h-.9zM461.4 540.9h.9v.9h-.9zM455.1 547.9h.9v.9h-.9zM460.4 544.3h.9v.9h-.9zM466.4 539.4h.9v.9h-.9zM452.7 545.6h.9v.9h-.9zM469.0 546.1h.9v.9h-.9zM465.2 539.3h.9v.9h-.9zM458.0 539.8h.9v.9h-.9zM460.7 543.8h.9v.9h-.9zM466.6 541.4h.9v.9h-.9zM462.6 537.1h.9v.9h-.9zM464.1 540.9h.9v.9h-.9zM449.3 550.3h.9v.9h-.9zM461.6 552.3h.9v.9h-.9zM460.4 539.9h.9v.9h-.9zM457.8 539.3h.9v.9h-.9zM460.6 540.2h.9v.9h-.9zM467.3 541.4h.9v.9h-.9zM466.3 539.4h.9v.9h-.9zM449.6 547.8h.9v.9h-.9zM456.5 539.6h.9v.9h-.9zM456.2 546.0h.9v.9h-.9zM454.1 546.7h.9v.9h-.9zM447.0 551.0h.9v.9h-.9zM463.8 537.2h.9v.9h-.9zM462.6 546.6h.9v.9h-.9zM460.1 537.1h.9v.9h-.9zM448.7 542.9h.9v.9h-.9zM464.4 540.7h.9v.9h-.9zM463.1 541.8h.9v.9h-.9zM460.4 541.2h.9v.9h-.9zM449.7 551.9h.9v.9h-.9zM454.1 547.0h.9v.9h-.9zM462.5 543.0h.9v.9h-.9zM464.8 538.2h.9v.9h-.9zM448.3 552.1h.9v.9h-.9zM458.5 540.2h.9v.9h-.9zM458.3 546.5h.9v.9h-.9z" fill="#3a8a43" fill-opacity="0.3"/>
<path d="M463.2 541.4h.9v.9h-.9zM459.0 543.4h.9v.9h-.9zM464.4 538.2h.9v.9h-.9zM466.6 540.1h.9v.9h-.9zM466.7 541.6h.9v.9h-.9zM463.7 544.7h.9v.9h-.9zM465.5 538.1h.9v.9h-.9zM464.6 538.7h.9v.9h-.9zM464.5 540.3h.9v.9h-.9zM461.0 541.8h.9v.9h-.9zM451.5 550.1h.9v.9h-.9zM460.8 542.7h.9v.9h-.9zM466.9 540.0h.9v.9h-.9zM467.0 541.0h.9v.9h-.9zM466.5 540.3h.9v.9h-.9zM465.3 544.7h.9v.9h-.9zM454.2 547.5h.9v.9h-.9zM461.0 540.0h.9v.9h-.9zM455.0 542.9h.9v.9h-.9zM463.1 538.9h.9v.9h-.9zM465.6 539.7h.9v.9h-.9zM458.2 544.2h.9v.9h-.9zM463.1 538.0h.9v.9h-.9zM461.1 542.1h.9v.9h-.9zM462.5 545.3h.9v.9h-.9zM464.6 542.8h.9v.9h-.9zM460.6 549.0h.9v.9h-.9zM464.6 541.7h.9v.9h-.9zM456.7 543.5h.9v.9h-.9zM463.9 542.5h.9v.9h-.9zM459.2 547.9h.9v.9h-.9zM447.7 545.9h.9v.9h-.9zM446.4 550.1h.9v.9h-.9zM457.4 542.8h.9v.9h-.9zM465.5 542.9h.9v.9h-.9zM465.9 541.5h.9v.9h-.9zM461.9 539.8h.9v.9h-.9zM459.4 547.2h.9v.9h-.9zM461.2 540.2h.9v.9h-.9zM459.2 542.6h.9v.9h-.9z" fill="#3a8a43" fill-opacity="0.3"/>
<path d="M460.8 544.8h.9v.9h-.9zM466.2 540.2h.9v.9h-.9zM464.4 539.0h.9v.9h-.9zM463.5 542.8h.9v.9h-.9zM461.2 540.4h.9v.9h-.9zM461.2 539.4h.9v.9h-.9zM465.3 547.2h.9v.9h-.9zM463.8 539.8h.9v.9h-.9zM466.8 541.8h.9v.9h-.9zM465.3 543.0h.9v.9h-.9zM448.2 549.0h.9v.9h-.9zM450.5 545.8h.9v.9h-.9zM465.7 543.8h.9v.9h-.9zM460.3 547.3h.9v.9h-.9zM462.6 544.6h.9v.9h-.9zM466.1 539.6h.9v.9h-.9zM461.7 539.4h.9v.9h-.9zM463.2 540.5h.9v.9h-.9zM454.3 548.6h.9v.9h-.9zM464.3 541.1h.9v.9h-.9zM461.7 540.4h.9v.9h-.9zM460.4 544.1h.9v.9h-.9zM462.3 541.6h.9v.9h-.9zM458.9 534.4h.9v.9h-.9zM457.6 549.6h.9v.9h-.9zM462.7 541.9h.9v.9h-.9zM466.1 542.2h.9v.9h-.9zM460.7 547.1h.9v.9h-.9zM463.7 543.1h.9v.9h-.9zM464.2 540.2h.9v.9h-.9zM454.5 541.6h.9v.9h-.9zM467.0 540.3h.9v.9h-.9zM462.0 539.5h.9v.9h-.9zM464.7 537.6h.9v.9h-.9zM458.2 541.3h.9v.9h-.9zM466.0 542.2h.9v.9h-.9zM461.3 536.9h.9v.9h-.9zM465.6 539.1h.9v.9h-.9zM457.7 550.9h.9v.9h-.9zM463.7 541.0h.9v.9h-.9z" fill="#3a8a43" fill-opacity="0.3"/>
<ellipse cx="462.1" cy="542.8" rx="5.8" ry="3.0" fill="#24632b" fill-opacity="0.6" filter="url(#bl)" transform="rotate(-35 462.1 542.8)"/>
<rect x="442.60" y="533.90" width="30.30" height="22.40" fill="none" stroke="#8f93a2" stroke-width="1.0"/>
<text x="472.70" y="564.90" font-size="7.0" text-anchor="end" fill="#555" font-family="Liberation Serif, serif" textLength="10.2" lengthAdjust="spacingAndGlyphs">51.3</text>
<text x="472.50" y="584.20" font-size="6.6" text-anchor="end" fill="#111" stroke="#111" stroke-width="0.25" font-family="Liberation Serif, serif" textLength="7.5" lengthAdjust="spacingAndGlyphs">+/+</text>
<rect x="358.60" y="589.80" width="52.90" height="51.20" fill="#fff" stroke="#cdcdd2" stroke-width="0.9"/>
<line x1="357.70" y1="595.80" x2="359.20" y2="595.80" stroke="#666" stroke-width="0.6"/>
<line x1="357.70" y1="606.30" x2="359.20" y2="606.30" stroke="#666" stroke-width="0.6"/>
<line x1="357.70" y1="616.80" x2="359.20" y2="616.80" stroke="#666" stroke-width="0.6"/>
<line x1="357.70" y1="627.30" x2="359.20" y2="627.30" stroke="#666" stroke-width="0.6"/>
<line x1="357.70" y1="637.80" x2="359.20" y2="637.80" stroke="#666" stroke-width="0.6"/>
<line x1="361.60" y1="641.30" x2="361.60" y2="642.80" stroke="#888" stroke-width="0.5"/>
<line x1="365.10" y1="641.30" x2="365.10" y2="642.80" stroke="#888" stroke-width="0.5"/>
<line x1="368.60" y1="641.30" x2="368.60" y2="642.80" stroke="#888" stroke-width="0.5"/>
<line x1="372.10" y1="641.30" x2="372.10" y2="642.80" stroke="#888" stroke-width="0.5"/>
<line x1="375.60" y1="641.30" x2="375.60" y2="642.80" stroke="#888" stroke-width="0.5"/>
<line x1="379.10" y1="641.30" x2="379.10" y2="642.80" stroke="#888" stroke-width="0.5"/>
<line x1="382.60" y1="641.30" x2="382.60" y2="642.80" stroke="#888" stroke-width="0.5"/>
<line x1="386.10" y1="641.30" x2="386.10" y2="642.80" stroke="#888" stroke-width="0.5"/>
<line x1="389.60" y1="641.30" x2="389.60" y2="642.80" stroke="#888" stroke-width="0.5"/>
<line x1="393.10" y1="641.30" x2="393.10" y2="642.80" stroke="#888" stroke-width="0.5"/>
<line x1="396.60" y1="641.30" x2="396.60" y2="642.80" stroke="#888" stroke-width="0.5"/>
<line x1="400.10" y1="641.30" x2="400.10" y2="642.80" stroke="#888" stroke-width="0.5"/>
<line x1="403.60" y1="641.30" x2="403.60" y2="642.80" stroke="#888" stroke-width="0.5"/>
<line x1="407.10" y1="641.30" x2="407.10" y2="642.80" stroke="#888" stroke-width="0.5"/>
<line x1="362.60" y1="642.60" x2="369.60" y2="642.60" stroke="#666" stroke-width="0.8"/>
<path d="M376.5 626.3h.8v.8h-.8zM365.2 627.1h.8v.8h-.8zM383.3 618.5h.8v.8h-.8zM370.9 619.1h.8v.8h-.8zM372.2 619.2h.8v.8h-.8zM380.3 622.9h.8v.8h-.8zM392.4 599.7h.8v.8h-.8zM386.1 622.7h.8v.8h-.8zM365.1 630.2h.8v.8h-.8zM403.3 610.5h.8v.8h-.8zM392.8 606.3h.8v.8h-.8zM370.5 627.8h.8v.8h-.8zM382.1 626.1h.8v.8h-.8zM364.1 627.9h.8v.8h-.8zM381.1 627.6h.8v.8h-.8zM384.7 619.7h.8v.8h-.8zM390.4 605.2h.8v.8h-.8zM365.2 627.3h.8v.8h-.8zM381.5 617.7h.8v.8h-.8zM397.1 607.5h.8v.8h-.8zM363.8 633.0h.8v.8h-.8zM397.6 610.3h.8v.8h-.8zM379.4 627.6h.8v.8h-.8zM367.8 635.1h.8v.8h-.8zM371.2 624.8h.8v.8h-.8zM367.6 619.9h.8v.8h-.8zM363.4 627.9h.8v.8h-.8zM383.5 611.7h.8v.8h-.8zM389.2 623.4h.8v.8h-.8zM373.7 625.6h.8v.8h-.8zM377.9 618.7h.8v.8h-.8zM363.7 632.0h.8v.8h-.8zM395.3 598.5h.8v.8h-.8zM365.5 631.4h.8v.8h-.8zM373.2 622.5h.8v.8h-.8zM372.6 624.5h.8v.8h-.8zM392.1 613.0h.8v.8h-.8zM365.8 624.2h.8v.8h-.8zM370.8 622.7h.8v.8h-.8zM376.1 618.2h.8v.8h-.8zM388.9 611.9h.8v.8h-.8zM387.4 619.8h.8v.8h-.8zM369.6 627.0h.8v.8h-.8zM395.1 611.1h.8v.8h-.8zM376.4 626.7h.8v.8h-.8zM367.3 625.5h.8v.8h-.8zM385.8 626.0h.8v.8h-.8zM364.8 625.6h.8v.8h-.8zM376.5 625.1h.8v.8h-.8zM382.8 617.8h.8v.8h-.8zM377.2 619.2h.8v.8h-.8zM386.0 619.0h.8v.8h-.8zM380.4 625.0h.8v.8h-.8zM381.8 617.1h.8v.8h-.8zM386.4 619.9h.8v.8h-.8zM364.7 632.5h.8v.8h-.8zM367.1 625.5h.8v.8h-.8zM374.5 622.6h.8v.8h-.8zM374.1 621.4h.8v.8h-.8zM364.2 628.8h.8v.8h-.8zM396.8 616.9h.8v.8h-.8zM376.4 619.8h.8v.8h-.8zM361.0 627.8h.8v.8h-.8zM362.4 629.9h.8v.8h-.8zM369.4 625.8h.8v.8h-.8zM374.6 622.9h.8v.8h-.8zM374.5 624.9h.8v.8h-.8zM363.6 628.9h.8v.8h-.8zM363.0 628.9h.8v.8h-.8zM367.0 631.8h.8v.8h-.8zM372.2 625.2h.8v.8h-.8zM367.4 624.7h.8v.8h-.8zM361.1 627.4h.8v.8h-.8zM362.2 627.2h.8v.8h-.8zM363.8 627.8h.8v.8h-.8z" fill="#6aa570" fill-opacity="0.2"/>
<path d="M368.2 627.2h.8v.8h-.8zM389.0 615.6h.8v.8h-.8zM366.7 624.6h.8v.8h-.8zM371.6 624.6h.8v.8h-.8zM389.6 623.7h.8v.8h-.8zM363.0 629.6h.8v.8h-.8zM380.5 624.4h.8v.8h-.8zM391.3 614.7h.8v.8h-.8zM389.9 610.6h.8v.8h-.8zM362.1 629.1h.8v.8h-.8zM363.4 626.3h.8v.8h-.8zM375.1 622.0h.8v.8h-.8zM388.5 612.1h.8v.8h-.8zM371.0 623.1h.8v.8h-.8zM380.6 619.0h.8v.8h-.8zM388.2 622.0h.8v.8h-.8zM390.7 615.5h.8v.8h-.8zM375.3 623.4h.8v.8h-.8zM381.1 617.5h.8v.8h-.8zM369.7 624.6h.8v.8h-.8zM376.0 626.4h.8v.8h-.8zM369.0 624.5h.8v.8h-.8zM374.3 612.7h.8v.8h-.8zM374.2 627.1h.8v.8h-.8zM382.8 611.2h.8v.8h-.8zM360.5 626.2h.8v.8h-.8zM389.4 612.5h.8v.8h-.8zM371.1 623.3h.8v.8h-.8zM391.9 611.6h.8v.8h-.8zM376.3 620.8h.8v.8h-.8zM392.7 609.5h.8v.8h-.8zM366.9 631.9h.8v.8h-.8zM394.5 620.0h.8v.8h-.8zM378.6 617.4h.8v.8h-.8zM361.9 625.6h.8v.8h-.8zM373.6 624.3h.8v.8h-.8zM374.4 626.6h.8v.8h-.8zM377.3 624.2h.8v.8h-.8zM365.8 627.4h.8v.8h-.8zM376.1 625.0h.8v.8h-.8zM386.7 618.7h.8v.8h-.8zM391.9 610.4h.8v.8h-.8zM389.3 618.0h.8v.8h-.8zM378.0 626.7h.8v.8h-.8zM375.6 618.3h.8v.8h-.8zM371.3 624.0h.8v.8h-.8zM365.9 631.6h.8v.8h-.8zM367.4 625.6h.8v.8h-.8zM397.0 612.4h.8v.8h-.8zM372.4 623.1h.8v.8h-.8zM391.0 616.4h.8v.8h-.8zM369.9 629.2h.8v.8h-.8zM395.6 607.9h.8v.8h-.8zM389.6 611.5h.8v.8h-.8zM370.2 621.8h.8v.8h-.8zM378.3 616.6h.8v.8h-.8zM379.9 618.0h.8v.8h-.8zM364.5 629.3h.8v.8h-.8zM382.4 617.5h.8v.8h-.8zM363.5 631.3h.8v.8h-.8zM400.8 609.3h.8v.8h-.8zM376.3 625.4h.8v.8h-.8zM366.1 630.6h.8v.8h-.8zM379.6 618.2h.8v.8h-.8zM384.5 613.5h.8v.8h-.8zM374.7 621.3h.8v.8h-.8zM391.9 620.1h.8v.8h-.8zM392.3 607.0h.8v.8h-.8zM379.8 614.7h.8v.8h-.8zM400.4 605.6h.8v.8h-.8zM369.7 623.8h.8v.8h-.8zM368.6 628.4h.8v.8h-.8zM379.0 622.9h.8v.8h-.8zM371.1 628.3h.8v.8h-.8zM396.3 612.3h.8v.8h-.8z" fill="#6aa570" fill-opacity="0.2"/>
<path d="M364.7 630.3h.8v.8h-.8zM378.5 628.9h.8v.8h-.8zM391.0 621.6h.8v.8h-.8zM368.9 628.4h.8v.8h-.8zM374.6 625.7h.8v.8h-.8zM365.6 629.3h.8v.8h-.8zM396.9 604.7h.8v.8h-.8zM366.9 628.5h.8v.8h-.8zM374.0 625.0h.8v.8h-.8zM383.1 616.1h.8v.8h-.8zM389.8 616.8h.8v.8h-.8zM377.4 624.4h.8v.8h-.8zM379.0 623.2h.8v.8h-.8zM398.8 613.9h.8v.8h-.8zM364.1 629.9h.8v.8h-.8zM369.2 634.2h.8v.8h-.8zM362.8 627.4h.8v.8h-.8zM364.2 629.0h.8v.8h-.8zM377.4 619.9h.8v.8h-.8zM363.0 626.9h.8v.8h-.8zM368.7 625.8h.8v.8h-.8zM363.3 628.5h.8v.8h-.8zM364.1 631.7h.8v.8h-.8zM377.8 620.0h.8v.8h-.8zM363.7 623.8h.8v.8h-.8zM383.5 613.1h.8v.8h-.8zM386.3 614.4h.8v.8h-.8zM386.1 617.8h.8v.8h-.8zM369.7 622.1h.8v.8h-.8zM365.8 629.4h.8v.8h-.8zM377.7 620.9h.8v.8h-.8zM378.6 616.9h.8v.8h-.8zM368.0 625.4h.8v.8h-.8zM371.6 622.6h.8v.8h-.8zM363.2 631.3h.8v.8h-.8zM380.8 620.3h.8v.8h-.8zM386.5 615.6h.8v.8h-.8zM362.6 628.3h.8v.8h-.8zM365.2 629.6h.8v.8h-.8zM364.1 630.9h.8v.8h-.8zM379.8 622.1h.8v.8h-.8zM363.9 628.0h.8v.8h-.8zM388.8 618.9h.8v.8h-.8zM374.9 625.4h.8v.8h-.8zM361.3 628.6h.8v.8h-.8zM374.5 622.8h.8v.8h-.8zM367.0 627.1h.8v.8h-.8zM368.4 620.9h.8v.8h-.8zM372.0 621.2h.8v.8h-.8zM400.7 607.7h.8v.8h-.8zM374.2 620.3h.8v.8h-.8zM378.7 625.2h.8v.8h-.8zM378.3 619.7h.8v.8h-.8zM375.2 618.3h.8v.8h-.8zM397.3 607.6h.8v.8h-.8zM374.8 623.4h.8v.8h-.8zM378.8 621.3h.8v.8h-.8zM362.5 630.8h.8v.8h-.8zM383.3 620.0h.8v.8h-.8zM394.6 610.5h.8v.8h-.8zM380.8 616.4h.8v.8h-.8zM365.3 626.2h.8v.8h-.8zM375.5 621.0h.8v.8h-.8zM376.9 621.6h.8v.8h-.8zM382.4 610.1h.8v.8h-.8zM369.2 629.1h.8v.8h-.8zM385.8 617.7h.8v.8h-.8zM384.5 619.8h.8v.8h-.8zM373.3 616.5h.8v.8h-.8zM374.6 625.4h.8v.8h-.8zM369.3 627.3h.8v.8h-.8zM401.5 618.6h.8v.8h-.8zM401.0 606.4h.8v.8h-.8zM363.9 623.9h.8v.8h-.8zM370.4 619.5h.8v.8h-.8z" fill="#6aa570" fill-opacity="0.2"/>
<path d="M372.7 625.0h.8v.8h-.8zM365.2 631.5h.8v.8h-.8zM397.3 604.0h.8v.8h-.8zM365.4 628.9h.8v.8h-.8zM369.8 627.7h.8v.8h-.8zM367.3 623.7h.8v.8h-.8zM390.3 619.0h.8v.8h-.8zM378.2 621.9h.8v.8h-.8zM382.5 622.4h.8v.8h-.8zM391.9 606.8h.8v.8h-.8zM383.3 619.6h.8v.8h-.8zM390.5 612.7h.8v.8h-.8zM383.6 618.9h.8v.8h-.8zM372.1 620.2h.8v.8h-.8zM364.5 628.6h.8v.8h-.8zM380.2 612.2h.8v.8h-.8zM372.8 627.7h.8v.8h-.8zM365.7 626.6h.8v.8h-.8zM374.5 621.9h.8v.8h-.8zM373.7 624.3h.8v.8h-.8zM364.0 629.6h.8v.8h-.8zM392.3 618.1h.8v.8h-.8zM366.2 631.0h.8v.8h-.8zM370.0 625.1h.8v.8h-.8zM366.6 629.3h.8v.8h-.8zM399.6 610.5h.8v.8h-.8zM391.7 614.8h.8v.8h-.8zM373.7 621.3h.8v.8h-.8zM395.6 612.9h.8v.8h-.8zM363.9 631.2h.8v.8h-.8zM369.7 624.9h.8v.8h-.8zM397.6 615.2h.8v.8h-.8zM402.0 613.2h.8v.8h-.8zM388.6 618.2h.8v.8h-.8zM395.3 610.2h.8v.8h-.8zM369.0 626.6h.8v.8h-.8zM377.6 624.7h.8v.8h-.8zM368.7 629.6h.8v.8h-.8zM378.0 620.4h.8v.8h-.8zM383.7 625.4h.8v.8h-.8zM370.2 624.9h.8v.8h-.8zM384.6 614.6h.8v.8h-.8zM363.0 628.6h.8v.8h-.8zM390.0 615.0h.8v.8h-.8zM364.1 631.1h.8v.8h-.8zM385.2 619.6h.8v.8h-.8zM377.1 625.0h.8v.8h-.8zM393.6 615.7h.8v.8h-.8zM364.0 631.6h.8v.8h-.8zM372.3 628.3h.8v.8h-.8zM377.2 622.5h.8v.8h-.8zM370.1 624.7h.8v.8h-.8zM397.0 608.5h.8v.8h-.8zM397.5 623.2h.8v.8h-.8zM374.7 620.0h.8v.8h-.8zM372.2 624.1h.8v.8h-.8zM398.5 610.1h.8v.8h-.8zM369.7 625.5h.8v.8h-.8zM369.2 626.3h.8v.8h-.8zM399.3 617.2h.8v.8h-.8zM395.4 608.1h.8v.8h-.8zM380.5 613.1h.8v.8h-.8zM368.8 623.3h.8v.8h-.8zM391.1 611.5h.8v.8h-.8zM375.6 627.0h.8v.8h-.8zM368.8 629.2h.8v.8h-.8zM380.1 621.0h.8v.8h-.8zM367.8 624.2h.8v.8h-.8zM372.5 626.4h.8v.8h-.8zM377.1 625.1h.8v.8h-.8zM386.8 613.5h.8v.8h-.8zM364.7 626.8h.8v.8h-.8zM371.5 622.8h.8v.8h-.8zM382.1 616.9h.8v.8h-.8zM370.1 627.9h.8v.8h-.8z" fill="#6aa570" fill-opacity="0.2"/>
<path d="M365.9 629.5h.9v.9h-.9zM369.7 625.3h.9v.9h-.9zM372.1 628.6h.9v.9h-.9zM382.4 615.0h.9v.9h-.9zM362.9 629.8h.9v.9h-.9zM367.0 627.5h.9v.9h-.9zM367.7 626.4h.9v.9h-.9zM364.0 628.2h.9v.9h-.9zM362.5 629.0h.9v.9h-.9zM361.1 631.5h.9v.9h-.9zM380.1 620.8h.9v.9h-.9zM373.0 625.8h.9v.9h-.9zM363.6 630.6h.9v.9h-.9zM380.5 619.1h.9v.9h-.9zM360.9 628.4h.9v.9h-.9zM373.4 625.7h.9v.9h-.9zM379.4 619.1h.9v.9h-.9zM361.2 628.8h.9v.9h-.9zM366.6 626.8h.9v.9h-.9zM366.9 627.8h.9v.9h-.9zM385.8 619.1h.9v.9h-.9zM365.0 629.5h.9v.9h-.9zM364.9 630.2h.9v.9h-.9zM365.3 629.1h.9v.9h-.9zM385.8 619.5h.9v.9h-.9zM361.9 629.7h.9v.9h-.9zM386.0 616.3h.9v.9h-.9zM361.9 629.1h.9v.9h-.9zM365.0 627.1h.9v.9h-.9zM373.1 625.0h.9v.9h-.9zM368.2 627.7h.9v.9h-.9zM364.3 628.6h.9v.9h-.9zM365.9 626.5h.9v.9h-.9zM360.3 629.5h.9v.9h-.9zM363.1 629.6h.9v.9h-.9zM370.1 626.9h.9v.9h-.9zM377.2 620.2h.9v.9h-.9zM364.0 627.1h.9v.9h-.9zM364.8 626.2h.9v.9h-.9zM364.6 627.7h.9v.9h-.9zM368.6 624.6h.9v.9h-.9zM368.9 626.7h.9v.9h-.9zM377.9 621.5h.9v.9h-.9zM381.5 618.9h.9v.9h-.9z" fill="#3a8a43" fill-opacity="0.26"/>
<path d="M366.7 627.5h.9v.9h-.9zM364.4 629.4h.9v.9h-.9zM366.6 628.6h.9v.9h-.9zM365.9 627.9h.9v.9h-.9zM369.9 624.5h.9v.9h-.9zM360.9 629.9h.9v.9h-.9zM368.8 625.5h.9v.9h-.9zM368.4 623.8h.9v.9h-.9zM362.8 629.8h.9v.9h-.9zM363.0 628.6h.9v.9h-.9zM361.9 630.6h.9v.9h-.9zM373.3 627.5h.9v.9h-.9zM366.1 630.3h.9v.9h-.9zM363.8 626.3h.9v.9h-.9zM364.1 630.4h.9v.9h-.9zM361.3 629.4h.9v.9h-.9zM363.3 631.0h.9v.9h-.9zM368.1 626.3h.9v.9h-.9zM366.0 628.5h.9v.9h-.9zM360.4 630.0h.9v.9h-.9zM367.9 627.4h.9v.9h-.9zM369.5 625.2h.9v.9h-.9zM364.5 630.2h.9v.9h-.9zM384.5 616.3h.9v.9h-.9zM371.9 624.0h.9v.9h-.9zM364.3 632.0h.9v.9h-.9zM366.8 631.4h.9v.9h-.9zM362.3 629.4h.9v.9h-.9zM362.1 628.9h.9v.9h-.9zM365.8 629.2h.9v.9h-.9zM367.5 625.9h.9v.9h-.9zM362.2 628.7h.9v.9h-.9zM366.7 627.2h.9v.9h-.9zM362.0 631.1h.9v.9h-.9zM362.1 628.7h.9v.9h-.9zM362.0 626.1h.9v.9h-.9zM360.9 630.0h.9v.9h-.9zM368.8 624.6h.9v.9h-.9zM367.9 627.2h.9v.9h-.9zM366.0 628.6h.9v.9h-.9zM368.5 628.0h.9v.9h-.9zM360.8 629.4h.9v.9h-.9zM363.1 629.0h.9v.9h-.9zM375.1 618.8h.9v.9h-.9z" fill="#3a8a43" fill-opacity="0.26"/>
<path d="M368.3 625.5h.9v.9h-.9zM364.8 631.3h.9v.9h-.9zM388.3 618.3h.9v.9h-.9zM366.0 624.4h.9v.9h-.9zM362.4 627.8h.9v.9h-.9zM362.3 629.0h.9v.9h-.9zM362.6 631.6h.9v.9h-.9zM363.9 632.3h.9v.9h-.9zM372.1 627.5h.9v.9h-.9zM381.2 617.9h.9v.9h-.9zM368.2 625.2h.9v.9h-.9zM364.7 627.7h.9v.9h-.9zM362.2 630.6h.9v.9h-.9zM365.6 629.3h.9v.9h-.9zM363.6 631.1h.9v.9h-.9zM367.2 627.2h.9v.9h-.9zM365.1 627.3h.9v.9h-.9zM376.4 619.5h.9v.9h-.9zM370.9 626.6h.9v.9h-.9zM371.3 626.6h.9v.9h-.9zM368.1 623.5h.9v.9h-.9zM366.9 626.8h.9v.9h-.9zM366.9 627.5h.9v.9h-.9zM361.6 630.8h.9v.9h-.9zM380.5 621.0h.9v.9h-.9zM378.9 622.3h.9v.9h-.9zM365.3 630.9h.9v.9h-.9zM377.1 622.1h.9v.9h-.9zM376.6 626.4h.9v.9h-.9zM367.5 628.8h.9v.9h-.9zM386.1 621.0h.9v.9h-.9zM361.1 629.8h.9v.9h-.9zM372.9 621.9h.9v.9h-.9zM370.7 622.9h.9v.9h-.9zM361.2 631.2h.9v.9h-.9zM361.4 630.5h.9v.9h-.9zM361.3 630.9h.9v.9h-.9zM364.6 627.6h.9v.9h-.9zM368.1 621.8h.9v.9h-.9zM368.2 628.9h.9v.9h-.9zM361.6 631.9h.9v.9h-.9zM362.9 629.0h.9v.9h-.9zM364.5 628.5h.9v.9h-.9z" fill="#3a8a43" fill-opacity="0.26"/>
<path d="M365.8 630.1h.9v.9h-.9zM366.6 628.0h.9v.9h-.9zM363.5 628.2h.9v.9h-.9zM379.6 623.6h.9v.9h-.9zM360.4 629.7h.9v.9h-.9zM371.4 623.7h.9v.9h-.9zM380.5 619.9h.9v.9h-.9zM364.8 627.9h.9v.9h-.9zM364.9 628.9h.9v.9h-.9zM362.4 631.2h.9v.9h-.9zM370.2 625.3h.9v.9h-.9zM361.9 630.4h.9v.9h-.9zM362.4 629.3h.9v.9h-.9zM377.2 623.2h.9v.9h-.9zM367.1 627.8h.9v.9h-.9zM370.7 626.4h.9v.9h-.9zM367.7 626.4h.9v.9h-.9zM361.0 629.1h.9v.9h-.9zM365.0 625.1h.9v.9h-.9zM368.5 629.9h.9v.9h-.9zM361.6 628.4h.9v.9h-.9zM364.3 632.1h.9v.9h-.9zM361.0 630.6h.9v.9h-.9zM367.8 626.8h.9v.9h-.9zM373.0 626.3h.9v.9h-.9zM362.7 627.9h.9v.9h-.9zM368.8 624.7h.9v.9h-.9zM360.8 630.9h.9v.9h-.9zM381.5 619.1h.9v.9h-.9zM360.7 630.8h.9v.9h-.9zM363.8 628.9h.9v.9h-.9zM363.1 629.2h.9v.9h-.9zM363.9 628.9h.9v.9h-.9zM365.4 629.1h.9v.9h-.9zM362.9 629.6h.9v.9h-.9zM363.2 629.7h.9v.9h-.9zM361.9 632.1h.9v.9h-.9zM366.3 629.8h.9v.9h-.9zM374.0 624.1h.9v.9h-.9zM371.1 627.1h.9v.9h-.9zM381.4 621.0h.9v.9h-.9zM363.6 626.7h.9v.9h-.9zM380.7 620.4h.9v.9h-.9z" fill="#3a8a43" fill-opacity="0.26"/>
<path d="M373.3 621.0h.9v.9h-.9zM365.7 628.0h.9v.9h-.9zM365.2 628.7h.9v.9h-.9zM367.8 628.9h.9v.9h-.9zM374.4 622.0h.9v.9h-.9zM370.2 624.1h.9v.9h-.9zM369.6 626.8h.9v.9h-.9zM382.2 621.9h.9v.9h-.9zM370.4 625.6h.9v.9h-.9zM365.7 630.3h.9v.9h-.9zM362.1 628.9h.9v.9h-.9zM369.3 624.6h.9v.9h-.9zM361.0 628.3h.9v.9h-.9zM364.2 631.3h.9v.9h-.9zM362.5 629.8h.9v.9h-.9zM367.0 627.3h.9v.9h-.9zM367.1 628.3h.9v.9h-.9zM378.0 624.5h.9v.9h-.9zM383.3 618.6h.9v.9h-.9zM360.8 628.3h.9v.9h-.9zM360.5 629.7h.9v.9h-.9zM363.8 630.0h.9v.9h-.9zM374.4 624.3h.9v.9h-.9zM388.3 615.2h.9v.9h-.9zM368.0 628.6h.9v.9h-.9zM361.4 632.3h.9v.9h-.9zM363.6 630.0h.9v.9h-.9zM367.9 629.2h.9v.9h-.9zM387.7 614.2h.9v.9h-.9zM364.7 629.2h.9v.9h-.9zM368.8 626.3h.9v.9h-.9zM363.0 628.5h.9v.9h-.9zM362.3 630.1h.9v.9h-.9zM372.9 624.0h.9v.9h-.9zM382.7 621.8h.9v.9h-.9zM368.5 627.4h.9v.9h-.9zM366.2 628.0h.9v.9h-.9zM380.1 617.3h.9v.9h-.9zM366.9 627.2h.9v.9h-.9zM362.4 630.0h.9v.9h-.9zM369.7 624.7h.9v.9h-.9zM377.7 621.5h.9v.9h-.9zM366.6 627.7h.9v.9h-.9z" fill="#3a8a43" fill-opacity="0.26"/>
<path d="M367.0 626.6h.9v.9h-.9zM361.5 629.9h.9v.9h-.9zM369.8 623.9h.9v.9h-.9zM382.3 621.5h.9v.9h-.9zM363.5 629.2h.9v.9h-.9zM362.5 631.3h.9v.9h-.9zM369.3 629.1h.9v.9h-.9zM362.3 629.9h.9v.9h-.9zM363.2 631.2h.9v.9h-.9zM372.9 621.6h.9v.9h-.9zM361.5 629.5h.9v.9h-.9zM364.9 630.1h.9v.9h-.9zM360.5 630.0h.9v.9h-.9zM379.5 618.2h.9v.9h-.9zM363.0 631.7h.9v.9h-.9zM371.4 626.7h.9v.9h-.9zM365.0 628.8h.9v.9h-.9zM374.0 622.6h.9v.9h-.9zM365.1 628.7h.9v.9h-.9zM362.5 629.5h.9v.9h-.9zM364.5 628.5h.9v.9h-.9zM371.1 628.1h.9v.9h-.9zM362.4 629.4h.9v.9h-.9zM362.7 626.4h.9v.9h-.9zM365.0 627.7h.9v.9h-.9zM387.2 620.5h.9v.9h-.9zM363.3 630.1h.9v.9h-.9zM361.0 631.0h.9v.9h-.9zM365.5 629.8h.9v.9h-.9zM366.2 627.4h.9v.9h-.9zM368.4 624.0h.9v.9h-.9zM390.5 617.4h.9v.9h-.9zM363.5 630.0h.9v.9h-.9zM366.6 626.9h.9v.9h-.9zM365.3 628.9h.9v.9h-.9zM362.9 629.2h.9v.9h-.9zM363.3 629.4h.9v.9h-.9zM369.1 626.0h.9v.9h-.9zM365.3 629.4h.9v.9h-.9zM365.9 628.6h.9v.9h-.9zM361.9 630.6h.9v.9h-.9zM362.5 630.1h.9v.9h-.9zM367.5 627.7h.9v.9h-.9z" fill="#3a8a43" fill-opacity="0.26"/>
<ellipse cx="363.6" cy="631.3" rx="3.6" ry="2.2" fill="#24632b" fill-opacity="0.65" filter="url(#bl)" transform="rotate(-25 363.6 631.3)"/>
<path d="M394.0 599.5h.9v.9h-.9zM389.4 601.7h.9v.9h-.9zM400.3 593.6h.9v.9h-.9zM386.5 605.4h.9v.9h-.9zM398.8 602.2h.9v.9h-.9zM394.9 597.1h.9v.9h-.9zM400.8 601.1h.9v.9h-.9zM393.8 606.4h.9v.9h-.9zM399.1 595.5h.9v.9h-.9zM400.0 597.7h.9v.9h-.9zM399.5 599.6h.9v.9h-.9zM387.9 611.0h.9v.9h-.9zM400.5 602.8h.9v.9h-.9zM397.6 596.5h.9v.9h-.9zM402.2 605.0h.9v.9h-.9zM391.3 605.4h.9v.9h-.9zM403.4 595.8h.9v.9h-.9zM389.6 602.8h.9v.9h-.9zM393.4 598.2h.9v.9h-.9zM398.4 606.5h.9v.9h-.9zM385.0 608.7h.9v.9h-.9zM404.8 598.7h.9v.9h-.9zM401.7 596.1h.9v.9h-.9zM385.4 610.4h.9v.9h-.9zM400.7 600.0h.9v.9h-.9zM396.8 600.5h.9v.9h-.9zM399.5 601.8h.9v.9h-.9zM399.6 598.0h.9v.9h-.9zM395.3 599.1h.9v.9h-.9zM404.4 598.0h.9v.9h-.9zM391.4 606.3h.9v.9h-.9zM392.0 595.3h.9v.9h-.9zM403.1 599.3h.9v.9h-.9zM403.3 598.1h.9v.9h-.9zM400.0 598.7h.9v.9h-.9zM386.1 608.5h.9v.9h-.9zM397.0 605.5h.9v.9h-.9zM400.5 595.5h.9v.9h-.9zM393.9 603.9h.9v.9h-.9zM391.4 604.5h.9v.9h-.9zM391.8 604.2h.9v.9h-.9zM402.2 596.6h.9v.9h-.9zM396.4 601.0h.9v.9h-.9zM405.0 596.7h.9v.9h-.9zM390.2 609.3h.9v.9h-.9zM388.8 603.9h.9v.9h-.9zM402.5 599.8h.9v.9h-.9zM398.8 600.8h.9v.9h-.9zM401.3 596.1h.9v.9h-.9zM398.5 596.7h.9v.9h-.9zM387.6 602.1h.9v.9h-.9zM401.8 593.8h.9v.9h-.9z" fill="#3a8a43" fill-opacity="0.3"/>
<path d="M396.7 599.5h.9v.9h-.9zM399.0 600.0h.9v.9h-.9zM384.6 602.4h.9v.9h-.9zM396.6 610.3h.9v.9h-.9zM403.6 596.1h.9v.9h-.9zM399.7 596.0h.9v.9h-.9zM402.4 598.5h.9v.9h-.9zM403.2 594.9h.9v.9h-.9zM401.9 599.2h.9v.9h-.9zM393.6 600.2h.9v.9h-.9zM399.5 599.7h.9v.9h-.9zM393.6 599.3h.9v.9h-.9zM399.8 598.4h.9v.9h-.9zM396.2 597.0h.9v.9h-.9zM390.2 601.6h.9v.9h-.9zM386.8 610.2h.9v.9h-.9zM399.2 600.0h.9v.9h-.9zM400.4 598.3h.9v.9h-.9zM402.6 598.9h.9v.9h-.9zM398.5 600.9h.9v.9h-.9zM404.8 597.8h.9v.9h-.9zM400.3 598.9h.9v.9h-.9zM399.8 604.6h.9v.9h-.9zM387.0 604.5h.9v.9h-.9zM395.9 603.1h.9v.9h-.9zM386.2 608.7h.9v.9h-.9zM382.7 604.6h.9v.9h-.9zM402.5 597.6h.9v.9h-.9zM402.8 594.6h.9v.9h-.9zM395.4 599.8h.9v.9h-.9zM392.4 598.3h.9v.9h-.9zM394.9 605.0h.9v.9h-.9zM394.7 598.9h.9v.9h-.9zM398.2 596.7h.9v.9h-.9zM399.4 596.7h.9v.9h-.9zM396.4 608.2h.9v.9h-.9zM391.3 608.2h.9v.9h-.9zM397.6 600.8h.9v.9h-.9zM399.4 596.8h.9v.9h-.9zM395.1 605.1h.9v.9h-.9zM392.2 604.1h.9v.9h-.9zM402.6 596.8h.9v.9h-.9zM399.4 594.3h.9v.9h-.9zM400.3 595.1h.9v.9h-.9zM392.8 610.2h.9v.9h-.9zM400.9 594.4h.9v.9h-.9zM401.4 594.2h.9v.9h-.9zM392.6 607.1h.9v.9h-.9zM401.9 593.8h.9v.9h-.9zM403.4 598.1h.9v.9h-.9zM394.3 607.3h.9v.9h-.9zM399.2 599.8h.9v.9h-.9z" fill="#3a8a43" fill-opacity="0.3"/>
<path d="M399.7 598.2h.9v.9h-.9zM403.0 600.3h.9v.9h-.9zM398.6 599.4h.9v.9h-.9zM404.7 599.9h.9v.9h-.9zM393.0 602.5h.9v.9h-.9zM400.7 598.5h.9v.9h-.9zM400.5 596.3h.9v.9h-.9zM397.7 597.8h.9v.9h-.9zM395.1 600.3h.9v.9h-.9zM400.1 596.0h.9v.9h-.9zM403.5 597.7h.9v.9h-.9zM402.4 599.6h.9v.9h-.9zM398.0 595.7h.9v.9h-.9zM384.4 605.9h.9v.9h-.9zM402.4 597.3h.9v.9h-.9zM391.5 608.4h.9v.9h-.9zM395.8 600.7h.9v.9h-.9zM403.8 596.1h.9v.9h-.9zM397.4 600.4h.9v.9h-.9zM397.5 597.9h.9v.9h-.9zM402.9 594.1h.9v.9h-.9zM392.6 603.5h.9v.9h-.9zM400.3 594.3h.9v.9h-.9zM384.3 608.8h.9v.9h-.9zM397.3 598.3h.9v.9h-.9zM386.6 609.6h.9v.9h-.9zM394.8 597.6h.9v.9h-.9zM388.7 604.5h.9v.9h-.9zM403.6 597.8h.9v.9h-.9zM403.8 595.0h.9v.9h-.9zM402.1 595.0h.9v.9h-.9zM390.0 603.1h.9v.9h-.9zM393.2 596.1h.9v.9h-.9zM404.7 598.5h.9v.9h-.9zM386.6 606.8h.9v.9h-.9zM400.6 596.0h.9v.9h-.9zM403.6 598.2h.9v.9h-.9zM401.7 593.0h.9v.9h-.9zM391.9 596.5h.9v.9h-.9zM404.2 598.0h.9v.9h-.9zM385.2 607.4h.9v.9h-.9zM404.1 596.5h.9v.9h-.9zM400.2 599.1h.9v.9h-.9zM391.0 603.5h.9v.9h-.9zM397.9 601.8h.9v.9h-.9zM403.5 595.5h.9v.9h-.9zM382.7 604.9h.9v.9h-.9zM389.4 607.6h.9v.9h-.9zM391.7 604.8h.9v.9h-.9zM401.6 596.8h.9v.9h-.9zM403.6 597.7h.9v.9h-.9zM403.0 594.6h.9v.9h-.9z" fill="#3a8a43" fill-opacity="0.3"/>
<path d="M387.3 605.4h.9v.9h-.9zM384.8 608.4h.9v.9h-.9zM401.7 601.8h.9v.9h-.9zM390.7 604.1h.9v.9h-.9zM394.5 606.5h.9v.9h-.9zM392.9 596.7h.9v.9h-.9zM394.1 610.3h.9v.9h-.9zM394.2 604.3h.9v.9h-.9zM385.7 605.6h.9v.9h-.9zM398.4 597.5h.9v.9h-.9zM396.3 602.9h.9v.9h-.9zM397.1 596.5h.9v.9h-.9zM394.5 601.8h.9v.9h-.9zM403.7 596.7h.9v.9h-.9zM400.6 600.8h.9v.9h-.9zM393.1 597.1h.9v.9h-.9zM391.5 603.7h.9v.9h-.9zM400.9 598.7h.9v.9h-.9zM403.2 596.0h.9v.9h-.9zM403.1 596.2h.9v.9h-.9zM398.6 596.2h.9v.9h-.9zM404.1 597.2h.9v.9h-.9zM399.9 594.6h.9v.9h-.9zM391.5 606.3h.9v.9h-.9zM402.3 596.7h.9v.9h-.9zM400.9 596.2h.9v.9h-.9zM388.3 609.3h.9v.9h-.9zM388.4 600.0h.9v.9h-.9zM404.4 597.5h.9v.9h-.9zM397.6 598.8h.9v.9h-.9zM398.2 598.0h.9v.9h-.9zM393.1 600.7h.9v.9h-.9zM393.0 600.1h.9v.9h-.9zM401.8 595.8h.9v.9h-.9zM397.6 595.3h.9v.9h-.9zM403.4 602.8h.9v.9h-.9zM394.6 594.2h.9v.9h-.9zM395.3 602.0h.9v.9h-.9zM399.0 595.2h.9v.9h-.9zM387.7 601.9h.9v.9h-.9zM390.8 604.5h.9v.9h-.9zM392.4 604.7h.9v.9h-.9zM405.1 599.3h.9v.9h-.9zM393.1 599.1h.9v.9h-.9zM402.1 597.1h.9v.9h-.9zM403.4 594.3h.9v.9h-.9zM403.6 595.2h.9v.9h-.9zM399.8 601.9h.9v.9h-.9zM400.3 600.2h.9v.9h-.9zM393.9 605.9h.9v.9h-.9zM403.6 595.5h.9v.9h-.9zM393.2 604.7h.9v.9h-.9z" fill="#3a8a43" fill-opacity="0.3"/>
<path d="M395.9 602.4h.9v.9h-.9zM397.4 595.3h.9v.9h-.9zM397.5 598.3h.9v.9h-.9zM403.7 599.2h.9v.9h-.9zM391.5 607.2h.9v.9h-.9zM401.4 597.4h.9v.9h-.9zM400.4 602.0h.9v.9h-.9zM394.2 605.3h.9v.9h-.9zM398.8 598.4h.9v.9h-.9zM400.1 606.0h.9v.9h-.9zM393.6 606.2h.9v.9h-.9zM400.2 599.5h.9v.9h-.9zM401.3 599.5h.9v.9h-.9zM388.4 601.1h.9v.9h-.9zM401.0 597.2h.9v.9h-.9zM405.1 597.3h.9v.9h-.9zM390.9 601.5h.9v.9h-.9zM404.3 596.3h.9v.9h-.9zM400.0 598.3h.9v.9h-.9zM398.3 602.5h.9v.9h-.9zM397.5 600.9h.9v.9h-.9zM403.1 596.9h.9v.9h-.9zM400.8 600.1h.9v.9h-.9zM394.4 596.2h.9v.9h-.9zM381.4 605.0h.9v.9h-.9zM385.9 608.5h.9v.9h-.9zM388.8 601.9h.9v.9h-.9zM403.1 596.9h.9v.9h-.9zM398.8 599.6h.9v.9h-.9zM402.3 594.8h.9v.9h-.9zM393.8 598.7h.9v.9h-.9zM395.4 597.6h.9v.9h-.9zM388.9 610.8h.9v.9h-.9zM399.8 594.1h.9v.9h-.9zM392.1 611.3h.9v.9h-.9zM403.5 599.1h.9v.9h-.9zM404.2 596.2h.9v.9h-.9zM397.6 592.8h.9v.9h-.9zM402.9 594.7h.9v.9h-.9zM403.2 597.5h.9v.9h-.9zM392.7 606.3h.9v.9h-.9zM398.7 597.8h.9v.9h-.9zM402.1 595.7h.9v.9h-.9zM402.8 597.7h.9v.9h-.9zM402.6 594.6h.9v.9h-.9zM403.2 594.4h.9v.9h-.9zM400.1 594.9h.9v.9h-.9zM389.2 605.3h.9v.9h-.9zM386.7 608.1h.9v.9h-.9zM399.8 595.2h.9v.9h-.9zM402.0 597.3h.9v.9h-.9z" fill="#3a8a43" fill-opacity="0.3"/>
<path d="M385.2 603.3h.9v.9h-.9zM402.6 598.8h.9v.9h-.9zM400.1 596.7h.9v.9h-.9zM403.9 595.2h.9v.9h-.9zM405.3 598.7h.9v.9h-.9zM392.5 606.3h.9v.9h-.9zM394.1 598.9h.9v.9h-.9zM403.3 599.0h.9v.9h-.9zM400.0 600.3h.9v.9h-.9zM391.1 598.5h.9v.9h-.9zM402.9 594.9h.9v.9h-.9zM399.3 599.3h.9v.9h-.9zM401.2 595.9h.9v.9h-.9zM401.4 594.8h.9v.9h-.9zM400.5 595.6h.9v.9h-.9zM396.2 597.3h.9v.9h-.9zM396.8 597.7h.9v.9h-.9zM388.5 605.7h.9v.9h-.9zM397.0 599.0h.9v.9h-.9zM402.0 597.5h.9v.9h-.9zM395.1 598.2h.9v.9h-.9zM392.0 604.5h.9v.9h-.9zM400.5 598.1h.9v.9h-.9zM402.4 597.7h.9v.9h-.9zM404.5 595.9h.9v.9h-.9zM399.4 600.8h.9v.9h-.9zM403.5 599.4h.9v.9h-.9zM399.7 598.3h.9v.9h-.9zM404.1 597.2h.9v.9h-.9zM383.9 604.8h.9v.9h-.9zM393.9 603.2h.9v.9h-.9zM402.7 600.1h.9v.9h-.9zM393.5 603.5h.9v.9h-.9zM387.9 609.5h.9v.9h-.9zM395.8 605.5h.9v.9h-.9zM391.8 609.8h.9v.9h-.9zM401.1 597.1h.9v.9h-.9zM391.2 595.7h.9v.9h-.9zM401.2 595.8h.9v.9h-.9zM403.5 596.0h.9v.9h-.9zM402.2 593.1h.9v.9h-.9zM403.3 602.3h.9v.9h-.9zM392.3 597.5h.9v.9h-.9zM404.7 597.0h.9v.9h-.9zM400.5 596.1h.9v.9h-.9zM401.3 592.6h.9v.9h-.9zM399.9 600.8h.9v.9h-.9zM398.3 603.5h.9v.9h-.9zM401.7 601.2h.9v.9h-.9zM402.8 595.5h.9v.9h-.9zM400.7 599.2h.9v.9h-.9z" fill="#3a8a43" fill-opacity="0.3"/>
<path d="M403.5 597.1h.9v.9h-.9zM400.9 598.3h.9v.9h-.9zM401.2 598.6h.9v.9h-.9zM402.0 597.1h.9v.9h-.9zM394.6 601.0h.9v.9h-.9zM396.5 600.2h.9v.9h-.9zM390.5 607.7h.9v.9h-.9zM399.1 607.3h.9v.9h-.9zM401.4 596.1h.9v.9h-.9zM400.1 600.0h.9v.9h-.9zM403.9 599.0h.9v.9h-.9zM400.6 596.2h.9v.9h-.9zM390.5 602.6h.9v.9h-.9zM393.6 601.1h.9v.9h-.9zM401.6 595.3h.9v.9h-.9zM385.1 601.7h.9v.9h-.9zM398.5 599.0h.9v.9h-.9zM403.1 595.3h.9v.9h-.9zM400.4 595.2h.9v.9h-.9zM402.7 599.6h.9v.9h-.9zM391.9 601.4h.9v.9h-.9zM399.7 603.1h.9v.9h-.9zM395.0 604.0h.9v.9h-.9zM404.1 597.8h.9v.9h-.9zM402.8 597.4h.9v.9h-.9zM398.9 599.2h.9v.9h-.9zM393.4 597.8h.9v.9h-.9zM400.8 597.7h.9v.9h-.9zM402.4 594.3h.9v.9h-.9zM388.6 601.0h.9v.9h-.9zM398.9 598.1h.9v.9h-.9zM403.0 596.9h.9v.9h-.9zM404.2 595.8h.9v.9h-.9zM399.4 597.7h.9v.9h-.9zM395.0 603.7h.9v.9h-.9zM403.8 600.9h.9v.9h-.9zM400.2 593.1h.9v.9h-.9zM395.4 599.9h.9v.9h-.9zM392.8 602.6h.9v.9h-.9zM397.6 592.4h.9v.9h-.9zM402.7 596.8h.9v.9h-.9zM400.2 597.4h.9v.9h-.9zM393.6 601.7h.9v.9h-.9zM404.5 597.8h.9v.9h-.9zM396.9 599.1h.9v.9h-.9zM400.0 597.4h.9v.9h-.9zM403.2 596.1h.9v.9h-.9zM387.3 609.0h.9v.9h-.9zM385.8 603.7h.9v.9h-.9zM397.5 606.6h.9v.9h-.9zM398.7 599.1h.9v.9h-.9z" fill="#3a8a43" fill-opacity="0.3"/>
<path d="M386.6 610.4h.9v.9h-.9zM402.5 598.0h.9v.9h-.9zM402.8 598.0h.9v.9h-.9zM401.6 601.7h.9v.9h-.9zM405.2 598.6h.9v.9h-.9zM393.2 609.3h.9v.9h-.9zM403.2 594.7h.9v.9h-.9zM400.4 602.3h.9v.9h-.9zM401.9 600.7h.9v.9h-.9zM402.3 595.5h.9v.9h-.9zM404.4 598.3h.9v.9h-.9zM392.5 599.4h.9v.9h-.9zM398.5 601.4h.9v.9h-.9zM387.6 606.2h.9v.9h-.9zM398.7 601.5h.9v.9h-.9zM404.0 602.3h.9v.9h-.9zM404.0 601.0h.9v.9h-.9zM403.8 596.3h.9v.9h-.9zM395.4 600.2h.9v.9h-.9zM398.7 597.7h.9v.9h-.9zM392.0 604.5h.9v.9h-.9zM385.6 603.9h.9v.9h-.9zM401.9 596.5h.9v.9h-.9zM389.2 606.5h.9v.9h-.9zM406.8 601.6h.9v.9h-.9zM397.8 610.6h.9v.9h-.9zM396.2 595.5h.9v.9h-.9zM402.4 595.6h.9v.9h-.9zM397.5 597.7h.9v.9h-.9zM400.5 600.3h.9v.9h-.9zM393.4 604.7h.9v.9h-.9zM399.3 600.0h.9v.9h-.9zM393.0 600.9h.9v.9h-.9zM402.8 595.9h.9v.9h-.9zM395.8 599.0h.9v.9h-.9zM392.7 597.5h.9v.9h-.9zM392.0 602.6h.9v.9h-.9zM384.5 609.2h.9v.9h-.9zM400.6 595.6h.9v.9h-.9zM401.9 597.7h.9v.9h-.9zM404.8 596.8h.9v.9h-.9zM398.8 602.0h.9v.9h-.9zM399.7 600.7h.9v.9h-.9zM397.7 605.6h.9v.9h-.9zM387.9 610.4h.9v.9h-.9zM401.3 598.4h.9v.9h-.9zM399.5 598.0h.9v.9h-.9zM400.1 597.0h.9v.9h-.9zM397.5 606.4h.9v.9h-.9zM395.7 599.3h.9v.9h-.9zM400.3 596.6h.9v.9h-.9z" fill="#3a8a43" fill-opacity="0.3"/>
<path d="M406.1,595.8 L405.1,603.8 L394.1,605.8 L392.1,601.8 Z" fill="#24632b" fill-opacity="0.7" filter="url(#bl)"/>
<rect x="380.60" y="590.40" width="30.30" height="22.40" fill="none" stroke="#8f93a2" stroke-width="1.0"/>
<text x="410.70" y="621.40" font-size="7.0" text-anchor="end" fill="#555" font-family="Liberation Serif, serif" textLength="10.2" lengthAdjust="spacingAndGlyphs">70.2</text>
<text x="410.50" y="640.70" font-size="6.6" text-anchor="end" fill="#111" stroke="#111" stroke-width="0.25" font-family="Liberation Serif, serif" textLength="18" lengthAdjust="spacingAndGlyphs">P95H/+</text>
<rect x="420.60" y="589.80" width="52.90" height="51.20" fill="#fff" stroke="#cdcdd2" stroke-width="0.9"/>
<line x1="419.70" y1="595.80" x2="421.20" y2="595.80" stroke="#666" stroke-width="0.6"/>
<line x1="419.70" y1="606.30" x2="421.20" y2="606.30" stroke="#666" stroke-width="0.6"/>
<line x1="419.70" y1="616.80" x2="421.20" y2="616.80" stroke="#666" stroke-width="0.6"/>
<line x1="419.70" y1="627.30" x2="421.20" y2="627.30" stroke="#666" stroke-width="0.6"/>
<line x1="419.70" y1="637.80" x2="421.20" y2="637.80" stroke="#666" stroke-width="0.6"/>
<line x1="423.60" y1="641.30" x2="423.60" y2="642.80" stroke="#888" stroke-width="0.5"/>
<line x1="427.10" y1="641.30" x2="427.10" y2="642.80" stroke="#888" stroke-width="0.5"/>
<line x1="430.60" y1="641.30" x2="430.60" y2="642.80" stroke="#888" stroke-width="0.5"/>
<line x1="434.10" y1="641.30" x2="434.10" y2="642.80" stroke="#888" stroke-width="0.5"/>
<line x1="437.60" y1="641.30" x2="437.60" y2="642.80" stroke="#888" stroke-width="0.5"/>
<line x1="441.10" y1="641.30" x2="441.10" y2="642.80" stroke="#888" stroke-width="0.5"/>
<line x1="444.60" y1="641.30" x2="444.60" y2="642.80" stroke="#888" stroke-width="0.5"/>
<line x1="448.10" y1="641.30" x2="448.10" y2="642.80" stroke="#888" stroke-width="0.5"/>
<line x1="451.60" y1="641.30" x2="451.60" y2="642.80" stroke="#888" stroke-width="0.5"/>
<line x1="455.10" y1="641.30" x2="455.10" y2="642.80" stroke="#888" stroke-width="0.5"/>
<line x1="458.60" y1="641.30" x2="458.60" y2="642.80" stroke="#888" stroke-width="0.5"/>
<line x1="462.10" y1="641.30" x2="462.10" y2="642.80" stroke="#888" stroke-width="0.5"/>
<line x1="465.60" y1="641.30" x2="465.60" y2="642.80" stroke="#888" stroke-width="0.5"/>
<line x1="469.10" y1="641.30" x2="469.10" y2="642.80" stroke="#888" stroke-width="0.5"/>
<line x1="424.60" y1="642.60" x2="431.60" y2="642.60" stroke="#666" stroke-width="0.8"/>
<path d="M428.7 627.6h.8v.8h-.8zM425.9 626.8h.8v.8h-.8zM443.4 617.2h.8v.8h-.8zM427.8 622.6h.8v.8h-.8zM429.1 626.6h.8v.8h-.8zM436.0 624.4h.8v.8h-.8zM455.7 616.6h.8v.8h-.8zM432.7 626.4h.8v.8h-.8zM432.1 624.8h.8v.8h-.8zM425.9 632.3h.8v.8h-.8zM438.1 625.4h.8v.8h-.8zM430.9 624.2h.8v.8h-.8zM425.5 631.9h.8v.8h-.8zM448.5 622.4h.8v.8h-.8zM432.2 628.0h.8v.8h-.8zM432.4 625.8h.8v.8h-.8zM429.6 627.0h.8v.8h-.8zM423.0 626.0h.8v.8h-.8zM425.6 630.3h.8v.8h-.8zM437.9 621.1h.8v.8h-.8zM446.8 615.1h.8v.8h-.8zM461.4 609.0h.8v.8h-.8zM461.8 615.9h.8v.8h-.8zM463.0 609.2h.8v.8h-.8zM438.5 624.9h.8v.8h-.8zM429.2 620.9h.8v.8h-.8zM445.7 613.3h.8v.8h-.8zM462.5 608.7h.8v.8h-.8zM425.6 625.8h.8v.8h-.8zM430.0 625.9h.8v.8h-.8zM429.6 624.6h.8v.8h-.8zM451.7 619.6h.8v.8h-.8zM438.7 623.4h.8v.8h-.8zM423.0 627.7h.8v.8h-.8zM434.0 622.0h.8v.8h-.8zM449.3 620.4h.8v.8h-.8zM433.6 627.4h.8v.8h-.8zM425.9 630.3h.8v.8h-.8zM436.7 621.1h.8v.8h-.8zM436.3 624.4h.8v.8h-.8zM425.7 628.3h.8v.8h-.8zM428.0 627.3h.8v.8h-.8zM463.9 612.5h.8v.8h-.8zM445.3 616.1h.8v.8h-.8zM446.1 619.2h.8v.8h-.8zM435.6 624.4h.8v.8h-.8zM439.0 625.2h.8v.8h-.8zM426.0 627.6h.8v.8h-.8zM431.3 628.5h.8v.8h-.8zM428.6 628.3h.8v.8h-.8zM432.3 619.5h.8v.8h-.8zM439.0 625.7h.8v.8h-.8zM432.5 628.1h.8v.8h-.8zM451.1 619.9h.8v.8h-.8zM457.9 611.2h.8v.8h-.8zM438.3 623.2h.8v.8h-.8zM462.5 607.6h.8v.8h-.8zM431.9 626.5h.8v.8h-.8zM440.3 616.2h.8v.8h-.8zM448.6 619.6h.8v.8h-.8zM451.5 614.2h.8v.8h-.8zM442.4 625.8h.8v.8h-.8zM425.3 630.6h.8v.8h-.8zM447.0 616.2h.8v.8h-.8zM432.5 625.6h.8v.8h-.8zM429.5 628.7h.8v.8h-.8zM448.7 621.9h.8v.8h-.8zM440.1 624.7h.8v.8h-.8zM439.2 623.5h.8v.8h-.8zM440.3 622.2h.8v.8h-.8zM433.7 627.5h.8v.8h-.8zM423.8 627.4h.8v.8h-.8zM439.5 622.2h.8v.8h-.8zM447.0 614.0h.8v.8h-.8zM449.1 616.4h.8v.8h-.8z" fill="#6aa570" fill-opacity="0.2"/>
<path d="M440.3 623.0h.8v.8h-.8zM435.9 623.4h.8v.8h-.8zM436.6 618.7h.8v.8h-.8zM437.3 629.1h.8v.8h-.8zM446.5 621.4h.8v.8h-.8zM429.0 624.9h.8v.8h-.8zM431.0 625.9h.8v.8h-.8zM432.1 627.4h.8v.8h-.8zM437.3 622.8h.8v.8h-.8zM462.3 611.0h.8v.8h-.8zM442.7 623.1h.8v.8h-.8zM458.1 613.2h.8v.8h-.8zM436.6 624.3h.8v.8h-.8zM433.4 623.7h.8v.8h-.8zM435.8 627.6h.8v.8h-.8zM429.5 628.8h.8v.8h-.8zM429.1 630.3h.8v.8h-.8zM443.7 620.2h.8v.8h-.8zM429.4 628.7h.8v.8h-.8zM449.1 611.2h.8v.8h-.8zM426.6 630.5h.8v.8h-.8zM434.6 626.6h.8v.8h-.8zM428.4 626.0h.8v.8h-.8zM433.9 632.4h.8v.8h-.8zM436.3 617.8h.8v.8h-.8zM441.0 620.4h.8v.8h-.8zM458.4 613.0h.8v.8h-.8zM431.5 629.4h.8v.8h-.8zM431.4 623.4h.8v.8h-.8zM459.0 613.4h.8v.8h-.8zM428.2 623.1h.8v.8h-.8zM426.6 627.3h.8v.8h-.8zM450.7 618.2h.8v.8h-.8zM440.9 612.7h.8v.8h-.8zM429.5 623.8h.8v.8h-.8zM453.2 608.5h.8v.8h-.8zM431.2 625.5h.8v.8h-.8zM432.4 625.8h.8v.8h-.8zM425.9 631.0h.8v.8h-.8zM425.0 628.7h.8v.8h-.8zM426.2 624.7h.8v.8h-.8zM434.9 622.6h.8v.8h-.8zM425.7 629.6h.8v.8h-.8zM446.5 615.8h.8v.8h-.8zM428.0 626.9h.8v.8h-.8zM442.9 621.8h.8v.8h-.8zM446.1 625.4h.8v.8h-.8zM447.0 620.5h.8v.8h-.8zM449.9 615.7h.8v.8h-.8zM447.6 630.0h.8v.8h-.8zM437.0 626.0h.8v.8h-.8zM436.6 623.5h.8v.8h-.8zM433.1 626.2h.8v.8h-.8zM444.7 619.1h.8v.8h-.8zM424.9 627.1h.8v.8h-.8zM433.0 625.4h.8v.8h-.8zM431.2 629.5h.8v.8h-.8zM427.8 628.2h.8v.8h-.8zM442.4 617.5h.8v.8h-.8zM432.8 628.9h.8v.8h-.8zM436.3 622.9h.8v.8h-.8zM443.9 625.2h.8v.8h-.8zM435.6 627.3h.8v.8h-.8zM427.6 630.1h.8v.8h-.8zM424.3 628.7h.8v.8h-.8zM445.3 609.5h.8v.8h-.8zM461.4 621.6h.8v.8h-.8zM463.7 610.4h.8v.8h-.8zM436.2 622.3h.8v.8h-.8zM440.4 624.0h.8v.8h-.8zM444.6 621.6h.8v.8h-.8zM440.1 620.4h.8v.8h-.8zM439.3 626.4h.8v.8h-.8zM448.8 616.9h.8v.8h-.8zM428.1 626.6h.8v.8h-.8z" fill="#6aa570" fill-opacity="0.2"/>
<path d="M429.1 623.5h.8v.8h-.8zM433.7 625.7h.8v.8h-.8zM429.8 630.0h.8v.8h-.8zM458.8 615.2h.8v.8h-.8zM435.2 625.3h.8v.8h-.8zM449.3 615.1h.8v.8h-.8zM459.3 614.3h.8v.8h-.8zM433.9 622.2h.8v.8h-.8zM453.9 621.6h.8v.8h-.8zM433.7 628.3h.8v.8h-.8zM449.6 617.2h.8v.8h-.8zM437.3 626.2h.8v.8h-.8zM425.6 632.9h.8v.8h-.8zM426.3 631.8h.8v.8h-.8zM445.9 618.6h.8v.8h-.8zM428.6 626.1h.8v.8h-.8zM425.3 629.9h.8v.8h-.8zM430.4 624.3h.8v.8h-.8zM433.7 628.3h.8v.8h-.8zM453.2 610.7h.8v.8h-.8zM429.2 629.9h.8v.8h-.8zM444.1 622.8h.8v.8h-.8zM427.5 633.9h.8v.8h-.8zM427.6 627.2h.8v.8h-.8zM426.7 622.5h.8v.8h-.8zM456.6 613.6h.8v.8h-.8zM461.3 603.6h.8v.8h-.8zM456.7 611.6h.8v.8h-.8zM424.6 627.2h.8v.8h-.8zM433.4 624.2h.8v.8h-.8zM430.8 628.1h.8v.8h-.8zM434.3 626.1h.8v.8h-.8zM442.0 618.8h.8v.8h-.8zM427.0 633.0h.8v.8h-.8zM448.9 620.2h.8v.8h-.8zM433.8 623.9h.8v.8h-.8zM463.6 608.0h.8v.8h-.8zM430.6 628.7h.8v.8h-.8zM440.0 629.7h.8v.8h-.8zM430.5 630.6h.8v.8h-.8zM427.7 632.7h.8v.8h-.8zM428.5 630.4h.8v.8h-.8zM441.0 622.4h.8v.8h-.8zM428.3 629.3h.8v.8h-.8zM438.6 623.3h.8v.8h-.8zM440.6 615.4h.8v.8h-.8zM430.2 627.3h.8v.8h-.8zM439.9 618.0h.8v.8h-.8zM455.4 610.4h.8v.8h-.8zM433.0 621.7h.8v.8h-.8zM437.0 624.5h.8v.8h-.8zM425.2 631.5h.8v.8h-.8zM425.8 628.1h.8v.8h-.8zM453.3 617.1h.8v.8h-.8zM435.9 617.7h.8v.8h-.8zM437.7 628.1h.8v.8h-.8zM441.5 619.2h.8v.8h-.8zM449.6 623.6h.8v.8h-.8zM458.2 606.4h.8v.8h-.8zM447.1 608.6h.8v.8h-.8zM427.2 629.9h.8v.8h-.8zM443.4 619.2h.8v.8h-.8zM453.6 615.4h.8v.8h-.8zM431.5 622.2h.8v.8h-.8zM460.0 608.1h.8v.8h-.8zM436.1 627.5h.8v.8h-.8zM434.7 624.2h.8v.8h-.8zM441.3 620.3h.8v.8h-.8zM435.4 622.4h.8v.8h-.8zM443.3 618.9h.8v.8h-.8zM432.7 625.1h.8v.8h-.8zM428.3 625.6h.8v.8h-.8zM424.3 630.5h.8v.8h-.8zM434.7 623.6h.8v.8h-.8zM446.9 623.0h.8v.8h-.8z" fill="#6aa570" fill-opacity="0.2"/>
<path d="M428.5 626.0h.8v.8h-.8zM451.0 616.9h.8v.8h-.8zM435.5 621.8h.8v.8h-.8zM431.7 628.8h.8v.8h-.8zM461.8 606.4h.8v.8h-.8zM446.8 612.3h.8v.8h-.8zM433.9 622.6h.8v.8h-.8zM425.7 631.3h.8v.8h-.8zM436.8 620.9h.8v.8h-.8zM441.6 624.8h.8v.8h-.8zM459.3 609.1h.8v.8h-.8zM428.0 629.5h.8v.8h-.8zM442.4 625.8h.8v.8h-.8zM448.4 622.2h.8v.8h-.8zM450.2 618.1h.8v.8h-.8zM446.6 619.0h.8v.8h-.8zM446.7 617.7h.8v.8h-.8zM432.7 627.3h.8v.8h-.8zM429.6 629.5h.8v.8h-.8zM425.3 630.3h.8v.8h-.8zM460.1 606.0h.8v.8h-.8zM434.7 623.0h.8v.8h-.8zM440.3 622.2h.8v.8h-.8zM443.2 630.8h.8v.8h-.8zM442.9 618.9h.8v.8h-.8zM445.8 613.8h.8v.8h-.8zM441.9 624.2h.8v.8h-.8zM426.4 628.9h.8v.8h-.8zM434.5 622.2h.8v.8h-.8zM427.9 624.9h.8v.8h-.8zM434.5 625.7h.8v.8h-.8zM442.3 622.3h.8v.8h-.8zM454.4 616.5h.8v.8h-.8zM428.7 628.8h.8v.8h-.8zM433.5 623.2h.8v.8h-.8zM426.0 627.8h.8v.8h-.8zM456.8 606.9h.8v.8h-.8zM460.4 605.1h.8v.8h-.8zM427.2 626.5h.8v.8h-.8zM450.7 618.7h.8v.8h-.8zM425.4 629.2h.8v.8h-.8zM440.8 623.1h.8v.8h-.8zM451.6 618.0h.8v.8h-.8zM427.8 626.2h.8v.8h-.8zM426.4 631.9h.8v.8h-.8zM462.1 605.6h.8v.8h-.8zM426.5 627.8h.8v.8h-.8zM433.2 623.7h.8v.8h-.8zM433.4 621.9h.8v.8h-.8zM430.8 625.8h.8v.8h-.8zM429.8 633.4h.8v.8h-.8zM438.4 625.4h.8v.8h-.8zM438.7 620.6h.8v.8h-.8zM427.8 624.9h.8v.8h-.8zM427.3 627.4h.8v.8h-.8zM440.7 626.4h.8v.8h-.8zM439.7 616.8h.8v.8h-.8zM429.5 626.5h.8v.8h-.8zM434.3 630.3h.8v.8h-.8zM428.5 632.2h.8v.8h-.8zM444.4 618.8h.8v.8h-.8zM432.8 627.2h.8v.8h-.8zM439.8 623.3h.8v.8h-.8zM431.2 629.8h.8v.8h-.8zM437.6 625.2h.8v.8h-.8zM426.0 624.1h.8v.8h-.8zM424.6 628.1h.8v.8h-.8zM441.6 622.9h.8v.8h-.8zM434.5 625.9h.8v.8h-.8zM439.1 622.6h.8v.8h-.8zM424.0 627.1h.8v.8h-.8zM436.1 627.7h.8v.8h-.8zM457.8 601.5h.8v.8h-.8zM443.5 621.0h.8v.8h-.8zM452.3 620.8h.8v.8h-.8z" fill="#6aa570" fill-opacity="0.2"/>
<path d="M424.1 627.8h.9v.9h-.9zM431.7 625.8h.9v.9h-.9zM442.8 622.0h.9v.9h-.9zM437.2 624.8h.9v.9h-.9zM427.3 630.5h.9v.9h-.9zM425.3 629.0h.9v.9h-.9zM424.1 632.2h.9v.9h-.9zM428.6 627.2h.9v.9h-.9zM430.0 625.4h.9v.9h-.9zM424.8 630.5h.9v.9h-.9zM425.2 627.5h.9v.9h-.9zM422.5 630.3h.9v.9h-.9zM426.8 628.1h.9v.9h-.9zM427.2 628.0h.9v.9h-.9zM426.2 628.4h.9v.9h-.9zM427.4 625.7h.9v.9h-.9zM429.2 628.3h.9v.9h-.9zM424.7 632.0h.9v.9h-.9zM428.0 630.1h.9v.9h-.9zM426.1 628.9h.9v.9h-.9zM424.5 629.9h.9v.9h-.9zM426.6 628.8h.9v.9h-.9zM427.7 628.6h.9v.9h-.9zM431.1 626.8h.9v.9h-.9zM437.2 623.0h.9v.9h-.9zM426.6 631.6h.9v.9h-.9zM446.4 619.8h.9v.9h-.9zM427.2 626.9h.9v.9h-.9zM427.4 628.6h.9v.9h-.9zM427.7 627.8h.9v.9h-.9zM424.6 629.6h.9v.9h-.9zM422.8 629.8h.9v.9h-.9zM433.7 628.9h.9v.9h-.9zM427.4 629.2h.9v.9h-.9zM431.8 625.9h.9v.9h-.9zM430.3 628.0h.9v.9h-.9zM450.5 616.2h.9v.9h-.9zM430.8 623.6h.9v.9h-.9zM424.9 627.9h.9v.9h-.9zM443.3 618.4h.9v.9h-.9zM437.5 620.4h.9v.9h-.9zM429.9 626.4h.9v.9h-.9zM444.8 616.3h.9v.9h-.9zM431.1 628.4h.9v.9h-.9z" fill="#3a8a43" fill-opacity="0.26"/>
<path d="M425.6 628.3h.9v.9h-.9zM429.4 628.1h.9v.9h-.9zM423.9 630.9h.9v.9h-.9zM423.0 630.9h.9v.9h-.9zM427.3 626.6h.9v.9h-.9zM428.1 627.1h.9v.9h-.9zM422.8 630.4h.9v.9h-.9zM442.7 621.0h.9v.9h-.9zM422.9 631.1h.9v.9h-.9zM437.1 621.5h.9v.9h-.9zM429.9 627.5h.9v.9h-.9zM425.2 629.8h.9v.9h-.9zM430.0 626.7h.9v.9h-.9zM428.4 626.3h.9v.9h-.9zM440.5 624.6h.9v.9h-.9zM429.8 624.0h.9v.9h-.9zM423.2 630.6h.9v.9h-.9zM426.0 628.7h.9v.9h-.9zM424.8 629.8h.9v.9h-.9zM423.9 631.2h.9v.9h-.9zM438.7 621.1h.9v.9h-.9zM423.1 630.0h.9v.9h-.9zM426.4 630.1h.9v.9h-.9zM437.8 624.3h.9v.9h-.9zM428.7 628.6h.9v.9h-.9zM431.9 623.8h.9v.9h-.9zM422.9 629.8h.9v.9h-.9zM443.0 624.5h.9v.9h-.9zM424.9 627.7h.9v.9h-.9zM425.4 630.1h.9v.9h-.9zM450.5 615.5h.9v.9h-.9zM427.0 624.2h.9v.9h-.9zM423.3 630.8h.9v.9h-.9zM445.6 621.4h.9v.9h-.9zM424.3 630.5h.9v.9h-.9zM440.3 620.8h.9v.9h-.9zM423.2 628.3h.9v.9h-.9zM425.0 632.1h.9v.9h-.9zM423.7 629.7h.9v.9h-.9zM427.9 628.6h.9v.9h-.9zM429.5 624.4h.9v.9h-.9zM431.3 627.5h.9v.9h-.9zM428.3 627.0h.9v.9h-.9zM424.1 631.0h.9v.9h-.9z" fill="#3a8a43" fill-opacity="0.26"/>
<path d="M429.6 624.0h.9v.9h-.9zM425.1 630.6h.9v.9h-.9zM427.4 626.9h.9v.9h-.9zM444.4 614.4h.9v.9h-.9zM425.4 629.7h.9v.9h-.9zM424.1 630.8h.9v.9h-.9zM424.2 631.0h.9v.9h-.9zM432.2 628.5h.9v.9h-.9zM424.7 630.0h.9v.9h-.9zM424.6 629.3h.9v.9h-.9zM439.9 616.0h.9v.9h-.9zM440.0 622.7h.9v.9h-.9zM430.4 627.6h.9v.9h-.9zM432.1 623.6h.9v.9h-.9zM423.9 629.1h.9v.9h-.9zM430.2 625.0h.9v.9h-.9zM429.8 627.3h.9v.9h-.9zM424.8 632.7h.9v.9h-.9zM439.7 622.7h.9v.9h-.9zM425.0 628.5h.9v.9h-.9zM425.9 629.9h.9v.9h-.9zM438.4 621.9h.9v.9h-.9zM425.0 629.8h.9v.9h-.9zM454.0 620.0h.9v.9h-.9zM434.8 627.5h.9v.9h-.9zM427.9 627.2h.9v.9h-.9zM423.6 627.9h.9v.9h-.9zM428.9 628.0h.9v.9h-.9zM422.7 628.3h.9v.9h-.9zM446.4 621.9h.9v.9h-.9zM424.1 629.4h.9v.9h-.9zM426.3 628.1h.9v.9h-.9zM437.3 624.2h.9v.9h-.9zM422.6 630.3h.9v.9h-.9zM438.7 625.2h.9v.9h-.9zM435.7 624.0h.9v.9h-.9zM436.5 623.4h.9v.9h-.9zM424.2 628.9h.9v.9h-.9zM437.9 624.3h.9v.9h-.9zM424.7 627.8h.9v.9h-.9zM423.5 629.5h.9v.9h-.9zM430.8 627.2h.9v.9h-.9zM446.4 621.2h.9v.9h-.9z" fill="#3a8a43" fill-opacity="0.26"/>
<path d="M433.4 622.6h.9v.9h-.9zM440.3 621.3h.9v.9h-.9zM431.3 626.0h.9v.9h-.9zM425.3 628.8h.9v.9h-.9zM429.0 628.1h.9v.9h-.9zM443.3 618.9h.9v.9h-.9zM445.1 620.6h.9v.9h-.9zM430.3 626.8h.9v.9h-.9zM423.3 631.1h.9v.9h-.9zM425.3 631.1h.9v.9h-.9zM427.1 626.8h.9v.9h-.9zM429.4 626.9h.9v.9h-.9zM445.3 622.1h.9v.9h-.9zM426.0 628.0h.9v.9h-.9zM429.9 625.3h.9v.9h-.9zM424.6 631.9h.9v.9h-.9zM440.0 623.4h.9v.9h-.9zM423.3 630.1h.9v.9h-.9zM427.1 631.6h.9v.9h-.9zM423.7 632.6h.9v.9h-.9zM424.6 630.3h.9v.9h-.9zM424.6 630.6h.9v.9h-.9zM426.2 628.3h.9v.9h-.9zM424.5 630.1h.9v.9h-.9zM423.9 630.7h.9v.9h-.9zM427.2 627.3h.9v.9h-.9zM433.1 625.4h.9v.9h-.9zM427.3 625.7h.9v.9h-.9zM423.6 628.9h.9v.9h-.9zM426.7 625.3h.9v.9h-.9zM423.7 628.4h.9v.9h-.9zM433.2 625.2h.9v.9h-.9zM433.3 627.4h.9v.9h-.9zM438.4 619.9h.9v.9h-.9zM425.0 632.3h.9v.9h-.9zM435.4 630.8h.9v.9h-.9zM423.0 630.1h.9v.9h-.9zM433.4 625.8h.9v.9h-.9zM422.5 628.7h.9v.9h-.9zM426.5 630.7h.9v.9h-.9zM434.0 625.5h.9v.9h-.9zM424.1 632.2h.9v.9h-.9zM424.3 629.7h.9v.9h-.9z" fill="#3a8a43" fill-opacity="0.26"/>
<path d="M429.8 623.4h.9v.9h-.9zM426.1 629.7h.9v.9h-.9zM427.7 629.2h.9v.9h-.9zM442.3 624.2h.9v.9h-.9zM428.8 628.4h.9v.9h-.9zM443.2 622.1h.9v.9h-.9zM434.2 623.1h.9v.9h-.9zM422.5 627.9h.9v.9h-.9zM435.0 627.5h.9v.9h-.9zM424.8 629.3h.9v.9h-.9zM427.9 629.5h.9v.9h-.9zM428.4 629.1h.9v.9h-.9zM439.2 620.0h.9v.9h-.9zM425.7 628.3h.9v.9h-.9zM431.1 626.2h.9v.9h-.9zM438.6 619.9h.9v.9h-.9zM425.1 628.9h.9v.9h-.9zM436.1 617.6h.9v.9h-.9zM435.1 623.2h.9v.9h-.9zM427.7 627.2h.9v.9h-.9zM423.2 629.1h.9v.9h-.9zM434.2 626.8h.9v.9h-.9zM435.1 629.2h.9v.9h-.9zM423.1 630.1h.9v.9h-.9zM426.5 629.1h.9v.9h-.9zM428.2 626.3h.9v.9h-.9zM442.2 621.0h.9v.9h-.9zM428.4 630.6h.9v.9h-.9zM441.3 622.6h.9v.9h-.9zM428.8 629.3h.9v.9h-.9zM427.2 627.6h.9v.9h-.9zM432.5 627.1h.9v.9h-.9zM445.1 620.2h.9v.9h-.9zM427.7 628.2h.9v.9h-.9zM444.8 622.8h.9v.9h-.9zM428.0 628.8h.9v.9h-.9zM423.7 630.8h.9v.9h-.9zM436.8 623.4h.9v.9h-.9zM424.7 629.7h.9v.9h-.9zM432.3 625.4h.9v.9h-.9zM424.9 628.5h.9v.9h-.9zM424.1 632.5h.9v.9h-.9zM427.6 625.5h.9v.9h-.9z" fill="#3a8a43" fill-opacity="0.26"/>
<path d="M429.5 626.2h.9v.9h-.9zM426.5 630.7h.9v.9h-.9zM424.2 628.0h.9v.9h-.9zM435.2 624.7h.9v.9h-.9zM424.0 631.8h.9v.9h-.9zM431.5 625.9h.9v.9h-.9zM423.6 632.5h.9v.9h-.9zM429.3 627.9h.9v.9h-.9zM436.6 623.4h.9v.9h-.9zM441.4 616.6h.9v.9h-.9zM428.0 628.3h.9v.9h-.9zM428.9 628.1h.9v.9h-.9zM432.9 623.9h.9v.9h-.9zM426.6 627.3h.9v.9h-.9zM426.3 629.1h.9v.9h-.9zM432.0 626.1h.9v.9h-.9zM425.3 630.3h.9v.9h-.9zM426.6 627.3h.9v.9h-.9zM427.8 624.2h.9v.9h-.9zM431.9 625.9h.9v.9h-.9zM427.9 631.9h.9v.9h-.9zM432.3 625.5h.9v.9h-.9zM430.6 627.7h.9v.9h-.9zM436.9 622.8h.9v.9h-.9zM428.9 628.2h.9v.9h-.9zM438.2 623.9h.9v.9h-.9zM422.6 629.7h.9v.9h-.9zM428.9 626.6h.9v.9h-.9zM428.9 627.5h.9v.9h-.9zM429.8 627.8h.9v.9h-.9zM426.8 629.1h.9v.9h-.9zM424.0 631.0h.9v.9h-.9zM432.2 625.0h.9v.9h-.9zM424.7 632.5h.9v.9h-.9zM429.0 628.3h.9v.9h-.9zM430.5 630.2h.9v.9h-.9zM435.5 627.5h.9v.9h-.9zM428.9 626.1h.9v.9h-.9zM428.9 624.3h.9v.9h-.9zM428.2 627.8h.9v.9h-.9zM422.1 629.4h.9v.9h-.9zM444.1 615.6h.9v.9h-.9zM443.6 622.0h.9v.9h-.9z" fill="#3a8a43" fill-opacity="0.26"/>
<ellipse cx="425.6" cy="631.3" rx="3.6" ry="2.2" fill="#24632b" fill-opacity="0.65" filter="url(#bl)" transform="rotate(-25 425.6 631.3)"/>
<path d="M459.0 598.3h.9v.9h-.9zM462.6 602.7h.9v.9h-.9zM447.3 600.3h.9v.9h-.9zM463.6 593.3h.9v.9h-.9zM456.5 596.0h.9v.9h-.9zM465.8 596.2h.9v.9h-.9zM466.6 596.8h.9v.9h-.9zM466.0 597.3h.9v.9h-.9zM456.4 600.8h.9v.9h-.9zM450.1 610.0h.9v.9h-.9zM465.3 595.2h.9v.9h-.9zM459.4 603.2h.9v.9h-.9zM462.1 598.6h.9v.9h-.9zM451.3 608.6h.9v.9h-.9zM466.6 598.0h.9v.9h-.9zM455.6 600.3h.9v.9h-.9zM459.4 605.3h.9v.9h-.9zM459.5 596.1h.9v.9h-.9zM451.6 602.5h.9v.9h-.9zM461.0 599.5h.9v.9h-.9zM457.5 604.8h.9v.9h-.9zM464.9 596.3h.9v.9h-.9zM466.3 596.1h.9v.9h-.9zM461.2 601.0h.9v.9h-.9zM451.0 599.0h.9v.9h-.9zM463.6 596.3h.9v.9h-.9zM449.3 598.3h.9v.9h-.9zM465.7 596.9h.9v.9h-.9zM466.9 596.9h.9v.9h-.9zM453.3 606.1h.9v.9h-.9zM463.8 595.2h.9v.9h-.9zM466.2 595.5h.9v.9h-.9zM459.7 597.7h.9v.9h-.9zM463.0 596.0h.9v.9h-.9zM450.7 603.1h.9v.9h-.9zM465.3 596.9h.9v.9h-.9zM455.7 607.5h.9v.9h-.9zM464.4 593.4h.9v.9h-.9zM460.6 597.6h.9v.9h-.9zM463.6 598.0h.9v.9h-.9zM465.5 596.8h.9v.9h-.9zM462.3 594.5h.9v.9h-.9zM466.3 597.6h.9v.9h-.9zM456.3 598.9h.9v.9h-.9zM452.4 602.1h.9v.9h-.9zM465.3 595.7h.9v.9h-.9zM454.6 599.4h.9v.9h-.9zM459.9 595.0h.9v.9h-.9zM462.7 595.6h.9v.9h-.9zM462.6 604.1h.9v.9h-.9zM462.8 595.3h.9v.9h-.9zM459.6 592.1h.9v.9h-.9z" fill="#3a8a43" fill-opacity="0.3"/>
<path d="M463.1 601.7h.9v.9h-.9zM459.5 597.7h.9v.9h-.9zM453.5 606.7h.9v.9h-.9zM461.7 592.0h.9v.9h-.9zM459.0 597.8h.9v.9h-.9zM465.4 596.9h.9v.9h-.9zM463.8 595.7h.9v.9h-.9zM461.3 603.3h.9v.9h-.9zM465.5 594.7h.9v.9h-.9zM456.6 603.7h.9v.9h-.9zM459.8 597.8h.9v.9h-.9zM460.9 597.3h.9v.9h-.9zM456.1 605.5h.9v.9h-.9zM465.3 596.5h.9v.9h-.9zM463.4 602.4h.9v.9h-.9zM457.2 599.1h.9v.9h-.9zM466.5 600.8h.9v.9h-.9zM463.4 600.1h.9v.9h-.9zM462.3 595.2h.9v.9h-.9zM467.1 597.9h.9v.9h-.9zM466.5 596.0h.9v.9h-.9zM452.4 599.6h.9v.9h-.9zM454.4 607.6h.9v.9h-.9zM454.1 601.7h.9v.9h-.9zM457.3 600.0h.9v.9h-.9zM464.5 595.5h.9v.9h-.9zM456.8 596.7h.9v.9h-.9zM461.9 603.5h.9v.9h-.9zM452.6 598.4h.9v.9h-.9zM464.5 598.5h.9v.9h-.9zM464.4 600.7h.9v.9h-.9zM465.2 595.4h.9v.9h-.9zM465.1 596.6h.9v.9h-.9zM460.7 595.8h.9v.9h-.9zM459.3 599.2h.9v.9h-.9zM462.5 594.4h.9v.9h-.9zM455.4 601.4h.9v.9h-.9zM456.7 600.2h.9v.9h-.9zM461.7 594.7h.9v.9h-.9zM458.1 604.9h.9v.9h-.9zM451.6 600.1h.9v.9h-.9zM465.7 594.9h.9v.9h-.9zM466.4 596.3h.9v.9h-.9zM450.2 605.2h.9v.9h-.9zM463.9 593.5h.9v.9h-.9zM458.4 603.0h.9v.9h-.9zM462.2 597.1h.9v.9h-.9zM450.6 607.6h.9v.9h-.9zM455.7 605.8h.9v.9h-.9zM448.8 604.7h.9v.9h-.9zM460.4 600.1h.9v.9h-.9zM464.4 593.6h.9v.9h-.9z" fill="#3a8a43" fill-opacity="0.3"/>
<path d="M462.6 593.2h.9v.9h-.9zM464.9 596.6h.9v.9h-.9zM459.0 600.3h.9v.9h-.9zM456.8 609.4h.9v.9h-.9zM466.1 597.0h.9v.9h-.9zM456.4 600.8h.9v.9h-.9zM450.3 601.5h.9v.9h-.9zM462.0 597.8h.9v.9h-.9zM444.7 605.9h.9v.9h-.9zM464.7 596.1h.9v.9h-.9zM464.2 596.1h.9v.9h-.9zM466.1 597.8h.9v.9h-.9zM454.7 598.9h.9v.9h-.9zM450.2 605.8h.9v.9h-.9zM462.3 599.3h.9v.9h-.9zM451.2 598.0h.9v.9h-.9zM458.2 598.6h.9v.9h-.9zM458.7 600.9h.9v.9h-.9zM456.3 599.0h.9v.9h-.9zM464.7 594.1h.9v.9h-.9zM452.7 609.6h.9v.9h-.9zM462.2 599.0h.9v.9h-.9zM459.8 604.9h.9v.9h-.9zM453.1 599.5h.9v.9h-.9zM461.1 593.5h.9v.9h-.9zM462.0 596.0h.9v.9h-.9zM458.0 600.9h.9v.9h-.9zM457.0 602.5h.9v.9h-.9zM461.2 596.4h.9v.9h-.9zM461.7 597.0h.9v.9h-.9zM463.7 594.8h.9v.9h-.9zM462.0 593.0h.9v.9h-.9zM463.9 595.8h.9v.9h-.9zM462.6 600.4h.9v.9h-.9zM460.5 602.1h.9v.9h-.9zM466.3 595.8h.9v.9h-.9zM455.1 606.6h.9v.9h-.9zM463.0 596.3h.9v.9h-.9zM466.5 599.4h.9v.9h-.9zM461.8 594.9h.9v.9h-.9zM462.1 593.6h.9v.9h-.9zM460.2 599.3h.9v.9h-.9zM464.0 597.2h.9v.9h-.9zM460.6 597.1h.9v.9h-.9zM456.5 600.8h.9v.9h-.9zM459.9 598.8h.9v.9h-.9zM452.9 598.6h.9v.9h-.9zM454.5 608.4h.9v.9h-.9zM453.7 599.4h.9v.9h-.9zM459.4 599.4h.9v.9h-.9zM461.9 594.9h.9v.9h-.9zM458.3 600.8h.9v.9h-.9z" fill="#3a8a43" fill-opacity="0.3"/>
<path d="M462.1 600.9h.9v.9h-.9zM455.2 598.3h.9v.9h-.9zM448.4 603.7h.9v.9h-.9zM457.4 605.6h.9v.9h-.9zM461.6 598.5h.9v.9h-.9zM455.2 603.3h.9v.9h-.9zM463.9 594.7h.9v.9h-.9zM460.3 600.5h.9v.9h-.9zM448.6 602.9h.9v.9h-.9zM459.1 600.0h.9v.9h-.9zM460.5 595.6h.9v.9h-.9zM464.0 596.6h.9v.9h-.9zM460.6 596.6h.9v.9h-.9zM458.3 600.5h.9v.9h-.9zM464.7 597.7h.9v.9h-.9zM464.5 596.6h.9v.9h-.9zM467.6 597.4h.9v.9h-.9zM460.4 598.4h.9v.9h-.9zM449.4 603.4h.9v.9h-.9zM461.5 594.8h.9v.9h-.9zM461.8 599.5h.9v.9h-.9zM464.2 599.1h.9v.9h-.9zM456.1 600.4h.9v.9h-.9zM452.9 602.3h.9v.9h-.9zM464.9 596.0h.9v.9h-.9zM450.1 605.4h.9v.9h-.9zM455.9 601.6h.9v.9h-.9zM463.6 597.9h.9v.9h-.9zM446.6 602.0h.9v.9h-.9zM465.2 599.5h.9v.9h-.9zM465.3 597.8h.9v.9h-.9zM465.3 599.9h.9v.9h-.9zM460.5 600.0h.9v.9h-.9zM463.6 595.8h.9v.9h-.9zM463.2 594.8h.9v.9h-.9zM465.8 598.3h.9v.9h-.9zM457.5 598.4h.9v.9h-.9zM460.5 600.9h.9v.9h-.9zM448.5 601.5h.9v.9h-.9zM462.8 595.6h.9v.9h-.9zM464.6 597.4h.9v.9h-.9zM462.3 599.7h.9v.9h-.9zM460.7 599.7h.9v.9h-.9zM463.7 596.3h.9v.9h-.9zM447.2 599.8h.9v.9h-.9zM460.9 601.1h.9v.9h-.9zM459.5 598.5h.9v.9h-.9zM464.0 594.4h.9v.9h-.9zM459.3 600.7h.9v.9h-.9zM457.8 602.2h.9v.9h-.9zM465.4 596.5h.9v.9h-.9z" fill="#3a8a43" fill-opacity="0.3"/>
<path d="M466.2 596.4h.9v.9h-.9zM458.2 601.0h.9v.9h-.9zM465.2 599.4h.9v.9h-.9zM465.1 595.6h.9v.9h-.9zM456.0 602.4h.9v.9h-.9zM464.7 595.9h.9v.9h-.9zM456.9 600.2h.9v.9h-.9zM457.5 596.4h.9v.9h-.9zM459.5 601.1h.9v.9h-.9zM461.2 603.0h.9v.9h-.9zM460.7 593.7h.9v.9h-.9zM465.0 597.0h.9v.9h-.9zM466.3 599.9h.9v.9h-.9zM461.3 594.7h.9v.9h-.9zM456.2 600.5h.9v.9h-.9zM461.2 602.2h.9v.9h-.9zM460.0 598.8h.9v.9h-.9zM466.4 596.6h.9v.9h-.9zM465.9 595.2h.9v.9h-.9zM463.9 595.8h.9v.9h-.9zM460.6 603.8h.9v.9h-.9zM466.0 598.3h.9v.9h-.9zM462.3 596.6h.9v.9h-.9zM461.3 598.3h.9v.9h-.9zM464.6 598.1h.9v.9h-.9zM466.4 600.4h.9v.9h-.9zM456.0 602.1h.9v.9h-.9zM464.7 599.4h.9v.9h-.9zM466.7 597.6h.9v.9h-.9zM458.2 602.0h.9v.9h-.9zM451.1 610.3h.9v.9h-.9zM458.7 602.5h.9v.9h-.9zM448.7 605.5h.9v.9h-.9zM466.8 600.9h.9v.9h-.9zM460.1 601.9h.9v.9h-.9zM449.5 610.1h.9v.9h-.9zM458.8 601.3h.9v.9h-.9zM467.0 601.1h.9v.9h-.9zM464.1 600.2h.9v.9h-.9zM465.7 598.6h.9v.9h-.9zM460.2 594.7h.9v.9h-.9zM459.3 598.8h.9v.9h-.9zM462.0 596.7h.9v.9h-.9zM463.5 599.0h.9v.9h-.9zM461.7 599.6h.9v.9h-.9zM450.9 605.8h.9v.9h-.9zM462.1 598.3h.9v.9h-.9zM459.4 593.0h.9v.9h-.9zM454.2 603.5h.9v.9h-.9zM448.2 606.6h.9v.9h-.9zM459.3 602.8h.9v.9h-.9z" fill="#3a8a43" fill-opacity="0.3"/>
<path d="M463.4 600.0h.9v.9h-.9zM456.3 606.1h.9v.9h-.9zM465.9 595.3h.9v.9h-.9zM467.6 598.1h.9v.9h-.9zM464.2 598.4h.9v.9h-.9zM465.9 595.4h.9v.9h-.9zM460.1 598.1h.9v.9h-.9zM465.0 598.4h.9v.9h-.9zM450.0 600.2h.9v.9h-.9zM464.1 596.0h.9v.9h-.9zM462.1 595.8h.9v.9h-.9zM459.0 602.0h.9v.9h-.9zM457.8 602.2h.9v.9h-.9zM449.7 599.4h.9v.9h-.9zM457.4 601.5h.9v.9h-.9zM460.2 602.3h.9v.9h-.9zM463.0 599.4h.9v.9h-.9zM459.6 594.5h.9v.9h-.9zM450.9 604.4h.9v.9h-.9zM444.7 602.6h.9v.9h-.9zM466.0 595.2h.9v.9h-.9zM464.4 594.9h.9v.9h-.9zM457.2 596.9h.9v.9h-.9zM462.9 595.3h.9v.9h-.9zM443.7 602.3h.9v.9h-.9zM466.1 595.6h.9v.9h-.9zM458.9 599.6h.9v.9h-.9zM464.6 595.2h.9v.9h-.9zM455.6 600.4h.9v.9h-.9zM458.8 607.5h.9v.9h-.9zM468.0 598.3h.9v.9h-.9zM463.3 597.6h.9v.9h-.9zM466.5 596.8h.9v.9h-.9zM452.7 608.5h.9v.9h-.9zM455.8 607.5h.9v.9h-.9zM464.4 594.2h.9v.9h-.9zM450.2 606.1h.9v.9h-.9zM464.5 594.5h.9v.9h-.9zM464.5 600.1h.9v.9h-.9zM447.8 606.8h.9v.9h-.9zM463.7 596.1h.9v.9h-.9zM457.7 599.3h.9v.9h-.9zM465.2 596.4h.9v.9h-.9zM453.5 598.9h.9v.9h-.9zM459.0 602.9h.9v.9h-.9zM450.0 610.1h.9v.9h-.9zM453.0 608.5h.9v.9h-.9zM466.2 598.7h.9v.9h-.9zM452.1 603.8h.9v.9h-.9zM464.9 594.9h.9v.9h-.9zM464.3 597.8h.9v.9h-.9z" fill="#3a8a43" fill-opacity="0.3"/>
<path d="M462.5 598.2h.9v.9h-.9zM459.2 600.3h.9v.9h-.9zM464.6 595.1h.9v.9h-.9zM462.1 602.0h.9v.9h-.9zM452.5 602.6h.9v.9h-.9zM455.4 602.3h.9v.9h-.9zM464.2 602.8h.9v.9h-.9zM463.4 599.6h.9v.9h-.9zM464.1 596.4h.9v.9h-.9zM465.3 598.2h.9v.9h-.9zM453.1 602.8h.9v.9h-.9zM459.5 603.8h.9v.9h-.9zM451.3 601.8h.9v.9h-.9zM460.5 600.1h.9v.9h-.9zM459.7 598.0h.9v.9h-.9zM462.1 597.8h.9v.9h-.9zM459.4 605.0h.9v.9h-.9zM465.5 597.5h.9v.9h-.9zM457.1 601.3h.9v.9h-.9zM455.8 606.2h.9v.9h-.9zM455.0 600.2h.9v.9h-.9zM466.1 595.6h.9v.9h-.9zM465.1 594.7h.9v.9h-.9zM464.8 596.4h.9v.9h-.9zM449.6 603.9h.9v.9h-.9zM456.2 603.3h.9v.9h-.9zM464.7 599.5h.9v.9h-.9zM455.5 600.1h.9v.9h-.9zM463.6 595.6h.9v.9h-.9zM457.1 593.6h.9v.9h-.9zM453.6 601.4h.9v.9h-.9zM453.2 603.8h.9v.9h-.9zM465.2 595.0h.9v.9h-.9zM465.0 594.2h.9v.9h-.9zM456.5 602.8h.9v.9h-.9zM460.3 610.3h.9v.9h-.9zM466.7 598.9h.9v.9h-.9zM454.1 608.6h.9v.9h-.9zM460.3 597.9h.9v.9h-.9zM458.4 604.6h.9v.9h-.9zM452.9 606.2h.9v.9h-.9zM464.1 595.7h.9v.9h-.9zM461.5 599.6h.9v.9h-.9zM464.5 593.8h.9v.9h-.9zM458.1 603.4h.9v.9h-.9zM462.3 597.4h.9v.9h-.9zM462.5 599.6h.9v.9h-.9zM462.4 601.6h.9v.9h-.9zM456.7 602.0h.9v.9h-.9zM457.2 603.4h.9v.9h-.9zM465.3 602.1h.9v.9h-.9z" fill="#3a8a43" fill-opacity="0.3"/>
<path d="M456.8 599.9h.9v.9h-.9zM457.4 599.6h.9v.9h-.9zM450.4 599.1h.9v.9h-.9zM459.2 599.3h.9v.9h-.9zM462.3 594.7h.9v.9h-.9zM465.0 596.4h.9v.9h-.9zM464.7 606.9h.9v.9h-.9zM466.3 596.6h.9v.9h-.9zM457.2 598.1h.9v.9h-.9zM461.4 600.3h.9v.9h-.9zM458.1 597.3h.9v.9h-.9zM462.1 598.9h.9v.9h-.9zM461.2 595.9h.9v.9h-.9zM460.6 606.3h.9v.9h-.9zM463.1 597.1h.9v.9h-.9zM446.2 602.0h.9v.9h-.9zM451.8 607.1h.9v.9h-.9zM463.9 594.7h.9v.9h-.9zM462.0 592.7h.9v.9h-.9zM453.1 602.4h.9v.9h-.9zM460.1 604.0h.9v.9h-.9zM461.8 601.4h.9v.9h-.9zM464.4 594.4h.9v.9h-.9zM450.3 601.2h.9v.9h-.9zM466.7 597.2h.9v.9h-.9zM448.6 608.0h.9v.9h-.9zM456.8 596.2h.9v.9h-.9zM458.7 599.7h.9v.9h-.9zM455.8 607.9h.9v.9h-.9zM458.9 604.1h.9v.9h-.9zM464.0 599.7h.9v.9h-.9zM462.6 598.3h.9v.9h-.9zM465.2 600.0h.9v.9h-.9zM463.9 596.8h.9v.9h-.9zM462.1 600.5h.9v.9h-.9zM460.3 603.2h.9v.9h-.9zM465.5 597.3h.9v.9h-.9zM465.6 596.9h.9v.9h-.9zM452.8 603.3h.9v.9h-.9zM458.1 599.5h.9v.9h-.9zM462.2 603.9h.9v.9h-.9zM446.8 605.9h.9v.9h-.9zM457.9 598.4h.9v.9h-.9zM446.1 602.1h.9v.9h-.9zM465.4 596.9h.9v.9h-.9zM465.0 595.3h.9v.9h-.9zM459.5 599.7h.9v.9h-.9zM457.7 598.6h.9v.9h-.9zM466.6 599.8h.9v.9h-.9zM458.8 600.2h.9v.9h-.9zM458.5 607.0h.9v.9h-.9z" fill="#3a8a43" fill-opacity="0.3"/>
<path d="M468.1,595.8 L467.1,603.8 L456.1,605.8 L454.1,601.8 Z" fill="#24632b" fill-opacity="0.7" filter="url(#bl)"/>
<rect x="442.60" y="590.40" width="30.30" height="22.40" fill="none" stroke="#8f93a2" stroke-width="1.0"/>
<text x="472.70" y="621.40" font-size="7.0" text-anchor="end" fill="#555" font-family="Liberation Serif, serif" textLength="10.2" lengthAdjust="spacingAndGlyphs">70.6</text>
<text x="472.50" y="640.70" font-size="6.6" text-anchor="end" fill="#111" stroke="#111" stroke-width="0.25" font-family="Liberation Serif, serif" textLength="18" lengthAdjust="spacingAndGlyphs">P95H/+</text>
<rect x="0.5" y="0.5" width="519" height="663" fill="none" stroke="#000" stroke-width="1"/>
</svg>
</body></html>
